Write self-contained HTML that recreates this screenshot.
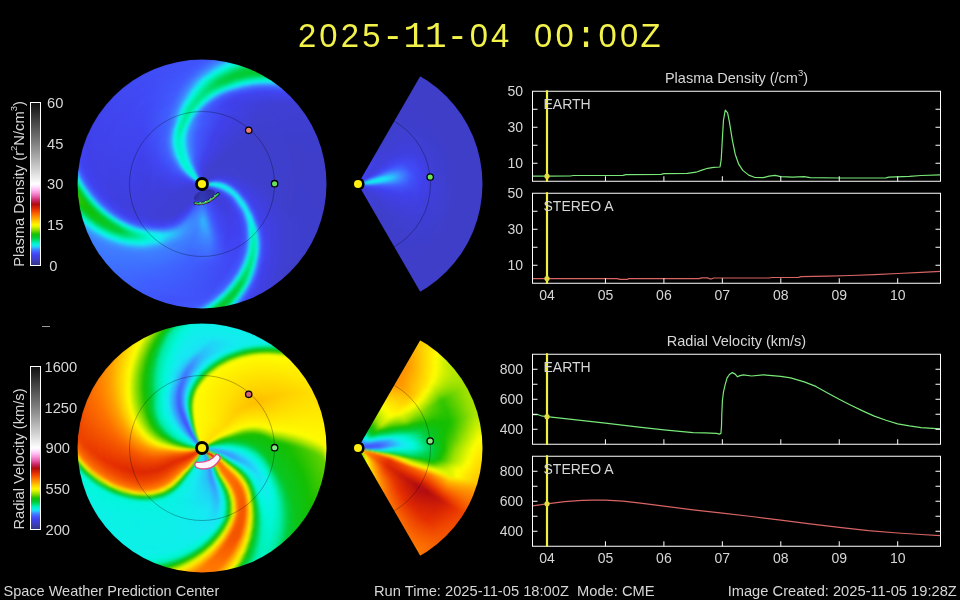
<!DOCTYPE html>
<html><head><meta charset="utf-8"><title>WSA-Enlil</title>
<style>
html,body{margin:0;padding:0;background:#000;}
body{width:960px;height:600px;position:relative;overflow:hidden;font-family:'Liberation Sans', sans-serif;color:#d6d6d6;font-size:14.7px;}
.a{position:absolute;}
.dk i{position:absolute;display:block;border-radius:50%;}
.t{position:absolute;white-space:pre;line-height:16px;}
.r{text-align:right;}
.c{text-align:center;}
sup{font-size:9.5px;line-height:0;position:relative;top:-1px;vertical-align:super;}
</style></head><body>
<div id="w" style="position:absolute;left:0;top:0;width:960px;height:600px;will-change:transform;">

<div class="a" style="left:0;top:14.4px;width:960px;height:44px;line-height:44px;color:#f2f24a;"><span class="a" style="left:287px;width:40px;top:0;text-align:center;font-family:'Liberation Sans', sans-serif;font-size:32.8px;">2</span><span class="a" style="left:308.47px;width:40px;top:0;text-align:center;font-family:'Liberation Sans', sans-serif;font-size:32.8px;">0</span><span class="a" style="left:329.94px;width:40px;top:0;text-align:center;font-family:'Liberation Sans', sans-serif;font-size:32.8px;">2</span><span class="a" style="left:351.41px;width:40px;top:0;text-align:center;font-family:'Liberation Sans', sans-serif;font-size:32.8px;">5</span><span class="a" style="left:372.88px;width:40px;top:0;text-align:center;font-family:'Liberation Mono', monospace;font-size:36px;margin-top:1.8px;">-</span><span class="a" style="left:394.35px;width:40px;top:0;text-align:center;font-family:'Liberation Mono', monospace;font-size:36px;margin-top:1.8px;">1</span><span class="a" style="left:415.82px;width:40px;top:0;text-align:center;font-family:'Liberation Mono', monospace;font-size:36px;margin-top:1.8px;">1</span><span class="a" style="left:437.29px;width:40px;top:0;text-align:center;font-family:'Liberation Mono', monospace;font-size:36px;margin-top:1.8px;">-</span><span class="a" style="left:458.76px;width:40px;top:0;text-align:center;font-family:'Liberation Sans', sans-serif;font-size:32.8px;">0</span><span class="a" style="left:480.23px;width:40px;top:0;text-align:center;font-family:'Liberation Sans', sans-serif;font-size:32.8px;">4</span><span class="a" style="left:523.17px;width:40px;top:0;text-align:center;font-family:'Liberation Sans', sans-serif;font-size:32.8px;">0</span><span class="a" style="left:544.64px;width:40px;top:0;text-align:center;font-family:'Liberation Sans', sans-serif;font-size:32.8px;">0</span><span class="a" style="left:566.11px;width:40px;top:0;text-align:center;font-family:'Liberation Mono', monospace;font-size:36px;margin-top:1.8px;">:</span><span class="a" style="left:587.58px;width:40px;top:0;text-align:center;font-family:'Liberation Sans', sans-serif;font-size:32.8px;">0</span><span class="a" style="left:609.05px;width:40px;top:0;text-align:center;font-family:'Liberation Sans', sans-serif;font-size:32.8px;">0</span><span class="a" style="left:630.52px;width:40px;top:0;text-align:center;font-family:'Liberation Sans', sans-serif;font-size:32.8px;">Z</span></div>
<div class="a" style="left:0;top:0;width:960px;height:600px;clip-path:circle(124.5px at 202px 184px);"><div class="dk a" style="left:0;top:0;width:960px;height:600px;filter:blur(0.9px);">
<i style="left:75.5px;top:57.5px;width:253px;height:253px;background:conic-gradient(from 40.12deg,#3f65ff 0deg,#4043f1 4deg,#3f3fd4 12deg,#3e3ec9 44deg,#3f3fcf 102deg,#4040e7 118deg,#4041f0 120deg,#404df8 122deg,#3f6cff 124deg,#2abffa 126deg,#00f4c8 128deg,#00d65a 130deg,#07c827 132deg,#08c724 134deg,#00d148 136deg,#00edab 138deg,#15eaf1 140deg,#3c93ff 142deg,#3f6bff 144deg,#4058fe 146deg,#4051fa 158deg,#3f64ff 180deg,#3d81ff 206deg,#3b99ff 210deg,#11eded 214deg,#00f2c2 216deg,#00dd71 218deg,#06c92b 220deg,#12c006 222deg,#32c500 224deg,#30c500 226deg,#10c10d 228deg,#00ce3e 230deg,#00eeae 232deg,#18e8f5 234deg,#3d87ff 236deg,#4059fe 238deg,#4042f1 242deg,#4040eb 252deg,#4054fb 320deg,#405bff 324deg,#3e77ff 328deg,#3d8dff 330deg,#16e9f3 334deg,#01f7db 336deg,#00cf43 342deg,#04ca30 344deg,#05c92c 346deg,#03cb34 348deg,#00d556 350deg,#00f7d7 354deg,#1cdef6 356deg,#3c90ff 358deg,#3f65ff 360deg)"></i>
<i style="left:76.5px;top:58.5px;width:251px;height:251px;background:conic-gradient(from 39.38deg,#3f65ff 0deg,#4043f1 4deg,#3f3fd4 12deg,#3e3ec9 44deg,#3f3fcf 102deg,#4040e7 118deg,#4041f0 120deg,#404df8 122deg,#3f6cff 124deg,#2abffa 126deg,#00f4c8 128deg,#00d65a 130deg,#07c827 132deg,#08c724 134deg,#00d148 136deg,#00edab 138deg,#15eaf1 140deg,#3c93ff 142deg,#3f6bff 144deg,#4058fe 146deg,#4051fa 158deg,#3f64ff 180deg,#3d81ff 206deg,#3b99ff 210deg,#11eded 214deg,#00f2c2 216deg,#00dd71 218deg,#06c92b 220deg,#12c006 222deg,#32c500 224deg,#30c500 226deg,#10c10d 228deg,#00ce3e 230deg,#00eeae 232deg,#18e8f5 234deg,#3d87ff 236deg,#4059fe 238deg,#4042f1 242deg,#4040eb 252deg,#4054fb 320deg,#405bff 324deg,#3e77ff 328deg,#3d8dff 330deg,#16e9f3 334deg,#01f7db 336deg,#00cf43 342deg,#04ca30 344deg,#05c92c 346deg,#03cb34 348deg,#00d556 350deg,#00f7d7 354deg,#1cdef6 356deg,#3c90ff 358deg,#3f65ff 360deg)"></i>
<i style="left:77.5px;top:59.5px;width:249px;height:249px;background:conic-gradient(from 38.62deg,#3f65ff 0deg,#4043f2 4deg,#3f3fd4 12deg,#3e3ec9 44deg,#3f3fcf 102deg,#4040e7 118deg,#4040f0 120deg,#404df7 122deg,#3f69ff 124deg,#2cbafb 126deg,#00f5cd 128deg,#00d75f 130deg,#07c828 132deg,#08c725 134deg,#00d14a 136deg,#00edac 138deg,#15eaf2 140deg,#3c92ff 142deg,#3f6bff 144deg,#4058fe 146deg,#4051fa 158deg,#3f66ff 182deg,#3d81ff 206deg,#3b98ff 210deg,#11ecee 214deg,#00f3c4 216deg,#05c92c 220deg,#11c008 222deg,#2dc400 224deg,#2cc400 226deg,#0fc20f 228deg,#00cf41 230deg,#00eeb1 232deg,#19e6f5 234deg,#3d86ff 236deg,#4059fe 238deg,#4042f1 242deg,#4040eb 252deg,#4054fb 320deg,#405aff 324deg,#3e76ff 328deg,#3d8cff 330deg,#2fb3fb 332deg,#17e9f4 334deg,#02f7dc 336deg,#00d045 342deg,#03ca32 344deg,#05c92d 346deg,#02cb35 348deg,#00d556 350deg,#00f7d7 354deg,#1cdef6 356deg,#3c90ff 358deg,#3f65ff 360deg)"></i>
<i style="left:78.5px;top:60.5px;width:247px;height:247px;background:conic-gradient(from 37.88deg,#3f65ff 0deg,#4043f2 4deg,#3f3fd5 12deg,#3e3ec9 40deg,#3f3fcf 102deg,#4040e7 118deg,#4040f0 120deg,#404cf7 122deg,#3f67ff 124deg,#2fb4fb 126deg,#00f6d2 128deg,#00d963 130deg,#06c82a 132deg,#07c826 134deg,#00d24b 136deg,#00edad 138deg,#15eaf2 140deg,#3c91ff 142deg,#3f6aff 144deg,#4057fd 146deg,#4052fa 160deg,#3f66ff 182deg,#3d81ff 206deg,#3b98ff 210deg,#12ecee 214deg,#00f3c5 216deg,#05ca2e 220deg,#11c10a 222deg,#29c300 224deg,#28c300 226deg,#0ec211 228deg,#00d045 230deg,#00efb3 232deg,#1ae4f6 234deg,#3d86ff 236deg,#4058fe 238deg,#4042f1 242deg,#4040ea 252deg,#4054fb 320deg,#405aff 324deg,#3d8aff 330deg,#30b0fc 332deg,#18e8f5 334deg,#03f6de 336deg,#00d148 342deg,#03cb33 344deg,#05c92e 346deg,#02cb35 348deg,#00d557 350deg,#00f7d7 354deg,#1cdef6 356deg,#3c90ff 358deg,#3f65ff 360deg)"></i>
<i style="left:79.5px;top:61.5px;width:245px;height:245px;background:conic-gradient(from 37.12deg,#3f65ff 0deg,#4043f2 4deg,#3f3fd5 12deg,#3e3ec9 40deg,#3f3fcf 102deg,#4040e6 118deg,#4040ef 120deg,#404bf6 122deg,#3f64ff 124deg,#31affc 126deg,#00f7d6 128deg,#00da68 130deg,#05c92c 132deg,#07c827 134deg,#00d24d 136deg,#00eeae 138deg,#16e9f3 140deg,#3c90ff 142deg,#3f69ff 144deg,#4057fd 146deg,#4052fa 160deg,#3f68ff 184deg,#3d81ff 206deg,#3b97ff 210deg,#12ecef 214deg,#00f4c7 216deg,#04ca30 220deg,#10c10c 222deg,#24c200 224deg,#23c200 226deg,#0ec313 228deg,#00d148 230deg,#00efb5 232deg,#1be2f6 234deg,#3d85ff 236deg,#4058fe 238deg,#4042f1 242deg,#4040eb 254deg,#4054fb 320deg,#405aff 324deg,#3e74ff 328deg,#3d89ff 330deg,#32aefc 332deg,#1ae4f5 334deg,#04f5df 336deg,#00d14b 342deg,#03cb34 344deg,#05ca2e 346deg,#02cb36 348deg,#00d558 350deg,#00f7d7 354deg,#1cdef6 356deg,#3c90ff 358deg,#3f65ff 360deg)"></i>
<i style="left:80.5px;top:62.5px;width:243px;height:243px;background:conic-gradient(from 36.38deg,#3f65ff 0deg,#4043f2 4deg,#3f3fd5 12deg,#3e3ec9 42deg,#3f3fcf 102deg,#4040e6 118deg,#404af6 122deg,#3f62ff 124deg,#33a9fd 126deg,#01f8db 128deg,#00dc6d 130deg,#05c92d 132deg,#07c828 134deg,#00d24e 136deg,#00eeb0 138deg,#16e9f3 140deg,#3c8fff 142deg,#3f68ff 144deg,#4057fd 146deg,#4052fa 160deg,#3f68ff 184deg,#3d80ff 206deg,#3c97ff 210deg,#13ecef 214deg,#00f4c9 216deg,#04ca31 220deg,#0fc20e 222deg,#20c100 224deg,#1fc100 226deg,#0dc315 228deg,#00d24b 230deg,#00f0b8 232deg,#1ce0f6 234deg,#3d84ff 236deg,#4058fe 238deg,#4042f1 242deg,#4040eb 254deg,#4054fb 320deg,#3f64ff 326deg,#3d88ff 330deg,#33abfc 332deg,#1be1f6 334deg,#06f4e0 336deg,#00e07d 340deg,#00d24e 342deg,#02cb35 344deg,#04ca2f 346deg,#02cc36 348deg,#00d658 350deg,#00f7d7 354deg,#1cdef6 356deg,#3c90ff 358deg,#3f65ff 360deg)"></i>
<i style="left:81.5px;top:63.5px;width:241px;height:241px;background:conic-gradient(from 35.62deg,#3f65ff 0deg,#4043f2 4deg,#3f3fd6 12deg,#3e3ec9 38deg,#3f3fcf 102deg,#4040e6 118deg,#404af6 122deg,#405fff 124deg,#36a4fd 126deg,#02f6dd 128deg,#00dd72 130deg,#04ca2f 132deg,#06c829 134deg,#00d34f 136deg,#00eeb1 138deg,#17e9f4 140deg,#3d8eff 142deg,#3f67ff 144deg,#4056fd 146deg,#4052fb 162deg,#3f6aff 186deg,#3d80ff 206deg,#3c96ff 210deg,#13ebef 214deg,#00f4ca 216deg,#03cb33 220deg,#0fc210 222deg,#1cc000 224deg,#1ac000 226deg,#0cc417 228deg,#00d34f 230deg,#00f0ba 232deg,#1ddef6 234deg,#3d83ff 236deg,#4058fe 238deg,#4042f1 242deg,#4040e9 250deg,#4053fb 320deg,#4059ff 324deg,#3d87ff 330deg,#34a8fd 332deg,#1cdef6 334deg,#07f4e2 336deg,#00e180 340deg,#00d350 342deg,#02cc36 344deg,#04ca30 346deg,#02cc37 348deg,#00d659 350deg,#00f7d7 354deg,#1cdef6 356deg,#3c90ff 358deg,#3f65ff 360deg)"></i>
<i style="left:82.5px;top:64.5px;width:239px;height:239px;background:conic-gradient(from 34.88deg,#3f65ff 0deg,#4043f2 4deg,#3f3fd6 12deg,#3e3ec9 42deg,#3f3fcf 102deg,#4040e5 118deg,#4049f5 122deg,#405dff 124deg,#389ffe 126deg,#04f5df 128deg,#00df76 130deg,#04ca31 132deg,#06c92a 134deg,#00d351 136deg,#00efb2 138deg,#17e8f4 140deg,#3d8dff 142deg,#3f67ff 144deg,#4056fd 146deg,#4052fb 162deg,#3f6aff 186deg,#3d80ff 206deg,#3c96ff 210deg,#14ebf0 214deg,#00f5cc 216deg,#02cb35 220deg,#0ec312 222deg,#17bf00 224deg,#16be00 226deg,#0cc419 228deg,#00d452 230deg,#00f1bc 232deg,#1ddcf7 234deg,#3d82ff 236deg,#4057fe 238deg,#4041f1 242deg,#4040e9 250deg,#4053fb 320deg,#3f63ff 326deg,#3d86ff 330deg,#35a6fd 332deg,#1edbf7 334deg,#08f3e3 336deg,#00f0b8 338deg,#00d453 342deg,#02cc37 344deg,#04ca31 346deg,#02cc37 348deg,#00d65a 350deg,#00f7d8 354deg,#1cdef6 356deg,#3c90ff 358deg,#3f65ff 360deg)"></i>
<i style="left:83.5px;top:65.5px;width:237px;height:237px;background:conic-gradient(from 34.12deg,#3f66ff 0deg,#4043f2 4deg,#3f3fd6 12deg,#3e3ec9 42deg,#3f3fcf 102deg,#4040e5 118deg,#4048f5 122deg,#405aff 124deg,#3b99ff 126deg,#06f4e1 128deg,#00e07b 130deg,#03cb33 132deg,#06c92b 134deg,#00d452 136deg,#00efb3 138deg,#18e8f5 140deg,#3d8cff 142deg,#3f66ff 144deg,#4056fd 146deg,#4051fa 160deg,#3f67ff 184deg,#3d80ff 206deg,#3c96ff 210deg,#14ebf0 214deg,#00f5cd 216deg,#02cc36 220deg,#0dc314 222deg,#14be01 224deg,#14be01 226deg,#0bc51b 228deg,#00d555 230deg,#00f2bf 232deg,#1edaf7 234deg,#3d82ff 236deg,#4057fd 238deg,#4041f1 242deg,#4040e9 252deg,#404bf6 304deg,#4059fe 324deg,#3e71ff 328deg,#36a3fd 332deg,#1fd8f7 334deg,#09f2e4 336deg,#00f1bb 338deg,#00d556 342deg,#01cc38 344deg,#03cb32 346deg,#01cc38 348deg,#00d65a 350deg,#00f7d8 354deg,#1cdef6 356deg,#3c90ff 358deg,#3f66ff 360deg)"></i>
<i style="left:84.5px;top:66.5px;width:235px;height:235px;background:conic-gradient(from 33.38deg,#3f66ff 0deg,#4044f2 4deg,#3f3fd3 14deg,#3e3ec9 54deg,#3f3fd1 104deg,#4040e5 118deg,#4048f4 122deg,#4059ff 124deg,#3c95ff 126deg,#08f2e3 128deg,#00e180 130deg,#03cb34 132deg,#05c92d 134deg,#00d454 136deg,#00efb4 138deg,#19e7f5 140deg,#3d8cff 142deg,#3f65ff 144deg,#4051fa 148deg,#405bff 176deg,#3d80ff 206deg,#3c95ff 210deg,#14eaf1 214deg,#00f5cf 216deg,#01cc38 220deg,#0dc416 222deg,#13bf03 224deg,#13bf04 226deg,#0ac51d 228deg,#00d659 230deg,#00f2c1 232deg,#1fd8f7 234deg,#3d81ff 236deg,#4057fd 238deg,#4041f1 242deg,#4040e9 252deg,#404af6 304deg,#4059fe 324deg,#3d83ff 330deg,#37a1fe 332deg,#20d5f7 334deg,#0af1e5 336deg,#00f1be 338deg,#00d659 342deg,#01cc3a 344deg,#03cb33 346deg,#01cc39 348deg,#00d65b 350deg,#00f8d8 354deg,#1cdef6 356deg,#3c90ff 358deg,#3f66ff 360deg)"></i>
<i style="left:85.5px;top:67.5px;width:233px;height:233px;background:conic-gradient(from 32.62deg,#3f66ff 0deg,#4044f2 4deg,#3f3fd4 14deg,#3e3ec9 50deg,#3f3fd1 104deg,#4040e5 118deg,#4047f4 122deg,#4058fe 124deg,#3c92ff 126deg,#0af1e6 128deg,#00e385 130deg,#02cc36 132deg,#05c92e 134deg,#00d555 136deg,#00efb5 138deg,#19e5f5 140deg,#3d8bff 142deg,#3f64ff 144deg,#4055fc 146deg,#4052fa 162deg,#3e7bff 204deg,#3d87ff 208deg,#3c95ff 210deg,#2cbafb 212deg,#15eaf1 214deg,#00f6d0 216deg,#01cc3a 220deg,#0cc418 222deg,#12bf05 224deg,#12bf06 226deg,#0ac61f 228deg,#00d75c 230deg,#00f3c3 232deg,#20d6f7 234deg,#3d80ff 236deg,#4057fd 238deg,#4041f1 242deg,#4040e9 252deg,#4053fb 320deg,#4061ff 326deg,#3d82ff 330deg,#389efe 332deg,#22d2f8 334deg,#0bf1e7 336deg,#00f2c1 338deg,#00d65b 342deg,#00cd3b 344deg,#03cb34 346deg,#01cc39 348deg,#00d75c 350deg,#00f8d8 354deg,#1ddef6 356deg,#3c90ff 358deg,#3f66ff 360deg)"></i>
<i style="left:86.5px;top:68.5px;width:231px;height:231px;background:conic-gradient(from 31.88deg,#3f66ff 0deg,#4044f2 4deg,#3f3fd4 14deg,#3e3ec9 50deg,#3f3fd1 104deg,#4040e5 118deg,#4046f4 122deg,#4057fd 124deg,#3c8fff 126deg,#0cf0e8 128deg,#00e48a 130deg,#01cc38 132deg,#04ca2f 134deg,#00d556 136deg,#00f0b6 138deg,#1ae4f6 140deg,#3d8aff 142deg,#3f64ff 144deg,#4055fc 146deg,#4051fa 160deg,#3f66ff 184deg,#3e7fff 206deg,#3c95ff 210deg,#2db9fb 212deg,#15eaf2 214deg,#00f6d2 216deg,#00cd3b 220deg,#0bc51a 222deg,#12c007 224deg,#11c008 226deg,#09c621 228deg,#00d85f 230deg,#00f3c6 232deg,#21d4f7 234deg,#3e7fff 236deg,#4056fd 238deg,#4041f0 242deg,#4040e8 250deg,#4053fb 320deg,#4061ff 326deg,#3d81ff 330deg,#399cfe 332deg,#23cff8 334deg,#0cf0e8 336deg,#00f3c4 338deg,#00d75e 342deg,#00cd3c 344deg,#02cb35 346deg,#01cc3a 348deg,#00d75d 350deg,#00f8d8 354deg,#1ddef6 356deg,#3c90ff 358deg,#3f66ff 360deg)"></i>
<i style="left:87.5px;top:69.5px;width:229px;height:229px;background:conic-gradient(from 31.12deg,#3f66ff 0deg,#4044f2 4deg,#3f3fd4 14deg,#3e3ec9 52deg,#3f3fd1 104deg,#4040eb 120deg,#4056fd 124deg,#3d8cff 126deg,#0eefea 128deg,#00e68f 130deg,#01cc3a 132deg,#04ca30 134deg,#00d558 136deg,#00f0b7 138deg,#1be2f6 140deg,#3d89ff 142deg,#3f63ff 144deg,#4051fa 148deg,#405aff 176deg,#3e7fff 206deg,#3c94ff 210deg,#2db8fb 212deg,#16eaf2 214deg,#00f6d4 216deg,#00ce3e 220deg,#0bc51c 222deg,#11c009 224deg,#11c10a 226deg,#08c723 228deg,#00d963 230deg,#00f4c8 232deg,#22d2f8 234deg,#3e7eff 236deg,#4056fd 238deg,#4041f0 242deg,#4040e8 252deg,#4048f5 296deg,#4058fe 324deg,#3f6eff 328deg,#3a9aff 332deg,#24cdf8 334deg,#0defe9 336deg,#00f3c6 338deg,#00d861 342deg,#00ce3e 344deg,#02cb36 346deg,#01cd3a 348deg,#00d75d 350deg,#00f8d8 354deg,#1ddef6 356deg,#3c90ff 358deg,#3f66ff 360deg)"></i>
<i style="left:88.5px;top:70.5px;width:227px;height:227px;background:conic-gradient(from 30.38deg,#3f66ff 0deg,#4044f2 4deg,#3f3fd5 14deg,#3e3ec9 46deg,#3f3fcf 102deg,#4040e4 118deg,#4045f3 122deg,#4055fc 124deg,#3d89ff 126deg,#10edec 128deg,#00e794 130deg,#00cd3c 132deg,#04ca31 134deg,#00d659 136deg,#00f0b9 138deg,#1be1f6 140deg,#3d88ff 142deg,#3f62ff 144deg,#4050f9 148deg,#4060ff 180deg,#3e7fff 206deg,#3c94ff 210deg,#2db8fb 212deg,#16e9f3 214deg,#00f7d5 216deg,#00cf41 220deg,#0ac61e 222deg,#10c10c 224deg,#10c10c 226deg,#08c725 228deg,#00da66 230deg,#00f4ca 232deg,#23cff8 234deg,#3e7dff 236deg,#4056fd 238deg,#4040f0 242deg,#4040e8 252deg,#4048f5 296deg,#4058fe 324deg,#3e7fff 330deg,#3b97ff 332deg,#25caf9 334deg,#0eeeea 336deg,#00f4c9 338deg,#00d964 342deg,#00ce40 344deg,#02cc37 346deg,#00cd3b 348deg,#00d75e 350deg,#00f8d9 354deg,#1ddef6 356deg,#3c90ff 358deg,#3f66ff 360deg)"></i>
<i style="left:89.5px;top:71.5px;width:225px;height:225px;background:conic-gradient(from 29.62deg,#3f66ff 0deg,#4044f3 4deg,#3f3fd5 14deg,#3e3ec9 46deg,#3f3fcf 102deg,#4040e4 118deg,#4045f3 122deg,#4054fc 124deg,#3d86ff 126deg,#12ecee 128deg,#00e998 130deg,#00ce3f 132deg,#03cb32 134deg,#00d65b 136deg,#00f0ba 138deg,#1cdff6 140deg,#3d87ff 142deg,#4061ff 144deg,#4050f9 148deg,#405fff 180deg,#3e7fff 206deg,#3c94ff 210deg,#2eb7fb 212deg,#16e9f3 214deg,#00f7d7 216deg,#00d044 220deg,#09c620 222deg,#0fc10e 224deg,#0fc20f 226deg,#07c827 228deg,#00db6a 230deg,#00f5cd 232deg,#24cdf8 234deg,#3e7dff 236deg,#4056fd 238deg,#4040f0 242deg,#4040e8 252deg,#4051fa 318deg,#405fff 326deg,#3c95ff 332deg,#27c7f9 334deg,#10eeeb 336deg,#00f5cc 338deg,#00da66 342deg,#00cf43 344deg,#02cc37 346deg,#00cd3c 348deg,#00d75f 350deg,#00f8d9 354deg,#1ddef6 356deg,#3c90ff 358deg,#3f66ff 360deg)"></i>
<i style="left:90.5px;top:72.5px;width:223px;height:223px;background:conic-gradient(from 28.88deg,#3f67ff 0deg,#4050f9 2deg,#4040eb 6deg,#3f3fd3 16deg,#3e3ec9 60deg,#3f3fd1 104deg,#4040ea 120deg,#4044f2 122deg,#4053fb 124deg,#3d83ff 126deg,#14ebf1 128deg,#00ea9d 130deg,#00cf43 132deg,#03cb33 134deg,#00d75c 136deg,#00f1bb 138deg,#1cdef6 140deg,#3d86ff 142deg,#4060ff 144deg,#4050f9 148deg,#405fff 180deg,#3e7fff 206deg,#3c93ff 210deg,#2eb6fb 212deg,#17e9f4 214deg,#00f8d8 216deg,#00d148 220deg,#09c722 222deg,#0fc210 224deg,#0ec211 226deg,#06c829 228deg,#00dc6d 230deg,#00f5cf 232deg,#25cbf8 234deg,#3e7cff 236deg,#4055fc 238deg,#4040f0 242deg,#4040e8 252deg,#4051fa 318deg,#405fff 326deg,#3e7dff 330deg,#3c94ff 332deg,#11eded 336deg,#00f5cf 338deg,#00db69 342deg,#00d045 344deg,#01cc38 346deg,#00cd3d 348deg,#00d860 350deg,#00f8d9 354deg,#1ddef6 356deg,#3c91ff 358deg,#3f67ff 360deg)"></i>
<i style="left:91.5px;top:73.5px;width:221px;height:221px;background:conic-gradient(from 28.12deg,#3f67ff 0deg,#4050f9 2deg,#4040eb 6deg,#3f3fd3 16deg,#3e3ec9 60deg,#3f3fd1 104deg,#4040ea 120deg,#4044f2 122deg,#4053fb 124deg,#3d80ff 126deg,#16e9f3 128deg,#00eba1 130deg,#00d046 132deg,#03cb34 134deg,#00d75e 136deg,#00f1bc 138deg,#1ddcf6 140deg,#3d85ff 142deg,#4060ff 144deg,#4050f9 148deg,#405cff 178deg,#3e7eff 206deg,#3c93ff 210deg,#2eb5fb 212deg,#17e8f4 214deg,#00f8da 216deg,#00d24b 220deg,#08c724 222deg,#0ec312 224deg,#0ec313 226deg,#06c92b 228deg,#00dd70 230deg,#00f6d1 232deg,#25c9f9 234deg,#3e7bff 236deg,#4055fc 238deg,#4040f0 242deg,#4040e7 250deg,#4048f5 300deg,#4058fe 324deg,#3f6bff 328deg,#3c93ff 332deg,#12ecee 336deg,#00f6d2 338deg,#00db6c 342deg,#00d048 344deg,#01cc39 346deg,#00ce3e 348deg,#00d860 350deg,#00f8d9 354deg,#1dddf6 356deg,#3c91ff 358deg,#3f67ff 360deg)"></i>
<i style="left:92.5px;top:74.5px;width:219px;height:219px;background:conic-gradient(from 27.38deg,#3f67ff 0deg,#4045f3 4deg,#3f3fd6 14deg,#3e3ec9 48deg,#3f3fd1 104deg,#4040ea 120deg,#4043f2 122deg,#4052fa 124deg,#3e7dff 126deg,#18e8f5 128deg,#00eca7 130deg,#00d24c 132deg,#02cc37 134deg,#00d861 136deg,#00f1be 138deg,#1edbf7 140deg,#3d85ff 142deg,#405fff 144deg,#4050f9 148deg,#405aff 176deg,#3e7eff 206deg,#3c93ff 210deg,#2fb4fb 212deg,#18e8f5 214deg,#01f8db 216deg,#00d34f 220deg,#07c826 222deg,#0dc315 224deg,#0dc316 226deg,#05c92e 228deg,#00de74 230deg,#00f7d4 232deg,#26c7f9 234deg,#3e7aff 236deg,#4055fc 238deg,#4040f0 242deg,#4040e6 250deg,#4047f4 294deg,#4058fe 324deg,#3f6aff 328deg,#3c91ff 332deg,#13ebef 336deg,#00f7d4 338deg,#00dc6f 342deg,#00d14a 344deg,#01cd3a 346deg,#00ce3f 348deg,#00d861 350deg,#00f8d9 354deg,#1dddf6 356deg,#3c91ff 358deg,#3f67ff 360deg)"></i>
<i style="left:93.5px;top:75.5px;width:217px;height:217px;background:conic-gradient(from 26.62deg,#3f67ff 0deg,#4045f3 4deg,#3f3fd6 14deg,#3e3ec9 48deg,#3f3fd1 104deg,#4040e9 120deg,#4043f2 122deg,#4051fa 124deg,#3e7aff 126deg,#1be1f6 128deg,#00edad 130deg,#00d452 132deg,#01cc39 134deg,#00d964 136deg,#00f2c0 138deg,#1fd9f7 140deg,#3d84ff 142deg,#405eff 144deg,#404ff9 148deg,#405eff 180deg,#3e7eff 206deg,#3c92ff 210deg,#2fb3fb 212deg,#18e7f5 214deg,#01f7dc 216deg,#00d452 220deg,#06c829 222deg,#0cc417 224deg,#0cc418 226deg,#04ca30 228deg,#00df78 230deg,#00f7d7 232deg,#27c5f9 234deg,#3e79ff 236deg,#4055fc 238deg,#4040ef 242deg,#4040e7 252deg,#4047f4 296deg,#4058fe 324deg,#3f6aff 328deg,#3c90ff 332deg,#14ebf0 336deg,#00f7d7 338deg,#00dd72 342deg,#00d24c 344deg,#00cd3b 346deg,#00ce41 348deg,#00d862 350deg,#00f8d9 354deg,#1dddf6 356deg,#3c91ff 358deg,#3f67ff 360deg)"></i>
<i style="left:94.5px;top:76.5px;width:215px;height:215px;background:conic-gradient(from 25.88deg,#3f67ff 0deg,#4045f3 4deg,#3f3fd7 14deg,#3e3ec9 46deg,#3f3fcf 102deg,#4040e9 120deg,#4042f1 122deg,#4050f9 124deg,#3e77ff 126deg,#1edbf7 128deg,#00efb2 130deg,#00d558 132deg,#00cd3b 134deg,#00da67 136deg,#00f2c2 138deg,#1fd7f7 140deg,#3d83ff 142deg,#405eff 144deg,#404ff9 148deg,#4060ff 182deg,#3e7eff 206deg,#3c92ff 210deg,#30b2fc 212deg,#19e6f5 214deg,#02f7dc 216deg,#00d556 220deg,#06c92b 222deg,#0bc41a 224deg,#0bc51b 226deg,#03cb32 228deg,#00e07c 230deg,#00f8d9 232deg,#29c2fa 234deg,#3e78ff 236deg,#4054fc 238deg,#4040ef 242deg,#4040e7 252deg,#4048f5 302deg,#4058fe 324deg,#3f69ff 328deg,#3c8fff 332deg,#15eaf1 336deg,#00f8da 338deg,#00de75 342deg,#00d34f 344deg,#00cd3c 346deg,#00cf42 348deg,#00d963 350deg,#00f8da 354deg,#1dddf6 356deg,#3c91ff 358deg,#3f67ff 360deg)"></i>
<i style="left:95.5px;top:77.5px;width:213px;height:213px;background:conic-gradient(from 25.12deg,#3f67ff 0deg,#4045f3 4deg,#3f3fd7 14deg,#3e3ec9 46deg,#3f3fcf 102deg,#4040e9 120deg,#4042f1 122deg,#404ff9 124deg,#3e75ff 126deg,#20d5f7 128deg,#00f0b8 130deg,#00d75d 132deg,#00ce3f 134deg,#00db6a 136deg,#00f3c4 138deg,#20d6f7 140deg,#3d82ff 142deg,#405dff 144deg,#404ef8 150deg,#4060ff 182deg,#3e7dff 206deg,#3c92ff 210deg,#30b1fc 212deg,#1ae4f5 214deg,#03f6dd 216deg,#00eba1 218deg,#00d65a 220deg,#05c92d 222deg,#0bc51c 224deg,#0ac51d 226deg,#02cb35 228deg,#00e17f 230deg,#01f7db 232deg,#2ac0fa 234deg,#3e77ff 236deg,#4054fc 238deg,#4040ef 242deg,#4040e7 252deg,#4047f4 298deg,#4058fe 324deg,#3f68ff 328deg,#3d8eff 332deg,#2eb6fb 334deg,#16e9f3 336deg,#01f7db 338deg,#00df77 342deg,#00d351 344deg,#00ce3e 346deg,#00cf43 348deg,#00d964 350deg,#00f8da 354deg,#1dddf6 356deg,#3c91ff 358deg,#3f67ff 360deg)"></i>
<i style="left:96.5px;top:78.5px;width:211px;height:211px;background:conic-gradient(from 24.38deg,#3f67ff 0deg,#4051fa 2deg,#4040ec 6deg,#3f3fd3 18deg,#3e3ec9 62deg,#3f3fd2 106deg,#4040e9 120deg,#4042f1 122deg,#404ff8 124deg,#3e72ff 126deg,#23cff8 128deg,#00f1bd 130deg,#00d963 132deg,#00cf43 134deg,#00dc6d 136deg,#00f3c6 138deg,#21d4f7 140deg,#3d82ff 142deg,#405dff 144deg,#404df8 150deg,#4060ff 182deg,#3e7dff 206deg,#3c91ff 210deg,#30b0fc 212deg,#1ae3f6 214deg,#04f6de 216deg,#00d75e 220deg,#04ca2f 222deg,#0ac61f 224deg,#0ac61f 226deg,#02cc37 228deg,#00e283 230deg,#02f7dc 232deg,#2bbefa 234deg,#3e76ff 236deg,#4054fb 238deg,#4040ef 242deg,#4040e6 250deg,#404af6 306deg,#405cff 326deg,#3e77ff 330deg,#3d8dff 332deg,#2fb4fb 334deg,#17e9f4 336deg,#02f6dd 338deg,#00e07a 342deg,#00d454 344deg,#00ce40 346deg,#00d045 348deg,#00d964 350deg,#00f8da 354deg,#1dddf6 356deg,#3c91ff 358deg,#3f67ff 360deg)"></i>
<i style="left:97.5px;top:79.5px;width:209px;height:209px;background:conic-gradient(from 23.62deg,#3f66ff 0deg,#4045f3 4deg,#3f3fd5 16deg,#3e3ec9 54deg,#3f3fd1 104deg,#4040e8 120deg,#4041f1 122deg,#404ef8 124deg,#3f6fff 126deg,#26c9f9 128deg,#00f3c3 130deg,#00da69 132deg,#00d148 134deg,#00dd70 136deg,#00f4c7 138deg,#22d2f8 140deg,#3d81ff 142deg,#405cff 144deg,#404df8 150deg,#3f62ff 184deg,#3e7dff 206deg,#3c91ff 210deg,#31affc 212deg,#1be1f6 214deg,#04f5df 216deg,#00eca6 218deg,#00d861 220deg,#03ca32 222deg,#09c621 224deg,#09c622 226deg,#01cc39 228deg,#03f6dd 232deg,#2cbbfa 234deg,#3e75ff 236deg,#4053fb 238deg,#4040ef 242deg,#4040e5 250deg,#4046f3 292deg,#4057fd 324deg,#3f67ff 328deg,#3d8aff 332deg,#31affc 334deg,#19e5f5 336deg,#04f5df 338deg,#00e180 342deg,#00d659 344deg,#00d045 346deg,#00d149 348deg,#00da68 350deg,#01f7db 354deg,#1edaf7 356deg,#3c8fff 358deg,#3f66ff 360deg)"></i>
<i style="left:98.5px;top:80.5px;width:207px;height:207px;background:conic-gradient(from 22.88deg,#3f64ff 0deg,#4045f3 4deg,#3f3fd8 14deg,#3e3ec9 46deg,#3f3fcf 102deg,#4040e8 120deg,#4041f0 122deg,#404df8 124deg,#3f6dff 126deg,#28c3fa 128deg,#00f4c8 130deg,#00dc6e 132deg,#00d24c 134deg,#00de74 136deg,#00f4c9 138deg,#22d1f8 140deg,#3d80ff 142deg,#405bff 144deg,#404df7 150deg,#3f62ff 184deg,#3e7dff 206deg,#3c91ff 210deg,#31aefc 212deg,#1ce0f6 214deg,#05f5e0 216deg,#00eca8 218deg,#00d965 220deg,#03cb34 222deg,#08c724 224deg,#08c724 226deg,#00cd3b 228deg,#04f5df 232deg,#2db9fb 234deg,#3e74ff 236deg,#4053fb 238deg,#4040ee 242deg,#4040e6 252deg,#4047f4 298deg,#405bff 326deg,#3d88ff 332deg,#33aafd 334deg,#1cdff6 336deg,#07f4e1 338deg,#00e386 342deg,#00d75e 344deg,#00d149 346deg,#00d24d 348deg,#00db6c 350deg,#02f6dd 354deg,#20d6f7 356deg,#3d8dff 358deg,#3f64ff 360deg)"></i>
<i style="left:99.5px;top:81.5px;width:205px;height:205px;background:conic-gradient(from 22.12deg,#3f63ff 0deg,#4045f3 4deg,#3f3fd8 14deg,#3e3ec9 48deg,#3f3fd1 104deg,#4040e8 120deg,#4040f0 122deg,#404df7 124deg,#3f6aff 126deg,#2bbdfa 128deg,#00f5ce 130deg,#00de74 132deg,#00d351 134deg,#00df77 136deg,#00f5cb 138deg,#23cff8 140deg,#3e7fff 142deg,#405bff 144deg,#404df7 150deg,#3f62ff 184deg,#3e7dff 206deg,#3c90ff 210deg,#32aefc 212deg,#1cdef6 214deg,#06f4e1 216deg,#00edab 218deg,#00da69 220deg,#02cc36 222deg,#07c726 224deg,#07c827 226deg,#00ce3f 228deg,#05f5e0 232deg,#2eb7fb 234deg,#3e73ff 236deg,#4053fb 238deg,#4040ee 242deg,#4040e6 252deg,#404ff9 316deg,#405aff 326deg,#3e72ff 330deg,#3d86ff 332deg,#35a5fd 334deg,#1edaf7 336deg,#09f2e4 338deg,#00f1bc 340deg,#00d963 344deg,#00d24e 346deg,#00d351 348deg,#00dc6f 350deg,#04f6de 354deg,#21d3f8 356deg,#3d8bff 358deg,#3f63ff 360deg)"></i>
<i style="left:100.5px;top:82.5px;width:203px;height:203px;background:conic-gradient(from 21.38deg,#4061ff 0deg,#4045f3 4deg,#3f3fd6 16deg,#3e3ec9 52deg,#3f3fd1 104deg,#4040e8 120deg,#4040f0 122deg,#404cf7 124deg,#3f67ff 126deg,#2db7fb 128deg,#00f6d3 130deg,#00e07a 132deg,#00d555 134deg,#00e07a 136deg,#00f5cd 138deg,#24cdf8 140deg,#3e7fff 142deg,#405aff 144deg,#404cf7 152deg,#3f64ff 186deg,#3e7cff 206deg,#3c90ff 210deg,#32adfc 212deg,#1dddf6 214deg,#07f4e1 216deg,#00eeae 218deg,#00dc6c 220deg,#01cc38 222deg,#07c828 224deg,#06c829 226deg,#00cf44 228deg,#00e792 230deg,#06f4e1 232deg,#2fb4fb 234deg,#3e72ff 236deg,#4053fb 238deg,#4040ee 242deg,#4040e5 252deg,#4045f3 294deg,#405aff 326deg,#3d83ff 332deg,#38a0fe 334deg,#21d4f7 336deg,#0bf1e6 338deg,#00f2c1 340deg,#00da68 344deg,#00d453 346deg,#00d455 348deg,#00dd73 350deg,#05f5e0 354deg,#23cff8 356deg,#3d8aff 358deg,#4061ff 360deg)"></i>
<i style="left:101.5px;top:83.5px;width:201px;height:201px;background:conic-gradient(from 20.62deg,#4060ff 0deg,#4044f3 4deg,#3f3fd7 16deg,#3e3ec9 48deg,#3f3fd1 104deg,#4040e7 120deg,#4040f0 122deg,#404bf6 124deg,#3f65ff 126deg,#30b1fc 128deg,#00f8d9 130deg,#00e180 132deg,#00d65a 134deg,#00e17d 136deg,#00f6cf 138deg,#25cbf8 140deg,#3e7eff 142deg,#405aff 144deg,#404cf7 150deg,#3f64ff 186deg,#3e7cff 206deg,#3c8fff 210deg,#33acfc 212deg,#1edbf7 214deg,#07f3e2 216deg,#00eeb0 218deg,#00dd70 220deg,#00cd3b 222deg,#06c92b 224deg,#05c92c 226deg,#00d148 228deg,#00e896 230deg,#07f3e2 232deg,#30b2fc 234deg,#3e71ff 236deg,#4052fb 238deg,#4040ee 242deg,#4040e5 250deg,#404ef8 314deg,#405aff 326deg,#3d81ff 332deg,#3a9bfe 334deg,#23cef8 336deg,#0defe9 338deg,#00f3c7 340deg,#00dc6e 344deg,#00d557 346deg,#00d659 348deg,#00df77 350deg,#06f4e1 354deg,#24ccf8 356deg,#3d88ff 358deg,#4060ff 360deg)"></i>
<i style="left:102.5px;top:84.5px;width:199px;height:199px;background:conic-gradient(from 19.88deg,#405fff 0deg,#4044f2 4deg,#3f3fd7 16deg,#3e3ec9 52deg,#3f3fd1 104deg,#4040e7 120deg,#4040ef 122deg,#404bf6 124deg,#3f62ff 126deg,#33abfc 128deg,#02f7dc 130deg,#00e386 132deg,#00d85f 134deg,#00e281 136deg,#00f6d2 138deg,#26c9f9 140deg,#3e7dff 142deg,#4059ff 144deg,#404cf7 150deg,#4061ff 184deg,#3e7cff 206deg,#3c8fff 210deg,#33abfc 212deg,#1edaf7 214deg,#08f3e3 216deg,#00efb3 218deg,#00ce3e 222deg,#05c92d 224deg,#05ca2e 226deg,#00d24d 228deg,#00e99a 230deg,#08f2e3 232deg,#31affc 234deg,#3f70ff 236deg,#4052fa 238deg,#4040ed 242deg,#4040e5 252deg,#4048f5 304deg,#4059ff 326deg,#3e7fff 332deg,#3c97ff 334deg,#26c9f9 336deg,#0feeeb 338deg,#00f5cc 340deg,#00dd73 344deg,#00d75c 346deg,#00d75d 348deg,#00e07a 350deg,#07f3e2 354deg,#26c8f9 356deg,#3d86ff 358deg,#405fff 360deg)"></i>
<i style="left:103.5px;top:85.5px;width:197px;height:197px;background:conic-gradient(from 19.12deg,#405dff 0deg,#4044f2 4deg,#3f3fd7 16deg,#3e3ec9 52deg,#3f3fd1 104deg,#4040e7 120deg,#404af6 124deg,#4060ff 126deg,#35a5fd 128deg,#04f5df 130deg,#00e58c 132deg,#00d964 134deg,#00e385 136deg,#00f7d4 138deg,#27c7f9 140deg,#3e7cff 142deg,#4059fe 144deg,#404bf7 152deg,#3f63ff 186deg,#3e7cff 206deg,#3c8fff 210deg,#33aafd 212deg,#1fd8f7 214deg,#09f2e4 216deg,#00efb5 218deg,#00cf42 222deg,#04ca30 224deg,#04ca31 226deg,#00d352 228deg,#00ea9d 230deg,#0af2e5 232deg,#32adfc 234deg,#3f6fff 236deg,#4052fa 238deg,#4040ed 242deg,#4040e4 252deg,#4047f4 302deg,#4059fe 326deg,#3e7dff 332deg,#3c94ff 334deg,#11eded 338deg,#00f6d1 340deg,#00df78 344deg,#00d861 346deg,#00d861 348deg,#00e17e 350deg,#09f2e4 354deg,#28c5f9 356deg,#3d84ff 358deg,#405dff 360deg)"></i>
<i style="left:104.5px;top:86.5px;width:195px;height:195px;background:conic-gradient(from 18.38deg,#405cff 0deg,#4044f2 4deg,#3f3fd6 18deg,#3e3ec9 54deg,#3f3fd1 104deg,#4040e7 120deg,#4049f5 124deg,#405dff 126deg,#389ffe 128deg,#07f4e1 130deg,#00e792 132deg,#00db69 134deg,#00e489 136deg,#00f7d7 138deg,#28c4f9 140deg,#3e7aff 142deg,#4059fe 144deg,#404bf7 150deg,#3f63ff 186deg,#3e7cff 206deg,#3d8eff 210deg,#34a9fd 212deg,#1fd7f7 214deg,#0af2e5 216deg,#00f0b8 218deg,#00d047 222deg,#03cb33 224deg,#03cb34 226deg,#00d556 228deg,#00eba1 230deg,#0bf1e6 232deg,#33aafd 234deg,#3f6eff 236deg,#4051fa 238deg,#4040ed 242deg,#3f3fe3 250deg,#4047f4 302deg,#4059fe 326deg,#3f6bff 330deg,#3c91ff 334deg,#13ebf0 338deg,#00f7d7 340deg,#00e17e 344deg,#00d965 346deg,#00d965 348deg,#00e282 350deg,#00efb4 352deg,#0af1e5 354deg,#29c1fa 356deg,#3d82ff 358deg,#405cff 360deg)"></i>
<i style="left:105.5px;top:87.5px;width:193px;height:193px;background:conic-gradient(from 17.62deg,#405aff 0deg,#4040ec 6deg,#3f3fd1 24deg,#3e3ec9 82deg,#3f3fd9 112deg,#4040ee 122deg,#405bff 126deg,#3a99ff 128deg,#09f2e4 130deg,#00e898 132deg,#00dc6e 134deg,#00e58c 136deg,#00f8d9 138deg,#29c2fa 140deg,#3e79ff 142deg,#4058fe 144deg,#404bf6 150deg,#3f63ff 186deg,#3e7cff 206deg,#3d8eff 210deg,#34a8fd 212deg,#20d6f7 214deg,#0af1e6 216deg,#00f1bb 218deg,#00d24b 222deg,#02cb35 224deg,#02cc36 226deg,#00d65b 228deg,#00eba5 230deg,#0cf0e7 232deg,#34a8fd 234deg,#3f6dff 236deg,#4051fa 238deg,#4040ec 242deg,#4040e4 252deg,#404af6 310deg,#405fff 328deg,#3e79ff 332deg,#3d8eff 334deg,#15eaf2 338deg,#01f7db 340deg,#00e283 344deg,#00db6a 346deg,#00db69 348deg,#00e385 350deg,#00f0b7 352deg,#0bf1e7 354deg,#2bbefa 356deg,#3d81ff 358deg,#405aff 360deg)"></i>
<i style="left:106.5px;top:88.5px;width:191px;height:191px;background:conic-gradient(from 16.88deg,#405aff 0deg,#4043f2 4deg,#3f3fd6 18deg,#3e3ec9 56deg,#3f3fd1 104deg,#4040ed 122deg,#4059ff 126deg,#3c95ff 128deg,#0bf1e6 130deg,#00ea9d 132deg,#00de73 134deg,#00e690 136deg,#01f7db 138deg,#2ac0fa 140deg,#3e78ff 142deg,#4058fe 144deg,#404af6 152deg,#3f65ff 188deg,#3e7cff 206deg,#3d8eff 210deg,#34a7fd 212deg,#21d4f7 214deg,#0bf1e6 216deg,#00f1bd 218deg,#00d350 222deg,#01cc38 224deg,#01cc39 226deg,#00d860 228deg,#00eca8 230deg,#0defe9 232deg,#35a5fd 234deg,#3f6cff 236deg,#4050f9 238deg,#4040ec 242deg,#3f3fe3 252deg,#404bf7 312deg,#405eff 328deg,#3e77ff 332deg,#3d8cff 334deg,#2fb3fc 336deg,#17e8f4 338deg,#03f6dd 340deg,#00e488 344deg,#00dc6f 346deg,#00dc6d 348deg,#00e489 350deg,#00f1ba 352deg,#0cf0e8 354deg,#2cbafb 356deg,#3e7fff 358deg,#405aff 360deg)"></i>
<i style="left:107.5px;top:89.5px;width:189px;height:189px;background:conic-gradient(from 16.12deg,#4059fe 0deg,#4043f2 4deg,#3f3fd7 18deg,#3e3ec9 54deg,#3f3fd1 104deg,#4040e6 120deg,#4047f4 124deg,#4058fe 126deg,#3c92ff 128deg,#0defe8 130deg,#00eba1 132deg,#00df76 134deg,#00e792 136deg,#01f7db 138deg,#2abefa 140deg,#3e77ff 142deg,#4057fd 144deg,#404af6 152deg,#3f65ff 188deg,#3e7bff 206deg,#3d8dff 210deg,#35a6fd 212deg,#22d2f8 214deg,#0cf0e8 216deg,#00f2c1 218deg,#00d557 222deg,#00cd3c 224deg,#00cd3e 226deg,#00da67 228deg,#00eeae 230deg,#0feeeb 232deg,#37a1fe 234deg,#3f6aff 236deg,#4050f9 238deg,#4040ec 242deg,#3f3fe2 250deg,#404af6 310deg,#405dff 328deg,#3d8aff 334deg,#32adfc 336deg,#1ae4f6 338deg,#05f4e0 340deg,#00e68e 344deg,#00de74 346deg,#00dd71 348deg,#00e58d 350deg,#00f1bd 352deg,#0eefe9 354deg,#2eb7fb 356deg,#3e7dff 358deg,#4059fe 360deg)"></i>
<i style="left:108.5px;top:90.5px;width:187px;height:187px;background:conic-gradient(from 15.38deg,#4058fe 0deg,#4040ec 6deg,#3f3fd0 26deg,#3e3eca 90deg,#3f3fde 116deg,#4047f4 124deg,#4058fe 126deg,#3c8fff 128deg,#0feeea 130deg,#00eca5 132deg,#00df7a 134deg,#00e794 136deg,#02f7dc 138deg,#2bbdfa 140deg,#3e77ff 142deg,#4057fd 144deg,#4049f5 152deg,#3f65ff 188deg,#3e7bff 206deg,#3d8dff 210deg,#36a4fd 212deg,#23cff8 214deg,#0eefe9 216deg,#00f3c6 218deg,#00d75f 222deg,#00cf43 224deg,#00d046 226deg,#00dc6f 228deg,#00efb4 230deg,#11eded 232deg,#399dfe 234deg,#3f68ff 236deg,#404ff9 238deg,#4040eb 242deg,#3f3fe2 252deg,#4048f5 308deg,#405cff 328deg,#3d87ff 334deg,#34a8fd 336deg,#1cdef6 338deg,#07f3e2 340deg,#00e793 344deg,#00df78 346deg,#00de76 348deg,#00e690 350deg,#00f2c1 352deg,#0feeeb 354deg,#2fb3fb 356deg,#3e7bff 358deg,#4058fe 360deg)"></i>
<i style="left:109.5px;top:91.5px;width:185px;height:185px;background:conic-gradient(from 14.62deg,#4058fe 0deg,#4040ec 6deg,#3f3fd2 24deg,#3e3ec9 78deg,#3f3fd6 110deg,#4040ec 122deg,#4046f4 124deg,#4057fd 126deg,#3d8cff 128deg,#10edec 130deg,#00eca9 132deg,#00e07d 134deg,#00e896 136deg,#02f6dd 138deg,#2bbcfa 140deg,#3e76ff 142deg,#4057fd 144deg,#4049f5 152deg,#3f65ff 188deg,#3d81ff 208deg,#3d8cff 210deg,#36a3fd 212deg,#0feeeb 216deg,#00f4ca 218deg,#00da66 222deg,#00d24c 224deg,#00d24e 226deg,#00de76 228deg,#00f0ba 230deg,#13ecef 232deg,#3b99ff 234deg,#3f67ff 236deg,#404ff9 238deg,#4040eb 242deg,#3f3fe2 252deg,#4048f5 308deg,#405cff 328deg,#3e72ff 332deg,#3d85ff 334deg,#36a3fd 336deg,#1fd8f7 338deg,#0af2e5 340deg,#00e998 344deg,#00e17d 346deg,#00e07a 348deg,#00e794 350deg,#00f3c4 352deg,#10edec 354deg,#31b0fc 356deg,#3e7aff 358deg,#4058fe 360deg)"></i>
<i style="left:110.5px;top:92.5px;width:183px;height:183px;background:conic-gradient(from 13.88deg,#4057fe 0deg,#4040ec 6deg,#3f3fcf 28deg,#3f3fcc 96deg,#4040e5 120deg,#4046f3 124deg,#4056fd 126deg,#3d8aff 128deg,#12ecee 130deg,#00edad 132deg,#00e180 134deg,#00e898 136deg,#03f6dd 138deg,#2cbafb 140deg,#3e75ff 142deg,#4056fd 144deg,#4049f5 152deg,#3f64ff 188deg,#3d81ff 208deg,#37a1fe 212deg,#10edec 216deg,#00f5ce 218deg,#00dc6e 222deg,#00d454 224deg,#00d556 226deg,#00e17e 228deg,#00f2bf 230deg,#14eaf1 232deg,#3c95ff 234deg,#3f65ff 236deg,#404ef8 238deg,#4040ea 242deg,#3f3fe2 252deg,#4048f5 308deg,#405bff 328deg,#3d83ff 334deg,#389efe 336deg,#22d2f8 338deg,#0cf0e7 340deg,#00f3c6 342deg,#00ea9d 344deg,#00e282 346deg,#00e17e 348deg,#00e898 350deg,#00f4c7 352deg,#11eced 354deg,#32acfc 356deg,#3e78ff 358deg,#4057fe 360deg)"></i>
<i style="left:111.5px;top:93.5px;width:181px;height:181px;background:conic-gradient(from 13.12deg,#4057fd 0deg,#4040ec 6deg,#3f3fd0 28deg,#3e3eca 90deg,#3f3fde 116deg,#4045f3 124deg,#4055fc 126deg,#3d87ff 128deg,#14ebf0 130deg,#00eeb1 132deg,#00e283 134deg,#00e99a 136deg,#03f6de 138deg,#2db9fb 140deg,#3e74ff 142deg,#4056fd 144deg,#4048f5 152deg,#3f64ff 188deg,#3d81ff 208deg,#3d8bff 210deg,#38a0fe 212deg,#11eced 216deg,#00f6d3 218deg,#00de75 222deg,#00d75c 224deg,#00d75e 226deg,#00e385 228deg,#00f3c5 230deg,#16e9f3 232deg,#3c93ff 234deg,#3f63ff 236deg,#4042f1 240deg,#3f3fe1 248deg,#4047f4 306deg,#405bff 328deg,#3d81ff 334deg,#3a9aff 336deg,#24ccf8 338deg,#0eefea 340deg,#00f5cc 342deg,#00eba2 344deg,#00e387 346deg,#00e282 348deg,#00e99b 350deg,#00f4ca 352deg,#13ecef 354deg,#34a9fd 356deg,#3e76ff 358deg,#4057fd 360deg)"></i>
<i style="left:112.5px;top:94.5px;width:179px;height:179px;background:conic-gradient(from 12.38deg,#4057fd 0deg,#4040ed 6deg,#3f3fcf 30deg,#3f3fcc 96deg,#4040e5 120deg,#4045f3 124deg,#4054fc 126deg,#3d84ff 128deg,#16eaf2 130deg,#00efb5 132deg,#00e386 134deg,#00e99c 136deg,#04f5de 138deg,#2db8fb 140deg,#3e73ff 142deg,#4056fc 144deg,#4048f5 150deg,#4061ff 186deg,#3d81ff 208deg,#389efe 212deg,#13ecef 216deg,#00f7d7 218deg,#00e07c 222deg,#00d964 224deg,#00da66 226deg,#00e58d 228deg,#00f4cb 230deg,#18e8f5 232deg,#3c90ff 234deg,#4061ff 236deg,#4042f1 240deg,#3f3fe1 248deg,#4046f4 306deg,#405aff 328deg,#3e7fff 334deg,#3c96ff 336deg,#26c8f9 338deg,#0feeeb 340deg,#00f5cf 342deg,#00eba4 344deg,#00e488 346deg,#00e283 348deg,#00e99b 350deg,#00f4ca 352deg,#13ecef 354deg,#34a9fd 356deg,#3e76ff 358deg,#4057fd 360deg)"></i>
<i style="left:113.5px;top:95.5px;width:177px;height:177px;background:conic-gradient(from 11.62deg,#4057fe 0deg,#4040ee 6deg,#3f3fcf 30deg,#3f3fcc 96deg,#4040e5 120deg,#4044f2 124deg,#4053fb 126deg,#3d82ff 128deg,#17e8f4 130deg,#00f0b9 132deg,#00e489 134deg,#00ea9d 136deg,#04f5df 138deg,#2eb7fb 140deg,#3e73ff 142deg,#4055fc 144deg,#4048f4 152deg,#3f64ff 188deg,#3d80ff 208deg,#399dfe 212deg,#14ebf0 216deg,#01f8db 218deg,#00e384 222deg,#00db6c 224deg,#00dc6e 226deg,#00e895 228deg,#00f6d1 230deg,#1be2f6 232deg,#3d8eff 234deg,#4060ff 236deg,#4042f1 240deg,#3f3fe0 248deg,#4047f4 308deg,#405aff 328deg,#3e7dff 334deg,#3c94ff 336deg,#11eded 340deg,#00f6d2 342deg,#00eca7 344deg,#00e48a 346deg,#00e384 348deg,#00e99c 350deg,#00f4cb 352deg,#13ecef 354deg,#34a9fd 356deg,#3e77ff 358deg,#4057fe 360deg)"></i>
<i style="left:114.5px;top:96.5px;width:175px;height:175px;background:conic-gradient(from 10.88deg,#4058fe 0deg,#4040ef 6deg,#3f3fd1 28deg,#3e3eca 88deg,#3f3fde 116deg,#4044f2 124deg,#4053fb 126deg,#3e7fff 128deg,#19e5f5 130deg,#00f1bd 132deg,#00e58c 134deg,#00ea9f 136deg,#05f5df 138deg,#2eb5fb 140deg,#3e72ff 142deg,#4055fc 144deg,#4047f4 152deg,#3f63ff 188deg,#3d80ff 208deg,#3a9bfe 212deg,#15eaf2 216deg,#02f6dd 218deg,#00e58b 222deg,#00de74 224deg,#00df77 226deg,#00e99c 228deg,#00f7d7 230deg,#1ddcf6 232deg,#3d8bff 234deg,#405eff 236deg,#4041f1 240deg,#3f3fe0 248deg,#4046f3 306deg,#405aff 328deg,#3e7cff 334deg,#3c92ff 336deg,#12ecee 340deg,#00f7d5 342deg,#00eca9 344deg,#00e58c 346deg,#00e385 348deg,#00e99c 350deg,#00f4cb 352deg,#13ebef 354deg,#34a9fd 356deg,#3e77ff 358deg,#4058fe 360deg)"></i>
<i style="left:115.5px;top:97.5px;width:173px;height:173px;background:conic-gradient(from 10.12deg,#4058fe 0deg,#4040f0 6deg,#3f3fd0 30deg,#3e3eca 90deg,#3f3fde 116deg,#4043f2 124deg,#4052fa 126deg,#3e7cff 128deg,#1ce0f6 130deg,#00f2c0 132deg,#00e690 134deg,#00eba1 136deg,#05f5e0 138deg,#2fb4fb 140deg,#3e71ff 142deg,#4055fc 144deg,#4047f4 150deg,#3f63ff 188deg,#3d80ff 208deg,#3a9aff 212deg,#16e9f3 216deg,#04f5df 218deg,#00e793 222deg,#00e07c 224deg,#00e17f 226deg,#00eba2 228deg,#01f7db 230deg,#20d7f7 232deg,#3d89ff 234deg,#405cff 236deg,#4041f1 240deg,#3f3fdf 248deg,#4046f3 306deg,#405aff 328deg,#3e7aff 334deg,#3c90ff 336deg,#14ebf0 340deg,#00f8d8 342deg,#00edab 344deg,#00e58d 346deg,#00e386 348deg,#00ea9c 350deg,#00f4cb 352deg,#13ebef 354deg,#34a9fd 356deg,#3e77ff 358deg,#4058fe 360deg)"></i>
<i style="left:116.5px;top:98.5px;width:171px;height:171px;background:conic-gradient(from 9.38deg,#4058fe 0deg,#4041f1 6deg,#3f3fcf 32deg,#3f3fcc 96deg,#4040e5 120deg,#4043f2 124deg,#4051fa 126deg,#3e7aff 128deg,#1edbf7 130deg,#00f3c4 132deg,#00e793 134deg,#00eba3 136deg,#06f4e0 138deg,#2fb3fb 140deg,#3f70ff 142deg,#4054fc 144deg,#4047f4 152deg,#3f63ff 188deg,#3e7fff 208deg,#3b98ff 212deg,#18e8f4 216deg,#06f4e1 218deg,#00e99a 222deg,#00e384 224deg,#00e387 226deg,#00eca9 228deg,#03f6de 230deg,#22d1f8 232deg,#3d86ff 234deg,#405aff 236deg,#4041f0 240deg,#3f3fdf 248deg,#4045f3 306deg,#4060ff 330deg,#3e79ff 334deg,#3d8eff 336deg,#15eaf2 340deg,#00f8db 342deg,#00eeae 344deg,#00e68f 346deg,#00e386 348deg,#00ea9d 350deg,#00f5cb 352deg,#13ebef 354deg,#34a9fd 356deg,#3e78ff 358deg,#4058fe 360deg)"></i>
<i style="left:117.5px;top:99.5px;width:169px;height:169px;background:conic-gradient(from 8.62deg,#4059fe 0deg,#4042f1 6deg,#3f3fd0 32deg,#3f3fcb 92deg,#3f3fe1 118deg,#4043f1 124deg,#4050f9 126deg,#3e77ff 128deg,#20d6f7 130deg,#00f4c8 132deg,#00e896 134deg,#00eba5 136deg,#06f4e1 138deg,#30b2fc 140deg,#3f70ff 142deg,#4054fc 144deg,#4046f4 152deg,#3f63ff 188deg,#3e7fff 208deg,#3c96ff 212deg,#19e6f5 216deg,#08f3e3 218deg,#00eaa0 222deg,#00e58c 224deg,#00e68f 226deg,#00eeb0 228deg,#06f4e0 230deg,#24ccf8 232deg,#3d84ff 234deg,#4059ff 236deg,#4040f0 240deg,#3f3fe0 246deg,#4046f4 308deg,#4060ff 330deg,#3e77ff 334deg,#3d8cff 336deg,#2fb3fb 338deg,#16e9f3 340deg,#02f7dc 342deg,#00eeb0 344deg,#00e691 346deg,#00e487 348deg,#00ea9d 350deg,#00f5cb 352deg,#13ebef 354deg,#34a9fd 356deg,#3e78ff 358deg,#4059fe 360deg)"></i>
<i style="left:118.5px;top:100.5px;width:167px;height:167px;background:conic-gradient(from 7.88deg,#4059fe 0deg,#4040ef 8deg,#3f3fcf 34deg,#3f3fcc 96deg,#4040e4 120deg,#4042f1 124deg,#4050f9 126deg,#3e75ff 128deg,#22d1f8 130deg,#00f5cc 132deg,#00e999 134deg,#00eca6 136deg,#07f4e1 138deg,#30b1fc 140deg,#3f6fff 142deg,#4054fb 144deg,#4046f4 150deg,#3f62ff 188deg,#3e7fff 208deg,#3c95ff 212deg,#2eb6fb 214deg,#1be2f6 216deg,#09f2e5 218deg,#00eca7 222deg,#00e894 224deg,#00e897 226deg,#00f0b7 228deg,#08f3e3 230deg,#27c6f9 232deg,#3d82ff 234deg,#4059fe 236deg,#4040f0 240deg,#3f3fde 248deg,#4046f4 308deg,#405fff 330deg,#3e76ff 334deg,#3d8aff 336deg,#31affc 338deg,#18e8f5 340deg,#03f6de 342deg,#00e792 346deg,#00e488 348deg,#00ea9e 350deg,#00f5cc 352deg,#13ebef 354deg,#34a9fd 356deg,#3e78ff 358deg,#4059fe 360deg)"></i>
<i style="left:119.5px;top:101.5px;width:165px;height:165px;background:conic-gradient(from 7.12deg,#405aff 0deg,#4040f0 8deg,#3f3fce 36deg,#3f3fce 100deg,#4040e9 122deg,#404ef8 126deg,#3e71ff 128deg,#26c9f9 130deg,#00f6d2 132deg,#00e99c 134deg,#00eca7 136deg,#06f4e1 138deg,#30b2fc 140deg,#3f6fff 142deg,#4054fb 144deg,#4046f4 150deg,#4053fb 166deg,#3f65ff 190deg,#3e7fff 208deg,#3c94ff 212deg,#1cdef6 216deg,#0bf1e6 218deg,#00f5ce 220deg,#00eeae 222deg,#00e99c 224deg,#00ea9e 226deg,#0af1e6 230deg,#29c0fa 232deg,#3e7fff 234deg,#4058fe 236deg,#4040ef 240deg,#3f3fde 248deg,#4046f3 308deg,#405fff 330deg,#3e75ff 334deg,#3d88ff 336deg,#33abfc 338deg,#1ae4f6 340deg,#05f5df 342deg,#00e794 346deg,#00e489 348deg,#00ea9e 350deg,#00f5cc 352deg,#13ebf0 354deg,#34a9fd 356deg,#3e79ff 358deg,#405aff 360deg)"></i>
<i style="left:120.5px;top:102.5px;width:163px;height:163px;background:conic-gradient(from 6.38deg,#405aff 0deg,#4041f1 8deg,#3f3fce 36deg,#3f3fce 100deg,#4040e9 122deg,#4041f1 124deg,#404df8 126deg,#3f6dff 128deg,#29c1fa 130deg,#00f7d8 132deg,#00eaa0 134deg,#00eca8 136deg,#06f4e1 138deg,#2fb3fb 140deg,#3f70ff 142deg,#4054fb 144deg,#4046f3 150deg,#4053fb 166deg,#3f65ff 190deg,#3e7eff 208deg,#3c94ff 212deg,#30b1fc 214deg,#1edaf7 216deg,#0defe8 218deg,#00f6d3 220deg,#00efb4 222deg,#00eba3 224deg,#00eca6 226deg,#00f3c4 228deg,#0df0e8 230deg,#2cbbfb 232deg,#3e7dff 234deg,#4057fd 236deg,#4040ef 240deg,#3f3fdf 246deg,#4046f3 308deg,#405eff 330deg,#3d86ff 336deg,#35a7fd 338deg,#1cdff6 340deg,#06f4e1 342deg,#00e896 346deg,#00e48a 348deg,#00ea9e 350deg,#00f5cc 352deg,#13ebf0 354deg,#34a9fd 356deg,#3e79ff 358deg,#405aff 360deg)"></i>
<i style="left:121.5px;top:103.5px;width:161px;height:161px;background:conic-gradient(from 5.62deg,#405bff 0deg,#4042f1 8deg,#3f3fcf 36deg,#3f3fcc 96deg,#4040e4 120deg,#4040f0 124deg,#404cf7 126deg,#3f6aff 128deg,#2cbafb 130deg,#01f7dc 132deg,#00eba3 134deg,#00eca9 136deg,#06f4e0 138deg,#2eb5fb 140deg,#3f70ff 142deg,#4054fb 144deg,#4046f3 150deg,#4050f9 164deg,#405aff 180deg,#3e7eff 208deg,#3c93ff 212deg,#31affc 214deg,#20d7f7 216deg,#0feeea 218deg,#00f8d9 220deg,#00f1bb 222deg,#00edaa 224deg,#00edad 226deg,#00f4cb 228deg,#0feeeb 230deg,#2eb5fb 232deg,#3e7aff 234deg,#4056fd 236deg,#4040ee 240deg,#3f3fdd 248deg,#4046f3 308deg,#405eff 330deg,#3e72ff 334deg,#3d84ff 336deg,#36a3fd 338deg,#1edbf7 340deg,#07f3e2 342deg,#00e898 346deg,#00e58b 348deg,#00ea9f 350deg,#00f5cc 352deg,#13ebf0 354deg,#34a9fd 356deg,#3e7aff 358deg,#405bff 360deg)"></i>
<i style="left:122.5px;top:104.5px;width:159px;height:159px;background:conic-gradient(from 4.88deg,#405cff 0deg,#4043f2 8deg,#3f3fce 38deg,#3f3fce 100deg,#4040e8 122deg,#4040f0 124deg,#404bf7 126deg,#3f66ff 128deg,#30b2fc 130deg,#04f6de 132deg,#00eca7 134deg,#00edaa 136deg,#05f5e0 138deg,#2eb6fb 140deg,#3e71ff 142deg,#4054fb 144deg,#4045f3 150deg,#4050f9 164deg,#405aff 178deg,#3e79ff 206deg,#3c92ff 212deg,#32adfc 214deg,#21d4f7 216deg,#10edec 218deg,#02f7dc 220deg,#00f2c1 222deg,#00eeb2 224deg,#00efb4 226deg,#00f6d2 228deg,#11eced 230deg,#30b0fc 232deg,#3e78ff 234deg,#4056fd 236deg,#4040ee 240deg,#3f3fdd 248deg,#4045f3 308deg,#405eff 330deg,#3d82ff 336deg,#389ffe 338deg,#20d6f7 340deg,#09f2e4 342deg,#00e999 346deg,#00e58c 348deg,#00ea9f 350deg,#00f5cd 352deg,#13ebf0 354deg,#33a9fd 356deg,#3e7aff 358deg,#405cff 360deg)"></i>
<i style="left:123.5px;top:105.5px;width:157px;height:157px;background:conic-gradient(from 4.12deg,#405dff 0deg,#4044f2 8deg,#3f3fcd 40deg,#3f3fce 100deg,#4040e8 122deg,#404af6 126deg,#3f63ff 128deg,#33abfc 130deg,#06f4e1 132deg,#00edab 134deg,#00edab 136deg,#05f5df 138deg,#2db8fb 140deg,#3e72ff 142deg,#4054fb 144deg,#4044f3 152deg,#405bff 176deg,#3f62ff 188deg,#3e7eff 208deg,#3c92ff 212deg,#33abfc 214deg,#12ecee 218deg,#00f4c8 222deg,#00f0b9 224deg,#00f1bc 226deg,#00f8d8 228deg,#13ebf0 230deg,#33abfc 232deg,#3e76ff 234deg,#4055fc 236deg,#4040ed 240deg,#3f3fdd 248deg,#4045f3 308deg,#405dff 330deg,#3d81ff 336deg,#3a9bfe 338deg,#22d2f8 340deg,#0af1e5 342deg,#00e99b 346deg,#00e58d 348deg,#00ea9f 350deg,#00f5cd 352deg,#13ebf0 354deg,#33aafd 356deg,#3e7bff 358deg,#405dff 360deg)"></i>
<i style="left:124.5px;top:106.5px;width:155px;height:155px;background:conic-gradient(from 3.38deg,#405fff 0deg,#4049f5 6deg,#3f3fe2 20deg,#3f3fcc 46deg,#3f3fcf 102deg,#4040e7 122deg,#404af5 126deg,#405fff 128deg,#36a3fd 130deg,#09f2e4 132deg,#00eeae 134deg,#00edac 136deg,#05f5df 138deg,#2cbafb 140deg,#3e72ff 142deg,#4054fb 144deg,#4044f2 152deg,#405cff 176deg,#3f62ff 188deg,#3e7eff 208deg,#3c91ff 212deg,#33a9fd 214deg,#13ebf0 218deg,#00f5ce 222deg,#00f2c0 224deg,#00f3c3 226deg,#02f7dc 228deg,#16eaf2 230deg,#35a6fd 232deg,#3e74ff 234deg,#4055fc 236deg,#4040ed 240deg,#3f3fdc 248deg,#4046f4 310deg,#405dff 330deg,#3e7fff 336deg,#3b97ff 338deg,#24cdf8 340deg,#0cf0e7 342deg,#00f3c3 344deg,#00ea9d 346deg,#00e68e 348deg,#00eaa0 350deg,#00f5cd 352deg,#13ebf0 354deg,#33aafd 356deg,#3e7cff 358deg,#405fff 360deg)"></i>
<i style="left:125.5px;top:107.5px;width:153px;height:153px;background:conic-gradient(from 2.62deg,#4060ff 0deg,#404af6 6deg,#3f3fe0 22deg,#3f3fcb 50deg,#3f3fd0 104deg,#4040ee 124deg,#405cff 128deg,#3a9cfe 130deg,#0bf1e6 132deg,#00efb2 134deg,#00edad 136deg,#04f5df 138deg,#2cbbfa 140deg,#3e73ff 142deg,#4054fb 144deg,#4045f3 150deg,#404cf7 162deg,#405dff 176deg,#3f62ff 188deg,#3e7eff 208deg,#3c90ff 212deg,#25caf9 216deg,#15eaf2 218deg,#00f7d5 222deg,#00f4c7 224deg,#00f4ca 226deg,#05f5df 228deg,#18e8f5 230deg,#37a1fe 232deg,#3e72ff 234deg,#4054fc 236deg,#4040ed 240deg,#3f3fdc 248deg,#4045f3 308deg,#405dff 330deg,#3e7eff 336deg,#3c95ff 338deg,#26c9f9 340deg,#0defe9 342deg,#00f3c6 344deg,#00ea9f 346deg,#00e68f 348deg,#00eaa0 350deg,#00f5cd 352deg,#13ebf0 354deg,#33abfc 356deg,#3e7cff 358deg,#4060ff 360deg)"></i>
<i style="left:126.5px;top:108.5px;width:151px;height:151px;background:conic-gradient(from 1.88deg,#4061ff 0deg,#404bf6 6deg,#3f3fe1 22deg,#3f3fcb 48deg,#3f3fcf 102deg,#4040e7 122deg,#4048f4 126deg,#4059ff 128deg,#3c95ff 130deg,#0defe9 132deg,#00f0b6 134deg,#00eeae 136deg,#04f5de 138deg,#2bbdfa 140deg,#3e73ff 142deg,#4054fb 144deg,#4044f3 150deg,#404cf7 162deg,#405fff 174deg,#405fff 186deg,#3e7eff 208deg,#3c90ff 212deg,#35a6fd 214deg,#17e9f3 218deg,#00f8db 222deg,#00f5ce 224deg,#00f6d1 226deg,#07f3e2 228deg,#1be2f6 230deg,#399cfe 232deg,#3f70ff 234deg,#4053fb 236deg,#4040ec 240deg,#3f3fdc 248deg,#4044f3 308deg,#405dff 330deg,#3e7cff 336deg,#3c92ff 338deg,#0feeea 342deg,#00f4c9 344deg,#00eba1 346deg,#00e690 348deg,#00eaa1 350deg,#00f5cd 352deg,#13ebf0 354deg,#33abfc 356deg,#3e7dff 358deg,#4061ff 360deg)"></i>
<i style="left:127.5px;top:109.5px;width:149px;height:149px;background:conic-gradient(from 1.12deg,#3f63ff 0deg,#4050f9 4deg,#4040e8 18deg,#3f3fcc 46deg,#3f3fcf 102deg,#4040e7 122deg,#4047f4 126deg,#4058fe 128deg,#3c91ff 130deg,#10edec 132deg,#00f1bb 134deg,#00eeb0 136deg,#04f6de 138deg,#2abefa 140deg,#3e74ff 142deg,#4054fb 144deg,#4044f2 150deg,#404bf6 162deg,#3f62ff 174deg,#3f62ff 188deg,#3e7eff 208deg,#3c8fff 212deg,#36a4fd 214deg,#18e7f5 218deg,#00f7d5 224deg,#0af1e5 228deg,#1edbf7 230deg,#3b97ff 232deg,#3f6eff 234deg,#4053fb 236deg,#4040ec 240deg,#3f3fdb 248deg,#4044f2 308deg,#405dff 330deg,#3e7bff 336deg,#3c90ff 338deg,#10edec 342deg,#00f5cc 344deg,#00eba3 346deg,#00e791 348deg,#00eba1 350deg,#00f5cd 352deg,#13ebf0 354deg,#33abfc 356deg,#3e7eff 358deg,#3f63ff 360deg)"></i>
<i style="left:128.5px;top:110.5px;width:147px;height:147px;background:conic-gradient(from 0.38deg,#3f64ff 0deg,#4051fa 4deg,#4040ea 18deg,#3f3fcd 44deg,#3f3fce 100deg,#4040e6 122deg,#4046f3 126deg,#4056fd 128deg,#3d8bff 130deg,#13ebef 132deg,#00f2c0 134deg,#00eeb1 136deg,#03f6dd 138deg,#29c2fa 140deg,#3e76ff 142deg,#4054fc 144deg,#4044f2 150deg,#404af6 162deg,#3f65ff 176deg,#3f62ff 188deg,#3d84ff 210deg,#37a2fe 214deg,#1ae3f6 218deg,#01f7db 224deg,#0df0e8 228deg,#21d4f7 230deg,#3c94ff 232deg,#3f6cff 234deg,#4052fb 236deg,#4040ec 240deg,#3f3fdb 248deg,#4044f2 308deg,#405cff 330deg,#3e79ff 336deg,#3d8eff 338deg,#12ecee 342deg,#00f6cf 344deg,#00eba5 346deg,#00e792 348deg,#00eba1 350deg,#00f5ce 352deg,#13ebf0 354deg,#32acfc 356deg,#3e7fff 358deg,#3f64ff 360deg)"></i>
<i style="left:129.5px;top:111.5px;width:145px;height:145px;background:conic-gradient(from -0.38deg,#3f66ff 0deg,#4052fb 4deg,#4040e7 20deg,#3f3fcc 48deg,#3f3fcf 102deg,#4040ec 124deg,#4045f3 126deg,#4055fc 128deg,#3d86ff 130deg,#16e9f3 132deg,#00f3c5 134deg,#00efb2 136deg,#02f7dc 138deg,#27c6f9 140deg,#3e78ff 142deg,#4055fc 144deg,#4044f2 150deg,#4049f5 162deg,#3f68ff 176deg,#3f63ff 188deg,#3d84ff 210deg,#38a0fe 214deg,#1ddef6 218deg,#08f2e3 222deg,#05f5e0 226deg,#0feeeb 228deg,#24cef8 230deg,#3c91ff 232deg,#3f6aff 234deg,#4052fa 236deg,#4040eb 240deg,#3f3fdb 248deg,#4045f3 310deg,#3f63ff 332deg,#3e78ff 336deg,#3d8cff 338deg,#2eb7fb 340deg,#13ebf0 342deg,#00f6d3 344deg,#00eca7 346deg,#00e794 348deg,#00eba2 350deg,#00f5ce 352deg,#13ebf0 354deg,#32acfc 356deg,#3e7fff 358deg,#3f66ff 360deg)"></i>
<i style="left:130.5px;top:112.5px;width:143px;height:143px;background:conic-gradient(from -1.12deg,#3f67ff 0deg,#4053fb 4deg,#4040e9 20deg,#3f3fce 44deg,#3f3fce 100deg,#4040eb 124deg,#4044f2 126deg,#4053fb 128deg,#3d80ff 130deg,#1ae3f6 132deg,#00f4cb 134deg,#00efb4 136deg,#01f7db 138deg,#25caf9 140deg,#3e79ff 142deg,#4055fc 144deg,#4044f2 150deg,#4048f4 162deg,#3f6bff 176deg,#3f64ff 188deg,#3e7eff 208deg,#3d8dff 212deg,#399dfe 214deg,#1fd9f7 218deg,#13ebef 220deg,#08f3e3 226deg,#12ecee 228deg,#26c7f9 230deg,#3d8eff 232deg,#3f68ff 234deg,#4051fa 236deg,#4040eb 240deg,#3f3fda 248deg,#4045f3 310deg,#3f62ff 332deg,#3e77ff 336deg,#3d8aff 338deg,#2fb2fc 340deg,#15eaf1 342deg,#00f7d6 344deg,#00eca9 346deg,#00e895 348deg,#00eba2 350deg,#00f5ce 352deg,#13ebf0 354deg,#32adfc 356deg,#3d80ff 358deg,#3f67ff 360deg)"></i>
<i style="left:131.5px;top:113.5px;width:141px;height:141px;background:conic-gradient(from -1.88deg,#3f69ff 0deg,#4059ff 2deg,#4040ea 20deg,#3f3fcd 46deg,#3f3fce 100deg,#4040e6 122deg,#4043f2 126deg,#4051fa 128deg,#3e7bff 130deg,#1edaf7 132deg,#00f6d1 134deg,#00efb5 136deg,#00f8db 138deg,#24cef8 140deg,#3e7bff 142deg,#4056fc 144deg,#4043f2 150deg,#404af6 164deg,#3f6eff 176deg,#3f67ff 190deg,#3d84ff 210deg,#3a9bfe 214deg,#15eaf2 220deg,#0bf1e6 226deg,#15eaf1 228deg,#29c0fa 230deg,#3d8bff 232deg,#3f65ff 234deg,#4044f3 238deg,#3f3fdb 246deg,#4042f1 306deg,#3f62ff 332deg,#3e75ff 336deg,#3d88ff 338deg,#31aefc 340deg,#16e9f3 342deg,#00f8d9 344deg,#00edab 346deg,#00e896 348deg,#00eba3 350deg,#00f5ce 352deg,#13ebf0 354deg,#32aefc 356deg,#3d81ff 358deg,#3f69ff 360deg)"></i>
<i style="left:132.5px;top:114.5px;width:139px;height:139px;background:conic-gradient(from -2.62deg,#3f6aff 0deg,#4056fc 4deg,#4040eb 20deg,#3f3fce 46deg,#3f3fcd 100deg,#4040ea 124deg,#4042f1 126deg,#4050f9 128deg,#3e75ff 130deg,#24cef8 132deg,#00f8d9 134deg,#00f0ba 136deg,#01f7db 138deg,#23cff8 140deg,#3e7cff 142deg,#4056fd 144deg,#4043f2 150deg,#4045f3 162deg,#4061ff 172deg,#3f6fff 178deg,#3f67ff 190deg,#3d83ff 210deg,#3b99ff 214deg,#17e8f4 220deg,#0df0e8 224deg,#17e8f4 228deg,#3d88ff 232deg,#3f63ff 234deg,#4044f2 238deg,#3f3fdb 246deg,#4040ee 302deg,#4061ff 332deg,#3e74ff 336deg,#3d86ff 338deg,#34a9fd 340deg,#18e7f5 342deg,#01f7db 344deg,#00edad 346deg,#00e897 348deg,#00eba3 350deg,#00f5ce 352deg,#13ebf0 354deg,#31aefc 356deg,#3d82ff 358deg,#3f6aff 360deg)"></i>
<i style="left:133.5px;top:115.5px;width:137px;height:137px;background:conic-gradient(from -3.38deg,#3f6cff 0deg,#4057fd 4deg,#4040ec 20deg,#3f3fce 46deg,#3f3fcd 100deg,#4040ea 124deg,#404ef8 128deg,#3f6fff 130deg,#29c2fa 132deg,#03f6de 134deg,#00f2bf 136deg,#01f7db 138deg,#22d1f8 140deg,#3e7eff 142deg,#4056fd 144deg,#4043f2 150deg,#4047f4 164deg,#3e71ff 178deg,#3f69ff 192deg,#3d82ff 210deg,#3c96ff 214deg,#1ae3f6 220deg,#11eded 226deg,#1be2f6 228deg,#3d84ff 232deg,#4061ff 234deg,#4043f2 238deg,#3f3fdb 246deg,#4040ec 300deg,#405bff 330deg,#3e72ff 336deg,#3d84ff 338deg,#36a4fd 340deg,#1be2f6 342deg,#03f6dd 344deg,#00eeb0 346deg,#00e898 348deg,#00eba3 350deg,#00f5ce 352deg,#13ebf0 354deg,#31affc 356deg,#3d83ff 358deg,#3f6cff 360deg)"></i>
<i style="left:134.5px;top:116.5px;width:135px;height:135px;background:conic-gradient(from -4.12deg,#3f6eff 0deg,#4058fe 4deg,#4040ea 22deg,#3f3fce 46deg,#3f3fcd 100deg,#4040e9 124deg,#4041f0 126deg,#404df7 128deg,#3f6aff 130deg,#2eb6fb 132deg,#07f3e2 134deg,#00f3c4 136deg,#02f7dc 138deg,#22d2f8 140deg,#3e7fff 142deg,#4056fd 144deg,#4043f2 150deg,#4046f3 164deg,#3f66ff 174deg,#3e72ff 180deg,#3f6aff 192deg,#3d82ff 210deg,#3c94ff 214deg,#1ddcf6 220deg,#16eaf2 222deg,#14ebf0 226deg,#1edaf7 228deg,#3d81ff 232deg,#405fff 234deg,#4043f2 238deg,#3f3fda 246deg,#4040ed 302deg,#4060ff 332deg,#3d81ff 338deg,#389ffe 340deg,#1dddf6 342deg,#04f5df 344deg,#00efb2 346deg,#00e999 348deg,#00eba4 350deg,#00f5ce 352deg,#13ebf0 354deg,#31b0fc 356deg,#3d84ff 358deg,#3f6eff 360deg)"></i>
<i style="left:135.5px;top:117.5px;width:133px;height:133px;background:conic-gradient(from -4.88deg,#3e72ff 0deg,#4059ff 4deg,#4040eb 22deg,#3f3fce 48deg,#3f3fce 102deg,#4040e9 124deg,#4040f0 126deg,#404bf6 128deg,#3f64ff 130deg,#33aafd 132deg,#0bf1e6 134deg,#00f4ca 136deg,#02f6dd 138deg,#21d4f7 140deg,#3d80ff 142deg,#4057fd 144deg,#4045f3 148deg,#4045f3 164deg,#3f64ff 174deg,#3e74ff 180deg,#3f6cff 194deg,#3d81ff 210deg,#3c93ff 214deg,#18e7f5 222deg,#17e9f4 226deg,#22d2f8 228deg,#3e7eff 232deg,#405cff 234deg,#4043f1 238deg,#3f3fda 246deg,#4040eb 300deg,#4053fb 324deg,#3f67ff 334deg,#3d82ff 338deg,#37a1fe 340deg,#1ddef6 342deg,#04f5df 344deg,#00efb3 346deg,#00e99a 348deg,#00eba4 350deg,#00f5cc 352deg,#11ecee 354deg,#2eb7fb 356deg,#3d89ff 358deg,#3e72ff 360deg)"></i>
<i style="left:136.5px;top:118.5px;width:131px;height:131px;background:conic-gradient(from -5.62deg,#3e75ff 0deg,#405bff 4deg,#4040ec 22deg,#3f3fcf 46deg,#3f3fcc 98deg,#4040e8 124deg,#404af6 128deg,#405fff 130deg,#389ffe 132deg,#0eefea 134deg,#00f6d0 136deg,#03f6de 138deg,#20d5f7 140deg,#3d81ff 142deg,#4057fd 144deg,#4045f3 148deg,#4043f2 164deg,#4061ff 174deg,#3e75ff 180deg,#3f6cff 194deg,#3d80ff 210deg,#3c91ff 214deg,#1cdff6 222deg,#18e7f5 224deg,#1ae3f6 226deg,#25caf9 228deg,#389efe 230deg,#405aff 234deg,#4042f1 238deg,#3f3fda 246deg,#4040e9 298deg,#404cf7 318deg,#4060ff 332deg,#3d84ff 338deg,#35a6fd 340deg,#1ae4f6 342deg,#03f6dd 344deg,#00eeb1 346deg,#00e99b 348deg,#00eca5 350deg,#00f5cd 352deg,#11eded 354deg,#3d8bff 358deg,#3e75ff 360deg)"></i>
<i style="left:137.5px;top:119.5px;width:129px;height:129px;background:conic-gradient(from -6.37deg,#3e77ff 0deg,#4058fe 6deg,#4040e9 24deg,#3f3fcd 52deg,#3f3fce 102deg,#4040ee 126deg,#405aff 130deg,#3c95ff 132deg,#12ecee 134deg,#00f7d6 136deg,#04f5de 138deg,#20d6f7 140deg,#3d82ff 142deg,#4057fe 144deg,#4042f1 150deg,#4046f3 166deg,#405eff 174deg,#3e77ff 180deg,#3f6eff 196deg,#3d81ff 210deg,#3c92ff 214deg,#1ddcf6 222deg,#1ae3f6 224deg,#1ddcf6 226deg,#29c1fa 228deg,#3c95ff 230deg,#4058fe 234deg,#4041f0 238deg,#3f3fd9 246deg,#4040ea 300deg,#4053fb 324deg,#4061ff 332deg,#3e74ff 336deg,#3d87ff 338deg,#33abfc 340deg,#18e8f5 342deg,#01f7db 344deg,#00eeaf 346deg,#00e99b 348deg,#00eca7 350deg,#00f5cf 352deg,#11eded 354deg,#3d8dff 358deg,#3e77ff 360deg)"></i>
<i style="left:138.5px;top:120.5px;width:127px;height:127px;background:conic-gradient(from -7.09deg,#3e7aff 0deg,#4059fe 6deg,#4040ea 24deg,#3f3fcf 48deg,#3f3fcd 100deg,#4040e8 124deg,#4048f5 128deg,#405aff 130deg,#3c94ff 132deg,#13ebef 134deg,#00f8da 136deg,#06f4e1 138deg,#23cef8 140deg,#3e7fff 142deg,#4056fd 144deg,#4042f1 150deg,#4044f3 166deg,#405aff 174deg,#3e78ff 180deg,#3f70ff 198deg,#3d81ff 210deg,#3c92ff 214deg,#1fd9f7 222deg,#1cdef6 224deg,#20d6f7 226deg,#2db9fb 228deg,#3c90ff 230deg,#4056fd 234deg,#4040ef 238deg,#3f3fd9 246deg,#4040e8 298deg,#404cf7 318deg,#4061ff 332deg,#3e76ff 336deg,#3d89ff 338deg,#30b1fc 340deg,#16eaf2 342deg,#00f8d9 344deg,#00eeae 346deg,#00e99c 348deg,#00eca9 350deg,#00f6d0 352deg,#11eded 354deg,#3c90ff 358deg,#3e7aff 360deg)"></i>
<i style="left:139.5px;top:121.5px;width:125px;height:125px;background:conic-gradient(from -7.8deg,#3e7dff 0deg,#405aff 6deg,#4040eb 24deg,#3f3fce 50deg,#3f3fcd 100deg,#4040e8 124deg,#4048f5 128deg,#405aff 130deg,#3c93ff 132deg,#14ebf1 134deg,#02f7dc 136deg,#09f2e4 138deg,#27c7f9 140deg,#3e7bff 142deg,#4055fc 144deg,#4042f1 150deg,#4043f2 166deg,#4059fe 174deg,#3e78ff 180deg,#3e75ff 188deg,#3e73ff 200deg,#3d82ff 210deg,#3c92ff 214deg,#20d5f7 222deg,#1fd9f7 224deg,#23cff8 226deg,#3d8bff 230deg,#4054fc 234deg,#4040ee 238deg,#3f3fd8 246deg,#4040ea 300deg,#4053fb 324deg,#3f62ff 332deg,#3e77ff 336deg,#3d8cff 338deg,#2eb6fb 340deg,#14ebf0 342deg,#00f7d6 344deg,#00edad 346deg,#00ea9d 348deg,#00edab 350deg,#00f6d1 352deg,#11eded 354deg,#3c92ff 358deg,#3e7dff 360deg)"></i>
<i style="left:140.5px;top:122.5px;width:123px;height:123px;background:conic-gradient(from -8.5deg,#3e7fff 0deg,#405dff 6deg,#4040ec 24deg,#3f3fce 50deg,#3f3fcd 100deg,#4040e8 124deg,#4049f5 128deg,#405bff 130deg,#3c93ff 132deg,#15eaf2 134deg,#04f5de 136deg,#0bf1e7 138deg,#29c1fa 140deg,#3e79ff 142deg,#4055fc 144deg,#4041f1 150deg,#4042f1 166deg,#4061ff 176deg,#3e7dff 182deg,#3e72ff 198deg,#3d82ff 210deg,#36a3fd 216deg,#22d1f8 222deg,#21d4f7 224deg,#26c8f9 226deg,#3d86ff 230deg,#4052fb 234deg,#4040ed 238deg,#3f3fd7 246deg,#4040e9 300deg,#404ff8 320deg,#3f62ff 332deg,#3e79ff 336deg,#3d8eff 338deg,#13ecef 342deg,#00f7d5 344deg,#00eeae 346deg,#00eaa0 348deg,#00eeae 350deg,#00f6d3 352deg,#11eded 354deg,#3c94ff 358deg,#3e7fff 360deg)"></i>
<i style="left:141.5px;top:123.5px;width:121px;height:121px;background:conic-gradient(from -9.18deg,#3d81ff 0deg,#4059fe 8deg,#4040e9 26deg,#3f3fcd 54deg,#3f3fcf 102deg,#4040e9 124deg,#4049f5 128deg,#405cff 130deg,#3c94ff 132deg,#16eaf2 134deg,#06f4e1 136deg,#0defe9 138deg,#2bbcfa 140deg,#3e77ff 142deg,#4054fc 144deg,#4041f1 150deg,#4041f1 166deg,#405eff 176deg,#3e7dff 182deg,#3e78ff 190deg,#3e75ff 202deg,#3d8aff 212deg,#2fb4fb 218deg,#24cdf8 222deg,#23cef8 224deg,#29c0fa 226deg,#3d81ff 230deg,#3f62ff 232deg,#4045f3 236deg,#3f3fd9 244deg,#3f3fe0 286deg,#4045f3 312deg,#3f63ff 332deg,#3e7bff 336deg,#3c90ff 338deg,#11ecee 342deg,#00f6d3 344deg,#00eeaf 346deg,#00eba3 348deg,#00efb2 350deg,#00f7d6 352deg,#11eced 354deg,#3c96ff 358deg,#3d81ff 360deg)"></i>
<i style="left:142.5px;top:124.5px;width:119px;height:119px;background:conic-gradient(from -9.84deg,#3d82ff 0deg,#4060ff 6deg,#4040ee 24deg,#3f3fd0 48deg,#3f3fcc 96deg,#4040e5 122deg,#4040f0 126deg,#405dff 130deg,#3c94ff 132deg,#17e9f3 134deg,#08f3e3 136deg,#10eeec 138deg,#2eb7fb 140deg,#3e76ff 142deg,#4054fc 144deg,#4041f1 150deg,#4040ee 164deg,#4053fb 174deg,#3e7eff 182deg,#3e7fff 188deg,#3e74ff 200deg,#3d83ff 210deg,#37a2fe 216deg,#26c9f9 222deg,#26c9f9 224deg,#2db9fb 226deg,#3b97ff 228deg,#405eff 232deg,#4044f2 236deg,#3f3fd9 244deg,#3f3fdd 278deg,#4045f3 312deg,#3f63ff 332deg,#3e7cff 336deg,#3c93ff 338deg,#10edec 342deg,#00f6d2 344deg,#00eeb0 346deg,#00eca6 348deg,#00efb6 350deg,#00f8d9 352deg,#12ecee 354deg,#3c96ff 358deg,#3d82ff 360deg)"></i>
<i style="left:143.5px;top:125.5px;width:117px;height:117px;background:conic-gradient(from -10.48deg,#3d82ff 0deg,#4059fe 8deg,#4040ea 26deg,#3f3fce 52deg,#3f3fcf 102deg,#4040e9 124deg,#404af6 128deg,#405eff 130deg,#3c94ff 132deg,#18e8f4 134deg,#0af2e5 136deg,#12ecee 138deg,#30b2fc 140deg,#3e74ff 142deg,#4054fb 144deg,#4041f0 150deg,#4040f0 166deg,#4059fe 176deg,#3e7eff 182deg,#3d82ff 188deg,#3e75ff 200deg,#3d83ff 210deg,#37a1fe 216deg,#27c5f9 222deg,#28c3f9 224deg,#30b2fc 226deg,#3e77ff 230deg,#405aff 232deg,#4043f2 236deg,#3f3fd8 244deg,#3f3fe0 286deg,#4045f3 312deg,#405dff 330deg,#3e7eff 336deg,#3c95ff 338deg,#26c7f9 340deg,#0feeeb 342deg,#00f6d2 344deg,#00eeb2 346deg,#00eda9 348deg,#00f0ba 350deg,#01f7db 352deg,#13ebef 354deg,#3c96ff 358deg,#3d82ff 360deg)"></i>
<i style="left:144.5px;top:126.5px;width:115px;height:115px;background:conic-gradient(from -11.11deg,#3d82ff 0deg,#4059ff 8deg,#4040eb 26deg,#3f3fce 52deg,#3f3fcf 102deg,#4040e9 124deg,#4040f0 126deg,#405fff 130deg,#3c94ff 132deg,#19e7f5 134deg,#0cf0e7 136deg,#14ebf0 138deg,#32adfc 140deg,#3e72ff 142deg,#4054fb 144deg,#4041f0 150deg,#4040ef 166deg,#4057fd 176deg,#3d84ff 184deg,#3e7eff 192deg,#3e78ff 204deg,#3c92ff 214deg,#2cbbfb 220deg,#2bbefa 224deg,#3d8dff 228deg,#4058fe 232deg,#4041f1 236deg,#3f3fd8 244deg,#3f3fe0 286deg,#4046f3 312deg,#405dff 330deg,#3d80ff 336deg,#3b98ff 338deg,#25cbf9 340deg,#0eeeea 342deg,#00f6d1 344deg,#00efb3 346deg,#00edac 348deg,#00f1bd 350deg,#02f6dd 352deg,#14ebf0 354deg,#3c96ff 358deg,#3d82ff 360deg)"></i>
<i style="left:145.5px;top:127.5px;width:113px;height:113px;background:conic-gradient(from -11.73deg,#3d82ff 0deg,#4059ff 8deg,#4040eb 26deg,#3f3fce 52deg,#3f3fcf 102deg,#4040ea 124deg,#404bf7 128deg,#4060ff 130deg,#3c94ff 132deg,#1ae4f6 134deg,#0defe9 136deg,#16e9f3 138deg,#34a8fd 140deg,#3e71ff 142deg,#4053fb 144deg,#4040f0 150deg,#4040ee 166deg,#4056fc 176deg,#3d85ff 184deg,#3d86ff 190deg,#3e76ff 200deg,#3d83ff 210deg,#389ffe 216deg,#2bbcfa 222deg,#2db8fb 224deg,#3f6eff 230deg,#4056fd 232deg,#4040f0 236deg,#3f3fd7 244deg,#3f3fe3 292deg,#4048f4 314deg,#405eff 330deg,#3d82ff 336deg,#3a9cfe 338deg,#23cff8 340deg,#0eefe9 342deg,#00f6d1 344deg,#00efb5 346deg,#00eeb0 348deg,#00f2c1 350deg,#04f6de 352deg,#15eaf1 354deg,#3c96ff 358deg,#3d82ff 360deg)"></i>
<i style="left:146.5px;top:128.5px;width:111px;height:111px;background:conic-gradient(from -12.32deg,#3d83ff 0deg,#405aff 8deg,#4040eb 26deg,#3f3fcf 52deg,#3f3fcf 102deg,#4040ea 124deg,#404cf7 128deg,#4061ff 130deg,#3c94ff 132deg,#1be0f6 134deg,#0feeeb 136deg,#18e8f5 138deg,#36a3fd 140deg,#3f6fff 142deg,#4053fb 144deg,#4040f0 150deg,#4040ee 166deg,#4054fc 176deg,#3d84ff 184deg,#3d89ff 190deg,#3e77ff 202deg,#3d8aff 212deg,#2fb4fb 220deg,#30b2fc 224deg,#3f69ff 230deg,#4049f5 234deg,#4040e5 238deg,#3f3fd5 248deg,#4040e7 298deg,#404af6 316deg,#405eff 330deg,#3d84ff 336deg,#389ffe 338deg,#22d2f8 340deg,#0defe8 342deg,#00f6d1 344deg,#00f0b7 346deg,#00efb3 348deg,#05f5e0 352deg,#15eaf2 354deg,#3c96ff 358deg,#3d83ff 360deg)"></i>
<i style="left:147.5px;top:129.5px;width:109px;height:109px;background:conic-gradient(from -12.91deg,#3d83ff 0deg,#405aff 8deg,#4040ec 26deg,#3f3fcf 52deg,#3f3fcf 102deg,#4040ea 124deg,#404df7 128deg,#3f64ff 130deg,#3c96ff 132deg,#1be2f6 134deg,#0feeeb 136deg,#19e7f5 138deg,#37a2fe 140deg,#3f6fff 142deg,#4053fb 144deg,#4040f0 150deg,#4040ed 166deg,#4053fb 176deg,#3f69ff 180deg,#3d8bff 186deg,#3d83ff 194deg,#3e79ff 204deg,#3c91ff 214deg,#31b0fc 220deg,#33abfc 224deg,#3f64ff 230deg,#4040ee 236deg,#3f3fd7 244deg,#3f3fe2 292deg,#4048f5 314deg,#405fff 330deg,#3d86ff 336deg,#36a3fd 338deg,#20d5f7 340deg,#0cf0e8 342deg,#00f6d1 344deg,#00f0b9 346deg,#00f0b6 348deg,#06f4e1 352deg,#16e9f3 354deg,#3c95ff 358deg,#3d83ff 360deg)"></i>
<i style="left:148.5px;top:130.5px;width:107px;height:107px;background:conic-gradient(from -13.47deg,#3d83ff 0deg,#405aff 8deg,#4040ec 26deg,#3f3fcf 52deg,#3f3fcf 102deg,#4040eb 124deg,#404ff9 128deg,#3f6bff 130deg,#37a2fe 132deg,#18e8f5 134deg,#10eeec 136deg,#1ce0f6 138deg,#3b99ff 140deg,#3f6aff 142deg,#4052fa 144deg,#4040f0 150deg,#4040eb 164deg,#404bf6 174deg,#3f65ff 180deg,#3d8bff 186deg,#3d8cff 192deg,#3e79ff 202deg,#3d8aff 212deg,#32acfc 220deg,#35a5fd 224deg,#4060ff 230deg,#4040ec 236deg,#3f3fd6 244deg,#3f3fe2 292deg,#4048f5 314deg,#405fff 330deg,#3d87ff 336deg,#35a6fd 338deg,#1fd8f7 340deg,#0cf0e7 342deg,#00f6d1 344deg,#00f1bb 346deg,#00f0ba 348deg,#07f3e2 352deg,#17e9f4 354deg,#3c95ff 358deg,#3d83ff 360deg)"></i>
<i style="left:149.5px;top:131.5px;width:105px;height:105px;background:conic-gradient(from -14.02deg,#3d83ff 0deg,#405aff 8deg,#4040ed 26deg,#3f3fcf 52deg,#3f3fce 100deg,#4040ec 124deg,#4051fa 128deg,#3e72ff 130deg,#32adfc 132deg,#16eaf2 134deg,#10edec 136deg,#1fd9f7 138deg,#3c92ff 140deg,#3f66ff 142deg,#4050f9 144deg,#4040ef 150deg,#4040ec 166deg,#4050f9 176deg,#3f62ff 180deg,#3d8bff 186deg,#3c8fff 192deg,#3e7aff 204deg,#3c90ff 214deg,#34a8fd 220deg,#389efe 224deg,#405cff 230deg,#4040eb 236deg,#3f3fd6 244deg,#3f3fe2 292deg,#4048f5 314deg,#4060ff 330deg,#3d89ff 336deg,#33aafd 338deg,#1edbf7 340deg,#0bf1e7 342deg,#00f6d2 344deg,#00f1bd 346deg,#00f1bd 348deg,#09f2e4 352deg,#18e8f5 354deg,#3c95ff 358deg,#3d83ff 360deg)"></i>
<i style="left:150.5px;top:132.5px;width:103px;height:103px;background:conic-gradient(from -14.56deg,#3d84ff 0deg,#405bff 8deg,#4040e9 28deg,#3f3fcd 56deg,#3f3fce 100deg,#4040ed 124deg,#4054fb 128deg,#3e79ff 130deg,#2db8fb 132deg,#14ebf0 134deg,#11eded 136deg,#22d1f8 138deg,#3d8dff 140deg,#4061ff 142deg,#4046f4 146deg,#4040e9 162deg,#4049f5 174deg,#405eff 180deg,#3d8aff 186deg,#3c94ff 190deg,#3e7bff 204deg,#3c90ff 214deg,#36a4fd 220deg,#3b98ff 224deg,#4059fe 230deg,#4043f2 234deg,#3f3fd8 242deg,#3f3fd8 270deg,#4046f3 312deg,#4061ff 330deg,#3d8bff 336deg,#32adfc 338deg,#1cdef6 340deg,#0bf1e6 342deg,#00f6d3 344deg,#00f2c0 346deg,#00f2c1 348deg,#0af2e5 352deg,#19e6f5 354deg,#3c95ff 358deg,#3d84ff 360deg)"></i>
<i style="left:151.5px;top:133.5px;width:101px;height:101px;background:conic-gradient(from -15.07deg,#3d84ff 0deg,#405bff 8deg,#4040ea 28deg,#3f3fce 56deg,#3f3fcf 100deg,#4040e8 122deg,#4048f4 126deg,#4056fd 128deg,#3d80ff 130deg,#29c2fa 132deg,#12ecef 134deg,#12ecee 136deg,#26c9f9 138deg,#3d88ff 140deg,#405dff 142deg,#4046f3 146deg,#4040e8 162deg,#4048f5 174deg,#405aff 180deg,#3c92ff 188deg,#3c91ff 194deg,#3e7cff 204deg,#3c8fff 214deg,#38a0fe 220deg,#3c93ff 224deg,#4057fd 230deg,#4042f1 234deg,#3f3fd7 242deg,#3f3fda 276deg,#4046f3 312deg,#4061ff 330deg,#3d8dff 336deg,#31b0fc 338deg,#1be0f6 340deg,#0af1e6 342deg,#00f2c2 346deg,#00f3c4 348deg,#00f7d7 350deg,#1ae4f6 354deg,#3c95ff 358deg,#3d84ff 360deg)"></i>
<i style="left:152.5px;top:134.5px;width:99px;height:99px;background:conic-gradient(from -15.58deg,#3d84ff 0deg,#4057fe 10deg,#4040ea 28deg,#3f3fce 56deg,#3f3fcf 100deg,#4040e9 122deg,#404af6 126deg,#405aff 128deg,#3d88ff 130deg,#24cdf8 132deg,#11ecee 134deg,#13ebf0 136deg,#28c3fa 138deg,#3d84ff 140deg,#405bff 142deg,#4045f3 146deg,#4040e7 162deg,#4047f4 174deg,#4059fe 180deg,#3c91ff 188deg,#3a99ff 192deg,#3e7dff 204deg,#3c94ff 216deg,#3a9afe 222deg,#3e7fff 226deg,#4055fc 230deg,#4041f1 234deg,#3f3fd7 242deg,#3f3fda 276deg,#4046f3 312deg,#3f62ff 330deg,#3c8fff 336deg,#19e5f5 340deg,#00f6d2 344deg,#00f2c2 346deg,#00f3c5 348deg,#00f7d8 350deg,#1ae3f6 354deg,#3c95ff 358deg,#3d84ff 360deg)"></i>
<i style="left:153.5px;top:135.5px;width:97px;height:97px;background:conic-gradient(from -16.06deg,#3d85ff 0deg,#405cff 8deg,#4040eb 28deg,#3f3fcd 58deg,#3f3fd0 102deg,#4040eb 122deg,#404df8 126deg,#3f62ff 128deg,#3c91ff 130deg,#20d7f7 132deg,#11eded 134deg,#14eaf1 136deg,#2bbcfa 138deg,#3d81ff 140deg,#4059ff 142deg,#4040f0 148deg,#4040e8 164deg,#4047f4 174deg,#4057fd 180deg,#3c90ff 188deg,#399dfe 192deg,#3e7fff 204deg,#3d8eff 214deg,#3a9aff 220deg,#3d8dff 224deg,#4054fc 230deg,#4040f0 234deg,#3f3fd6 242deg,#3f3fdd 284deg,#4046f3 312deg,#405bff 328deg,#3e7dff 334deg,#3c91ff 336deg,#18e8f5 340deg,#00f6d1 344deg,#00f2c2 346deg,#00f3c6 348deg,#00f8d9 350deg,#1ae3f6 354deg,#3c96ff 358deg,#3d85ff 360deg)"></i>
<i style="left:154.5px;top:136.5px;width:95px;height:95px;background:conic-gradient(from -16.53deg,#3d85ff 0deg,#405dff 8deg,#4040eb 28deg,#3f3fcd 58deg,#3f3fcf 100deg,#4040ec 122deg,#4050f9 126deg,#3f6aff 128deg,#3a9bfe 130deg,#1cdff6 132deg,#10edec 134deg,#16e9f3 136deg,#3e7eff 140deg,#4059fe 142deg,#4040f0 148deg,#4040e6 162deg,#4046f4 174deg,#4060ff 182deg,#3b99ff 190deg,#389ffe 194deg,#3d81ff 204deg,#3d89ff 212deg,#3c97ff 220deg,#3d8aff 224deg,#4053fb 230deg,#4040ef 234deg,#3f3fd6 242deg,#3f3fdd 284deg,#4046f3 312deg,#405bff 328deg,#3e7fff 334deg,#3c94ff 336deg,#16e9f3 340deg,#00f6d0 344deg,#00f2c2 346deg,#00f3c7 348deg,#00f8da 350deg,#1ae2f6 354deg,#3c96ff 358deg,#3d85ff 360deg)"></i>
<i style="left:155.5px;top:137.5px;width:93px;height:93px;background:conic-gradient(from -16.99deg,#3d86ff 0deg,#405dff 8deg,#4040eb 28deg,#3f3fce 56deg,#3f3fcf 100deg,#4040ee 122deg,#4053fb 126deg,#3e73ff 128deg,#34a7fd 130deg,#19e7f5 132deg,#10edec 134deg,#17e8f4 136deg,#31b0fc 138deg,#3e7bff 140deg,#4058fe 142deg,#4040ef 148deg,#4040e7 164deg,#404af6 176deg,#405dff 182deg,#3b98ff 190deg,#36a3fd 194deg,#3d83ff 204deg,#3d8dff 214deg,#3c92ff 222deg,#3e75ff 226deg,#4051fa 230deg,#4040ed 234deg,#3f3fd6 242deg,#3f3fda 278deg,#4046f4 312deg,#405cff 328deg,#3d81ff 334deg,#3c97ff 336deg,#15eaf2 340deg,#00f5ce 344deg,#00f2c3 346deg,#00f4c8 348deg,#01f8db 350deg,#1be2f6 354deg,#3c96ff 358deg,#3d86ff 360deg)"></i>
<i style="left:156.5px;top:138.5px;width:91px;height:91px;background:conic-gradient(from -17.42deg,#3d86ff 0deg,#405dff 8deg,#4040ec 28deg,#3f3fcf 54deg,#3f3fce 98deg,#4040e9 120deg,#4049f5 124deg,#4056fd 126deg,#3e7bff 128deg,#16e9f3 132deg,#10edec 134deg,#19e5f5 136deg,#33aafd 138deg,#3e78ff 140deg,#4057fd 142deg,#4040ef 148deg,#4040e5 162deg,#4045f3 174deg,#405aff 182deg,#37a2fd 192deg,#36a3fd 196deg,#3d85ff 204deg,#3d89ff 212deg,#3c93ff 220deg,#3d84ff 224deg,#405aff 228deg,#4040ec 234deg,#3f3fd3 244deg,#3f3fe3 294deg,#4049f5 314deg,#405dff 328deg,#3d84ff 334deg,#3a9bfe 336deg,#14ebf0 340deg,#00f5cd 344deg,#00f3c3 346deg,#00f4c9 348deg,#01f7db 350deg,#1be1f6 354deg,#3c97ff 358deg,#3d86ff 360deg)"></i>
<i style="left:157.5px;top:139.5px;width:89px;height:89px;background:conic-gradient(from -17.85deg,#3d86ff 0deg,#4058fe 10deg,#4040ec 28deg,#3f3fce 58deg,#3f3fcf 98deg,#4040ea 120deg,#404bf6 124deg,#4059ff 126deg,#3d83ff 128deg,#2abefa 130deg,#15eaf1 132deg,#11eded 134deg,#1ce0f6 136deg,#36a4fd 138deg,#3e75ff 140deg,#4056fd 142deg,#4040ee 148deg,#4040e6 164deg,#4049f5 176deg,#4058fe 182deg,#37a1fe 192deg,#35a7fd 196deg,#3d84ff 206deg,#3c91ff 220deg,#3d81ff 224deg,#4059ff 228deg,#4040ec 234deg,#3f3fd5 242deg,#3f3fdd 286deg,#4046f4 312deg,#405eff 328deg,#3d86ff 334deg,#38a0fe 336deg,#12ecef 340deg,#00f5cc 344deg,#00f3c3 346deg,#00f4ca 348deg,#02f7dc 350deg,#1be0f6 354deg,#3c97ff 358deg,#3d86ff 360deg)"></i>
<i style="left:158.5px;top:140.5px;width:87px;height:87px;background:conic-gradient(from -18.25deg,#3d86ff 0deg,#4059fe 10deg,#4040e9 30deg,#3f3fce 58deg,#3f3fcf 98deg,#4040eb 120deg,#404ef8 124deg,#4060ff 126deg,#3d8bff 128deg,#26c8f9 130deg,#13ebf0 132deg,#11eded 134deg,#1edbf7 136deg,#399efe 138deg,#3e73ff 140deg,#4055fc 142deg,#4040ee 148deg,#4040e4 162deg,#4048f5 176deg,#3f62ff 184deg,#33a9fd 194deg,#36a4fd 198deg,#3d86ff 206deg,#3c8fff 220deg,#3e7fff 224deg,#4058fe 228deg,#4040eb 234deg,#3f3fd5 242deg,#3f3fdc 284deg,#4046f4 312deg,#405fff 328deg,#3d88ff 334deg,#36a4fd 336deg,#23d0f8 338deg,#11eded 340deg,#03f6de 342deg,#00f3c4 346deg,#02f7dc 350deg,#1cdff6 354deg,#3b97ff 358deg,#3d86ff 360deg)"></i>
<i style="left:159.5px;top:141.5px;width:85px;height:85px;background:conic-gradient(from -18.64deg,#3d87ff 0deg,#405fff 8deg,#4040ed 28deg,#3f3fd0 54deg,#3f3fcd 94deg,#4040e7 118deg,#4045f3 122deg,#4050f9 124deg,#3f68ff 126deg,#3c92ff 128deg,#22d1f8 130deg,#12ecef 132deg,#12ecee 134deg,#20d5f7 136deg,#3b98ff 138deg,#3f70ff 140deg,#4055fc 142deg,#4040ed 148deg,#4040e4 162deg,#4047f4 176deg,#405eff 184deg,#34a9fd 194deg,#34a9fd 198deg,#3d88ff 206deg,#3d8dff 220deg,#3e7dff 224deg,#404df8 230deg,#3f3fe2 236deg,#3f3fd2 246deg,#4040e4 296deg,#4049f5 314deg,#405fff 328deg,#3d8aff 334deg,#34a8fd 336deg,#21d4f7 338deg,#10eeec 340deg,#00f4cb 344deg,#00f3c4 346deg,#03f6dd 350deg,#1cdff6 354deg,#3b98ff 358deg,#3d87ff 360deg)"></i>
<i style="left:160.5px;top:142.5px;width:83px;height:83px;background:conic-gradient(from -19.02deg,#3d87ff 0deg,#4059fe 10deg,#4040ea 30deg,#3f3fce 58deg,#3f3fcf 98deg,#4040e9 118deg,#4049f5 122deg,#4055fc 124deg,#3e76ff 126deg,#35a5fd 128deg,#1be0f6 130deg,#11eded 132deg,#14ebf1 134deg,#26c8f9 136deg,#3d8eff 138deg,#3f68ff 140deg,#4052fa 142deg,#4040ec 148deg,#3f3fe2 160deg,#4047f4 176deg,#405bff 184deg,#34a8fd 194deg,#32adfc 198deg,#3d8aff 206deg,#3d86ff 222deg,#404df7 230deg,#4040ea 234deg,#3f3fd4 242deg,#3f3fdd 286deg,#4046f4 312deg,#4060ff 328deg,#3d8dff 334deg,#32adfc 336deg,#1fd9f7 338deg,#0eeeea 340deg,#02f7dc 342deg,#00f4ca 344deg,#00f3c5 346deg,#03f6de 350deg,#1cdef6 354deg,#3b98ff 358deg,#3d87ff 360deg)"></i>
<i style="left:161.5px;top:143.5px;width:81px;height:81px;background:conic-gradient(from -19.37deg,#3d87ff 0deg,#4059fe 10deg,#4040ea 30deg,#3f3fce 58deg,#3f3fcf 96deg,#4040e5 116deg,#4043f2 120deg,#405cff 124deg,#3d83ff 126deg,#17e9f3 130deg,#11eded 132deg,#17e9f4 134deg,#3d85ff 138deg,#4060ff 140deg,#4046f3 144deg,#3f3fe1 158deg,#4046f4 176deg,#4059fe 184deg,#35a6fd 194deg,#30b1fc 198deg,#3d8dff 206deg,#3d8aff 216deg,#3d84ff 222deg,#404cf7 230deg,#3f3fe1 236deg,#3f3fd1 248deg,#4040e6 298deg,#404bf7 316deg,#4061ff 328deg,#3c8fff 334deg,#1dddf6 338deg,#01f7db 342deg,#00f4ca 344deg,#00f3c5 346deg,#04f6de 350deg,#1dddf6 354deg,#3b98ff 358deg,#3d87ff 360deg)"></i>
<i style="left:162.5px;top:144.5px;width:79px;height:79px;background:conic-gradient(from -19.72deg,#3d87ff 0deg,#4059fe 10deg,#4040ea 30deg,#3f3fce 58deg,#3f3fd0 98deg,#4040e7 116deg,#4046f3 120deg,#4051fa 122deg,#3f68ff 124deg,#3c90ff 126deg,#25cbf9 128deg,#14ebf0 130deg,#11eded 132deg,#1be1f6 134deg,#33abfc 136deg,#3e7dff 138deg,#405aff 140deg,#4040ee 146deg,#3f3fe0 158deg,#4046f3 176deg,#3f62ff 186deg,#37a1fe 194deg,#30b2fc 198deg,#3d8aff 208deg,#3d82ff 222deg,#404bf6 230deg,#3f3fe1 236deg,#3f3fd1 248deg,#4040e4 296deg,#4049f5 314deg,#405aff 326deg,#3e7eff 332deg,#3c91ff 334deg,#1be1f6 338deg,#01f8db 342deg,#00f4c9 344deg,#00f3c6 346deg,#04f5df 350deg,#0feeeb 352deg,#1ddcf6 354deg,#3b98ff 358deg,#3d87ff 360deg)"></i>
<i style="left:163.5px;top:145.5px;width:77px;height:77px;background:conic-gradient(from -20.07deg,#3d87ff 0deg,#4059fe 10deg,#4040ea 30deg,#3f3fce 58deg,#3f3fd0 96deg,#4040e9 116deg,#4049f5 120deg,#4056fd 122deg,#3e75ff 124deg,#37a1fe 126deg,#1edaf7 128deg,#12ecee 130deg,#13ecef 132deg,#20d5f7 134deg,#399cfe 136deg,#3e74ff 138deg,#4057fd 140deg,#4040ed 146deg,#3f3fe0 158deg,#4045f3 176deg,#405eff 186deg,#33abfc 196deg,#30b0fc 200deg,#3d8cff 208deg,#3e7fff 222deg,#404af6 230deg,#4040e8 234deg,#3f3fd4 242deg,#3f3fdb 284deg,#4044f3 310deg,#405aff 326deg,#3d80ff 332deg,#3c94ff 334deg,#19e5f5 338deg,#00f8da 342deg,#00f4c9 344deg,#00f3c6 346deg,#05f5df 350deg,#1edbf7 354deg,#3b98ff 358deg,#3d87ff 360deg)"></i>
<i style="left:164.5px;top:146.5px;width:75px;height:75px;background:conic-gradient(from -20.42deg,#3d87ff 0deg,#4059fe 10deg,#4040ea 30deg,#3f3fce 58deg,#3f3fd0 96deg,#4040eb 116deg,#404df8 120deg,#405cff 122deg,#3d82ff 124deg,#18e7f5 128deg,#11eded 130deg,#15eaf1 132deg,#26c8f9 134deg,#3c91ff 136deg,#3f6cff 138deg,#4054fc 140deg,#4040eb 146deg,#3f3fe0 160deg,#4048f5 178deg,#405bff 186deg,#3c96ff 194deg,#30b1fc 198deg,#32acfc 202deg,#3d8eff 208deg,#3e7dff 222deg,#404af6 230deg,#4040e7 234deg,#3f3fd2 244deg,#3f3fdf 290deg,#4047f4 312deg,#405bff 326deg,#3d82ff 332deg,#3c96ff 334deg,#18e8f5 338deg,#00f8d8 342deg,#00f4c9 344deg,#00f4c7 346deg,#05f5e0 350deg,#1edbf7 354deg,#3b98ff 358deg,#3d87ff 360deg)"></i>
<i style="left:165.5px;top:147.5px;width:73px;height:73px;background:conic-gradient(from -20.77deg,#3d87ff 0deg,#4059fe 10deg,#4040e9 30deg,#3f3fce 60deg,#3f3fd1 96deg,#4040e7 114deg,#4046f4 118deg,#3f68ff 122deg,#3d8eff 124deg,#27c6f9 126deg,#15eaf2 128deg,#11eded 130deg,#18e8f4 132deg,#3d89ff 136deg,#3f65ff 138deg,#4047f4 142deg,#3f3fe3 150deg,#3f3fe2 164deg,#4048f4 178deg,#4059ff 186deg,#36a4fd 196deg,#30b2fc 200deg,#3d89ff 210deg,#3e7aff 222deg,#4049f5 230deg,#4040e7 234deg,#3f3fd2 244deg,#3f3fdf 290deg,#4047f4 312deg,#405cff 326deg,#3d84ff 332deg,#3a9afe 334deg,#16e9f3 338deg,#00f7d7 342deg,#00f4c9 344deg,#00f4c8 346deg,#06f4e0 350deg,#11eded 352deg,#1edaf7 354deg,#3b98ff 358deg,#3d87ff 360deg)"></i>
<i style="left:166.5px;top:148.5px;width:71px;height:71px;background:conic-gradient(from -21.12deg,#3d87ff 0deg,#4059fe 10deg,#4040e9 30deg,#3f3fce 58deg,#3f3fd1 96deg,#4040ea 114deg,#404af6 118deg,#4056fd 120deg,#3e74ff 122deg,#399dfe 124deg,#20d5f7 126deg,#13ebef 128deg,#12ecee 130deg,#1ce0f6 132deg,#32aefc 134deg,#3d80ff 136deg,#405eff 138deg,#4040ef 144deg,#3f3fde 156deg,#4047f4 178deg,#4058fe 186deg,#37a1fe 196deg,#30b2fc 200deg,#3d89ff 210deg,#3e78ff 222deg,#4051fa 228deg,#4040f0 232deg,#3f3fd5 240deg,#3f3fd5 272deg,#4045f3 310deg,#405dff 326deg,#3d86ff 332deg,#389efe 334deg,#15eaf2 338deg,#00f7d6 342deg,#00f4c8 344deg,#00f7d4 348deg,#11eded 352deg,#1fd9f7 354deg,#3b98ff 358deg,#3d87ff 360deg)"></i>
<i style="left:167.5px;top:149.5px;width:69px;height:69px;background:conic-gradient(from -21.48deg,#3d88ff 0deg,#405fff 8deg,#4040ec 28deg,#3f3fce 58deg,#3f3fd0 94deg,#4040ec 114deg,#404ef8 118deg,#405dff 120deg,#3d81ff 122deg,#1be2f6 126deg,#11ecee 128deg,#13ebf0 130deg,#20d5f7 132deg,#38a0fe 134deg,#4059fe 138deg,#4040ed 144deg,#3f3fdd 156deg,#4043f2 176deg,#4060ff 188deg,#35a7fd 198deg,#33abfc 202deg,#3d89ff 210deg,#3e76ff 222deg,#4050f9 228deg,#4040ef 232deg,#3f3fd5 240deg,#3f3fd5 272deg,#4045f3 310deg,#405eff 326deg,#3d88ff 332deg,#37a2fd 334deg,#14ebf1 338deg,#00f7d5 342deg,#00f4c9 344deg,#00f4c9 346deg,#07f4e2 350deg,#12ecee 352deg,#1fd8f7 354deg,#3b97ff 358deg,#3d88ff 360deg)"></i>
<i style="left:168.5px;top:150.5px;width:67px;height:67px;background:conic-gradient(from -21.83deg,#3d88ff 0deg,#405eff 8deg,#4040ec 28deg,#3f3fce 58deg,#3f3fd1 94deg,#4040e8 112deg,#4047f4 116deg,#4052fa 118deg,#3f68ff 120deg,#3d8cff 122deg,#29c1fa 124deg,#17e9f3 126deg,#11eded 128deg,#15eaf2 130deg,#26c9f9 132deg,#3c94ff 134deg,#4056fd 138deg,#4040ec 144deg,#3f3fdd 156deg,#4040ec 172deg,#4056fd 186deg,#3c92ff 196deg,#35a7fd 200deg,#3c95ff 206deg,#3e73ff 222deg,#4047f4 230deg,#3f3fd9 238deg,#3f3fd0 254deg,#4040e6 298deg,#404af6 314deg,#405fff 326deg,#3d8aff 332deg,#35a6fd 334deg,#23cef8 336deg,#13ebef 338deg,#00f7d4 342deg,#00f4c9 344deg,#00f4ca 346deg,#07f3e2 350deg,#12ecee 352deg,#1fd7f7 354deg,#3b97ff 358deg,#3d88ff 360deg)"></i>
<i style="left:169.5px;top:151.5px;width:65px;height:65px;background:conic-gradient(from -22.18deg,#3d88ff 0deg,#4058fe 10deg,#4040e9 30deg,#3f3fce 58deg,#3f3fd1 94deg,#4040ea 112deg,#404bf6 116deg,#4057fd 118deg,#3b99ff 122deg,#23d0f8 124deg,#14ebf0 126deg,#11eded 128deg,#18e8f5 130deg,#3d8cff 134deg,#3f69ff 136deg,#4053fb 138deg,#4041f1 142deg,#3f3fdd 154deg,#4040e8 170deg,#4051fa 184deg,#3f66ff 190deg,#3b98ff 198deg,#37a2fe 202deg,#3e7fff 214deg,#3e71ff 222deg,#4046f3 230deg,#3f3fd5 240deg,#3f3fd5 272deg,#4040f0 306deg,#4060ff 326deg,#3d8dff 332deg,#33aafd 334deg,#22d2f8 336deg,#12ecee 338deg,#00f6d3 342deg,#00f4c9 344deg,#00f4cb 346deg,#08f3e3 350deg,#12ecef 352deg,#20d7f7 354deg,#3b97ff 358deg,#3d88ff 360deg)"></i>
<i style="left:170.5px;top:152.5px;width:63px;height:63px;background:conic-gradient(from -22.53deg,#3d89ff 0deg,#4058fe 10deg,#4040ec 28deg,#3f3fce 58deg,#3f3fd1 92deg,#4040e7 110deg,#4046f3 114deg,#4060ff 118deg,#3d82ff 120deg,#1cdef6 124deg,#12ecee 126deg,#12ecee 128deg,#1be0f6 130deg,#3d86ff 134deg,#3f65ff 136deg,#4048f5 140deg,#3f3fe2 148deg,#3f3fdf 164deg,#4045f3 178deg,#3f63ff 190deg,#3a9aff 200deg,#3b99ff 204deg,#3e78ff 218deg,#3f62ff 224deg,#4040ed 232deg,#3f3fd4 240deg,#3f3fd6 276deg,#4045f3 310deg,#4059ff 324deg,#3e7eff 330deg,#3c91ff 332deg,#1fd9f7 336deg,#10edec 338deg,#00f6d2 342deg,#00f4c9 344deg,#00f8d8 348deg,#12ecee 352deg,#1fd8f7 354deg,#3a99ff 358deg,#3d89ff 360deg)"></i>
<i style="left:171.5px;top:153.5px;width:61px;height:61px;background:conic-gradient(from -22.88deg,#3d8aff 0deg,#4058fe 10deg,#4040ec 28deg,#3f3fce 58deg,#3f3fd1 92deg,#4040ea 110deg,#404af6 114deg,#4055fc 116deg,#3c8fff 120deg,#18e8f5 124deg,#11eced 126deg,#13ebf0 128deg,#1fd9f7 130deg,#3d82ff 134deg,#3f62ff 136deg,#4048f4 140deg,#4040e9 144deg,#3f3fdb 158deg,#4045f3 178deg,#405fff 190deg,#3d8eff 198deg,#3c95ff 204deg,#3f6cff 222deg,#4044f3 230deg,#3f3fd4 240deg,#3f3fd4 270deg,#4040ee 304deg,#405aff 324deg,#3d82ff 330deg,#3c95ff 332deg,#1cdff6 336deg,#04f5de 340deg,#00f4c9 344deg,#00f8d9 348deg,#12ecee 352deg,#1edaf7 354deg,#3a9cfe 358deg,#3d8aff 360deg)"></i>
<i style="left:172.5px;top:154.5px;width:59px;height:59px;background:conic-gradient(from -23.23deg,#3d89ff 0deg,#405cff 8deg,#4040eb 28deg,#3f3fcf 56deg,#3f3fd0 90deg,#4040e7 108deg,#404ff8 114deg,#405bff 116deg,#38a0fe 120deg,#22d1f8 122deg,#14eaf1 124deg,#14ebf0 128deg,#21d3f8 130deg,#36a4fd 132deg,#4060ff 136deg,#4040f0 142deg,#3f3fdc 152deg,#3f3fe3 168deg,#404bf6 182deg,#405cff 190deg,#3c8fff 200deg,#3d8eff 206deg,#3f6aff 222deg,#4044f2 230deg,#3f3fd4 240deg,#3f3fd4 272deg,#4045f3 310deg,#405aff 324deg,#3d84ff 330deg,#3b98ff 332deg,#1ae4f6 336deg,#03f6dd 340deg,#00f4c9 344deg,#00f8da 348deg,#12ecee 352deg,#1fd9f7 354deg,#3a9aff 358deg,#3d89ff 360deg)"></i>
<i style="left:173.5px;top:155.5px;width:57px;height:57px;background:conic-gradient(from -23.58deg,#3d87ff 0deg,#405aff 8deg,#4040ea 28deg,#3f3fcf 56deg,#3f3fd0 88deg,#4040e4 106deg,#4049f5 112deg,#3f68ff 116deg,#3d88ff 118deg,#1ce0f6 122deg,#10eeeb 126deg,#15eaf2 128deg,#23cef8 130deg,#389efe 132deg,#405dff 136deg,#4040ef 142deg,#3f3fdc 152deg,#3f3fe3 168deg,#404df8 184deg,#3f63ff 192deg,#3d8aff 200deg,#3d8cff 206deg,#3f68ff 222deg,#4040ea 232deg,#3f3fd1 242deg,#3f3fdc 288deg,#4047f4 312deg,#405aff 324deg,#3d86ff 330deg,#399dfe 332deg,#18e8f5 336deg,#02f7dc 340deg,#00f4c9 344deg,#00f8da 348deg,#12ecef 352deg,#1fd8f7 354deg,#3b98ff 358deg,#3d87ff 360deg)"></i>
<i style="left:174.5px;top:156.5px;width:55px;height:55px;background:conic-gradient(from -23.93deg,#3d86ff 0deg,#4059fe 8deg,#4040e9 28deg,#3f3fce 58deg,#3f3fd1 90deg,#4040e6 106deg,#4044f3 110deg,#4059fe 114deg,#3c95ff 118deg,#27c6f9 120deg,#17e9f3 122deg,#0feeeb 126deg,#16e9f3 128deg,#26c8f9 130deg,#3b98ff 132deg,#405bff 136deg,#4040ef 142deg,#3f3fdb 152deg,#4040e5 170deg,#4049f5 182deg,#405fff 192deg,#3d85ff 200deg,#3d89ff 206deg,#3f66ff 222deg,#4040ea 232deg,#3f3fd1 242deg,#3f3fd9 284deg,#4046f4 312deg,#405bff 324deg,#3d89ff 330deg,#37a2fe 332deg,#16e9f3 336deg,#01f7dc 340deg,#00f4c9 344deg,#01f8db 348deg,#13ebef 352deg,#20d7f7 354deg,#3c97ff 358deg,#3d86ff 360deg)"></i>
<i style="left:175.5px;top:157.5px;width:53px;height:53px;background:conic-gradient(from -24.28deg,#3d86ff 0deg,#4058fe 8deg,#4040ec 26deg,#3f3fce 56deg,#3f3fd2 90deg,#4040e9 106deg,#4052fb 112deg,#3f64ff 114deg,#34a8fd 118deg,#20d6f7 120deg,#13ebef 122deg,#0feeeb 126deg,#17e8f4 128deg,#3c94ff 132deg,#405aff 136deg,#4040ee 142deg,#3f3fda 154deg,#4040e5 170deg,#4049f5 182deg,#405bff 192deg,#3d85ff 202deg,#3e7eff 210deg,#3f64ff 222deg,#4042f1 230deg,#3f3fd3 240deg,#3f3fd5 276deg,#4046f3 312deg,#405bff 324deg,#3d8aff 330deg,#36a4fd 332deg,#16eaf2 336deg,#01f7db 340deg,#00f4c9 344deg,#00f8db 348deg,#12ecef 352deg,#1fd8f7 354deg,#3c97ff 358deg,#3d86ff 360deg)"></i>
<i style="left:176.5px;top:158.5px;width:51px;height:51px;background:conic-gradient(from -24.63deg,#3d86ff 0deg,#405eff 6deg,#4040eb 26deg,#3f3fce 56deg,#3f3fd2 90deg,#4040e6 104deg,#404df7 110deg,#4057fd 112deg,#3d8eff 116deg,#1ae4f6 120deg,#0defe8 124deg,#19e5f5 128deg,#3c91ff 132deg,#4059fe 136deg,#4040ee 142deg,#3f3fda 152deg,#4040e4 170deg,#404bf6 184deg,#4061ff 194deg,#3d80ff 202deg,#3e7cff 210deg,#4061ff 222deg,#4041f1 230deg,#3f3fd3 240deg,#3f3fd5 276deg,#4045f3 312deg,#405bff 324deg,#3d8bff 330deg,#24ccf8 334deg,#15eaf2 336deg,#01f7db 340deg,#00f4c9 344deg,#00f8da 348deg,#12ecee 352deg,#1fd9f7 354deg,#3b97ff 358deg,#3d86ff 360deg)"></i>
<i style="left:177.5px;top:159.5px;width:49px;height:49px;background:conic-gradient(from -24.98deg,#3d86ff 0deg,#405dff 6deg,#4040ed 24deg,#3f3fce 56deg,#3f3fd3 90deg,#4040e9 104deg,#4048f4 108deg,#4060ff 112deg,#399dfe 116deg,#25cbf9 118deg,#15eaf2 120deg,#0cf0e8 124deg,#1be1f6 128deg,#3d8eff 132deg,#4058fe 136deg,#4040ed 142deg,#3f3fd9 154deg,#4040e4 170deg,#404af6 184deg,#3f66ff 196deg,#3e7eff 204deg,#3f67ff 220deg,#4041f0 230deg,#3f3fd3 240deg,#3f3fd3 272deg,#4040ed 306deg,#405bff 324deg,#3d8cff 330deg,#14eaf1 336deg,#01f7db 340deg,#00f4ca 344deg,#00f8da 348deg,#12ecee 352deg,#1edaf7 354deg,#3b98ff 358deg,#3d86ff 360deg)"></i>
<i style="left:178.5px;top:160.5px;width:47px;height:47px;background:conic-gradient(from -25.33deg,#3d86ff 0deg,#405cff 6deg,#4040ed 24deg,#3f3fcf 54deg,#3f3fd2 88deg,#4040e5 102deg,#404cf7 108deg,#4056fd 110deg,#3d88ff 114deg,#1edbf7 118deg,#12ecee 120deg,#0cf0e7 124deg,#11ecee 126deg,#1ddcf6 128deg,#3d8aff 132deg,#4057fd 136deg,#4040ed 142deg,#3f3fd8 154deg,#4040e6 172deg,#4050f9 188deg,#3f62ff 196deg,#3e7aff 204deg,#3f6aff 218deg,#4048f4 228deg,#3f3fe0 234deg,#3f3fce 246deg,#3f3fdf 294deg,#4047f4 314deg,#405bff 324deg,#3d8eff 330deg,#14ebf0 336deg,#01f8db 340deg,#00f4ca 344deg,#00f8da 348deg,#11ecee 352deg,#1edbf7 354deg,#3b99ff 358deg,#3d86ff 360deg)"></i>
<i style="left:179.5px;top:161.5px;width:45px;height:45px;background:conic-gradient(from -25.68deg,#3d86ff 0deg,#405bff 6deg,#4040ec 24deg,#3f3fcf 54deg,#3f3fd2 88deg,#4040e8 102deg,#4047f4 106deg,#405cff 110deg,#3c94ff 114deg,#18e8f5 118deg,#0af1e6 122deg,#12ecef 126deg,#1fd7f7 128deg,#3d88ff 132deg,#4056fd 136deg,#4040ed 142deg,#3f3fd9 152deg,#3f3fe0 168deg,#4046f4 182deg,#405eff 196deg,#3e77ff 206deg,#3f63ff 220deg,#4040ef 230deg,#3f3fd2 240deg,#3f3fd4 276deg,#4046f4 314deg,#405bff 324deg,#3c8fff 330deg,#21d3f8 334deg,#13ebf0 336deg,#00f8db 340deg,#00f4ca 344deg,#00f8da 348deg,#11eded 352deg,#1ddcf6 354deg,#3a9aff 358deg,#3d86ff 360deg)"></i>
<i style="left:180.5px;top:162.5px;width:43px;height:43px;background:conic-gradient(from -26.03deg,#3d86ff 0deg,#405aff 6deg,#4040eb 24deg,#3f3fcf 54deg,#3f3fd2 86deg,#4040e5 100deg,#404bf6 106deg,#3f67ff 110deg,#35a5fd 114deg,#22d1f8 116deg,#14ebf0 118deg,#09f2e5 122deg,#14ebf0 126deg,#21d3f8 128deg,#3d85ff 132deg,#4056fc 136deg,#4040ec 142deg,#3f3fd8 154deg,#4040e5 172deg,#404bf6 186deg,#3f67ff 200deg,#3e73ff 208deg,#405aff 222deg,#4040ee 230deg,#3f3fd2 240deg,#3f3fd4 278deg,#4046f3 314deg,#405cff 324deg,#3c90ff 330deg,#20d5f7 334deg,#13ebef 336deg,#00f8da 340deg,#00f4ca 344deg,#07f3e2 350deg,#1dddf6 354deg,#3a9bfe 358deg,#3d86ff 360deg)"></i>
<i style="left:181.5px;top:163.5px;width:41px;height:41px;background:conic-gradient(from -26.38deg,#3d87ff 0deg,#405aff 6deg,#4040ed 22deg,#3f3fcf 52deg,#3f3fd2 86deg,#4040e8 100deg,#404ff9 106deg,#4059ff 108deg,#3d8eff 112deg,#1cdff6 116deg,#0af1e5 120deg,#0cf0e8 124deg,#15eaf1 126deg,#24cef8 128deg,#37a2fd 130deg,#3f67ff 134deg,#404bf6 138deg,#3f3fe0 146deg,#3f3fd8 160deg,#4045f3 182deg,#3f63ff 200deg,#3f6eff 210deg,#4059fe 222deg,#4040e5 232deg,#3f3fd0 242deg,#3f3fd8 286deg,#4045f3 314deg,#405cff 324deg,#3c92ff 330deg,#20d7f7 334deg,#12ecef 336deg,#00f8da 340deg,#00f4ca 344deg,#07f3e2 350deg,#1cdff6 354deg,#399cfe 358deg,#3d87ff 360deg)"></i>
<i style="left:182.5px;top:164.5px;width:39px;height:39px;background:conic-gradient(from -26.73deg,#3d87ff 0deg,#405aff 6deg,#4040ed 22deg,#3f3fcf 52deg,#3f3fd1 84deg,#4040e4 98deg,#404af6 104deg,#3f62ff 108deg,#3b98ff 112deg,#17e9f4 116deg,#08f2e4 120deg,#0df0e8 124deg,#15eaf2 126deg,#24ccf8 128deg,#37a1fe 130deg,#3f67ff 134deg,#404bf7 138deg,#3f3fe0 146deg,#3f3fd8 162deg,#4046f4 184deg,#3f6bff 208deg,#4058fe 222deg,#4040e5 232deg,#3f3fcf 242deg,#3f3fd9 288deg,#4045f3 314deg,#405dff 324deg,#3c93ff 330deg,#1fd9f7 334deg,#12ecee 336deg,#00f8da 340deg,#00f4ca 344deg,#07f3e2 350deg,#1ce0f6 354deg,#399dfe 358deg,#3d87ff 360deg)"></i>
<i style="left:183.5px;top:165.5px;width:37px;height:37px;background:conic-gradient(from -27.08deg,#3d88ff 0deg,#4059ff 6deg,#4040ec 22deg,#3f3fce 54deg,#3f3fd3 86deg,#4040e7 98deg,#404df7 104deg,#3f6bff 108deg,#35a7fd 112deg,#22d1f8 114deg,#14ebf0 116deg,#07f3e2 120deg,#0df0e8 124deg,#16e9f3 126deg,#25caf9 128deg,#389ffe 130deg,#3f66ff 134deg,#404bf7 138deg,#3f3fe0 146deg,#3f3fd8 162deg,#4045f3 184deg,#3f68ff 208deg,#4057fd 222deg,#4040ec 230deg,#3f3fd1 240deg,#3f3fd3 278deg,#4045f3 314deg,#405eff 324deg,#3c94ff 330deg,#1edbf7 334deg,#08f3e2 338deg,#00f5ce 342deg,#00f5ce 346deg,#07f3e2 350deg,#1be1f6 354deg,#389efe 358deg,#3d88ff 360deg)"></i>
<i style="left:184.5px;top:166.5px;width:35px;height:35px;background:conic-gradient(from -27.43deg,#3d88ff 0deg,#4059ff 6deg,#4040ee 20deg,#3f3fcf 52deg,#3f3fd2 84deg,#4040e9 98deg,#4050f9 104deg,#405bff 106deg,#3d8eff 110deg,#1dddf6 114deg,#11eded 116deg,#06f4e1 120deg,#16e9f3 126deg,#399dfe 130deg,#3f66ff 134deg,#404bf7 138deg,#3f3fe0 146deg,#3f3fd6 160deg,#4044f2 184deg,#3f64ff 210deg,#4050f9 224deg,#3f3fe3 232deg,#3f3fcf 242deg,#3f3fd8 288deg,#4044f2 314deg,#405eff 324deg,#3c96ff 330deg,#1ddcf6 334deg,#11eded 336deg,#00f8da 340deg,#00f4ca 344deg,#07f4e1 350deg,#1be2f6 354deg,#389ffe 358deg,#3d88ff 360deg)"></i>
<i style="left:185.5px;top:167.5px;width:33px;height:33px;background:conic-gradient(from -27.78deg,#3d89ff 0deg,#4059ff 6deg,#4040ed 20deg,#3f3fcf 52deg,#3f3fd3 84deg,#4040e6 96deg,#404bf6 102deg,#3f63ff 106deg,#3b97ff 110deg,#18e8f5 114deg,#05f5e0 120deg,#17e9f4 126deg,#3a9cfe 130deg,#3f66ff 134deg,#404cf7 138deg,#4040e6 144deg,#3f3fd5 156deg,#4040ed 180deg,#4061ff 210deg,#404ff9 224deg,#3f3fe3 232deg,#3f3fcf 242deg,#3f3fd6 286deg,#4044f2 314deg,#405fff 324deg,#3b98ff 330deg,#1cdef6 334deg,#07f3e2 338deg,#00f4ca 344deg,#06f4e1 350deg,#1ae3f6 354deg,#37a1fe 358deg,#3d89ff 360deg)"></i>
<i style="left:186.5px;top:168.5px;width:31px;height:31px;background:conic-gradient(from -28.13deg,#3d8aff 0deg,#4059fe 6deg,#4040ed 20deg,#3f3fd0 50deg,#3f3fd2 82deg,#4040e8 96deg,#404ef8 102deg,#3f6cff 106deg,#35a5fd 110deg,#23cff8 112deg,#15eaf1 114deg,#04f5df 120deg,#18e8f4 126deg,#3a9afe 130deg,#3f66ff 134deg,#404cf7 138deg,#4040e6 144deg,#3f3fd5 156deg,#4040e6 176deg,#404ef8 194deg,#405dff 212deg,#404ef8 224deg,#4040e9 230deg,#3f3fce 242deg,#3f3fd8 290deg,#4044f2 314deg,#4060ff 324deg,#3a9afe 330deg,#1be0f6 334deg,#00f8d9 340deg,#00f4ca 344deg,#06f4e1 350deg,#1ae5f5 354deg,#37a2fe 358deg,#3d8aff 360deg)"></i>
<i style="left:187.5px;top:169.5px;width:29px;height:29px;background:conic-gradient(from -28.48deg,#3d8bff 0deg,#4059ff 6deg,#4040ec 20deg,#3f3fcf 50deg,#3f3fd2 82deg,#4040eb 96deg,#4052fa 102deg,#405eff 104deg,#3c8fff 108deg,#1edbf7 112deg,#11eded 114deg,#04f6de 120deg,#18e8f5 126deg,#3a9aff 130deg,#3f66ff 134deg,#404cf7 138deg,#4040e6 144deg,#3f3fd5 156deg,#4040e8 178deg,#405aff 210deg,#4052fa 222deg,#4040e9 230deg,#3f3fd0 240deg,#3f3fd3 280deg,#4040ed 310deg,#4057fd 322deg,#3d86ff 328deg,#399dfe 330deg,#1be2f6 334deg,#00f8d9 340deg,#00f4ca 344deg,#06f4e1 350deg,#19e6f5 354deg,#36a4fd 358deg,#3d8bff 360deg)"></i>
<i style="left:188.5px;top:170.5px;width:27px;height:27px;background:conic-gradient(from -28.83deg,#3d8cff 0deg,#4059ff 6deg,#4040ef 18deg,#3f3fcf 50deg,#3f3fd3 82deg,#4040e8 94deg,#404df8 100deg,#3f67ff 104deg,#3b99ff 108deg,#18e7f5 112deg,#03f6dd 118deg,#0eefea 124deg,#18e7f5 126deg,#3a9aff 130deg,#3f67ff 134deg,#404df7 138deg,#4040e7 144deg,#3f3fd5 156deg,#4040e4 176deg,#404bf7 194deg,#4058fe 214deg,#404cf7 224deg,#4040e8 230deg,#3f3fce 242deg,#3f3fd6 288deg,#4043f2 314deg,#4057fd 322deg,#3d88ff 328deg,#38a0fe 330deg,#1ae4f5 334deg,#00f8d8 340deg,#00f4cb 344deg,#06f4e1 350deg,#18e8f5 354deg,#3d8cff 360deg)"></i>
<i style="left:189.5px;top:171.5px;width:25px;height:25px;background:conic-gradient(from -29.18deg,#3d8dff 0deg,#405aff 6deg,#4040ee 18deg,#3f3fd0 48deg,#3f3fd3 82deg,#4040f0 96deg,#4058fe 102deg,#37a1fe 108deg,#17e9f3 112deg,#02f7dc 118deg,#0df0e8 124deg,#17e9f3 126deg,#37a1fe 130deg,#4058fe 136deg,#4040f0 142deg,#3f3fd8 152deg,#3f3fdb 170deg,#4048f4 192deg,#4057fd 214deg,#4045f3 226deg,#3f3fcf 240deg,#3f3fd4 284deg,#4043f2 314deg,#4057fe 322deg,#3d89ff 328deg,#27c5f9 332deg,#19e6f5 334deg,#00f8d8 340deg,#00f4cb 344deg,#06f4e0 350deg,#18e8f5 354deg,#3d8dff 360deg)"></i>
<i style="left:190.5px;top:172.5px;width:23px;height:23px;background:conic-gradient(from -29.53deg,#3d8eff 0deg,#405aff 6deg,#4040ee 18deg,#3f3fd0 48deg,#3f3fd2 80deg,#4040eb 94deg,#405aff 102deg,#34a8fd 108deg,#23cff8 110deg,#15eaf2 112deg,#01f7db 118deg,#0bf0e7 124deg,#15eaf2 126deg,#23cff8 128deg,#3d88ff 132deg,#405aff 136deg,#4041f1 142deg,#3f3fd6 154deg,#3f3fdf 174deg,#4048f5 194deg,#4055fc 214deg,#404af6 224deg,#3f3fdf 232deg,#3f3fcd 244deg,#3f3fd8 292deg,#4043f2 314deg,#4058fe 322deg,#3d8bff 328deg,#18e8f5 334deg,#00f8d8 340deg,#00f4cb 344deg,#05f4e0 350deg,#17e9f4 354deg,#3d8eff 360deg)"></i>
<i style="left:191.5px;top:173.5px;width:21px;height:21px;background:conic-gradient(from -29.88deg,#3c8fff 0deg,#405aff 6deg,#4040ed 18deg,#3f3fd1 46deg,#3f3fd2 80deg,#4044f2 96deg,#405fff 102deg,#3d8dff 106deg,#20d5f7 110deg,#13ebf0 112deg,#00f8da 118deg,#0af1e5 124deg,#13ebf0 126deg,#21d4f7 128deg,#3d8dff 132deg,#405eff 136deg,#4040ec 144deg,#3f3fd5 156deg,#3f3fe1 176deg,#404bf7 198deg,#4053fb 218deg,#4040ed 228deg,#3f3fcf 240deg,#3f3fd3 284deg,#4040ec 310deg,#4052fa 320deg,#3f67ff 324deg,#3d8cff 328deg,#17e8f4 334deg,#00f7d8 340deg,#00f4cb 344deg,#05f5e0 350deg,#17e9f4 354deg,#3c8fff 360deg)"></i>
<i style="left:192.5px;top:174.5px;width:19px;height:19px;background:conic-gradient(from -30.23deg,#3c90ff 0deg,#405bff 6deg,#4040ed 18deg,#3f3fcf 48deg,#3f3fd3 80deg,#4040ef 94deg,#4055fc 100deg,#3c91ff 106deg,#1fd8f7 110deg,#12ecef 112deg,#00f8da 118deg,#0af2e5 124deg,#13ecef 126deg,#1fd8f7 128deg,#3c90ff 132deg,#3f62ff 136deg,#4045f3 142deg,#3f3fd7 154deg,#3f3fdb 172deg,#4048f4 196deg,#4052fa 218deg,#4040ec 228deg,#3f3fcf 240deg,#3f3fd2 284deg,#4040ef 312deg,#4059fe 322deg,#3d8eff 328deg,#17e9f4 334deg,#00f7d8 340deg,#00f4cb 344deg,#05f5e0 350deg,#16e9f3 354deg,#3c90ff 360deg)"></i>
<i style="left:193.5px;top:175.5px;width:17px;height:17px;background:conic-gradient(from -30.58deg,#3c92ff 0deg,#405cff 6deg,#4040ec 18deg,#3f3fd0 46deg,#3f3fd3 80deg,#4047f4 96deg,#4057fd 100deg,#3c94ff 106deg,#1ddcf6 110deg,#09f2e4 114deg,#00f8da 120deg,#12ecee 126deg,#1edbf7 128deg,#3c93ff 132deg,#4056fd 138deg,#4040ef 144deg,#3f3fd6 156deg,#3f3fe1 178deg,#404af6 200deg,#404ff9 220deg,#4040e4 230deg,#3f3fcd 242deg,#3f3fd5 290deg,#4043f2 314deg,#405aff 322deg,#3c90ff 328deg,#16e9f3 334deg,#00f7d7 340deg,#00f4cb 344deg,#05f5df 350deg,#16e9f2 354deg,#3c92ff 360deg)"></i>
<i style="left:194.5px;top:176.5px;width:15px;height:15px;background:conic-gradient(from -30.93deg,#3c93ff 0deg,#405dff 6deg,#4040f0 16deg,#3f3fd3 40deg,#3f3fd0 76deg,#4040e5 90deg,#4049f5 96deg,#4059fe 100deg,#3b98ff 106deg,#1cdff6 110deg,#09f2e4 114deg,#00f8da 120deg,#11eded 126deg,#1cdef6 128deg,#3c97ff 132deg,#4058fe 138deg,#4040ea 146deg,#3f3fd5 158deg,#3f3fe2 180deg,#404ef8 206deg,#404bf6 222deg,#3f3fe3 230deg,#3f3fcd 242deg,#3f3fd5 290deg,#4044f2 314deg,#405bff 322deg,#3c91ff 328deg,#16eaf2 334deg,#00f7d7 340deg,#00f5cb 344deg,#05f5df 350deg,#15eaf2 354deg,#3c93ff 360deg)"></i>
<i style="left:195.5px;top:177.5px;width:13px;height:13px;background:conic-gradient(from -31.28deg,#3c94ff 0deg,#405eff 6deg,#4040f0 16deg,#3f3fd4 38deg,#3f3fcf 72deg,#3f3fe2 88deg,#404af6 96deg,#405bff 100deg,#399efe 106deg,#1ae2f6 110deg,#03f6de 116deg,#03f6de 122deg,#1be1f6 128deg,#3a9cfe 132deg,#4059ff 138deg,#4040ec 146deg,#3f3fd5 158deg,#3f3fe3 182deg,#404ef8 210deg,#404af6 222deg,#3f3fe2 230deg,#3f3fcc 242deg,#3f3fd6 292deg,#4044f2 314deg,#405cff 322deg,#3c93ff 328deg,#15eaf2 334deg,#00f7d7 340deg,#00f5cb 344deg,#04f5df 350deg,#15eaf1 354deg,#2fb3fb 358deg,#3c94ff 360deg)"></i>
<i style="left:196.5px;top:178.5px;width:11px;height:11px;background:conic-gradient(from -31.63deg,#3c95ff 0deg,#405fff 6deg,#4040f0 16deg,#3f3fd3 38deg,#3f3fd0 74deg,#3f3fe3 88deg,#4045f3 94deg,#405fff 100deg,#36a3fd 106deg,#19e5f5 110deg,#00f8da 118deg,#08f2e3 124deg,#1ae4f5 128deg,#37a0fe 132deg,#405cff 138deg,#4040ed 146deg,#3f3fd5 158deg,#3f3fe0 180deg,#404af6 206deg,#4049f5 222deg,#3f3fdc 232deg,#3f3fcb 246deg,#3f3fd8 296deg,#4044f2 314deg,#405dff 322deg,#3c94ff 328deg,#21d4f7 332deg,#15eaf1 334deg,#00f7d7 340deg,#00f5cb 344deg,#04f5df 350deg,#14eaf1 354deg,#20d5f7 356deg,#3c95ff 360deg)"></i>
<i style="left:197.5px;top:179.5px;width:9px;height:9px;background:conic-gradient(from -31.98deg,#3c97ff 0deg,#4060ff 6deg,#4040f0 16deg,#3f3fd4 36deg,#3f3fcf 72deg,#4040e4 88deg,#4047f4 94deg,#3f63ff 100deg,#3d8cff 104deg,#18e8f5 110deg,#00f8da 118deg,#08f3e3 124deg,#18e7f5 128deg,#3d8aff 134deg,#4060ff 138deg,#4040ef 146deg,#3f3fd6 158deg,#3f3fdd 178deg,#4047f4 204deg,#4048f4 222deg,#3f3fd6 234deg,#3e3eca 252deg,#3f3fd9 298deg,#4044f2 314deg,#405fff 322deg,#3c96ff 328deg,#20d6f7 332deg,#14ebf1 334deg,#00f7d7 340deg,#00f5cb 344deg,#04f5df 350deg,#14ebf1 354deg,#20d7f7 356deg,#3c97ff 360deg)"></i>
<i style="left:198.5px;top:180.5px;width:7px;height:7px;background:conic-gradient(from -32.33deg,#3b99ff 0deg,#4061ff 6deg,#4040f0 16deg,#3f3fd4 36deg,#3f3fcf 72deg,#4040e6 88deg,#4048f5 94deg,#3f66ff 100deg,#3c8fff 104deg,#17e9f4 110deg,#00f8da 118deg,#08f3e3 124deg,#18e8f4 128deg,#3d8dff 134deg,#3f63ff 138deg,#4041f0 146deg,#3f3fd6 158deg,#3f3fdb 178deg,#4048f5 208deg,#4047f4 222deg,#3f3fcf 238deg,#3f3fcf 282deg,#4040e7 308deg,#404af5 316deg,#4060ff 322deg,#3b98ff 328deg,#1fd8f7 332deg,#14ebf0 334deg,#00f7d7 340deg,#00f5cc 344deg,#04f5de 350deg,#14ebf0 354deg,#1fd8f7 356deg,#3b99ff 360deg)"></i>
</div></div>
<div class="a" style="left:0;top:0;width:960px;height:600px;clip-path:circle(124.5px at 202px 448px);"><div class="dk a" style="left:0;top:0;width:960px;height:600px;filter:blur(0.9px);">
<i style="left:75.5px;top:321.5px;width:253px;height:253px;background:conic-gradient(from 40.12deg,#1ec100 0deg,#9ce100 2deg,#fffc00 4deg,#ffdd00 26deg,#fffc00 52deg,#a0e200 56deg,#66d300 58deg,#14be00 80deg,#0ac51d 94deg,#00ce3f 100deg,#00ea9d 106deg,#00f2c2 112deg,#00efb6 116deg,#00e99b 118deg,#02cc36 122deg,#0bc51b 124deg,#80d900 126deg,#fffc00 128deg,#ff7600 136deg,#ff7900 144deg,#ff8b00 146deg,#ffed00 152deg,#d9f300 154deg,#80d900 156deg,#14be00 158deg,#03cb33 160deg,#00e487 162deg,#00f1bd 164deg,#04f5df 168deg,#0cf0e8 172deg,#0bf1e6 202deg,#00f8da 220deg,#00d75e 222deg,#1ec100 224deg,#fffc00 226deg,#ffa800 228deg,#fe6f00 230deg,#ee4300 236deg,#ee4300 240deg,#ff8000 266deg,#ff9e00 274deg,#fff700 290deg,#f3fb00 292deg,#89db00 298deg,#27c300 302deg,#0fc20f 304deg,#04ca31 306deg,#00e07b 308deg,#00edac 310deg,#04f6de 316deg,#0feeeb 322deg,#0feeeb 350deg,#0cf0e8 354deg,#00e99a 356deg,#02cc36 358deg,#1ec100 360deg)"></i>
<i style="left:76.5px;top:322.5px;width:251px;height:251px;background:conic-gradient(from 39.38deg,#1ec100 0deg,#9ce100 2deg,#fffc00 4deg,#ffdd00 26deg,#fffc00 52deg,#a0e200 56deg,#66d300 58deg,#14be00 80deg,#0ac51d 94deg,#00ce3f 100deg,#00ea9d 106deg,#00f2c2 112deg,#00efb6 116deg,#00e99b 118deg,#02cc36 122deg,#0bc51b 124deg,#80d900 126deg,#fffc00 128deg,#ff7600 136deg,#ff7900 144deg,#ff8b00 146deg,#ffed00 152deg,#d9f300 154deg,#80d900 156deg,#14be00 158deg,#03cb33 160deg,#00e487 162deg,#00f1bd 164deg,#04f5df 168deg,#0cf0e8 172deg,#0bf1e6 202deg,#00f8da 220deg,#00d75e 222deg,#1ec100 224deg,#fffc00 226deg,#ffa800 228deg,#fe6f00 230deg,#ee4300 236deg,#ee4300 240deg,#ff8000 266deg,#ff9e00 274deg,#fff700 290deg,#f3fb00 292deg,#89db00 298deg,#27c300 302deg,#0fc20f 304deg,#04ca31 306deg,#00e07b 308deg,#00edac 310deg,#04f6de 316deg,#0feeeb 322deg,#0feeeb 350deg,#0cf0e8 354deg,#00e99a 356deg,#02cc36 358deg,#1ec100 360deg)"></i>
<i style="left:77.5px;top:323.5px;width:249px;height:249px;background:conic-gradient(from 38.62deg,#1ec100 0deg,#9ce100 2deg,#fffc00 4deg,#ffdd00 26deg,#fffc00 52deg,#a0e200 56deg,#66d300 58deg,#14be00 80deg,#0ac51d 94deg,#00ce3f 100deg,#00ea9d 106deg,#00f2c2 112deg,#00efb6 116deg,#00e99b 118deg,#02cc36 122deg,#0bc51b 124deg,#80d900 126deg,#fffc00 128deg,#ff7600 136deg,#ff7900 144deg,#ff8b00 146deg,#ffed00 152deg,#d9f300 154deg,#80d900 156deg,#14be00 158deg,#03cb33 160deg,#00e487 162deg,#00f1bd 164deg,#04f5df 168deg,#0cf0e8 172deg,#0bf1e6 202deg,#00f8da 220deg,#00d75e 222deg,#1ec100 224deg,#fffc00 226deg,#ffa800 228deg,#fe6f00 230deg,#ee4300 236deg,#ee4300 240deg,#ff8000 266deg,#ff9e00 274deg,#fff700 290deg,#f3fb00 292deg,#89db00 298deg,#27c300 302deg,#0fc20f 304deg,#04ca31 306deg,#00e07b 308deg,#00edac 310deg,#04f6de 316deg,#0feeeb 322deg,#0feeeb 350deg,#0cf0e8 354deg,#00e99a 356deg,#02cc36 358deg,#1ec100 360deg)"></i>
<i style="left:78.5px;top:324.5px;width:247px;height:247px;background:conic-gradient(from 37.88deg,#1ec100 0deg,#9ce100 2deg,#fffc00 4deg,#ffdd00 26deg,#fffc00 52deg,#a0e200 56deg,#66d300 58deg,#14be00 80deg,#0ac51d 94deg,#00ce3f 100deg,#00ea9d 106deg,#00f2c2 112deg,#00efb6 116deg,#00e99b 118deg,#02cc36 122deg,#0bc51b 124deg,#80d900 126deg,#fffc00 128deg,#ff7600 136deg,#ff7900 144deg,#ff8b00 146deg,#ffed00 152deg,#d9f300 154deg,#80d900 156deg,#14be00 158deg,#03cb33 160deg,#00e487 162deg,#00f1bd 164deg,#04f5df 168deg,#0cf0e8 172deg,#0bf1e6 202deg,#00f8da 220deg,#00d75e 222deg,#1ec100 224deg,#fffc00 226deg,#ffa800 228deg,#fe6f00 230deg,#ee4300 236deg,#ee4300 240deg,#ff8000 266deg,#ff9e00 274deg,#fff700 290deg,#f3fb00 292deg,#89db00 298deg,#27c300 302deg,#0fc20f 304deg,#04ca31 306deg,#00e07b 308deg,#00edac 310deg,#04f6de 316deg,#0feeeb 322deg,#0feeeb 350deg,#0cf0e8 354deg,#00e99a 356deg,#02cc36 358deg,#1ec100 360deg)"></i>
<i style="left:79.5px;top:325.5px;width:245px;height:245px;background:conic-gradient(from 37.12deg,#1ec100 0deg,#9ce100 2deg,#fffc00 4deg,#ffdd00 26deg,#fffc00 52deg,#a0e200 56deg,#66d300 58deg,#14be00 80deg,#0ac51d 94deg,#00ce3f 100deg,#00ea9d 106deg,#00f2c2 112deg,#00efb6 116deg,#00e99b 118deg,#02cc36 122deg,#0bc51b 124deg,#80d900 126deg,#fffc00 128deg,#ff7600 136deg,#ff7900 144deg,#ff8b00 146deg,#ffed00 152deg,#d9f300 154deg,#80d900 156deg,#14be00 158deg,#03cb33 160deg,#00e487 162deg,#00f1bd 164deg,#04f5df 168deg,#0cf0e8 172deg,#0bf1e6 202deg,#00f8da 220deg,#00d75e 222deg,#1ec100 224deg,#fffc00 226deg,#ffa800 228deg,#fe6f00 230deg,#ee4300 236deg,#ee4300 240deg,#ff8000 266deg,#ff9e00 274deg,#fff700 290deg,#f3fb00 292deg,#89db00 298deg,#27c300 302deg,#0fc20f 304deg,#04ca31 306deg,#00e07b 308deg,#00edac 310deg,#04f6de 316deg,#0feeeb 322deg,#0feeeb 350deg,#0cf0e8 354deg,#00e99a 356deg,#02cc36 358deg,#1ec100 360deg)"></i>
<i style="left:80.5px;top:326.5px;width:243px;height:243px;background:conic-gradient(from 36.38deg,#1ec100 0deg,#9ce100 2deg,#fffc00 4deg,#ffdd00 26deg,#fffc00 52deg,#a0e200 56deg,#66d300 58deg,#14be00 80deg,#0ac51d 94deg,#00ce3f 100deg,#00ea9d 106deg,#00f2c2 112deg,#00efb6 116deg,#00e99b 118deg,#02cc36 122deg,#0bc51b 124deg,#80d900 126deg,#fffc00 128deg,#ff7600 136deg,#ff7900 144deg,#ff8b00 146deg,#ffed00 152deg,#d9f300 154deg,#80d900 156deg,#14be00 158deg,#03cb33 160deg,#00e487 162deg,#00f1bd 164deg,#04f5df 168deg,#0cf0e8 172deg,#0bf1e6 202deg,#00f8da 220deg,#00d75e 222deg,#1ec100 224deg,#fffc00 226deg,#ffa800 228deg,#fe6f00 230deg,#ee4300 236deg,#ee4300 240deg,#ff8000 266deg,#ff9e00 274deg,#fff700 290deg,#f3fb00 292deg,#89db00 298deg,#27c300 302deg,#0fc20f 304deg,#04ca31 306deg,#00e07b 308deg,#00edac 310deg,#04f6de 316deg,#0feeeb 322deg,#0feeeb 350deg,#0cf0e8 354deg,#00e99a 356deg,#02cc36 358deg,#1ec100 360deg)"></i>
<i style="left:81.5px;top:327.5px;width:241px;height:241px;background:conic-gradient(from 35.62deg,#1ec100 0deg,#9ce100 2deg,#fffc00 4deg,#ffdd00 26deg,#fffc00 52deg,#a0e200 56deg,#66d300 58deg,#14be00 80deg,#0ac51d 94deg,#00ce3f 100deg,#00ea9d 106deg,#00f2c2 112deg,#00efb6 116deg,#00e99b 118deg,#02cc36 122deg,#0bc51b 124deg,#80d900 126deg,#fffc00 128deg,#ff7600 136deg,#ff7900 144deg,#ff8b00 146deg,#ffed00 152deg,#d9f300 154deg,#80d900 156deg,#14be00 158deg,#03cb33 160deg,#00e487 162deg,#00f1bd 164deg,#04f5df 168deg,#0cf0e8 172deg,#0bf1e6 202deg,#00f8da 220deg,#00d75e 222deg,#1ec100 224deg,#fffc00 226deg,#ffa800 228deg,#fe6f00 230deg,#ee4300 236deg,#ee4300 240deg,#ff8000 266deg,#ff9e00 274deg,#fff700 290deg,#f3fb00 292deg,#89db00 298deg,#27c300 302deg,#0fc20f 304deg,#04ca31 306deg,#00e07b 308deg,#00edac 310deg,#04f6de 316deg,#0feeeb 322deg,#0feeeb 350deg,#0cf0e8 354deg,#00e99a 356deg,#02cc36 358deg,#1ec100 360deg)"></i>
<i style="left:82.5px;top:328.5px;width:239px;height:239px;background:conic-gradient(from 34.88deg,#1dc000 0deg,#9be100 2deg,#fffd00 4deg,#ffdb00 26deg,#fffc00 52deg,#dff500 54deg,#76d600 58deg,#5fd100 60deg,#13bf03 82deg,#0bc51c 94deg,#00ce3f 100deg,#00e99c 106deg,#00f2c2 112deg,#00f0b7 116deg,#00eba2 118deg,#01cc3a 122deg,#0ac61f 124deg,#6dd400 126deg,#f5fc00 128deg,#ffc000 132deg,#ff7800 136deg,#ff7700 144deg,#ff8800 146deg,#ffec00 152deg,#dbf400 154deg,#81d900 156deg,#14be00 158deg,#03cb33 160deg,#00e488 162deg,#00f1bd 164deg,#04f5df 168deg,#0cf0e8 172deg,#0af2e5 204deg,#00f8da 220deg,#00d964 222deg,#14be01 224deg,#fafd00 226deg,#ffad00 228deg,#fe7000 230deg,#ee4400 236deg,#ed4200 240deg,#ff7f00 266deg,#ff9d00 274deg,#fff700 290deg,#f3fb00 292deg,#8adb00 298deg,#2ac300 302deg,#10c10d 304deg,#05c92d 306deg,#00edaa 310deg,#03f6dd 316deg,#0feeeb 322deg,#11eded 348deg,#0cf0e8 354deg,#00e99b 356deg,#02cc37 358deg,#1dc000 360deg)"></i>
<i style="left:83.5px;top:329.5px;width:237px;height:237px;background:conic-gradient(from 34.12deg,#1cc000 0deg,#9ae000 2deg,#fffd00 4deg,#ffdc00 28deg,#fffb00 52deg,#ebf900 54deg,#86da00 58deg,#5fd100 60deg,#13bf03 82deg,#0bc51c 94deg,#00ce3e 100deg,#00e99b 106deg,#00f2c2 112deg,#00f0b9 116deg,#00eda9 118deg,#00ce3f 122deg,#09c622 124deg,#5ad000 126deg,#e6f700 128deg,#ffe300 130deg,#ff7900 136deg,#ff7600 144deg,#ff8500 146deg,#ffeb00 152deg,#dcf400 154deg,#82da00 156deg,#14be00 158deg,#03cb33 160deg,#00e488 162deg,#00f2be 164deg,#05f5df 168deg,#0cf0e8 172deg,#0af2e5 204deg,#00f8da 220deg,#00db69 222deg,#12c007 224deg,#effa00 226deg,#ffb300 228deg,#ff7200 230deg,#ef4500 236deg,#eb3c00 238deg,#ff7900 264deg,#ff9c00 274deg,#fff700 290deg,#f4fc00 292deg,#8bdc00 298deg,#2cc400 302deg,#10c10c 304deg,#06c829 306deg,#00eca7 310deg,#02f7dc 316deg,#10eeec 322deg,#12ecee 348deg,#0cf0e8 354deg,#00e99c 356deg,#02cc37 358deg,#1cc000 360deg)"></i>
<i style="left:84.5px;top:330.5px;width:235px;height:235px;background:conic-gradient(from 33.38deg,#1ac000 0deg,#99e000 2deg,#fffe00 4deg,#ffdb00 28deg,#fffa00 52deg,#f7fd00 54deg,#5fd100 60deg,#13bf03 82deg,#0bc51b 94deg,#00cd3e 100deg,#00e99a 106deg,#00f2c2 112deg,#00eeb1 118deg,#00d046 122deg,#08c725 124deg,#47cb00 126deg,#d7f300 128deg,#ffe700 130deg,#ff7b00 136deg,#ff7300 140deg,#ff7400 144deg,#ff8100 146deg,#ffea00 152deg,#def500 154deg,#84da00 156deg,#15be00 158deg,#03cb33 160deg,#00e488 162deg,#00f2bf 164deg,#05f5df 168deg,#0df0e8 172deg,#0bf1e6 202deg,#00f8da 220deg,#00dc6e 222deg,#0fc10e 224deg,#e4f700 226deg,#ffb800 228deg,#ff7300 230deg,#eb3b00 238deg,#ff7800 264deg,#ff9c00 274deg,#fff600 290deg,#f4fc00 292deg,#8cdc00 298deg,#2fc500 302deg,#11c00a 304deg,#08c725 306deg,#00d75e 308deg,#00eca5 310deg,#01f8db 316deg,#10eeec 322deg,#12ecee 348deg,#0cf0e8 354deg,#00ea9d 356deg,#01cc38 358deg,#1ac000 360deg)"></i>
<i style="left:85.5px;top:331.5px;width:233px;height:233px;background:conic-gradient(from 32.62deg,#19bf00 0deg,#98e000 2deg,#fffe00 4deg,#ffda00 28deg,#fffd00 54deg,#9fe200 58deg,#66d300 60deg,#50cd00 64deg,#13bf03 82deg,#0cc419 94deg,#00cd3d 100deg,#00e999 106deg,#00f2c2 112deg,#00f0b7 118deg,#00d24d 122deg,#06c829 124deg,#35c600 126deg,#c8ee00 128deg,#ffea00 130deg,#ff7c00 136deg,#fe7000 138deg,#ff7200 144deg,#ff7e00 146deg,#ffe900 152deg,#dff500 154deg,#85da00 156deg,#15be00 158deg,#03cb33 160deg,#00e489 162deg,#00f2c0 164deg,#05f5e0 168deg,#0df0e8 172deg,#0bf1e6 202deg,#01f8db 220deg,#00de74 222deg,#0dc314 224deg,#d9f400 226deg,#ffbd00 228deg,#ff7400 230deg,#eb3c00 238deg,#ff7700 264deg,#ff9b00 274deg,#fff600 290deg,#f5fc00 292deg,#8ddc00 298deg,#32c500 302deg,#11c008 304deg,#09c622 306deg,#00d455 308deg,#00eaa0 310deg,#00f8d9 316deg,#10eeec 322deg,#14ebf0 346deg,#0df0e8 354deg,#00ea9e 356deg,#01cc38 358deg,#19bf00 360deg)"></i>
<i style="left:86.5px;top:332.5px;width:231px;height:231px;background:conic-gradient(from 31.88deg,#17bf00 0deg,#97df00 2deg,#ffff00 4deg,#ffd800 28deg,#fffc00 54deg,#ddf500 56deg,#76d600 60deg,#57cf00 62deg,#13bf03 82deg,#0cc419 94deg,#00cd3c 100deg,#00e897 106deg,#00f0b7 110deg,#00f3c5 114deg,#00f0b8 118deg,#00e58d 120deg,#00d455 122deg,#05c92c 124deg,#22c100 126deg,#b9ea00 128deg,#ffee00 130deg,#ff7e00 136deg,#fe6f00 138deg,#fe7100 144deg,#ff7a00 146deg,#ffe800 152deg,#e1f600 154deg,#86da00 156deg,#15be00 158deg,#03cb33 160deg,#00e489 162deg,#00f2c1 164deg,#05f5e0 168deg,#0defe8 172deg,#0bf1e7 202deg,#01f8db 220deg,#00df79 222deg,#0bc41a 224deg,#cff000 226deg,#ffc200 228deg,#ff7600 230deg,#f04900 236deg,#ec3d00 238deg,#fe7000 262deg,#ff9a00 274deg,#fff600 290deg,#f5fc00 292deg,#8edd00 298deg,#34c600 302deg,#12c007 304deg,#0ac61e 306deg,#00d24c 308deg,#00e897 310deg,#00f3c4 314deg,#06f4e1 318deg,#11eded 326deg,#15eaf1 346deg,#0df0e8 354deg,#00ea9f 356deg,#01cc39 358deg,#17bf00 360deg)"></i>
<i style="left:87.5px;top:333.5px;width:229px;height:229px;background:conic-gradient(from 31.12deg,#16bf00 0deg,#96df00 2deg,#feff00 4deg,#ffda00 30deg,#fffb00 54deg,#e9f800 56deg,#57cf00 62deg,#13bf03 82deg,#0cc419 94deg,#00cd3b 100deg,#00e896 106deg,#00f0b7 110deg,#00f3c6 114deg,#00f1ba 118deg,#00e895 120deg,#00d75c 122deg,#04ca30 124deg,#13bf03 126deg,#aae500 128deg,#fff100 130deg,#ff8000 136deg,#fd6d00 138deg,#ff7700 146deg,#ffe700 152deg,#e3f600 154deg,#87db00 156deg,#16be00 158deg,#03cb33 160deg,#00e489 162deg,#00f2c2 164deg,#05f4e0 168deg,#0defe9 172deg,#0af1e5 204deg,#01f7db 220deg,#00e17e 222deg,#0ac51e 224deg,#c4ed00 226deg,#ffc700 228deg,#ff7700 230deg,#f04a00 236deg,#eb3c00 240deg,#ff7600 264deg,#ff9900 274deg,#fff600 290deg,#f6fc00 292deg,#8fdd00 298deg,#12bf05 304deg,#0bc51b 306deg,#00d044 308deg,#00e58d 310deg,#00eeb0 312deg,#05f5df 318deg,#10eded 324deg,#15eaf2 346deg,#0df0e8 354deg,#00eaa0 356deg,#01cc3a 358deg,#16bf00 360deg)"></i>
<i style="left:88.5px;top:334.5px;width:227px;height:227px;background:conic-gradient(from 30.38deg,#15be00 0deg,#95df00 2deg,#fdfe00 4deg,#ffd900 30deg,#fffa00 54deg,#f5fc00 56deg,#93de00 60deg,#57cf00 62deg,#13bf03 82deg,#09c722 96deg,#00cd3b 100deg,#00e895 106deg,#00edac 108deg,#00f4c8 114deg,#00f1bc 118deg,#00ea9d 120deg,#03cb33 124deg,#10c10c 126deg,#9be100 128deg,#fff500 130deg,#ff8200 136deg,#fc6c00 138deg,#ff7300 146deg,#ffe600 152deg,#e4f700 154deg,#88db00 156deg,#16bf00 158deg,#03cb33 160deg,#00e48a 162deg,#00f3c3 164deg,#06f4e0 168deg,#0defe9 172deg,#0af1e6 204deg,#01f7db 220deg,#09c621 224deg,#baea00 226deg,#ffcb00 228deg,#ff7800 230deg,#f14b00 236deg,#eb3a00 240deg,#ff7b00 266deg,#ff9800 274deg,#fff600 290deg,#f6fc00 292deg,#90dd00 298deg,#13bf03 304deg,#0cc419 306deg,#00cd3d 308deg,#00e384 310deg,#00edad 312deg,#04f5de 318deg,#11eded 324deg,#16e9f3 346deg,#0defe8 354deg,#00eba1 356deg,#01cd3a 358deg,#15be00 360deg)"></i>
<i style="left:89.5px;top:335.5px;width:225px;height:225px;background:conic-gradient(from 29.62deg,#14be00 0deg,#94de00 2deg,#fcfe00 4deg,#ffd700 30deg,#fffe00 56deg,#9fe200 60deg,#66d200 62deg,#50cd00 64deg,#13bf03 82deg,#09c621 96deg,#01cd3a 100deg,#00edac 108deg,#00f4ca 114deg,#00f1be 118deg,#00eca5 120deg,#02cc37 124deg,#0dc315 126deg,#8cdc00 128deg,#fff900 130deg,#ff8500 136deg,#fc6a00 138deg,#fe7000 146deg,#ffe400 152deg,#e6f700 154deg,#8adb00 156deg,#17bf00 158deg,#03cb33 160deg,#00e48a 162deg,#00f3c4 164deg,#06f4e0 168deg,#0defe9 172deg,#0af1e6 204deg,#01f7db 220deg,#00e488 222deg,#08c724 224deg,#b0e700 226deg,#ffd000 228deg,#ff7a00 230deg,#f14b00 236deg,#ea3900 240deg,#ff7b00 266deg,#ffa400 276deg,#fff600 290deg,#f6fc00 292deg,#91de00 298deg,#13be02 304deg,#0cc418 306deg,#01cc39 308deg,#00e07b 310deg,#00edab 312deg,#03f6dd 318deg,#11eded 324deg,#18e8f4 344deg,#0defe8 354deg,#00eba2 356deg,#00cd3b 358deg,#14be00 360deg)"></i>
<i style="left:90.5px;top:336.5px;width:223px;height:223px;background:conic-gradient(from 28.88deg,#14be01 0deg,#93de00 2deg,#fbfe00 4deg,#ffd600 30deg,#fffc00 56deg,#dcf400 58deg,#75d600 62deg,#50cd00 64deg,#13bf03 82deg,#09c620 96deg,#01cc3a 100deg,#00dd72 104deg,#00edad 108deg,#00f5cc 114deg,#00f2c0 118deg,#00edad 120deg,#00cd3b 124deg,#0ac51d 126deg,#79d700 128deg,#ffff00 130deg,#ff8700 136deg,#fb6900 138deg,#fd6d00 146deg,#ffe300 152deg,#e8f800 154deg,#8bdc00 156deg,#17bf00 158deg,#03cb33 160deg,#00e48a 162deg,#00f3c5 164deg,#06f4e1 168deg,#0defe9 172deg,#09f2e5 206deg,#01f7db 220deg,#00e58c 222deg,#07c826 224deg,#a6e400 226deg,#ffd400 228deg,#ff7f00 230deg,#f55700 234deg,#ea3800 240deg,#ff7a00 266deg,#ffa300 276deg,#fff600 290deg,#f7fd00 292deg,#92de00 298deg,#14be00 304deg,#02cb35 308deg,#00eca8 312deg,#02f7dc 318deg,#11eded 324deg,#1ae4f5 342deg,#0defe9 354deg,#00eba3 356deg,#00cd3b 358deg,#14be01 360deg)"></i>
<i style="left:91.5px;top:337.5px;width:221px;height:221px;background:conic-gradient(from 28.12deg,#13be02 0deg,#91de00 2deg,#fafd00 4deg,#ffd700 32deg,#fffb00 56deg,#e8f800 58deg,#4fcd00 64deg,#13bf03 82deg,#0ac61f 96deg,#01cc39 100deg,#00dd70 104deg,#00edad 108deg,#00f5ce 114deg,#00efb5 120deg,#00ce41 124deg,#09c620 126deg,#66d300 128deg,#f0fa00 130deg,#ffdc00 132deg,#fb6700 138deg,#fc6a00 146deg,#ffe200 152deg,#e9f800 154deg,#8cdc00 156deg,#18bf00 158deg,#03cb34 160deg,#00e58a 162deg,#00f3c6 164deg,#06f4e1 168deg,#0defe9 172deg,#09f2e5 206deg,#01f7dc 220deg,#00e791 222deg,#06c829 224deg,#9be100 226deg,#ffd800 228deg,#ff8500 230deg,#fc6900 232deg,#ea3800 240deg,#ff7900 266deg,#ffa300 276deg,#fff500 290deg,#f7fd00 292deg,#93de00 298deg,#16be00 304deg,#03ca32 308deg,#00eca6 312deg,#01f7db 318deg,#11eded 324deg,#1be2f6 338deg,#10edec 352deg,#0defe9 354deg,#00eba4 356deg,#00cd3c 358deg,#13be02 360deg)"></i>
<i style="left:92.5px;top:338.5px;width:219px;height:219px;background:conic-gradient(from 27.38deg,#13bf02 0deg,#90dd00 2deg,#f8fd00 4deg,#fff400 10deg,#ffd600 32deg,#fffa00 56deg,#f4fc00 58deg,#92de00 62deg,#56cf00 64deg,#3ac700 70deg,#13bf03 82deg,#0ac51e 96deg,#01cc38 100deg,#00dc6e 104deg,#00edad 108deg,#00f5cf 114deg,#00f1bd 120deg,#00d149 124deg,#08c724 126deg,#53ce00 128deg,#e1f600 130deg,#ffe000 132deg,#fa6600 138deg,#fb6900 146deg,#ffe100 152deg,#ebf900 154deg,#8ddc00 156deg,#18bf00 158deg,#03cb34 160deg,#00e58b 162deg,#00f4c7 164deg,#06f4e1 168deg,#0defe9 172deg,#0af2e5 206deg,#02f7dc 220deg,#00e896 222deg,#05c92c 224deg,#91de00 226deg,#ffdd00 228deg,#ff8a00 230deg,#fc6b00 232deg,#ee4300 238deg,#ea3900 240deg,#fe7100 264deg,#ffa200 276deg,#fff500 290deg,#f8fd00 292deg,#6cd400 300deg,#19bf00 304deg,#05ca2e 308deg,#00d963 310deg,#00eba3 312deg,#00f8da 318deg,#11eded 324deg,#1be1f6 338deg,#1cdff6 342deg,#0defe9 354deg,#00eca6 356deg,#00cd3d 358deg,#13bf02 360deg)"></i>
<i style="left:93.5px;top:339.5px;width:217px;height:217px;background:conic-gradient(from 26.62deg,#13bf03 0deg,#8fdd00 2deg,#f7fd00 4deg,#fff700 8deg,#ffd400 32deg,#ffff00 58deg,#9ee200 62deg,#65d200 64deg,#48cb00 66deg,#13bf02 82deg,#0ac51d 96deg,#01cc38 100deg,#00dc6d 104deg,#00edac 108deg,#00f5cf 114deg,#00f2bf 120deg,#00e68e 122deg,#00d351 124deg,#07c828 126deg,#41c900 128deg,#d2f100 130deg,#ffe400 132deg,#fa6400 138deg,#fb6700 146deg,#ffdf00 152deg,#edfa00 154deg,#8edd00 156deg,#18bf00 158deg,#03cb34 160deg,#00e58b 162deg,#00f4c8 164deg,#07f4e1 168deg,#0eefe9 172deg,#0af2e5 206deg,#02f7dc 220deg,#00e99a 222deg,#04ca2f 224deg,#86db00 226deg,#ffe100 228deg,#ff9000 230deg,#fc6c00 232deg,#ee4400 238deg,#ea3800 242deg,#ff7700 266deg,#ffa100 276deg,#fff500 290deg,#f8fd00 292deg,#6dd400 300deg,#1bc000 304deg,#06c92b 308deg,#00d65b 310deg,#00e99b 312deg,#00f7d7 318deg,#11eded 324deg,#19e6f5 336deg,#1ed9f7 340deg,#11eded 352deg,#0defe9 354deg,#00eca7 356deg,#00ce3e 358deg,#13bf03 360deg)"></i>
<i style="left:94.5px;top:340.5px;width:215px;height:215px;background:conic-gradient(from 25.88deg,#13bf04 0deg,#8edd00 2deg,#f6fc00 4deg,#fff700 8deg,#ffd300 32deg,#fffc00 58deg,#dbf400 60deg,#48cb00 66deg,#13bf02 82deg,#0bc51b 96deg,#02cc37 100deg,#00db6b 104deg,#00edaa 108deg,#00f5cf 114deg,#00f2c1 120deg,#00e897 122deg,#00d659 124deg,#06c92b 126deg,#2ec400 128deg,#c3ed00 130deg,#ffe800 132deg,#fa6600 138deg,#fa6600 146deg,#ffde00 152deg,#effa00 154deg,#8fdd00 156deg,#19bf00 158deg,#03cb34 160deg,#00e58b 162deg,#00f4c9 164deg,#07f3e2 168deg,#0eefea 174deg,#09f2e4 208deg,#02f7dc 220deg,#00ea9e 222deg,#03ca32 224deg,#7ad700 226deg,#ffe500 228deg,#ff9500 230deg,#fd6d00 232deg,#ef4500 238deg,#ea3700 242deg,#ff7700 266deg,#ffa000 276deg,#fff500 290deg,#f8fd00 292deg,#6fd500 300deg,#1ec000 304deg,#07c828 308deg,#00d454 310deg,#00e793 312deg,#00eeb0 314deg,#05f5e0 320deg,#12ecee 326deg,#19e6f5 336deg,#20d7f7 340deg,#11eded 352deg,#0defe9 354deg,#00eca8 356deg,#00ce3f 358deg,#13bf04 360deg)"></i>
<i style="left:95.5px;top:341.5px;width:213px;height:213px;background:conic-gradient(from 25.12deg,#13bf04 0deg,#8ddc00 2deg,#f5fc00 4deg,#fff700 8deg,#ffd500 34deg,#fffb00 58deg,#e7f800 60deg,#84da00 64deg,#48cb00 66deg,#13bf02 82deg,#0bc51b 96deg,#00d24b 102deg,#00eda9 108deg,#00f5cf 114deg,#00f2c2 120deg,#00ea9f 122deg,#00d861 124deg,#04ca2f 126deg,#1bc000 128deg,#b4e800 130deg,#ffed00 132deg,#fb6800 138deg,#f96400 144deg,#fa6500 146deg,#ff8500 148deg,#ffdd00 152deg,#f1fb00 154deg,#91dd00 156deg,#19bf00 158deg,#03cb34 160deg,#00e58c 162deg,#00f4ca 164deg,#07f3e2 168deg,#0eefea 174deg,#09f2e4 208deg,#02f7dc 220deg,#00eba2 222deg,#03cb34 224deg,#6ed400 226deg,#ffe900 228deg,#ff9a00 230deg,#fd6e00 232deg,#eb3c00 240deg,#eb3a00 244deg,#ff7600 266deg,#ff9f00 276deg,#fff500 290deg,#f9fd00 292deg,#70d500 300deg,#20c100 304deg,#08c725 308deg,#00d24d 310deg,#00e58b 312deg,#00eeae 314deg,#04f5df 320deg,#12ecee 326deg,#19e5f5 336deg,#21d5f7 340deg,#11eced 352deg,#0eefe9 354deg,#00eca9 356deg,#00ce41 358deg,#13bf04 360deg)"></i>
<i style="left:96.5px;top:342.5px;width:211px;height:211px;background:conic-gradient(from 24.38deg,#12bf05 0deg,#8cdc00 2deg,#f4fc00 4deg,#fffa00 6deg,#ffd300 34deg,#fffa00 58deg,#f3fb00 60deg,#91de00 64deg,#56ce00 66deg,#41c900 68deg,#13bf02 82deg,#0bc51b 96deg,#02cb35 100deg,#00da68 104deg,#00eca8 108deg,#00f6cf 114deg,#00f3c4 120deg,#00eca7 122deg,#03cb33 126deg,#12bf06 128deg,#a5e400 130deg,#fff100 132deg,#fc6b00 138deg,#f86000 140deg,#f96300 146deg,#ff8200 148deg,#ffdb00 152deg,#f3fb00 154deg,#92de00 156deg,#1abf00 158deg,#03cb34 160deg,#00e58c 162deg,#00f5cb 164deg,#07f3e2 168deg,#0eefea 174deg,#09f2e4 208deg,#02f7dc 220deg,#00eca6 222deg,#02cc37 224deg,#61d100 226deg,#ffed00 228deg,#ff9f00 230deg,#fe6f00 232deg,#ec3d00 240deg,#e93400 242deg,#ff7500 266deg,#ff9e00 276deg,#fff400 290deg,#f9fd00 292deg,#71d500 300deg,#23c200 304deg,#10c10c 306deg,#08c723 308deg,#00d047 310deg,#00e283 312deg,#00edab 314deg,#03f6dd 320deg,#12ecee 326deg,#1ae4f5 336deg,#21d3f8 340deg,#12ecee 352deg,#0eefe9 354deg,#00edaa 356deg,#00cf42 358deg,#12bf05 360deg)"></i>
<i style="left:97.5px;top:343.5px;width:209px;height:209px;background:conic-gradient(from 23.62deg,#12bf06 0deg,#8bdc00 2deg,#f3fb00 4deg,#fffa00 6deg,#ffd200 34deg,#feff00 60deg,#65d200 66deg,#40c900 68deg,#13bf02 82deg,#0bc51b 96deg,#00d148 102deg,#00eca7 108deg,#00f3c5 112deg,#00f6d2 116deg,#00f3c6 120deg,#00eeb0 122deg,#02cc37 126deg,#0fc20f 128deg,#96df00 130deg,#fff600 132deg,#fd6d00 138deg,#f85f00 140deg,#f96200 146deg,#ff7e00 148deg,#ffda00 152deg,#f5fc00 154deg,#93de00 156deg,#1ac000 158deg,#03cb34 160deg,#00e58c 162deg,#00f5cc 164deg,#0eefea 170deg,#0af1e5 206deg,#02f7dd 220deg,#00edaa 222deg,#01cc3a 224deg,#55ce00 226deg,#fff100 228deg,#ffa400 230deg,#fe7000 232deg,#ec3d00 240deg,#e83300 242deg,#ff7400 266deg,#ff9e00 276deg,#fafd00 292deg,#73d600 300deg,#25c200 304deg,#10c10b 306deg,#09c620 308deg,#00ce40 310deg,#00e07c 312deg,#00eca9 314deg,#02f7dc 320deg,#12ecee 326deg,#1ae4f6 336deg,#22d1f8 340deg,#12ecee 352deg,#0eefe9 354deg,#00edab 356deg,#00cf43 358deg,#12bf06 360deg)"></i>
<i style="left:98.5px;top:344.5px;width:207px;height:207px;background:conic-gradient(from 22.88deg,#12c007 0deg,#89db00 2deg,#f2fb00 4deg,#fffa00 6deg,#ffd000 34deg,#fffc00 60deg,#daf400 62deg,#40c900 68deg,#13bf02 82deg,#08c724 98deg,#00d047 102deg,#00eca5 108deg,#00f1bb 110deg,#00f7d4 116deg,#00f4c8 120deg,#00f0b9 122deg,#00cd3b 126deg,#0cc419 128deg,#85da00 130deg,#fffb00 132deg,#fe6f00 138deg,#f75d00 140deg,#f86000 146deg,#ff7b00 148deg,#ffd800 152deg,#f6fc00 154deg,#94de00 156deg,#1bc000 158deg,#03cb34 160deg,#00e58c 162deg,#00f5cd 164deg,#0eefea 170deg,#0af1e6 206deg,#02f6dd 220deg,#00eeae 222deg,#00cd3c 224deg,#49cb00 226deg,#fff500 228deg,#ffa900 230deg,#fe7100 232deg,#f04800 238deg,#e93400 242deg,#ff7300 266deg,#ff9d00 276deg,#fafd00 292deg,#74d600 300deg,#27c300 304deg,#11c00a 306deg,#0ac51d 308deg,#00cd3b 310deg,#00eca6 314deg,#01f7db 320deg,#12ecee 326deg,#1ae3f6 336deg,#23d0f8 340deg,#12ecef 352deg,#0eefea 354deg,#00edac 356deg,#00cf44 358deg,#12c007 360deg)"></i>
<i style="left:99.5px;top:345.5px;width:205px;height:205px;background:conic-gradient(from 22.12deg,#12c007 0deg,#88db00 2deg,#f1fb00 4deg,#fffa00 6deg,#ffd200 36deg,#fffb00 60deg,#e5f700 62deg,#83da00 66deg,#46cb00 68deg,#16bf00 80deg,#08c723 98deg,#00d045 102deg,#00eba4 108deg,#00f1bc 110deg,#00f7d6 116deg,#00f2c2 122deg,#00cf43 126deg,#0ac61e 128deg,#72d600 130deg,#fafd00 132deg,#ffa400 136deg,#ff7200 138deg,#f75c00 140deg,#f85f00 146deg,#ff7700 148deg,#ffd600 152deg,#f8fd00 154deg,#95df00 156deg,#1bc000 158deg,#03cb34 160deg,#00e58d 162deg,#00f5ce 164deg,#0eefea 170deg,#0af1e6 206deg,#03f6dd 220deg,#00efb2 222deg,#00cf41 224deg,#3dc800 226deg,#fff800 228deg,#ffae00 230deg,#ff7300 232deg,#f04900 238deg,#e93500 242deg,#fc6b00 264deg,#ff9c00 276deg,#fafe00 292deg,#75d600 300deg,#29c300 304deg,#11c008 306deg,#01cc38 310deg,#00eba4 314deg,#00f8da 320deg,#12ecee 326deg,#1ae3f6 336deg,#23cef8 340deg,#1dddf6 348deg,#13ecef 352deg,#0eefea 354deg,#00edad 356deg,#00d045 358deg,#12c007 360deg)"></i>
<i style="left:100.5px;top:346.5px;width:203px;height:203px;background:conic-gradient(from 21.38deg,#11c008 0deg,#87db00 2deg,#f0fa00 4deg,#fffa00 6deg,#ffd000 36deg,#fffa00 60deg,#f1fb00 62deg,#91dd00 66deg,#55ce00 68deg,#39c700 70deg,#13bf02 82deg,#09c621 98deg,#00cf43 102deg,#00f1bc 110deg,#00f7d8 116deg,#00f3c5 122deg,#00e68e 124deg,#00d24c 126deg,#09c722 128deg,#5fd100 130deg,#eaf900 132deg,#ffd800 134deg,#ff7500 138deg,#f65a00 140deg,#f75d00 146deg,#ff7300 148deg,#ffd500 152deg,#fafe00 154deg,#96df00 156deg,#1cc000 158deg,#03cb34 160deg,#00e58d 162deg,#00f6cf 164deg,#0eefea 170deg,#0bf1e6 206deg,#03f6dd 220deg,#00efb6 222deg,#00d046 224deg,#32c500 226deg,#fffc00 228deg,#ff7400 232deg,#f04a00 238deg,#e93600 242deg,#ec3e00 248deg,#fe7100 266deg,#ffa800 278deg,#fbfe00 292deg,#51cd00 302deg,#2cc400 304deg,#12c007 306deg,#02cb35 310deg,#00ea9e 314deg,#00f7d8 320deg,#12ecee 326deg,#1ae3f6 336deg,#24cdf8 340deg,#1edbf7 348deg,#13ebef 352deg,#0eefea 354deg,#00eeae 356deg,#00d046 358deg,#11c008 360deg)"></i>
<i style="left:101.5px;top:347.5px;width:201px;height:201px;background:conic-gradient(from 20.62deg,#11c009 0deg,#effa00 4deg,#fffa00 6deg,#ffcf00 36deg,#fdfe00 62deg,#64d200 68deg,#39c700 70deg,#13bf02 82deg,#09c620 98deg,#00cf41 102deg,#00f1bd 110deg,#00f8d9 116deg,#00f4c7 122deg,#00e898 124deg,#00d454 126deg,#07c826 128deg,#4dcc00 130deg,#dbf400 132deg,#ffdd00 134deg,#ff7800 138deg,#f65800 140deg,#f75c00 146deg,#fe7000 148deg,#fdfe00 154deg,#98e000 156deg,#1cc000 158deg,#03cb34 160deg,#00e58d 162deg,#00f6d0 164deg,#0eefea 170deg,#0bf1e6 206deg,#03f6dd 220deg,#00f0b9 222deg,#00d24b 224deg,#26c200 226deg,#fafe00 228deg,#ff7500 232deg,#f04a00 238deg,#e83200 244deg,#fe7000 266deg,#ff9a00 276deg,#fbfe00 292deg,#77d700 300deg,#2ec400 304deg,#12bf06 306deg,#03cb32 310deg,#00e898 314deg,#00f7d5 320deg,#12ecee 326deg,#1ae3f6 336deg,#24ccf8 340deg,#23cef8 344deg,#1fd9f7 348deg,#13ebf0 352deg,#0eeeea 354deg,#00eeaf 356deg,#00d048 358deg,#11c009 360deg)"></i>
<i style="left:102.5px;top:348.5px;width:199px;height:199px;background:conic-gradient(from 19.88deg,#11c009 0deg,#edfa00 4deg,#fffa00 6deg,#ffcd00 36deg,#fffc00 62deg,#a8e500 66deg,#39c700 70deg,#13bf02 82deg,#0ac61e 98deg,#00ce3f 102deg,#00f1be 110deg,#00f8db 116deg,#00f4c9 122deg,#00eaa0 124deg,#00d75d 126deg,#06c92a 128deg,#3ac700 130deg,#ccf000 132deg,#ffe200 134deg,#ff7c00 138deg,#f55700 140deg,#f65a00 146deg,#fd6d00 148deg,#ffff00 154deg,#99e000 156deg,#1dc000 158deg,#03cb34 160deg,#00e58e 162deg,#00f6d1 164deg,#0eeeea 170deg,#0bf1e6 206deg,#03f6dd 220deg,#00f1bd 222deg,#00d350 224deg,#1ac000 226deg,#f0fb00 228deg,#ffbc00 230deg,#ff7600 232deg,#f45400 236deg,#e73100 244deg,#fe6f00 266deg,#ff9900 276deg,#fcfe00 292deg,#54ce00 302deg,#13bf04 306deg,#04ca30 310deg,#00d65a 312deg,#00e691 314deg,#00eeaf 316deg,#04f5df 322deg,#13ebef 328deg,#1ae3f6 336deg,#27c6f9 342deg,#1fd7f7 348deg,#14ebf0 352deg,#0eeeea 354deg,#00eeb0 356deg,#00d149 358deg,#11c009 360deg)"></i>
<i style="left:103.5px;top:349.5px;width:197px;height:197px;background:conic-gradient(from 19.12deg,#11c00a 0deg,#ecf900 4deg,#fffa00 6deg,#ffcf00 38deg,#fffb00 62deg,#e4f700 64deg,#82da00 68deg,#46ca00 70deg,#32c500 72deg,#13bf02 82deg,#0ac51d 98deg,#00cd3d 102deg,#00f1bc 110deg,#01f8db 116deg,#00f4cb 122deg,#00eda9 124deg,#04ca2f 128deg,#27c300 130deg,#bdeb00 132deg,#ffe700 134deg,#ff7f00 138deg,#f45500 140deg,#f65900 146deg,#fb6900 148deg,#fffe00 154deg,#9ae000 156deg,#1dc000 158deg,#03cb34 160deg,#00e68e 162deg,#00f6d3 164deg,#0feeeb 172deg,#0af1e5 208deg,#03f6dd 220deg,#00f2c1 222deg,#00d455 224deg,#13bf03 226deg,#e6f800 228deg,#ffc100 230deg,#ff7700 232deg,#f14c00 238deg,#e73000 244deg,#fd6e00 266deg,#ffa600 278deg,#fcfe00 292deg,#79d700 300deg,#13bf03 306deg,#05c92d 310deg,#00d454 312deg,#00e48a 314deg,#00edac 316deg,#03f6de 322deg,#13ebef 328deg,#1ae3f6 336deg,#28c4f9 342deg,#20d5f7 348deg,#14ebf0 352deg,#0feeea 354deg,#00eeb2 356deg,#00d14a 358deg,#11c00a 360deg)"></i>
<i style="left:104.5px;top:350.5px;width:195px;height:195px;background:conic-gradient(from 18.38deg,#10c10b 0deg,#81d900 2deg,#ebf900 4deg,#fffa00 6deg,#ffce00 38deg,#fffa00 62deg,#f0fa00 64deg,#90dd00 68deg,#55ce00 70deg,#31c500 72deg,#13bf02 82deg,#0ac51d 98deg,#00cd3b 102deg,#00f1bb 110deg,#01f7db 116deg,#00f5cd 122deg,#00efb2 124deg,#03cb33 128deg,#14be00 130deg,#aee600 132deg,#ffec00 134deg,#ff8300 138deg,#f45400 140deg,#f55700 146deg,#fa6500 148deg,#fffd00 154deg,#9be100 156deg,#1ec000 158deg,#03cb34 160deg,#00e68e 162deg,#00f6d4 164deg,#0feeeb 172deg,#0af1e5 208deg,#03f6de 220deg,#00f3c4 222deg,#00d65a 224deg,#11c008 226deg,#ddf500 228deg,#ffc500 230deg,#ff7900 232deg,#f14c00 238deg,#e73000 244deg,#fd6d00 266deg,#ffa500 278deg,#fcfe00 292deg,#57cf00 302deg,#13bf02 306deg,#06c92a 310deg,#00d24e 312deg,#00e283 314deg,#00edaa 316deg,#02f7dd 322deg,#13ebef 328deg,#1ae4f6 336deg,#29c1fa 342deg,#21d3f8 348deg,#14eaf1 352deg,#0feeeb 354deg,#00efb3 356deg,#00d24b 358deg,#10c10b 360deg)"></i>
<i style="left:105.5px;top:351.5px;width:193px;height:193px;background:conic-gradient(from 17.62deg,#10c10b 0deg,#80d900 2deg,#eaf900 4deg,#fffa00 6deg,#ffcc00 38deg,#fbfe00 64deg,#9ce100 68deg,#31c500 72deg,#13bf02 82deg,#0ac51d 98deg,#01cd3a 102deg,#00f0ba 110deg,#01f7db 116deg,#00f5ce 122deg,#00f1bc 124deg,#02cc37 128deg,#11c009 130deg,#9fe200 132deg,#fff100 134deg,#ff8700 138deg,#f45300 140deg,#f45600 146deg,#f96200 148deg,#fffc00 154deg,#9de100 156deg,#1ec100 158deg,#03cb34 160deg,#00e68e 162deg,#00f7d5 164deg,#0feeeb 172deg,#0bf1e7 206deg,#03f6de 220deg,#00f4c8 222deg,#00d75e 224deg,#0fc20e 226deg,#d3f200 228deg,#ffc900 230deg,#ff7b00 232deg,#f14d00 238deg,#e73100 244deg,#fd6c00 266deg,#ffa400 278deg,#fdfe00 292deg,#14be01 306deg,#07c828 310deg,#00d148 312deg,#00eca7 316deg,#01f7db 322deg,#13ebef 328deg,#1ae4f5 336deg,#2abefa 342deg,#22d1f8 348deg,#15eaf1 352deg,#0feeeb 354deg,#00efb4 356deg,#00d24c 358deg,#10c10b 360deg)"></i>
<i style="left:106.5px;top:352.5px;width:191px;height:191px;background:conic-gradient(from 16.88deg,#10c10c 0deg,#7ed900 2deg,#e9f800 4deg,#fffa00 6deg,#ffcb00 38deg,#fffc00 64deg,#a7e400 68deg,#36c700 72deg,#13bf02 82deg,#0ac51d 98deg,#01cc39 102deg,#00f0b8 110deg,#00f6d3 114deg,#01f7db 118deg,#00f3c5 124deg,#00cd3c 128deg,#0ec313 130deg,#90dd00 132deg,#fff700 134deg,#ff8b00 138deg,#f55600 140deg,#f45400 146deg,#f85e00 148deg,#fffb00 154deg,#9ee200 156deg,#1fc100 158deg,#03cb34 160deg,#00e68f 162deg,#00f7d6 164deg,#0feeeb 170deg,#0bf0e7 206deg,#03f6de 220deg,#00f5cc 222deg,#00d963 224deg,#0dc314 226deg,#c9ef00 228deg,#ffcd00 230deg,#ff8000 232deg,#f24d00 238deg,#e83200 244deg,#ef4600 254deg,#ff7b00 270deg,#ffa300 278deg,#fdfe00 292deg,#37c700 304deg,#14be00 306deg,#07c726 310deg,#00cf43 312deg,#00eba5 316deg,#00f8da 322deg,#13ecef 328deg,#19e5f5 336deg,#2bbcfa 342deg,#23cff8 348deg,#15eaf2 352deg,#0feeeb 354deg,#00efb5 356deg,#00d24d 358deg,#10c10c 360deg)"></i>
<i style="left:107.5px;top:353.5px;width:189px;height:189px;background:conic-gradient(from 16.12deg,#10c10d 0deg,#7dd800 2deg,#e8f800 4deg,#fffa00 6deg,#ffcd00 40deg,#fffb00 64deg,#e3f600 66deg,#81d900 70deg,#45ca00 72deg,#2ac300 74deg,#13bf02 82deg,#0ac51d 98deg,#01cc38 102deg,#00f0b7 110deg,#00f7d4 114deg,#02f7dc 118deg,#00f5cc 124deg,#00d045 128deg,#0bc51c 130deg,#7ed900 132deg,#fffd00 134deg,#ff9100 138deg,#f65b00 140deg,#f45300 144deg,#f75c00 148deg,#ffc800 152deg,#fffa00 154deg,#9fe200 156deg,#20c100 158deg,#03cb34 160deg,#00e68f 162deg,#00f7d7 164deg,#0feeeb 172deg,#0af1e6 208deg,#04f6de 220deg,#00f5cf 222deg,#00da68 224deg,#0cc419 226deg,#bfec00 228deg,#ffd100 230deg,#ff8500 232deg,#f65a00 236deg,#e72f00 246deg,#ff7200 268deg,#ffa200 278deg,#fdff00 292deg,#39c700 304deg,#17bf00 306deg,#08c723 310deg,#00cd3e 312deg,#00eba1 316deg,#00f8d8 322deg,#14eaf1 330deg,#1ae4f6 336deg,#2eb6fb 342deg,#24cdf8 348deg,#15eaf2 352deg,#0feeeb 354deg,#00f0b6 356deg,#00d34f 358deg,#10c10d 360deg)"></i>
<i style="left:108.5px;top:354.5px;width:187px;height:187px;background:conic-gradient(from 15.38deg,#10c10d 0deg,#7cd800 2deg,#e7f800 4deg,#fffb00 6deg,#ffcb00 40deg,#fffa00 64deg,#eefa00 66deg,#8fdd00 70deg,#54ce00 72deg,#2ac300 74deg,#13bf02 82deg,#08c725 100deg,#02cc36 102deg,#00efb6 110deg,#00f4cb 112deg,#03f6dd 118deg,#00f5ce 124deg,#00e897 126deg,#00d24e 128deg,#09c620 130deg,#6bd400 132deg,#f4fc00 134deg,#ffcf00 136deg,#f85f00 140deg,#f35200 142deg,#f65900 148deg,#ffc700 152deg,#fff900 154deg,#a1e200 156deg,#20c100 158deg,#03cb34 160deg,#00e68f 162deg,#00f8d8 164deg,#10edec 172deg,#0af1e6 208deg,#04f6de 220deg,#00f6d2 222deg,#00db6c 224deg,#0ac51d 226deg,#b6e900 228deg,#ffd500 230deg,#ff8900 232deg,#fc6c00 234deg,#ef4500 240deg,#e62e00 246deg,#fb6900 266deg,#ffa100 278deg,#feff00 292deg,#19bf00 306deg,#09c621 310deg,#01cd3a 312deg,#00e99b 316deg,#00f7d6 322deg,#14eaf1 330deg,#1be2f6 336deg,#31b0fc 342deg,#25cbf9 348deg,#16e9f3 352deg,#0feeeb 354deg,#00f0b7 356deg,#00d350 358deg,#10c10d 360deg)"></i>
<i style="left:109.5px;top:355.5px;width:185px;height:185px;background:conic-gradient(from 14.62deg,#0fc20e 0deg,#7ad800 2deg,#e6f700 4deg,#fffb00 6deg,#ffc900 40deg,#fafd00 66deg,#9be000 70deg,#29c300 74deg,#13bf02 82deg,#08c724 100deg,#02cb35 102deg,#00efb4 110deg,#00f5cc 112deg,#04f5df 118deg,#00f6d0 124deg,#00eba1 126deg,#00d558 128deg,#08c725 130deg,#59cf00 132deg,#e5f700 134deg,#ffd500 136deg,#fa6400 140deg,#f35200 142deg,#f55700 148deg,#ffc500 152deg,#fff800 154deg,#a2e300 156deg,#21c100 158deg,#03cb34 160deg,#00e68f 162deg,#00f8d9 164deg,#10edec 172deg,#09f2e5 210deg,#04f5de 220deg,#00f7d6 222deg,#00dd71 224deg,#09c620 226deg,#ace600 228deg,#ffd900 230deg,#ff8e00 232deg,#fd6d00 234deg,#ef4600 240deg,#e52d00 246deg,#fb6800 266deg,#ffa000 278deg,#feff00 292deg,#1bc000 306deg,#0ac61f 310deg,#01cc38 312deg,#00e895 316deg,#00f2c1 320deg,#04f5df 324deg,#15eaf1 330deg,#1ce0f6 336deg,#33abfc 342deg,#26c8f9 348deg,#16e9f3 352deg,#10eeec 354deg,#00f0b8 356deg,#00d351 358deg,#0fc20e 360deg)"></i>
<i style="left:110.5px;top:356.5px;width:183px;height:183px;background:conic-gradient(from 13.88deg,#0fc20f 0deg,#79d700 2deg,#e5f700 4deg,#fffb00 6deg,#ffc900 40deg,#fffc00 66deg,#a6e400 70deg,#36c600 74deg,#23c200 76deg,#12bf06 84deg,#09c622 100deg,#00d24e 104deg,#00efb3 110deg,#00f5cc 112deg,#05f5e0 118deg,#00f6d2 124deg,#00edab 126deg,#00d862 128deg,#06c829 130deg,#46ca00 132deg,#d6f300 134deg,#ffdb00 136deg,#fb6900 140deg,#f35200 142deg,#f55600 148deg,#ffc400 152deg,#fff700 154deg,#a4e300 156deg,#21c100 158deg,#03cb34 160deg,#00e690 162deg,#00f8da 164deg,#11eded 172deg,#08f2e4 212deg,#00f8d9 222deg,#00de75 224deg,#09c722 226deg,#a3e300 228deg,#ffdc00 230deg,#ff9300 232deg,#fd6e00 234deg,#ef4700 240deg,#e52c00 246deg,#fb6700 266deg,#ff9f00 278deg,#feff00 292deg,#1dc000 306deg,#0ac51d 310deg,#02cb35 312deg,#00e68e 316deg,#00edad 318deg,#03f6de 324deg,#17e9f4 332deg,#1cdef6 336deg,#34a7fd 342deg,#27c6f9 348deg,#17e9f3 352deg,#10edec 354deg,#00f0b9 356deg,#00d452 358deg,#0fc20f 360deg)"></i>
<i style="left:111.5px;top:357.5px;width:181px;height:181px;background:conic-gradient(from 13.12deg,#0fc20f 0deg,#77d700 2deg,#e4f700 4deg,#fffb00 6deg,#ffca00 42deg,#fffb00 66deg,#e1f600 68deg,#80d900 72deg,#45ca00 74deg,#22c200 76deg,#12bf06 84deg,#09c620 100deg,#00d24c 104deg,#00eeb1 110deg,#00f5cd 112deg,#06f4e1 118deg,#00f7d4 124deg,#00efb4 126deg,#05c92e 130deg,#33c600 132deg,#c7ee00 134deg,#ffe000 136deg,#fd6d00 140deg,#f35200 142deg,#f55600 148deg,#ffc200 152deg,#fff500 154deg,#a5e400 156deg,#22c100 158deg,#03cb34 160deg,#00e690 162deg,#01f8db 164deg,#11ecee 170deg,#09f2e4 212deg,#01f7db 222deg,#00df79 224deg,#08c725 226deg,#9ae000 228deg,#ffe000 230deg,#ff9800 232deg,#fe6f00 234deg,#ef4700 240deg,#e62d00 246deg,#fa6600 266deg,#ff9e00 278deg,#ffff00 292deg,#1fc100 306deg,#0bc51b 310deg,#03cb33 312deg,#00e488 316deg,#00edaa 318deg,#02f6dd 324deg,#17e9f4 332deg,#24cef8 338deg,#36a3fd 342deg,#28c4f9 348deg,#17e9f4 352deg,#10edec 354deg,#00f1ba 356deg,#00d453 358deg,#0fc20f 360deg)"></i>
<i style="left:112.5px;top:358.5px;width:179px;height:179px;background:conic-gradient(from 12.38deg,#0fc210 0deg,#76d700 2deg,#e3f600 4deg,#fffb00 6deg,#ffd400 34deg,#ffc800 42deg,#fffa00 66deg,#edfa00 68deg,#8edd00 72deg,#22c100 76deg,#12bf06 84deg,#09c620 100deg,#00d149 104deg,#00f5ce 112deg,#07f3e2 118deg,#00f7d6 124deg,#00f2be 126deg,#03cb32 130deg,#20c100 132deg,#b8e900 134deg,#ffe600 136deg,#ff7200 140deg,#f35200 142deg,#f55600 148deg,#ff8500 150deg,#fff400 154deg,#a7e400 156deg,#23c200 158deg,#02cb35 160deg,#00e690 162deg,#01f7db 164deg,#12ecee 172deg,#08f3e3 214deg,#02f6dd 222deg,#07c827 226deg,#90dd00 228deg,#ffe400 230deg,#ff9c00 232deg,#fe7000 234deg,#f35000 238deg,#e62e00 246deg,#f45500 262deg,#ff9200 276deg,#ffff00 292deg,#21c100 306deg,#0bc41a 310deg,#04ca30 312deg,#00eca8 318deg,#01f7dc 324deg,#17e9f4 332deg,#24cdf8 338deg,#38a0fe 342deg,#30b2fc 346deg,#17e8f4 352deg,#10edec 354deg,#00f1bb 356deg,#00d454 358deg,#0fc210 360deg)"></i>
<i style="left:113.5px;top:359.5px;width:177px;height:177px;background:conic-gradient(from 11.62deg,#0ec211 0deg,#75d600 2deg,#e1f600 4deg,#fffb00 6deg,#ffd400 34deg,#ffc600 42deg,#fff900 66deg,#f9fd00 68deg,#9ae000 72deg,#27c300 76deg,#15be00 80deg,#0ac61f 100deg,#00d046 104deg,#00f5cd 112deg,#08f2e3 118deg,#00f8d8 124deg,#00f4c9 126deg,#02cc37 130deg,#13bf03 132deg,#a9e500 134deg,#ffec00 136deg,#ff7800 140deg,#f35200 142deg,#f55600 148deg,#ff8300 150deg,#fff300 154deg,#a8e500 156deg,#23c200 158deg,#02cb35 160deg,#00e690 162deg,#02f7dc 164deg,#13ecef 170deg,#08f3e3 214deg,#03f6de 222deg,#06c82a 226deg,#86da00 228deg,#ffe700 230deg,#ffa100 232deg,#fe7100 234deg,#f04800 240deg,#e52c00 248deg,#fc6b00 268deg,#ffab00 280deg,#ffff00 292deg,#22c200 306deg,#11c009 308deg,#05ca2e 312deg,#00d34f 314deg,#00eca6 318deg,#00f8da 324deg,#17e9f4 332deg,#24ccf8 338deg,#399cfe 342deg,#389efe 344deg,#18e8f5 352deg,#10edec 354deg,#00f1bd 356deg,#00d556 358deg,#0ec211 360deg)"></i>
<i style="left:114.5px;top:360.5px;width:175px;height:175px;background:conic-gradient(from 10.88deg,#0ec211 0deg,#73d600 2deg,#e0f600 4deg,#fffb00 6deg,#ffd100 36deg,#ffc900 44deg,#fffc00 68deg,#a5e400 72deg,#35c600 76deg,#1bc000 78deg,#0ac61f 100deg,#00cf44 104deg,#00f5cc 112deg,#04f5df 116deg,#07f4e1 120deg,#00f6d2 126deg,#00cd3c 130deg,#10c10d 132deg,#9ae000 134deg,#fff200 136deg,#ff7e00 140deg,#f35300 142deg,#f55600 148deg,#ff8000 150deg,#fff200 154deg,#aae500 156deg,#24c200 158deg,#02cb35 160deg,#00e691 162deg,#02f7dc 164deg,#13ecef 172deg,#08f3e3 214deg,#03f6de 222deg,#05c92c 226deg,#7ad800 228deg,#ffeb00 230deg,#ffa500 232deg,#ff7200 234deg,#f04900 240deg,#e42c01 248deg,#fc6a00 268deg,#ffaa00 280deg,#ffff00 292deg,#24c200 306deg,#11c008 308deg,#05c92c 312deg,#00d14a 314deg,#00eba3 318deg,#00f8d9 324deg,#17e9f4 332deg,#24ccf8 338deg,#3b99ff 342deg,#3b98ff 344deg,#18e7f5 352deg,#11eded 354deg,#00f1be 356deg,#00d557 358deg,#0ec211 360deg)"></i>
<i style="left:115.5px;top:361.5px;width:173px;height:173px;background:conic-gradient(from 10.12deg,#0ec312 0deg,#72d500 2deg,#dff500 4deg,#fffb00 6deg,#ffd800 32deg,#ffc700 44deg,#fffb00 68deg,#e0f600 70deg,#7fd900 74deg,#44ca00 76deg,#1bc000 78deg,#0fc210 90deg,#0ac61f 100deg,#00ce41 104deg,#00f4cb 112deg,#05f5df 116deg,#04f5df 122deg,#00f7d4 126deg,#00e896 128deg,#00d047 130deg,#0dc416 132deg,#8adc00 134deg,#fff900 136deg,#ff8400 140deg,#f35300 142deg,#f55600 148deg,#ff7e00 150deg,#fff100 154deg,#abe500 156deg,#24c200 158deg,#02cb35 160deg,#00e691 162deg,#02f6dd 164deg,#14ebf0 170deg,#09f2e4 212deg,#04f6de 222deg,#04ca2f 226deg,#6fd500 228deg,#ffee00 230deg,#ffaa00 232deg,#ff7300 234deg,#f04900 240deg,#e22b01 248deg,#fb6900 268deg,#ffa900 280deg,#fffe00 292deg,#26c200 306deg,#12c006 308deg,#06c82a 312deg,#00d045 314deg,#00ea9d 318deg,#00f7d6 324deg,#17e9f4 332deg,#24ccf8 338deg,#3c96ff 342deg,#3c94ff 344deg,#19e6f5 352deg,#11eded 354deg,#00f2bf 356deg,#00d558 358deg,#0ec312 360deg)"></i>
<i style="left:116.5px;top:362.5px;width:171px;height:171px;background:conic-gradient(from 9.38deg,#0ec313 0deg,#71d500 2deg,#def500 4deg,#fffb00 6deg,#ffd500 34deg,#ffc500 44deg,#fffa00 68deg,#ecf900 70deg,#8ddc00 74deg,#1ac000 78deg,#0ac61f 100deg,#06c829 102deg,#00cd3e 104deg,#00edaa 110deg,#00f4c9 112deg,#00f8da 114deg,#09f2e4 120deg,#00f7d7 126deg,#00eaa1 128deg,#00d351 130deg,#0ac51e 132deg,#77d700 134deg,#feff00 136deg,#ff8a00 140deg,#f35300 142deg,#f55600 148deg,#ff7b00 150deg,#ffef00 154deg,#ade600 156deg,#25c200 158deg,#02cb35 160deg,#00e791 162deg,#03f6dd 164deg,#14ebf1 170deg,#08f3e3 214deg,#04f6de 222deg,#00e68e 224deg,#04ca31 226deg,#64d200 228deg,#fff200 230deg,#ff7400 234deg,#f04a00 240deg,#e12a01 248deg,#fb6800 268deg,#ff9900 278deg,#fffe00 292deg,#28c300 306deg,#12bf05 308deg,#00ce40 314deg,#00e898 318deg,#00f7d4 324deg,#17e9f4 332deg,#25cbf8 338deg,#3c95ff 342deg,#3c90ff 344deg,#19e5f5 352deg,#11eded 354deg,#00f2c0 356deg,#00d659 358deg,#0ec313 360deg)"></i>
<i style="left:117.5px;top:363.5px;width:169px;height:169px;background:conic-gradient(from 8.62deg,#0dc314 0deg,#6fd500 2deg,#ddf500 4deg,#fffb00 6deg,#ffd500 34deg,#ffc400 44deg,#fff900 68deg,#f7fd00 70deg,#99e000 74deg,#26c200 78deg,#14be00 80deg,#0ac61f 100deg,#00cd3b 104deg,#00eca8 110deg,#00f4c8 112deg,#01f8db 114deg,#0af1e5 120deg,#00f8d9 126deg,#00edab 128deg,#00d65b 130deg,#09c722 132deg,#65d200 134deg,#effa00 136deg,#ffce00 138deg,#ff9000 140deg,#f45500 142deg,#f55700 148deg,#ff7900 150deg,#ffee00 154deg,#aee600 156deg,#26c200 158deg,#02cb35 160deg,#00e791 162deg,#03f6de 164deg,#15eaf1 170deg,#08f3e3 214deg,#04f5de 222deg,#00e793 224deg,#03cb33 226deg,#58cf00 228deg,#fff500 230deg,#ff7500 234deg,#f04a00 240deg,#e22a01 248deg,#fb6700 268deg,#ffa700 280deg,#fffe00 292deg,#29c300 306deg,#13bf04 308deg,#00cd3c 314deg,#00e792 318deg,#00eeae 320deg,#04f6de 326deg,#1be1f6 334deg,#25caf9 338deg,#3c93ff 342deg,#3d8cff 344deg,#25caf9 350deg,#1ae3f6 352deg,#11eced 354deg,#00f2c1 356deg,#00d65a 358deg,#0dc314 360deg)"></i>
<i style="left:118.5px;top:364.5px;width:167px;height:167px;background:conic-gradient(from 7.88deg,#0dc314 0deg,#6ed400 2deg,#dcf400 4deg,#fffb00 6deg,#ffd900 32deg,#ffc600 46deg,#fffd00 70deg,#70d500 76deg,#35c600 78deg,#14be00 80deg,#07c726 102deg,#01cc39 104deg,#00eca6 110deg,#00f3c6 112deg,#01f7db 114deg,#0bf1e7 120deg,#00f8da 126deg,#00efb6 128deg,#00da66 130deg,#07c827 132deg,#52cd00 134deg,#e0f500 136deg,#ffd400 138deg,#f65a00 142deg,#f55700 148deg,#ff7600 150deg,#ffed00 154deg,#b0e700 156deg,#26c300 158deg,#02cb35 160deg,#00e792 162deg,#04f5de 164deg,#15eaf2 170deg,#06f4e1 218deg,#04f5de 222deg,#00e897 224deg,#02cb36 226deg,#4dcc00 228deg,#fff900 230deg,#ff7700 234deg,#f14b00 240deg,#e32b01 248deg,#f24e00 262deg,#ff9700 278deg,#fffe00 292deg,#2bc400 306deg,#13bf03 308deg,#01cc39 314deg,#00e58d 318deg,#00edab 320deg,#03f6dd 326deg,#1be1f6 334deg,#26c9f9 338deg,#3c92ff 342deg,#3d88ff 344deg,#31affc 348deg,#1be2f6 352deg,#11ecee 354deg,#00f2c2 356deg,#00d65b 358deg,#0dc314 360deg)"></i>
<i style="left:119.5px;top:365.5px;width:165px;height:165px;background:conic-gradient(from 7.12deg,#0dc315 0deg,#6cd400 2deg,#dbf400 4deg,#fffb00 6deg,#ffd900 32deg,#ffc400 46deg,#fffb00 70deg,#dff500 72deg,#7ed800 76deg,#43ca00 78deg,#14be01 80deg,#08c724 102deg,#01cc38 104deg,#00f3c5 112deg,#01f7db 114deg,#0cf0e8 120deg,#01f7dc 126deg,#00f2c0 128deg,#05c92c 132deg,#3fc900 134deg,#d0f100 136deg,#ffda00 138deg,#f85f00 142deg,#f45400 144deg,#f55700 148deg,#ff7300 150deg,#ffec00 154deg,#b2e700 156deg,#27c300 158deg,#02cb35 160deg,#00e792 162deg,#04f5df 164deg,#16e9f2 170deg,#06f4e1 218deg,#04f5df 222deg,#00e99a 224deg,#01cc38 226deg,#42ca00 228deg,#fffc00 230deg,#ff7800 234deg,#f14b00 240deg,#e32b01 248deg,#ed4100 258deg,#fd6d00 270deg,#ffa500 280deg,#fffe00 292deg,#13bf03 308deg,#02cc37 314deg,#00eca9 320deg,#02f7dc 326deg,#1be2f6 334deg,#26c8f9 338deg,#3c91ff 342deg,#3d84ff 344deg,#32acfc 348deg,#1be1f6 352deg,#12ecee 354deg,#00f3c3 356deg,#00d75d 358deg,#0dc315 360deg)"></i>
<i style="left:120.5px;top:366.5px;width:163px;height:163px;background:conic-gradient(from 6.38deg,#0dc316 0deg,#6bd400 2deg,#daf400 4deg,#fffb00 6deg,#ffda00 32deg,#ffc300 46deg,#fffa00 70deg,#eaf900 72deg,#8cdc00 76deg,#17bf00 80deg,#09c622 102deg,#02cb36 104deg,#00f3c3 112deg,#01f7db 114deg,#0defe9 120deg,#02f6dd 126deg,#00f5cb 128deg,#03ca32 132deg,#2cc400 134deg,#c1ec00 136deg,#ffe000 138deg,#fa6400 142deg,#f45400 144deg,#f55700 148deg,#fe7100 150deg,#ffea00 154deg,#b3e800 156deg,#28c300 158deg,#02cb35 160deg,#00e792 162deg,#05f5df 164deg,#16e9f3 170deg,#04f5df 222deg,#00ea9e 224deg,#01cd3a 226deg,#37c700 228deg,#fbfe00 230deg,#ff7900 234deg,#ee4300 242deg,#e12a01 250deg,#f96300 268deg,#ffa400 280deg,#fffe00 292deg,#13be02 308deg,#02cb35 314deg,#00eca6 320deg,#01f8db 326deg,#1ae2f6 334deg,#27c7f9 338deg,#3c90ff 342deg,#3d80ff 344deg,#34a9fd 348deg,#1cdff6 352deg,#12ecee 354deg,#00f3c4 356deg,#00d75e 358deg,#0dc316 360deg)"></i>
<i style="left:121.5px;top:367.5px;width:161px;height:161px;background:conic-gradient(from 5.62deg,#0dc416 0deg,#6ad300 2deg,#d9f300 4deg,#fffb00 6deg,#ffda00 32deg,#ffc100 46deg,#fff900 70deg,#f6fc00 72deg,#98e000 76deg,#25c200 80deg,#13bf04 82deg,#09c622 102deg,#03cb34 104deg,#00f2c1 112deg,#01f7db 114deg,#0feeeb 120deg,#00f7d7 128deg,#02cc37 132deg,#19bf00 134deg,#b2e800 136deg,#ffe700 138deg,#fb6900 142deg,#f45400 144deg,#f55700 148deg,#fd6e00 150deg,#ffe900 154deg,#b5e900 156deg,#29c300 158deg,#02cb35 160deg,#00e792 162deg,#05f5e0 164deg,#17e9f4 170deg,#04f5df 222deg,#00eba1 224deg,#00cd3d 226deg,#2cc400 228deg,#f2fb00 230deg,#ffc400 232deg,#ff7b00 234deg,#f14c00 240deg,#df2902 250deg,#f96100 268deg,#ffa300 280deg,#fffd00 292deg,#14be01 308deg,#03cb33 314deg,#00eba4 320deg,#00f8d9 326deg,#1ae3f6 334deg,#27c6f9 338deg,#3c8fff 342deg,#3e7cff 344deg,#35a5fd 348deg,#1ddef6 352deg,#12ecee 354deg,#00f3c5 356deg,#00d85f 358deg,#0dc416 360deg)"></i>
<i style="left:122.5px;top:368.5px;width:159px;height:159px;background:conic-gradient(from 4.88deg,#0cc417 0deg,#68d300 2deg,#d8f300 4deg,#fffb00 6deg,#ffda00 32deg,#ffc100 46deg,#fffe00 72deg,#6ed500 78deg,#34c600 80deg,#13bf04 82deg,#09c622 102deg,#03cb32 104deg,#00f2c0 112deg,#01f7dc 114deg,#10edec 120deg,#00f8da 128deg,#00e794 130deg,#00cd3d 132deg,#12c007 134deg,#a3e300 136deg,#ffed00 138deg,#fd6e00 142deg,#f45400 144deg,#f55700 148deg,#fc6c00 150deg,#ffe700 154deg,#b7e900 156deg,#29c300 158deg,#02cb35 160deg,#00e793 162deg,#06f4e0 164deg,#17e8f4 170deg,#05f5df 222deg,#00eba5 224deg,#00cf42 226deg,#22c100 228deg,#e8f800 230deg,#ffc700 232deg,#ff8000 234deg,#f14c00 240deg,#de2802 250deg,#f86000 268deg,#ffa200 280deg,#fffd00 292deg,#14be00 308deg,#04ca31 314deg,#00d34f 316deg,#00ea9f 320deg,#00f7d7 326deg,#1ae4f5 334deg,#30b0fc 340deg,#3e78ff 344deg,#37a1fe 348deg,#1ddcf6 352deg,#12ecef 354deg,#00f3c7 356deg,#00d860 358deg,#0cc417 360deg)"></i>
<i style="left:123.5px;top:369.5px;width:157px;height:157px;background:conic-gradient(from 4.12deg,#0cc418 0deg,#67d300 2deg,#d6f300 4deg,#fffb00 6deg,#ffdb00 32deg,#ffc100 48deg,#fffb00 72deg,#def500 74deg,#7dd800 78deg,#42ca00 80deg,#12bf05 82deg,#09c622 102deg,#04ca30 104deg,#00d34f 106deg,#00f1be 112deg,#02f7dc 114deg,#11eded 120deg,#01f7db 128deg,#00ea9f 130deg,#00d148 132deg,#0fc210 134deg,#94de00 136deg,#fff400 138deg,#ff7400 142deg,#f45500 144deg,#f55700 148deg,#fb6900 150deg,#ffe600 154deg,#b9ea00 156deg,#2ac400 158deg,#02cb35 160deg,#00e793 162deg,#06f4e1 164deg,#18e8f5 170deg,#05f5df 222deg,#00eca8 224deg,#00d046 226deg,#17bf00 228deg,#dff500 230deg,#ffcb00 232deg,#ff8400 234deg,#f75c00 238deg,#ec3d00 244deg,#de2802 250deg,#f85e00 268deg,#ffa100 280deg,#fffd00 292deg,#8ddc00 300deg,#32c500 306deg,#16bf00 308deg,#04ca2f 314deg,#00d14b 316deg,#00e99a 320deg,#00f7d4 326deg,#19e6f5 334deg,#30b2fc 340deg,#3d8eff 342deg,#3e77ff 344deg,#399dfe 348deg,#1edbf7 352deg,#13ecef 354deg,#00f4c8 356deg,#00d861 358deg,#0cc418 360deg)"></i>
<i style="left:124.5px;top:370.5px;width:155px;height:155px;background:conic-gradient(from 3.38deg,#0cc418 0deg,#66d200 2deg,#d5f200 4deg,#fffb00 6deg,#ffdf00 30deg,#ffbf00 48deg,#fffa00 72deg,#e9f800 74deg,#8bdc00 78deg,#16bf00 82deg,#09c621 102deg,#05ca2e 104deg,#00d24b 106deg,#00f1bd 112deg,#01f7db 114deg,#12ecee 120deg,#02f6dd 128deg,#00edaa 130deg,#00d453 132deg,#0bc41a 134deg,#83da00 136deg,#fffb00 138deg,#ff7a00 142deg,#f45500 144deg,#f55700 148deg,#fa6600 150deg,#ffe500 154deg,#bbea00 156deg,#2bc400 158deg,#02cb35 160deg,#00e793 162deg,#07f4e1 164deg,#19e7f5 170deg,#05f5df 222deg,#00edac 224deg,#00d14a 226deg,#13bf04 228deg,#d6f300 230deg,#ffce00 232deg,#ff8900 234deg,#fd6d00 236deg,#ef4500 242deg,#df2802 250deg,#f45400 266deg,#ff9200 278deg,#fffd00 292deg,#18bf00 308deg,#05c92d 314deg,#00d046 316deg,#00e896 320deg,#00f6d2 326deg,#18e7f5 334deg,#2fb4fb 340deg,#3d8eff 342deg,#3e75ff 344deg,#3b99ff 348deg,#1fd9f7 352deg,#13ebef 354deg,#00f4c9 356deg,#00d963 358deg,#0cc418 360deg)"></i>
<i style="left:125.5px;top:371.5px;width:153px;height:153px;background:conic-gradient(from 2.62deg,#0cc419 0deg,#64d200 2deg,#d4f200 4deg,#fffb00 6deg,#ffdf00 30deg,#ffbe00 48deg,#fff900 72deg,#f4fc00 74deg,#97df00 78deg,#25c200 82deg,#11c008 84deg,#09c621 102deg,#05c92c 104deg,#00d047 106deg,#00e99b 110deg,#01f8db 114deg,#12ecee 120deg,#03f6de 128deg,#00efb6 130deg,#00d75f 132deg,#09c620 134deg,#71d500 136deg,#f8fd00 138deg,#ffc500 140deg,#ff8100 142deg,#f45500 144deg,#f55700 148deg,#f96300 150deg,#ffe300 154deg,#bdeb00 156deg,#2cc400 158deg,#02cb35 160deg,#00e793 162deg,#07f3e2 164deg,#19e5f5 170deg,#05f5e0 222deg,#00eeaf 224deg,#00d34f 226deg,#11c009 228deg,#cdf000 230deg,#ffd200 232deg,#ff8d00 234deg,#fd6e00 236deg,#ef4600 242deg,#df2902 250deg,#ed3f00 260deg,#fe6f00 272deg,#ffb000 282deg,#fffd00 292deg,#8edd00 300deg,#50cd00 304deg,#19bf00 308deg,#06c92b 314deg,#00cf42 316deg,#00e690 320deg,#00f1be 324deg,#0af1e5 330deg,#18e8f5 334deg,#2fb4fb 340deg,#3c8fff 342deg,#3e74ff 344deg,#3e7fff 346deg,#3c96ff 348deg,#1fd8f7 352deg,#13ebf0 354deg,#00f4ca 356deg,#00d964 358deg,#0cc419 360deg)"></i>
<i style="left:126.5px;top:372.5px;width:151px;height:151px;background:conic-gradient(from 1.88deg,#0bc41a 0deg,#63d200 2deg,#d3f200 4deg,#fffb00 6deg,#ffdc00 32deg,#ffbe00 48deg,#ffff00 74deg,#6dd400 80deg,#33c600 82deg,#11c008 84deg,#09c621 102deg,#06c82a 104deg,#00cf44 106deg,#00e999 110deg,#00f8da 114deg,#12ecef 120deg,#04f5df 128deg,#00f2c2 130deg,#00db6b 132deg,#08c725 134deg,#5ed000 136deg,#e9f800 138deg,#ffcc00 140deg,#ff8700 142deg,#f45500 144deg,#f86100 150deg,#ffe200 154deg,#beeb00 156deg,#2cc400 158deg,#02cb35 160deg,#00e793 162deg,#07f3e2 164deg,#1ae3f6 170deg,#12ecee 194deg,#05f5e0 222deg,#00efb2 224deg,#00d453 226deg,#0fc20e 228deg,#c4ed00 230deg,#ffd500 232deg,#ff9200 234deg,#fd6f00 236deg,#ef4600 242deg,#e02902 250deg,#ea3800 258deg,#fa6400 270deg,#ff9d00 280deg,#fffd00 292deg,#8fdd00 300deg,#51cd00 304deg,#1bc000 308deg,#06c829 314deg,#00ce3e 316deg,#00e58b 320deg,#00eda9 322deg,#02f7dc 328deg,#17e9f4 334deg,#2fb3fb 340deg,#3c8fff 342deg,#3e73ff 344deg,#3e7bff 346deg,#3c93ff 348deg,#20d6f7 352deg,#14ebf0 354deg,#00f4cb 356deg,#00d965 358deg,#0bc41a 360deg)"></i>
<i style="left:127.5px;top:373.5px;width:149px;height:149px;background:conic-gradient(from 1.12deg,#0bc51a 0deg,#61d100 2deg,#d2f100 4deg,#fffb00 6deg,#ffd900 34deg,#ffbe00 50deg,#fffb00 74deg,#dcf400 76deg,#7cd800 80deg,#41c900 82deg,#12c007 84deg,#07c828 104deg,#00ce40 106deg,#00e897 110deg,#00f8d8 114deg,#13ecef 120deg,#05f5e0 128deg,#00f5ce 130deg,#00df77 132deg,#06c92b 134deg,#4bcc00 136deg,#daf400 138deg,#ffd300 140deg,#ff8e00 142deg,#f45500 144deg,#f75e00 150deg,#ffe000 154deg,#c0ec00 156deg,#2dc400 158deg,#02cb35 160deg,#00e794 162deg,#08f3e3 164deg,#1be2f6 170deg,#12ecee 190deg,#05f5e0 222deg,#00efb6 224deg,#00d557 226deg,#0dc314 228deg,#bbea00 230deg,#ffd900 232deg,#ff9600 234deg,#fe7000 236deg,#ef4600 242deg,#dc2703 252deg,#f96200 270deg,#ff9c00 280deg,#fffc00 292deg,#8fdd00 300deg,#52cd00 304deg,#1cc000 308deg,#07c828 314deg,#00cd3b 316deg,#00eca7 322deg,#01f7db 328deg,#16e9f3 334deg,#2fb3fb 340deg,#3c90ff 342deg,#3e73ff 344deg,#3e77ff 346deg,#3c90ff 348deg,#21d4f7 352deg,#14ebf0 354deg,#00f5cc 356deg,#00da66 358deg,#0bc51a 360deg)"></i>
<i style="left:128.5px;top:374.5px;width:147px;height:147px;background:conic-gradient(from 0.38deg,#0bc51b 0deg,#60d100 2deg,#d1f100 4deg,#fffb00 6deg,#ffdd00 32deg,#ffbc00 50deg,#fffa00 74deg,#e8f800 76deg,#8adc00 80deg,#15be00 84deg,#0fc20e 88deg,#08c725 104deg,#00cd3c 106deg,#00e895 110deg,#00f7d7 114deg,#13ebef 120deg,#06f4e1 128deg,#00f8da 130deg,#04ca31 134deg,#38c700 136deg,#cbef00 138deg,#ffd900 140deg,#ff9500 142deg,#f45500 144deg,#f65b00 150deg,#ffde00 154deg,#c2ed00 156deg,#2ec500 158deg,#02cb35 160deg,#00e794 162deg,#08f2e3 164deg,#1ce0f6 170deg,#13ebf0 180deg,#05f4e0 222deg,#00f0b9 224deg,#00d65b 226deg,#0cc419 228deg,#b2e800 230deg,#ffdc00 232deg,#ff9a00 234deg,#fe7100 236deg,#ef4700 242deg,#db2603 252deg,#f55600 268deg,#ff9b00 280deg,#fffc00 292deg,#90dd00 300deg,#53ce00 304deg,#1ec000 308deg,#0dc315 312deg,#01cc39 316deg,#00eba5 322deg,#00f8da 328deg,#15eaf2 334deg,#2fb3fb 340deg,#3c91ff 342deg,#3e72ff 344deg,#3e73ff 346deg,#3d8dff 348deg,#21d3f8 352deg,#14ebf1 354deg,#00f5cd 356deg,#00da67 358deg,#0bc51b 360deg)"></i>
<i style="left:129.5px;top:375.5px;width:145px;height:145px;background:conic-gradient(from -0.38deg,#0bc51c 0deg,#5ed000 2deg,#cff000 4deg,#fffb00 6deg,#ffdd00 32deg,#ffbc00 50deg,#fff900 74deg,#effa00 76deg,#92de00 80deg,#1fc100 84deg,#10c10b 86deg,#08c725 104deg,#00cd3c 106deg,#00e895 110deg,#00f7d6 114deg,#13ebf0 120deg,#03f6dd 130deg,#02cb35 134deg,#28c300 136deg,#beeb00 138deg,#ffe000 140deg,#f65900 144deg,#f65a00 150deg,#ffd900 154deg,#cef000 156deg,#3cc800 158deg,#04ca31 160deg,#00e58b 162deg,#05f4e0 164deg,#1ce0f6 170deg,#13ebf0 184deg,#06f4e0 222deg,#00f1be 224deg,#00d861 226deg,#0ac51d 228deg,#a5e400 230deg,#ffe100 232deg,#ffa100 234deg,#ff7200 236deg,#ed4000 244deg,#db2603 252deg,#f45400 268deg,#ff8d00 278deg,#fffc00 292deg,#90dd00 300deg,#53ce00 304deg,#1ec100 308deg,#0dc315 312deg,#01cc39 316deg,#00eba4 322deg,#00f8d9 328deg,#15eaf2 334deg,#2fb2fc 340deg,#3c91ff 342deg,#3e72ff 344deg,#3f6fff 346deg,#31affc 350deg,#15eaf1 354deg,#00f6cf 356deg,#00db6a 358deg,#0bc51c 360deg)"></i>
<i style="left:130.5px;top:376.5px;width:143px;height:143px;background:conic-gradient(from -1.12deg,#0ac51d 0deg,#5acf00 2deg,#cbef00 4deg,#fffb00 6deg,#ffdb00 34deg,#ffbd00 50deg,#fff900 74deg,#f3fb00 76deg,#96df00 80deg,#24c200 84deg,#11c10a 86deg,#07c826 104deg,#00ce3e 106deg,#00e896 110deg,#00f7d6 114deg,#14ebf0 120deg,#0cf0e8 126deg,#03f6de 130deg,#00e895 132deg,#01cc39 134deg,#1cc000 136deg,#b3e800 138deg,#ffe600 140deg,#f96100 144deg,#f55700 146deg,#f65a00 150deg,#ff8c00 152deg,#ffcf00 154deg,#e4f700 156deg,#57cf00 158deg,#07c828 160deg,#00f8d8 164deg,#14ebf0 168deg,#1ce0f6 172deg,#14ebf0 182deg,#07f3e2 220deg,#06f4e0 222deg,#00f3c4 224deg,#00da69 226deg,#09c621 228deg,#95df00 230deg,#ffe800 232deg,#ff7500 236deg,#ed4100 244deg,#dc2703 252deg,#ed4000 262deg,#fb6800 272deg,#ffa900 282deg,#fffc00 292deg,#90dd00 300deg,#52ce00 304deg,#1dc000 308deg,#07c827 314deg,#01cd3a 316deg,#00eca6 322deg,#00f8da 328deg,#15eaf2 334deg,#30b2fc 340deg,#3e73ff 344deg,#3f6dff 346deg,#32acfc 350deg,#15eaf2 354deg,#00f6d3 356deg,#00dc6d 358deg,#0ac51d 360deg)"></i>
<i style="left:131.5px;top:377.5px;width:141px;height:141px;background:conic-gradient(from -1.88deg,#0ac61f 0deg,#56cf00 2deg,#c8ee00 4deg,#fffb00 6deg,#ffdf00 32deg,#ffc000 52deg,#fff900 74deg,#f7fd00 76deg,#9ae000 80deg,#29c300 84deg,#11c009 86deg,#07c828 104deg,#00ce40 106deg,#00e898 110deg,#00f7d6 114deg,#0eeeea 118deg,#17e9f4 122deg,#04f5de 130deg,#00e99b 132deg,#00cd3c 134deg,#13be02 136deg,#a8e400 138deg,#ffec00 140deg,#fb6800 144deg,#f55800 146deg,#f65a00 150deg,#ff8200 152deg,#ffc600 154deg,#f9fd00 156deg,#72d500 158deg,#09c620 160deg,#00db6a 162deg,#00f4c9 164deg,#0defe9 166deg,#1dddf6 172deg,#15eaf1 180deg,#06f4e1 222deg,#00f4cb 224deg,#00dd70 226deg,#08c725 228deg,#83da00 230deg,#ffee00 232deg,#ff7700 236deg,#f14a00 242deg,#de2802 252deg,#ea3800 260deg,#f75c00 270deg,#ff9700 280deg,#fffb00 292deg,#aee600 298deg,#52ce00 304deg,#1cc000 308deg,#07c828 314deg,#00cd3c 316deg,#00eca7 322deg,#00f8da 328deg,#15eaf2 334deg,#30b1fc 340deg,#3e74ff 344deg,#3f6aff 346deg,#34a9fd 350deg,#16eaf2 354deg,#00f7d6 356deg,#00dd70 358deg,#0ac61f 360deg)"></i>
<i style="left:132.5px;top:378.5px;width:139px;height:139px;background:conic-gradient(from -2.62deg,#09c620 0deg,#53ce00 2deg,#c5ed00 4deg,#fffb00 6deg,#ffe000 32deg,#ffbf00 52deg,#fbfe00 76deg,#68d300 82deg,#2ec500 84deg,#11c008 86deg,#09c621 102deg,#06c82a 104deg,#00cf43 106deg,#00e999 110deg,#00f7d7 114deg,#14ebf1 120deg,#13ebef 124deg,#05f5df 130deg,#00eba2 132deg,#00cf43 134deg,#11c008 136deg,#9de100 138deg,#fff200 140deg,#fe7000 144deg,#f55800 146deg,#f65b00 150deg,#ff7800 152deg,#fff800 156deg,#8cdc00 158deg,#0dc315 160deg,#00d659 162deg,#00f0ba 164deg,#0cf0e8 166deg,#1ed9f7 172deg,#15eaf2 180deg,#06f4e1 222deg,#00f6d1 224deg,#06c829 228deg,#70d500 230deg,#fff500 232deg,#ff7900 236deg,#f14c00 242deg,#df2802 252deg,#ea3700 260deg,#f65b00 270deg,#ffa600 282deg,#fffb00 292deg,#aee600 298deg,#36c700 306deg,#1bc000 308deg,#06c82a 314deg,#00ce3f 316deg,#00e58b 320deg,#00eca9 322deg,#01f7db 328deg,#15eaf2 334deg,#30b1fc 340deg,#3e75ff 344deg,#3f68ff 346deg,#35a6fd 350deg,#16e9f3 354deg,#00f8d9 356deg,#00dd73 358deg,#09c620 360deg)"></i>
<i style="left:133.5px;top:379.5px;width:137px;height:137px;background:conic-gradient(from -3.38deg,#09c621 0deg,#4fcd00 2deg,#c1ec00 4deg,#fffc00 6deg,#ffe100 32deg,#ffbf00 52deg,#feff00 76deg,#6dd400 82deg,#33c600 84deg,#12c007 86deg,#09c621 102deg,#06c92b 104deg,#00d046 106deg,#00e99b 110deg,#00f7d7 114deg,#0feeeb 118deg,#19e5f5 122deg,#05f4e0 130deg,#00eca8 132deg,#00d14a 134deg,#10c10d 136deg,#92de00 138deg,#fff800 140deg,#ff7800 144deg,#f65900 146deg,#f75b00 150deg,#fd6f00 152deg,#ffee00 156deg,#a2e300 158deg,#11c008 160deg,#00d148 162deg,#00edab 164deg,#0bf0e7 166deg,#19e6f5 170deg,#20d6f7 172deg,#16eaf2 180deg,#07f3e2 220deg,#00f7d7 224deg,#05c92d 228deg,#5dd000 230deg,#fffb00 232deg,#ff8200 236deg,#f24f00 242deg,#e02902 252deg,#e22a01 256deg,#f65900 270deg,#ffa400 282deg,#fffa00 292deg,#ccef00 296deg,#36c600 306deg,#1abf00 308deg,#06c92b 314deg,#00cf42 316deg,#00e68f 320deg,#00f1bb 324deg,#01f7db 328deg,#16eaf2 334deg,#30b0fc 340deg,#3e75ff 344deg,#3f65ff 346deg,#37a2fd 350deg,#17e9f4 354deg,#01f7db 356deg,#00de76 358deg,#09c621 360deg)"></i>
<i style="left:134.5px;top:380.5px;width:135px;height:135px;background:conic-gradient(from -4.12deg,#08c723 0deg,#4ccc00 2deg,#beeb00 4deg,#fffc00 6deg,#ffdb00 36deg,#ffbf00 52deg,#fffd00 76deg,#72d600 82deg,#38c700 84deg,#12c006 86deg,#09c621 102deg,#05c92d 104deg,#00d148 106deg,#00e99c 110deg,#00f7d8 114deg,#15eaf1 120deg,#1be2f6 122deg,#06f4e1 130deg,#00eeaf 132deg,#00d351 134deg,#0ec313 136deg,#87db00 138deg,#fffd00 140deg,#ff8000 144deg,#f65900 146deg,#f75c00 150deg,#fa6600 152deg,#ffe500 156deg,#b7e900 158deg,#1fc100 160deg,#01cc3a 162deg,#00e99c 164deg,#0af1e6 166deg,#18e8f5 170deg,#21d3f8 172deg,#16e9f3 180deg,#06f4e1 222deg,#02f7dc 224deg,#04ca31 228deg,#4acc00 230deg,#f7fd00 232deg,#ff8b00 236deg,#fd6e00 238deg,#ef4700 244deg,#db2603 254deg,#f55800 270deg,#ffa300 282deg,#fffa00 292deg,#ccf000 296deg,#35c600 306deg,#19bf00 308deg,#05c92d 314deg,#00d045 316deg,#00e792 320deg,#00f1bd 324deg,#02f7dc 328deg,#16eaf2 334deg,#31b0fc 340deg,#3e76ff 344deg,#3f63ff 346deg,#389efe 350deg,#17e8f4 354deg,#02f6dd 356deg,#00df79 358deg,#08c723 360deg)"></i>
<i style="left:135.5px;top:381.5px;width:133px;height:133px;background:conic-gradient(from -4.88deg,#08c724 0deg,#48cb00 2deg,#bbea00 4deg,#fffc00 6deg,#ffdf00 34deg,#ffc100 52deg,#fffc00 76deg,#aae500 80deg,#3dc800 84deg,#12bf05 86deg,#09c621 102deg,#05ca2e 104deg,#00d14a 106deg,#00ea9d 110deg,#00f8d8 114deg,#10eeec 118deg,#1be1f6 122deg,#07f4e2 130deg,#00efb6 132deg,#00d659 134deg,#0cc418 136deg,#7bd800 138deg,#f7fd00 140deg,#ffc900 142deg,#ff8800 144deg,#f65900 146deg,#f75e00 152deg,#ffdb00 156deg,#cdf000 158deg,#3ac800 160deg,#04ca31 162deg,#00e58b 164deg,#05f5e0 166deg,#17e8f4 170deg,#20d5f7 172deg,#16e9f3 182deg,#07f4e1 222deg,#04f5df 224deg,#00e68e 226deg,#02cb35 228deg,#39c700 230deg,#e7f800 232deg,#ffd000 234deg,#ff9400 236deg,#fe7000 238deg,#ed4000 246deg,#dc2603 254deg,#f55600 270deg,#ffa100 282deg,#fffa00 292deg,#cdf000 296deg,#17bf00 308deg,#05ca2e 314deg,#00d148 316deg,#00e896 320deg,#00f5ce 326deg,#16e9f3 334deg,#31affc 340deg,#3e77ff 344deg,#4060ff 346deg,#3a9afe 350deg,#18e8f5 354deg,#04f5de 356deg,#00e07c 358deg,#08c724 360deg)"></i>
<i style="left:136.5px;top:382.5px;width:131px;height:131px;background:conic-gradient(from -5.62deg,#08c725 0deg,#45ca00 2deg,#b8e900 4deg,#fffc00 6deg,#ffdd00 36deg,#ffc300 54deg,#fffc00 76deg,#dcf400 78deg,#7cd800 82deg,#42ca00 84deg,#13bf04 86deg,#09c621 102deg,#04ca2f 104deg,#00d24d 106deg,#00ea9f 110deg,#00f8d9 114deg,#15eaf2 120deg,#1be0f6 122deg,#07f3e2 130deg,#00f1bc 132deg,#00d860 134deg,#0ac51d 136deg,#6ed500 138deg,#ecf900 140deg,#ffcf00 142deg,#f65a00 146deg,#f85e00 152deg,#ffd200 156deg,#e2f600 158deg,#55ce00 160deg,#06c829 162deg,#00f7d7 166deg,#10eeec 168deg,#17e9f4 170deg,#20d7f7 172deg,#22d2f8 174deg,#17e9f4 182deg,#06f4e0 224deg,#00e895 226deg,#01cc39 228deg,#27c300 230deg,#d7f300 232deg,#ffd600 234deg,#ff9c00 236deg,#ff7200 238deg,#ed4200 246deg,#dd2702 254deg,#ed4000 264deg,#fc6b00 274deg,#ff9f00 282deg,#fff900 292deg,#cdf000 296deg,#16bf00 308deg,#04ca30 314deg,#00d24b 316deg,#00e999 320deg,#02f6dd 328deg,#16e9f3 334deg,#31affc 340deg,#3e77ff 344deg,#405dff 346deg,#3c96ff 350deg,#19e6f5 354deg,#05f5e0 356deg,#00e180 358deg,#08c725 360deg)"></i>
<i style="left:137.5px;top:383.5px;width:129px;height:129px;background:conic-gradient(from -6.37deg,#07c827 0deg,#41c900 2deg,#b4e800 4deg,#fffc00 6deg,#ffe100 34deg,#ffc300 54deg,#fffb00 76deg,#e0f500 78deg,#81d900 82deg,#13bf03 86deg,#09c621 102deg,#04ca31 104deg,#00d34f 106deg,#00eaa0 110deg,#00f8d9 114deg,#10eded 118deg,#1cdff6 122deg,#08f3e3 130deg,#00f3c3 132deg,#00da67 134deg,#09c620 136deg,#62d200 138deg,#e1f600 140deg,#ffd500 142deg,#f65a00 146deg,#f85f00 152deg,#ff8900 154deg,#ffc900 156deg,#f7fd00 158deg,#70d500 160deg,#09c621 162deg,#00db6a 164deg,#00f4c8 166deg,#0feeea 168deg,#16e9f3 170deg,#23cef8 174deg,#17e8f4 182deg,#06f4e0 224deg,#00e99c 226deg,#00ce3e 228deg,#17bf00 230deg,#c7ee00 232deg,#ffdc00 234deg,#ff7500 238deg,#ee4300 246deg,#de2802 254deg,#ea3800 262deg,#f85e00 272deg,#ff9d00 282deg,#fff900 292deg,#ecf900 294deg,#15be00 308deg,#04ca31 314deg,#00d34e 316deg,#00e99c 320deg,#03f6dd 328deg,#16e9f3 334deg,#3c95ff 342deg,#405bff 346deg,#3c94ff 350deg,#1ae4f5 354deg,#07f4e1 356deg,#00e283 358deg,#07c827 360deg)"></i>
<i style="left:138.5px;top:384.5px;width:127px;height:127px;background:conic-gradient(from -7.09deg,#07c828 0deg,#3ec800 2deg,#b1e700 4deg,#fffc00 6deg,#ffde00 36deg,#ffc300 54deg,#fffb00 76deg,#e3f700 78deg,#86da00 82deg,#14be01 86deg,#09c621 102deg,#03cb32 104deg,#00e07a 108deg,#00eba2 110deg,#00f8da 114deg,#16e9f3 120deg,#1cdff6 122deg,#09f2e4 130deg,#00f4ca 132deg,#00dc6e 134deg,#08c724 136deg,#57cf00 138deg,#d6f300 140deg,#ffdb00 142deg,#f96200 146deg,#f85f00 152deg,#ff8000 154deg,#fff900 158deg,#8bdc00 160deg,#0dc416 162deg,#00d659 164deg,#00f0b9 166deg,#0eefe9 168deg,#1edbf7 172deg,#25cbf9 174deg,#18e8f5 182deg,#06f4e1 224deg,#00eba2 226deg,#00d045 228deg,#12c007 230deg,#b8e900 232deg,#ffe200 234deg,#ff7700 238deg,#ee4400 246deg,#dd2703 256deg,#f75d00 272deg,#ff9b00 282deg,#fff800 292deg,#edf900 294deg,#14be00 308deg,#03cb33 314deg,#00df79 318deg,#00eaa0 320deg,#03f6dd 328deg,#16e9f3 334deg,#3c95ff 342deg,#405cff 346deg,#3c91ff 350deg,#1be2f6 354deg,#08f3e3 356deg,#00e386 358deg,#07c828 360deg)"></i>
<i style="left:139.5px;top:385.5px;width:125px;height:125px;background:conic-gradient(from -7.8deg,#06c82a 0deg,#3bc800 2deg,#aee600 4deg,#fffc00 6deg,#ffe200 34deg,#ffc300 54deg,#fffa00 76deg,#e7f800 78deg,#8bdc00 82deg,#17bf00 86deg,#09c621 102deg,#03cb34 104deg,#00eba3 110deg,#00f8da 114deg,#16e9f3 120deg,#1cdef6 122deg,#0af2e5 130deg,#00f6d1 132deg,#00de75 134deg,#07c827 136deg,#4bcc00 138deg,#ccef00 140deg,#ffe000 142deg,#fb6900 146deg,#f75d00 148deg,#f86000 152deg,#ff7700 154deg,#ffef00 158deg,#a0e200 160deg,#11c009 162deg,#00d149 164deg,#00edaa 166deg,#0df0e8 168deg,#1dddf6 172deg,#26c7f9 174deg,#19e7f5 182deg,#06f4e1 224deg,#00eca9 226deg,#00d24d 228deg,#0fc20f 230deg,#a9e500 232deg,#ffe800 234deg,#ff7900 238deg,#ef4600 246deg,#dc2603 256deg,#f75b00 272deg,#ff9900 282deg,#fff800 292deg,#edfa00 294deg,#14be01 308deg,#03cb34 314deg,#00eba3 320deg,#03f6de 328deg,#17e9f3 334deg,#3c95ff 342deg,#405cff 346deg,#3c8fff 350deg,#1ce0f6 354deg,#09f2e5 356deg,#00e48a 358deg,#06c82a 360deg)"></i>
<i style="left:140.5px;top:386.5px;width:123px;height:123px;background:conic-gradient(from -8.5deg,#06c92b 0deg,#37c700 2deg,#abe500 4deg,#fffc00 6deg,#ffe000 36deg,#ffc700 56deg,#fffa00 76deg,#ebf900 78deg,#8fdd00 82deg,#1cc000 86deg,#10c10d 92deg,#09c621 102deg,#02cb35 104deg,#00eba5 110deg,#01f8db 114deg,#17e9f4 120deg,#1edbf7 124deg,#10edec 128deg,#00f7d8 132deg,#06c92b 136deg,#40c900 138deg,#c2ec00 140deg,#ffe600 142deg,#fe6f00 146deg,#f75d00 148deg,#f86000 152deg,#fd6e00 154deg,#ffe600 158deg,#b6e900 160deg,#1dc000 162deg,#01cd3a 164deg,#00e99b 166deg,#0bf1e6 168deg,#1cdff6 172deg,#26c8f9 174deg,#19e7f5 184deg,#06f4e1 224deg,#00eeaf 226deg,#00d454 228deg,#0cc417 230deg,#9be100 232deg,#ffee00 234deg,#ff8100 238deg,#f35100 244deg,#db2603 256deg,#f65a00 272deg,#ff9700 282deg,#fff700 292deg,#eefa00 294deg,#13be02 308deg,#02cc36 314deg,#00eba5 320deg,#04f6de 328deg,#17e9f4 334deg,#3c95ff 342deg,#405dff 346deg,#3d8dff 350deg,#1ddef6 354deg,#0bf1e6 356deg,#00e58d 358deg,#06c92b 360deg)"></i>
<i style="left:141.5px;top:387.5px;width:121px;height:121px;background:conic-gradient(from -9.18deg,#05c92d 0deg,#34c600 2deg,#a8e500 4deg,#fffc00 6deg,#ffe100 36deg,#ffc700 56deg,#fff900 76deg,#effa00 78deg,#93de00 82deg,#21c100 86deg,#13bf03 88deg,#09c722 102deg,#02cc36 104deg,#00eca6 110deg,#01f7db 114deg,#17e9f4 120deg,#1fd8f7 124deg,#17e8f4 126deg,#02f7dc 132deg,#04ca2f 136deg,#35c600 138deg,#b8e900 140deg,#ffeb00 142deg,#ff7700 146deg,#f75e00 148deg,#fb6700 154deg,#ffde00 158deg,#cbef00 160deg,#38c700 162deg,#03ca32 164deg,#00e58b 166deg,#05f5df 168deg,#1be2f6 172deg,#25caf9 174deg,#23d0f8 178deg,#19e5f5 184deg,#06f4e1 224deg,#00efb5 226deg,#00d65c 228deg,#0ac51d 230deg,#8ddc00 232deg,#fff300 234deg,#ff8900 238deg,#fd6f00 240deg,#ed4100 248deg,#dc2703 256deg,#f04800 268deg,#ff7b00 278deg,#ff9500 282deg,#fff700 292deg,#eefa00 294deg,#13bf02 308deg,#01cc38 314deg,#00eca6 320deg,#04f5de 328deg,#17e9f4 334deg,#3c96ff 342deg,#405eff 346deg,#3f6dff 348deg,#3d8aff 350deg,#1edbf7 354deg,#0cf0e8 356deg,#00e691 358deg,#05c92d 360deg)"></i>
<i style="left:142.5px;top:388.5px;width:119px;height:119px;background:conic-gradient(from -9.84deg,#05ca2e 0deg,#31c500 2deg,#a5e400 4deg,#fffc00 6deg,#ffe200 36deg,#ffc600 56deg,#fff900 76deg,#f3fb00 78deg,#97df00 82deg,#26c300 86deg,#13bf03 88deg,#08c724 102deg,#02cc37 104deg,#00eca7 110deg,#01f7db 114deg,#17e8f4 120deg,#21d4f7 124deg,#19e6f5 126deg,#05f5df 132deg,#03cb32 136deg,#2ac400 138deg,#aee600 140deg,#fff000 142deg,#ff7e00 146deg,#f85e00 148deg,#f96200 154deg,#ffd500 158deg,#e1f600 160deg,#53ce00 162deg,#06c829 164deg,#00f7d7 168deg,#11ecee 170deg,#1ae4f5 172deg,#24cdf8 174deg,#28c4f9 176deg,#1ae3f6 184deg,#07f4e1 224deg,#00f1bb 226deg,#00d963 228deg,#09c621 230deg,#7cd800 232deg,#fff900 234deg,#ff9000 238deg,#fe7100 240deg,#ee4200 248deg,#de2802 256deg,#ea3900 264deg,#f96200 274deg,#ff9400 282deg,#fff600 292deg,#effa00 294deg,#2dc400 306deg,#13bf03 308deg,#01cc39 314deg,#00eca7 320deg,#04f5df 328deg,#17e9f4 334deg,#3c96ff 342deg,#405eff 346deg,#3f6bff 348deg,#32adfc 352deg,#1fd9f7 354deg,#0eefe9 356deg,#00e794 358deg,#05ca2e 360deg)"></i>
<i style="left:143.5px;top:389.5px;width:117px;height:117px;background:conic-gradient(from -10.48deg,#04ca30 0deg,#2dc400 2deg,#a2e300 4deg,#fffd00 6deg,#ffe000 38deg,#ffc600 56deg,#fff900 76deg,#f6fc00 78deg,#9be000 82deg,#2bc400 86deg,#13be02 88deg,#08c725 102deg,#01cc39 104deg,#00eca9 110deg,#01f7dc 114deg,#18e8f5 120deg,#23d0f8 124deg,#1ae3f6 126deg,#07f3e2 132deg,#00e793 134deg,#02cb36 136deg,#1fc100 138deg,#a4e300 140deg,#fff500 142deg,#ff8500 146deg,#f85f00 148deg,#f96300 154deg,#ff9100 156deg,#ffcd00 158deg,#f6fc00 160deg,#6ed400 162deg,#09c621 164deg,#00db6a 166deg,#00f4c8 168deg,#10edec 170deg,#18e7f5 172deg,#2ac0fa 176deg,#1be2f6 184deg,#07f3e2 224deg,#00f2c2 226deg,#00db6a 228deg,#08c725 230deg,#6cd400 232deg,#ffff00 234deg,#ff9800 238deg,#ff7300 240deg,#ee4400 248deg,#df2902 256deg,#ea3800 264deg,#f86100 274deg,#ff9200 282deg,#fff600 292deg,#effa00 294deg,#2cc400 306deg,#13bf04 308deg,#00cd3b 314deg,#00e58b 318deg,#00eca9 320deg,#05f5df 328deg,#17e9f4 334deg,#3c96ff 342deg,#405fff 346deg,#3f68ff 348deg,#33aafd 352deg,#20d7f7 354deg,#0feeeb 356deg,#00e897 358deg,#04ca30 360deg)"></i>
<i style="left:144.5px;top:390.5px;width:115px;height:115px;background:conic-gradient(from -11.11deg,#04ca31 0deg,#2ac400 2deg,#9fe200 4deg,#ffff00 6deg,#ffdb00 42deg,#ffc700 56deg,#fafe00 78deg,#6ad300 84deg,#30c500 86deg,#14be01 88deg,#07c826 102deg,#01cd3a 104deg,#00edaa 110deg,#02f7dc 114deg,#18e7f5 120deg,#24ccf8 124deg,#14eaf1 128deg,#08f3e2 132deg,#00e99a 134deg,#01cc39 136deg,#15be00 138deg,#9be100 140deg,#fffa00 142deg,#ff8c00 146deg,#f85f00 148deg,#f96300 154deg,#ff8800 156deg,#fff900 160deg,#89db00 162deg,#0cc417 164deg,#00d65a 166deg,#00f0b9 168deg,#0feeeb 170deg,#17e8f4 172deg,#2bbcfa 176deg,#1ce0f6 184deg,#07f3e2 224deg,#00f4c8 226deg,#00dd71 228deg,#07c828 230deg,#5cd000 232deg,#f1fb00 234deg,#ffd300 236deg,#ff7500 240deg,#ef4500 248deg,#dd2703 258deg,#f45400 272deg,#ff9100 282deg,#fff500 292deg,#f0fa00 294deg,#2bc400 306deg,#12bf05 308deg,#00cd3d 314deg,#00e68f 318deg,#00edaa 320deg,#05f5e0 328deg,#17e8f4 334deg,#3c96ff 342deg,#4060ff 346deg,#3f66ff 348deg,#35a6fd 352deg,#21d4f7 354deg,#0feeeb 356deg,#00e99b 358deg,#04ca31 360deg)"></i>
<i style="left:145.5px;top:391.5px;width:113px;height:113px;background:conic-gradient(from -11.73deg,#03cb33 0deg,#27c300 2deg,#9ce100 4deg,#fdfe00 6deg,#ffe100 38deg,#ffca00 58deg,#feff00 78deg,#6ed500 84deg,#35c600 86deg,#15be00 88deg,#0ac51d 100deg,#00cd3b 104deg,#00edac 110deg,#02f7dc 114deg,#19e6f5 120deg,#25caf9 124deg,#16eaf2 128deg,#08f2e3 132deg,#00eba1 134deg,#00ce3e 136deg,#12bf05 138deg,#92de00 140deg,#ffff00 142deg,#f86000 148deg,#fa6400 154deg,#ff7f00 156deg,#fff100 160deg,#9fe200 162deg,#11c00a 164deg,#00d149 166deg,#00edaa 168deg,#0eefea 170deg,#16e9f3 172deg,#2cbbfa 176deg,#1be0f6 186deg,#07f3e2 224deg,#00f5ce 226deg,#05c92c 230deg,#4ccc00 232deg,#e2f600 234deg,#ffd900 236deg,#ff7700 240deg,#ef4600 248deg,#dc2603 258deg,#f35200 272deg,#ff8f00 282deg,#fff500 292deg,#f1fb00 294deg,#2ac300 306deg,#12bf06 308deg,#00ce40 314deg,#00e792 318deg,#00edac 320deg,#05f5e0 328deg,#18e8f5 334deg,#3c95ff 342deg,#4060ff 346deg,#3f63ff 348deg,#36a3fd 352deg,#22d1f8 354deg,#10edec 356deg,#00ea9e 358deg,#03cb33 360deg)"></i>
<i style="left:146.5px;top:392.5px;width:111px;height:111px;background:conic-gradient(from -12.32deg,#03cb34 0deg,#24c200 2deg,#99e000 4deg,#f9fd00 6deg,#fff500 18deg,#ffd700 46deg,#ffca00 58deg,#fffe00 78deg,#73d600 84deg,#3ac800 86deg,#17bf00 88deg,#0ac51e 100deg,#00cd3d 104deg,#00edad 110deg,#02f6dd 114deg,#19e5f5 120deg,#26c9f9 124deg,#17e9f3 128deg,#09f2e4 132deg,#00eca8 134deg,#00d045 136deg,#11c00a 138deg,#f5fc00 142deg,#ffd100 144deg,#f96300 148deg,#fa6400 154deg,#ff7600 156deg,#ffe800 160deg,#b4e800 162deg,#1bc000 164deg,#01cd3a 166deg,#00e99b 168deg,#0af1e6 170deg,#15eaf2 172deg,#2abefa 176deg,#2bbdfa 178deg,#1cdef6 186deg,#09f2e4 222deg,#07f3e2 224deg,#00f7d4 226deg,#04ca30 230deg,#3cc800 232deg,#d4f200 234deg,#ffde00 236deg,#ff7900 240deg,#ef4800 248deg,#dc2703 258deg,#f35100 272deg,#ff8e00 282deg,#fff400 292deg,#f1fb00 294deg,#28c300 306deg,#12c006 308deg,#00cf44 314deg,#00e896 318deg,#00f1bc 322deg,#05f4e0 328deg,#18e8f5 334deg,#3c95ff 342deg,#4061ff 346deg,#4061ff 348deg,#389ffe 352deg,#23cff8 354deg,#11eded 356deg,#00eba1 358deg,#03cb34 360deg)"></i>
<i style="left:147.5px;top:393.5px;width:109px;height:109px;background:conic-gradient(from -12.91deg,#02cb36 0deg,#21c100 2deg,#96df00 4deg,#f6fc00 6deg,#fffa00 10deg,#ffe300 38deg,#ffca00 58deg,#fffc00 78deg,#aae500 82deg,#3fc900 86deg,#19bf00 88deg,#0ac51e 100deg,#00ce3f 104deg,#00eeaf 110deg,#03f6dd 114deg,#1ae4f6 120deg,#26c8f9 124deg,#18e8f5 128deg,#0af1e5 132deg,#00eeaf 134deg,#00d24d 136deg,#0fc20e 138deg,#7dd800 140deg,#ebf900 142deg,#ffd700 144deg,#fc6a00 148deg,#f96300 152deg,#fd6f00 156deg,#ffe000 160deg,#caef00 162deg,#36c700 164deg,#03cb32 166deg,#04f5df 170deg,#14ebf1 172deg,#29c0fa 176deg,#2db9fb 178deg,#1dddf6 186deg,#08f3e3 224deg,#00f8da 226deg,#03cb34 230deg,#2dc400 232deg,#c7ee00 234deg,#ffe300 236deg,#ff7f00 240deg,#f04900 248deg,#dd2702 258deg,#f04800 270deg,#ff8c00 282deg,#fff300 292deg,#f2fb00 294deg,#27c300 306deg,#12c007 308deg,#05c92c 312deg,#00d047 314deg,#00e99a 318deg,#00f8da 326deg,#18e8f5 334deg,#3c95ff 342deg,#4061ff 346deg,#405eff 348deg,#3a9bfe 352deg,#24ccf8 354deg,#11eded 356deg,#00eba4 358deg,#02cb36 360deg)"></i>
<i style="left:148.5px;top:394.5px;width:107px;height:107px;background:conic-gradient(from -13.47deg,#02cc37 0deg,#1ec000 2deg,#93de00 4deg,#f3fb00 6deg,#fffb00 8deg,#ffe400 38deg,#ffc900 58deg,#fffc00 78deg,#dcf400 80deg,#7dd800 84deg,#44ca00 86deg,#1bc000 88deg,#0cc418 98deg,#05c92c 102deg,#00cf42 104deg,#00eeb0 110deg,#03f6dd 114deg,#1ae3f6 120deg,#27c7f9 124deg,#22d0f8 126deg,#19e5f5 128deg,#0bf1e6 132deg,#00efb6 134deg,#00d454 136deg,#0ec313 138deg,#72d500 140deg,#e1f600 142deg,#ffdc00 144deg,#fe7000 148deg,#f96200 150deg,#fb6700 156deg,#ffd800 160deg,#dff500 162deg,#51cd00 164deg,#06c82a 166deg,#00f7d6 170deg,#13ebef 172deg,#1dddf6 174deg,#28c3f9 176deg,#2eb5fb 178deg,#1edbf7 186deg,#0eefe9 216deg,#03f6dd 226deg,#02cc37 230deg,#1fc100 232deg,#b9ea00 234deg,#ffe800 236deg,#ff8700 240deg,#fe6f00 242deg,#ee4300 250deg,#de2802 258deg,#eb3a00 266deg,#f65900 274deg,#ff9c00 284deg,#fff300 292deg,#f3fb00 294deg,#26c200 306deg,#11c008 308deg,#05ca2e 312deg,#00d14a 314deg,#00ea9d 318deg,#00f8da 326deg,#18e8f5 334deg,#3c94ff 342deg,#3f62ff 346deg,#405bff 348deg,#3c97ff 352deg,#26c9f9 354deg,#12ecee 356deg,#00eca8 358deg,#02cc37 360deg)"></i>
<i style="left:149.5px;top:395.5px;width:105px;height:105px;background:conic-gradient(from -14.02deg,#01cc39 0deg,#1bc000 2deg,#90dd00 4deg,#effa00 6deg,#fffb00 8deg,#ffe400 38deg,#ffca00 58deg,#fffb00 78deg,#dff500 80deg,#82da00 84deg,#49cb00 86deg,#1dc000 88deg,#10c10d 94deg,#0ac61e 100deg,#00cf44 104deg,#00eeb1 110deg,#03f6de 114deg,#1be1f6 120deg,#27c6f9 124deg,#24ccf8 126deg,#1be2f6 128deg,#0cf0e7 132deg,#00f1bc 134deg,#00d65c 136deg,#0cc418 138deg,#67d300 140deg,#d7f300 142deg,#ffe100 144deg,#ff7600 148deg,#f96300 150deg,#fb6700 156deg,#ffd000 160deg,#f4fc00 162deg,#6cd400 164deg,#09c622 166deg,#00db6a 168deg,#00f4c7 170deg,#12ecee 172deg,#1be0f6 174deg,#30b1fc 178deg,#1ed9f7 186deg,#0feeeb 214deg,#05f5e0 226deg,#00e895 228deg,#00cd3b 230deg,#13be02 232deg,#ace600 234deg,#ffed00 236deg,#ff8e00 240deg,#fe7100 242deg,#ee4400 250deg,#e02902 258deg,#ea3900 266deg,#f55800 274deg,#ff9a00 284deg,#fff200 292deg,#f3fb00 294deg,#24c200 306deg,#11c009 308deg,#04ca30 312deg,#00d24e 314deg,#00eba1 318deg,#01f8db 326deg,#18e7f5 334deg,#3c94ff 342deg,#3f63ff 346deg,#4059ff 348deg,#3c94ff 352deg,#27c6f9 354deg,#12ecef 356deg,#00edab 358deg,#01cc39 360deg)"></i>
<i style="left:150.5px;top:396.5px;width:103px;height:103px;background:conic-gradient(from -14.56deg,#01cd3a 0deg,#18bf00 2deg,#8edc00 4deg,#ecf900 6deg,#fffb00 8deg,#ffe500 38deg,#ffcb00 58deg,#fffb00 78deg,#e3f700 80deg,#87db00 84deg,#1fc100 88deg,#12c006 92deg,#0ac61e 100deg,#00d046 104deg,#00efb3 110deg,#04f5de 114deg,#1be0f6 120deg,#27c5f9 124deg,#26c8f9 126deg,#14ebf0 130deg,#0cf0e8 132deg,#00f3c3 134deg,#00d963 136deg,#0bc51c 138deg,#5dd000 140deg,#cef000 142deg,#ffe500 144deg,#ff7d00 148deg,#f96300 150deg,#fb6700 156deg,#ff8f00 158deg,#fffa00 162deg,#87db00 164deg,#0cc418 166deg,#00d65a 168deg,#00f0b9 170deg,#11eded 172deg,#1ae4f6 174deg,#31aefc 178deg,#1fd7f7 186deg,#12ecef 210deg,#07f3e2 226deg,#00e99b 228deg,#00cf41 230deg,#11c009 232deg,#a0e200 234deg,#fff200 236deg,#ff9400 240deg,#ff7300 242deg,#ef4500 250deg,#dd2703 260deg,#f55600 274deg,#ff9700 284deg,#fff100 292deg,#f4fc00 294deg,#23c200 306deg,#11c10a 308deg,#04ca31 312deg,#00d351 314deg,#00eba4 318deg,#01f7db 326deg,#19e7f5 334deg,#3c94ff 342deg,#3f63ff 346deg,#4058fe 348deg,#3c92ff 352deg,#13ebf0 356deg,#00eeae 358deg,#01cd3a 360deg)"></i>
<i style="left:151.5px;top:397.5px;width:101px;height:101px;background:conic-gradient(from -15.07deg,#00cd3c 0deg,#15be00 2deg,#8adc00 4deg,#e9f800 6deg,#fffb00 8deg,#ffe600 38deg,#ffcd00 60deg,#fffa00 78deg,#e7f800 80deg,#8cdc00 84deg,#22c100 88deg,#12bf06 92deg,#0ac61f 100deg,#00d148 104deg,#00efb4 110deg,#04f5df 114deg,#1cdff6 120deg,#28c4f9 124deg,#28c4f9 126deg,#15eaf2 130deg,#0defe9 132deg,#00f4ca 134deg,#00db6b 136deg,#09c620 138deg,#53ce00 140deg,#c5ed00 142deg,#ffea00 144deg,#ff8400 148deg,#fa6400 150deg,#fb6800 156deg,#ff8700 158deg,#fff200 162deg,#9de100 164deg,#10c10b 166deg,#00d14a 168deg,#00edaa 170deg,#0feeeb 172deg,#18e7f5 174deg,#30b1fc 178deg,#2abefa 182deg,#1fd8f7 188deg,#11ecee 212deg,#07f3e2 226deg,#00eba1 228deg,#00d149 230deg,#0fc210 232deg,#93de00 234deg,#fff700 236deg,#ff9b00 240deg,#ff7500 242deg,#ef4700 250deg,#dc2603 260deg,#f45500 274deg,#ff9500 284deg,#fff100 292deg,#f5fc00 294deg,#21c100 306deg,#10c10b 308deg,#03cb33 312deg,#00eca5 318deg,#01f7db 326deg,#19e6f5 334deg,#3c93ff 342deg,#3f63ff 346deg,#4057fd 348deg,#3c8fff 352deg,#14ebf0 356deg,#00efb2 358deg,#00cd3c 360deg)"></i>
<i style="left:152.5px;top:398.5px;width:99px;height:99px;background:conic-gradient(from -15.58deg,#00ce3f 0deg,#14be01 2deg,#87db00 4deg,#e6f700 6deg,#fffb00 8deg,#ffe400 40deg,#ffcd00 60deg,#fffa00 78deg,#ebf900 80deg,#90dd00 84deg,#24c200 88deg,#12bf05 92deg,#0ac61f 100deg,#00d14b 104deg,#00efb6 110deg,#05f5df 114deg,#17e9f4 118deg,#28c3fa 124deg,#2ac0fa 126deg,#16e9f3 130deg,#0eeeea 132deg,#00f6d2 134deg,#00dd72 136deg,#08c724 138deg,#48cb00 140deg,#bceb00 142deg,#ffef00 144deg,#ff8b00 148deg,#fa6400 150deg,#fb6800 156deg,#ff7f00 158deg,#ffea00 162deg,#b3e800 164deg,#19bf00 166deg,#00cd3b 168deg,#00e99b 170deg,#0af1e5 172deg,#17e9f4 174deg,#2fb4fb 178deg,#31affc 180deg,#20d6f7 188deg,#13ebf0 210deg,#07f3e2 226deg,#00eca7 228deg,#00d350 230deg,#0dc416 232deg,#86db00 234deg,#fffc00 236deg,#ff7700 242deg,#ed4000 252deg,#dd2703 260deg,#f04a00 272deg,#ff9300 284deg,#fff000 292deg,#f5fc00 294deg,#20c100 306deg,#0ac61f 310deg,#02cb35 312deg,#00eca6 318deg,#02f7dc 326deg,#19e6f5 334deg,#3c93ff 342deg,#3f64ff 346deg,#4056fd 348deg,#3d8dff 352deg,#15eaf1 356deg,#00efb5 358deg,#00ce3f 360deg)"></i>
<i style="left:153.5px;top:399.5px;width:97px;height:97px;background:conic-gradient(from -16.06deg,#00cf42 0deg,#13bf03 2deg,#83da00 4deg,#e2f600 6deg,#fffc00 8deg,#ffe500 40deg,#ffcd00 60deg,#fffa00 78deg,#effa00 80deg,#94de00 84deg,#26c300 88deg,#13bf04 92deg,#0ac61f 100deg,#00d24d 104deg,#00f0b7 110deg,#05f5df 114deg,#18e8f4 118deg,#2cbcfa 126deg,#17e9f4 130deg,#00f8d9 134deg,#00e07a 136deg,#07c827 138deg,#3fc900 140deg,#b3e800 142deg,#fff300 144deg,#fa6500 150deg,#fb6900 156deg,#ff7700 158deg,#ffe200 162deg,#c8ee00 164deg,#34c600 166deg,#03cb33 168deg,#04f5df 172deg,#16e9f3 174deg,#2db7fb 178deg,#33abfc 180deg,#21d4f7 188deg,#12ecee 212deg,#07f3e2 226deg,#00eeae 228deg,#00d557 230deg,#0bc51c 232deg,#77d700 234deg,#f9fd00 236deg,#ff7900 242deg,#ed4200 252deg,#de2802 260deg,#eb3b00 268deg,#fc6900 278deg,#ff9100 284deg,#ffef00 292deg,#f6fc00 294deg,#1ec100 306deg,#02cc36 312deg,#00eca8 318deg,#02f7dc 326deg,#19e5f5 334deg,#3c93ff 342deg,#3f64ff 346deg,#4055fc 348deg,#3d8aff 352deg,#15eaf2 356deg,#00f0b9 358deg,#00cf42 360deg)"></i>
<i style="left:154.5px;top:400.5px;width:95px;height:95px;background:conic-gradient(from -16.53deg,#00d046 0deg,#13bf04 2deg,#80d900 4deg,#dff500 6deg,#fffc00 8deg,#ffe600 40deg,#ffcd00 60deg,#fff900 78deg,#f2fb00 80deg,#97df00 84deg,#29c300 88deg,#13bf04 92deg,#09c621 100deg,#00d34f 104deg,#00f0b9 110deg,#05f4e0 114deg,#18e8f5 118deg,#2db7fb 126deg,#18e7f5 130deg,#02f6dd 134deg,#06c92b 138deg,#35c600 140deg,#aae500 142deg,#fff800 144deg,#fa6500 150deg,#fe6f00 158deg,#ffda00 162deg,#ddf500 164deg,#4fcd00 166deg,#06c92a 168deg,#00f7d6 172deg,#15eaf1 174deg,#35a6fd 180deg,#21d3f8 188deg,#11eded 214deg,#08f3e3 226deg,#00efb4 228deg,#00d75e 230deg,#09c620 232deg,#69d300 234deg,#ecf900 236deg,#ffdb00 238deg,#ff7e00 242deg,#f14a00 250deg,#df2902 260deg,#eb3a00 268deg,#f75c00 276deg,#ff8f00 284deg,#ffef00 292deg,#f7fc00 294deg,#1dc000 306deg,#01cc38 312deg,#00e58b 316deg,#00eca9 318deg,#02f7dc 326deg,#19e5f5 334deg,#3c92ff 342deg,#4054fb 348deg,#3d88ff 352deg,#2fb4fb 354deg,#16e9f3 356deg,#00f1bc 358deg,#00d046 360deg)"></i>
<i style="left:155.5px;top:401.5px;width:93px;height:93px;background:conic-gradient(from -16.99deg,#00d149 0deg,#12bf06 2deg,#7dd800 4deg,#dcf400 6deg,#fffc00 8deg,#ffe400 42deg,#ffd100 62deg,#fff900 78deg,#f6fc00 80deg,#66d300 86deg,#2ec400 88deg,#13bf03 92deg,#09c722 100deg,#03cb34 102deg,#00f0ba 110deg,#06f4e0 114deg,#18e7f5 118deg,#2fb3fc 126deg,#1ae4f6 130deg,#05f4e0 134deg,#04ca2f 138deg,#2bc400 140deg,#a2e300 142deg,#fffc00 144deg,#fc6b00 150deg,#fc6b00 158deg,#ffd300 162deg,#f3fb00 164deg,#6ad300 166deg,#09c722 168deg,#00db6b 170deg,#00f3c7 172deg,#13ebf0 174deg,#1edaf7 176deg,#37a2fe 180deg,#22d1f8 188deg,#11eded 214deg,#08f3e3 226deg,#00f0ba 228deg,#00d965 230deg,#08c724 232deg,#5bd000 234deg,#dff500 236deg,#ffdf00 238deg,#ff8500 242deg,#f96300 246deg,#e93600 256deg,#de2802 262deg,#f65a00 276deg,#ff8e00 284deg,#ffee00 292deg,#f7fd00 294deg,#1bc000 306deg,#01cc3a 312deg,#00e68f 316deg,#00edaa 318deg,#02f6dd 326deg,#1ae4f5 334deg,#3c92ff 342deg,#4054fc 348deg,#3f67ff 350deg,#3d85ff 352deg,#30b1fc 354deg,#17e9f4 356deg,#00f2c0 358deg,#00d149 360deg)"></i>
<i style="left:156.5px;top:402.5px;width:91px;height:91px;background:conic-gradient(from -17.42deg,#00d24c 0deg,#12c007 2deg,#d9f300 6deg,#fffc00 8deg,#ffe500 42deg,#ffd100 62deg,#fafd00 80deg,#6bd400 86deg,#32c600 88deg,#13bf02 92deg,#08c723 100deg,#00d453 104deg,#00f1bb 110deg,#06f4e1 114deg,#19e7f5 118deg,#30b1fc 126deg,#1be0f6 130deg,#08f3e3 134deg,#00e691 136deg,#03cb33 138deg,#22c100 140deg,#9ae000 142deg,#fcfe00 144deg,#fe7100 150deg,#fb6900 154deg,#fc6c00 158deg,#ff9600 160deg,#fffb00 164deg,#85da00 166deg,#0cc419 168deg,#00d65a 170deg,#00f0b8 172deg,#12ecee 174deg,#1ddef6 176deg,#36a4fd 180deg,#29c1fa 186deg,#22d2f8 190deg,#12ecee 214deg,#08f3e3 226deg,#00f2c0 228deg,#00db6c 230deg,#07c827 232deg,#4dcc00 234deg,#d3f100 236deg,#ffe400 238deg,#ff8b00 242deg,#fe7100 244deg,#ef4600 252deg,#dd2702 262deg,#f14d00 274deg,#ff8c00 284deg,#ffed00 292deg,#f8fd00 294deg,#40c900 304deg,#19bf00 306deg,#00cd3b 312deg,#00e793 316deg,#00f0b9 320deg,#08f3e3 328deg,#1ae4f6 334deg,#3c92ff 342deg,#4054fc 348deg,#3f64ff 350deg,#3d83ff 352deg,#32adfc 354deg,#18e8f5 356deg,#00f3c3 358deg,#00d24c 360deg)"></i>
<i style="left:157.5px;top:403.5px;width:89px;height:89px;background:conic-gradient(from -17.85deg,#00d350 0deg,#11c009 2deg,#d6f300 6deg,#fffc00 8deg,#ffe800 40deg,#ffd000 62deg,#feff00 80deg,#70d500 86deg,#37c700 88deg,#13be02 92deg,#08c725 100deg,#02cc37 102deg,#00f1bd 110deg,#06f4e1 114deg,#19e6f5 118deg,#30b0fc 126deg,#13ebf0 132deg,#0bf1e6 134deg,#00e998 136deg,#02cc36 138deg,#19bf00 140deg,#91de00 142deg,#f3fb00 144deg,#ffd800 146deg,#ff7700 150deg,#fb6800 152deg,#fc6c00 158deg,#ff8e00 160deg,#fff300 164deg,#9ce100 166deg,#10c10c 168deg,#00d14a 170deg,#00edaa 172deg,#10eeec 174deg,#1be1f6 176deg,#34a8fd 180deg,#36a5fd 182deg,#23d0f8 190deg,#13ebf0 212deg,#08f3e3 226deg,#00f3c6 228deg,#00dd73 230deg,#06c92b 232deg,#3fc900 234deg,#c6ee00 236deg,#ffe900 238deg,#ff9200 242deg,#ff7300 244deg,#ef4700 252deg,#dc2703 262deg,#f14b00 274deg,#ff8a00 284deg,#ffec00 292deg,#f9fd00 294deg,#65d200 302deg,#17bf00 306deg,#00ce3e 312deg,#00e897 316deg,#00f4c7 322deg,#0eefe9 330deg,#1ae3f6 334deg,#3c91ff 342deg,#4054fc 348deg,#3f62ff 350deg,#34a8fd 354deg,#19e5f5 356deg,#00f4c7 358deg,#00d350 360deg)"></i>
<i style="left:158.5px;top:404.5px;width:87px;height:87px;background:conic-gradient(from -18.25deg,#00d453 0deg,#11c00a 2deg,#d3f200 6deg,#fffc00 8deg,#ffe400 44deg,#ffd000 62deg,#fffe00 80deg,#75d600 86deg,#3cc800 88deg,#14be01 92deg,#07c726 100deg,#01cc38 102deg,#00f1be 110deg,#07f3e2 114deg,#19e5f5 118deg,#31affc 126deg,#14eaf1 132deg,#0cf0e7 134deg,#00ea9f 136deg,#01cd3a 138deg,#13bf02 140deg,#89db00 142deg,#eaf900 144deg,#ffdd00 146deg,#ff7e00 150deg,#fb6900 152deg,#fd6c00 158deg,#ff8600 160deg,#ffeb00 164deg,#b1e700 166deg,#18bf00 168deg,#00cd3b 170deg,#00e99b 172deg,#0af1e5 174deg,#19e5f5 176deg,#33abfc 180deg,#38a0fe 182deg,#23cef8 190deg,#12ecee 214deg,#08f2e3 226deg,#00f5cb 228deg,#04ca2f 232deg,#32c500 234deg,#bbea00 236deg,#ffed00 238deg,#ff7500 244deg,#ed4100 254deg,#dd2802 262deg,#f04a00 274deg,#ff8900 284deg,#ffeb00 292deg,#f9fd00 294deg,#65d200 302deg,#15be00 306deg,#00cf42 312deg,#00e99a 316deg,#00f4c8 322deg,#0eefea 330deg,#1ae3f6 334deg,#3c91ff 342deg,#4055fc 348deg,#405fff 350deg,#36a4fd 354deg,#1be2f6 356deg,#00f4cb 358deg,#00d453 360deg)"></i>
<i style="left:159.5px;top:405.5px;width:85px;height:85px;background:conic-gradient(from -18.64deg,#00d556 0deg,#10c10b 2deg,#6fd500 4deg,#d0f100 6deg,#fffc00 8deg,#ffe700 42deg,#ffd100 62deg,#fffc00 80deg,#abe500 84deg,#41c900 88deg,#25c200 90deg,#14be00 92deg,#07c827 100deg,#01cc39 102deg,#00f2c0 110deg,#07f3e2 114deg,#19e5f5 118deg,#31aefc 126deg,#2cbafb 128deg,#15eaf2 132deg,#0df0e8 134deg,#00eca6 136deg,#00ce40 138deg,#12c007 140deg,#7fd900 142deg,#e1f600 144deg,#ffe100 146deg,#ff8400 150deg,#fb6900 152deg,#fd6d00 158deg,#ff7f00 160deg,#ffe400 164deg,#c7ee00 166deg,#32c600 168deg,#03cb33 170deg,#04f5de 174deg,#17e8f4 176deg,#31aefc 180deg,#3a9cfe 182deg,#24ccf8 190deg,#13ecef 214deg,#09f2e4 226deg,#00f6d1 228deg,#03cb32 232deg,#25c200 234deg,#afe700 236deg,#fff100 238deg,#ff7700 244deg,#ee4200 254deg,#df2802 262deg,#eb3b00 270deg,#f86000 278deg,#ff8700 284deg,#fafe00 294deg,#3cc800 304deg,#14be00 306deg,#00d046 312deg,#00ea9e 316deg,#04f6de 326deg,#1be2f6 334deg,#3c91ff 342deg,#4055fc 348deg,#405dff 350deg,#38a0fe 354deg,#1cdff6 356deg,#00f5ce 358deg,#00d556 360deg)"></i>
<i style="left:160.5px;top:406.5px;width:83px;height:83px;background:conic-gradient(from -19.02deg,#00d65a 0deg,#10c10d 2deg,#6cd400 4deg,#cdf000 6deg,#fffc00 8deg,#ffe800 42deg,#ffd400 64deg,#fffc00 80deg,#dcf400 82deg,#7fd900 86deg,#46cb00 88deg,#27c300 90deg,#15be00 92deg,#07c828 100deg,#01cd3a 102deg,#00f2c1 110deg,#08f3e3 114deg,#1ae4f6 118deg,#32adfc 126deg,#2eb6fb 128deg,#17e9f3 132deg,#0eefe9 134deg,#00eeae 136deg,#00d048 138deg,#10c10b 140deg,#75d600 142deg,#d8f300 144deg,#ffe600 146deg,#ff8a00 150deg,#fc6900 152deg,#fd6d00 158deg,#ff7700 160deg,#ffdd00 164deg,#dcf400 166deg,#4dcc00 168deg,#06c92b 170deg,#00f7d5 174deg,#16e9f3 176deg,#3c97ff 182deg,#25caf9 190deg,#15eaf1 212deg,#09f2e4 226deg,#00f7d7 228deg,#02cb36 232deg,#18bf00 234deg,#a4e300 236deg,#fff600 238deg,#ff7900 244deg,#ee4400 254deg,#e02902 262deg,#eb3a00 270deg,#f85f00 278deg,#ff8600 284deg,#fbfe00 294deg,#63d200 302deg,#14be01 306deg,#00d149 312deg,#00eba2 316deg,#04f5de 326deg,#1be2f6 334deg,#3c91ff 342deg,#4055fc 348deg,#405aff 350deg,#3a9bfe 354deg,#1ddcf6 356deg,#00f6d2 358deg,#00d65a 360deg)"></i>
<i style="left:161.5px;top:407.5px;width:81px;height:81px;background:conic-gradient(from -19.37deg,#00d75d 0deg,#0fc20e 2deg,#69d300 4deg,#caef00 6deg,#fffc00 8deg,#ffea00 40deg,#ffd400 64deg,#fffb00 80deg,#dff500 82deg,#84da00 86deg,#4bcc00 88deg,#29c300 90deg,#17bf00 92deg,#0bc51a 98deg,#00cd3b 102deg,#00f2c3 110deg,#00f8d8 112deg,#1ae3f6 118deg,#32acfc 126deg,#30b1fc 128deg,#18e8f5 132deg,#0feeea 134deg,#00efb5 136deg,#00d34f 138deg,#0fc20f 140deg,#6bd400 142deg,#d0f100 144deg,#ffea00 146deg,#fc6a00 152deg,#fe7000 160deg,#ffd500 164deg,#f1fb00 166deg,#68d300 168deg,#08c723 170deg,#00db6b 172deg,#00f3c6 174deg,#15eaf1 176deg,#2eb6fb 180deg,#3b97ff 182deg,#27c7f9 190deg,#13ebf0 214deg,#09f2e4 226deg,#01f7db 228deg,#01cc39 232deg,#13bf04 234deg,#98e000 236deg,#fffa00 238deg,#ff7d00 244deg,#ef4500 254deg,#de2802 264deg,#f35100 276deg,#ff9700 286deg,#fcfe00 294deg,#62d200 302deg,#13bf02 306deg,#05c92e 310deg,#00d24d 312deg,#00eba4 316deg,#04f5df 326deg,#1be1f6 334deg,#3c90ff 342deg,#4055fc 348deg,#4059fe 350deg,#3c96ff 354deg,#1fd9f7 356deg,#00f7d6 358deg,#00d75d 360deg)"></i>
<i style="left:162.5px;top:408.5px;width:79px;height:79px;background:conic-gradient(from -19.72deg,#00d861 0deg,#0fc210 2deg,#66d200 4deg,#c7ee00 6deg,#fffc00 8deg,#ffe700 44deg,#ffd400 64deg,#fffb00 80deg,#e3f700 82deg,#88db00 86deg,#50cd00 88deg,#2bc400 90deg,#18bf00 92deg,#0bc51b 98deg,#00cd3d 102deg,#00f3c4 110deg,#00f8da 112deg,#1ae2f6 118deg,#33abfc 126deg,#32adfc 128deg,#19e5f5 132deg,#10eeeb 134deg,#00f1bc 136deg,#00d557 138deg,#0dc314 140deg,#62d100 142deg,#c8ee00 144deg,#ffee00 146deg,#fc6a00 152deg,#fe7000 160deg,#fffb00 166deg,#83da00 168deg,#0bc41a 170deg,#00d65b 172deg,#00f0b8 174deg,#13ebf0 176deg,#1fd8f7 178deg,#3a9bfe 182deg,#3a9bfe 184deg,#28c3fa 190deg,#14ebf0 214deg,#04f6de 228deg,#00e895 230deg,#00ce3e 232deg,#11c10a 234deg,#ffff00 238deg,#ff8400 244deg,#fa6400 248deg,#ec3f00 256deg,#dd2702 264deg,#f24f00 276deg,#ff8300 284deg,#ff9400 286deg,#fdfe00 294deg,#61d100 302deg,#13bf03 306deg,#04ca2f 310deg,#00d351 312deg,#00eca5 316deg,#04f5df 326deg,#1be1f6 334deg,#3c90ff 342deg,#4055fc 348deg,#4058fe 350deg,#3c93ff 354deg,#20d5f7 356deg,#00f8da 358deg,#00d861 360deg)"></i>
<i style="left:163.5px;top:409.5px;width:77px;height:77px;background:conic-gradient(from -20.07deg,#00d965 0deg,#0ec211 2deg,#62d200 4deg,#c4ed00 6deg,#fffc00 8deg,#ffe800 44deg,#ffd400 64deg,#fffa00 80deg,#e7f800 82deg,#8ddc00 86deg,#55ce00 88deg,#2ec400 90deg,#19bf00 92deg,#0bc51b 98deg,#00ce3f 102deg,#00f3c5 110deg,#00f8da 112deg,#1be1f6 118deg,#2eb6fb 124deg,#34a8fd 128deg,#1be1f6 132deg,#11eded 134deg,#00f3c3 136deg,#00d75f 138deg,#0cc418 140deg,#58cf00 142deg,#bfec00 144deg,#fff200 146deg,#fd6d00 152deg,#fe7000 160deg,#ff9500 162deg,#fff400 166deg,#9ae000 168deg,#10c10d 170deg,#00d14b 172deg,#00eda9 174deg,#0feeeb 176deg,#1ddcf6 178deg,#389efe 182deg,#3c96ff 184deg,#26c7f9 192deg,#14ebf0 214deg,#06f4e1 228deg,#00e99b 230deg,#00d045 232deg,#0fc210 234deg,#80d900 236deg,#f3fb00 238deg,#ffdc00 240deg,#ff8a00 244deg,#fe7200 246deg,#ed4000 256deg,#dd2702 264deg,#f24e00 276deg,#ff8100 284deg,#ff9200 286deg,#fdff00 294deg,#61d100 302deg,#12bf05 306deg,#04ca31 310deg,#00d454 312deg,#00eca6 316deg,#00f8d9 324deg,#14ebf0 332deg,#25cbf9 336deg,#3c90ff 342deg,#4056fc 348deg,#4056fd 350deg,#3c90ff 354deg,#22d2f8 356deg,#01f7dc 358deg,#00d965 360deg)"></i>
<i style="left:164.5px;top:410.5px;width:75px;height:75px;background:conic-gradient(from -20.42deg,#00da68 0deg,#0ec312 2deg,#5fd100 4deg,#c1ec00 6deg,#fffc00 8deg,#ffea00 42deg,#ffd400 64deg,#fffa00 80deg,#ebf900 82deg,#91dd00 86deg,#5acf00 88deg,#30c500 90deg,#1bc000 92deg,#0bc51c 98deg,#00cf41 102deg,#00f4c7 110deg,#09f2e5 114deg,#1be1f6 118deg,#29c1fa 122deg,#36a3fd 128deg,#1ddef6 132deg,#12ecee 134deg,#00f4ca 136deg,#00da66 138deg,#0bc51c 140deg,#4fcd00 142deg,#b7e900 144deg,#fff600 146deg,#ff7300 152deg,#fe6f00 158deg,#fe7100 160deg,#ff8e00 162deg,#ffed00 166deg,#b0e700 168deg,#16be00 170deg,#00cd3b 172deg,#00e99b 174deg,#0af2e5 176deg,#1be1f6 178deg,#37a2fe 182deg,#3c93ff 184deg,#27c5f9 192deg,#14eaf1 214deg,#08f3e3 228deg,#00eba1 230deg,#00d24c 232deg,#0dc416 234deg,#73d600 236deg,#e8f800 238deg,#ffe000 240deg,#ff8f00 244deg,#ff7300 246deg,#ed4100 256deg,#de2802 264deg,#f14c00 276deg,#ff8f00 286deg,#feff00 294deg,#60d100 302deg,#12bf06 306deg,#03cb33 310deg,#00eca8 316deg,#00f8da 324deg,#14ebf0 332deg,#1ce0f6 334deg,#3c8fff 342deg,#4056fd 348deg,#4055fc 350deg,#3d8dff 354deg,#23cef8 356deg,#03f6dd 358deg,#00da68 360deg)"></i>
<i style="left:165.5px;top:411.5px;width:73px;height:73px;background:conic-gradient(from -20.77deg,#00db6c 0deg,#0dc314 2deg,#5cd000 4deg,#beeb00 6deg,#fffc00 8deg,#ffe900 44deg,#ffd800 66deg,#fffa00 80deg,#eefa00 82deg,#95df00 86deg,#33c600 90deg,#1dc000 92deg,#0ac51d 98deg,#00cf44 102deg,#00f4c8 110deg,#01f7dc 112deg,#1ce0f6 118deg,#2abffa 122deg,#389efe 128deg,#1edaf7 132deg,#13ecef 134deg,#00f6d2 136deg,#00dc6e 138deg,#09c620 140deg,#46cb00 142deg,#afe700 144deg,#fffa00 146deg,#ff7900 152deg,#fd6d00 154deg,#fe7100 160deg,#ff8700 162deg,#ffe600 166deg,#c5ed00 168deg,#30c500 170deg,#03cb33 172deg,#04f6de 176deg,#19e5f5 178deg,#35a6fd 182deg,#3c90ff 184deg,#28c3f9 192deg,#15eaf1 214deg,#08f3e3 228deg,#00eca7 230deg,#00d452 232deg,#0bc51c 234deg,#66d300 236deg,#dcf400 238deg,#ffe500 240deg,#ff9500 244deg,#ff7500 246deg,#eb3b00 258deg,#e02902 266deg,#f14a00 276deg,#ff8c00 286deg,#ffff00 294deg,#5fd100 302deg,#32c600 304deg,#12c007 306deg,#02cb35 310deg,#00e58b 314deg,#00eca9 316deg,#05f5e0 326deg,#14ebf1 332deg,#25caf9 336deg,#3c8fff 342deg,#4056fd 348deg,#4054fc 350deg,#3d8bff 354deg,#25caf9 356deg,#05f5df 358deg,#00db6c 360deg)"></i>
<i style="left:166.5px;top:412.5px;width:71px;height:71px;background:conic-gradient(from -21.12deg,#00dd70 0deg,#0dc315 2deg,#59cf00 4deg,#bceb00 6deg,#fffc00 8deg,#ffe800 46deg,#ffd700 66deg,#fff900 80deg,#f2fb00 82deg,#35c600 90deg,#1ec100 92deg,#0ec212 96deg,#04ca2f 100deg,#00d046 102deg,#00f4ca 110deg,#0af1e6 114deg,#1cdff6 118deg,#2bbefa 122deg,#3a9afe 128deg,#20d6f7 132deg,#14ebf0 134deg,#00f8d9 136deg,#00de76 138deg,#08c723 140deg,#3ec800 142deg,#a8e400 144deg,#fffe00 146deg,#ff7f00 152deg,#fd6e00 154deg,#fe7200 160deg,#ff8000 162deg,#ffdf00 166deg,#daf400 168deg,#4bcc00 170deg,#06c92b 172deg,#00f7d5 176deg,#17e8f4 178deg,#3c8fff 184deg,#30b2fc 190deg,#29c1fa 192deg,#15eaf2 214deg,#08f2e3 228deg,#00edac 230deg,#00d659 232deg,#0ac61f 234deg,#5acf00 236deg,#d1f100 238deg,#ffe900 240deg,#ff7700 246deg,#ee4400 256deg,#e12a01 264deg,#e83300 270deg,#f45500 278deg,#ff8b00 286deg,#ffff00 294deg,#5ed000 302deg,#31c500 304deg,#11c008 306deg,#02cc37 310deg,#00e68f 314deg,#00edaa 316deg,#00f8da 324deg,#14ebf1 332deg,#25c9f9 336deg,#3c8fff 342deg,#4056fd 348deg,#4053fb 350deg,#3d88ff 354deg,#27c6f9 356deg,#06f4e1 358deg,#00dd70 360deg)"></i>
<i style="left:167.5px;top:413.5px;width:69px;height:69px;background:conic-gradient(from -21.48deg,#00de73 0deg,#0dc416 2deg,#56ce00 4deg,#b9ea00 6deg,#fffc00 8deg,#ffea00 44deg,#ffd700 66deg,#fff900 80deg,#f6fc00 82deg,#38c700 90deg,#12c006 94deg,#04ca31 100deg,#00d148 102deg,#00f5cb 110deg,#0bf1e6 114deg,#1cdef6 118deg,#2bbcfa 122deg,#3b99ff 128deg,#15eaf2 134deg,#03f6dd 136deg,#07c827 140deg,#35c600 142deg,#a0e200 144deg,#f9fd00 146deg,#ffb100 150deg,#ff8400 152deg,#fd6e00 154deg,#ff7900 162deg,#ffd800 166deg,#f0fa00 168deg,#66d300 170deg,#08c723 172deg,#00db6b 174deg,#00f3c6 176deg,#16e9f3 178deg,#3c91ff 184deg,#389ffe 188deg,#2bbdfa 192deg,#15eaf2 214deg,#09f2e4 228deg,#00efb2 230deg,#00d860 232deg,#08c723 234deg,#4dcc00 236deg,#c6ee00 238deg,#ffed00 240deg,#ff7900 246deg,#ef4500 256deg,#de2802 266deg,#ef4800 276deg,#ff8900 286deg,#fffe00 294deg,#8bdc00 300deg,#2fc500 304deg,#11c00a 306deg,#01cc38 310deg,#00e793 314deg,#00edab 316deg,#01f8db 324deg,#14eaf1 332deg,#26c9f9 336deg,#3d8eff 342deg,#4056fd 348deg,#4052fa 350deg,#3f66ff 352deg,#3d86ff 354deg,#29c2fa 356deg,#08f3e3 358deg,#00de73 360deg)"></i>
<i style="left:168.5px;top:414.5px;width:67px;height:67px;background:conic-gradient(from -21.83deg,#00df77 0deg,#0cc418 2deg,#53ce00 4deg,#b6e900 6deg,#fffc00 8deg,#ffe900 46deg,#ffd700 66deg,#fff900 80deg,#f9fd00 82deg,#6dd400 88deg,#3bc800 90deg,#21c100 92deg,#12bf06 94deg,#03ca32 100deg,#00db6c 104deg,#00f5cd 110deg,#13ebf0 116deg,#2cbbfa 122deg,#3b98ff 128deg,#16e9f3 134deg,#06f4e0 136deg,#00e386 138deg,#06c92b 140deg,#2cc400 142deg,#98e000 144deg,#f1fb00 146deg,#ffde00 148deg,#ff8a00 152deg,#fd6f00 154deg,#ff7400 162deg,#fffc00 168deg,#81d900 170deg,#0bc51b 172deg,#00d65b 174deg,#00f0b8 176deg,#14eaf1 178deg,#30b2fc 182deg,#3c93ff 184deg,#3c90ff 186deg,#29c1fa 194deg,#14ebf1 216deg,#09f2e4 228deg,#00f0b8 230deg,#00da67 232deg,#07c826 234deg,#41c900 236deg,#bbea00 238deg,#fff100 240deg,#ff7d00 246deg,#ef4700 256deg,#dd2702 266deg,#f35200 278deg,#ff8700 286deg,#fffe00 294deg,#8adc00 300deg,#2dc400 304deg,#10c10b 306deg,#01cd3a 310deg,#00e897 314deg,#00f0b8 318deg,#06f4e1 326deg,#14eaf1 332deg,#26c8f9 336deg,#3d8eff 342deg,#4056fd 348deg,#4051fa 350deg,#3f64ff 352deg,#3d83ff 354deg,#2bbdfa 356deg,#0af2e5 358deg,#00df77 360deg)"></i>
<i style="left:169.5px;top:415.5px;width:65px;height:65px;background:conic-gradient(from -22.18deg,#00e07b 0deg,#0cc419 2deg,#50cd00 4deg,#b3e800 6deg,#fffc00 8deg,#ffec00 44deg,#ffd700 66deg,#fdfe00 82deg,#72d600 88deg,#3ec800 90deg,#12bf06 94deg,#03cb33 100deg,#00dc6e 104deg,#00f5ce 110deg,#14ebf0 116deg,#2cb9fb 122deg,#3c97ff 128deg,#34a9fd 130deg,#17e8f4 134deg,#09f2e4 136deg,#00e68e 138deg,#04ca2f 140deg,#24c200 142deg,#91dd00 144deg,#e9f800 146deg,#ffe200 148deg,#ff9000 152deg,#fe6f00 154deg,#ff7400 162deg,#fff500 168deg,#99e000 170deg,#0fc10e 172deg,#00d24b 174deg,#00eda9 176deg,#0feeeb 178deg,#2eb6fb 182deg,#3c96ff 184deg,#3d8dff 186deg,#2abffa 194deg,#16e9f3 214deg,#09f2e4 228deg,#00f1be 230deg,#00dc6d 232deg,#06c82a 234deg,#35c600 236deg,#b1e700 238deg,#fff500 240deg,#ff8200 246deg,#f65a00 252deg,#de2802 266deg,#ef4500 276deg,#ff8600 286deg,#fffd00 294deg,#8adb00 300deg,#2bc400 304deg,#10c10c 306deg,#00cd3d 310deg,#00e99b 314deg,#00f6d1 322deg,#15eaf1 332deg,#26c8f9 336deg,#3d8eff 342deg,#4057fd 348deg,#404ff9 350deg,#4061ff 352deg,#3d81ff 354deg,#2db8fb 356deg,#0bf0e7 358deg,#00e07b 360deg)"></i>
<i style="left:170.5px;top:416.5px;width:63px;height:63px;background:conic-gradient(from -22.53deg,#00e17f 0deg,#0bc51a 2deg,#4dcc00 4deg,#b1e700 6deg,#fffc00 8deg,#ffeb00 46deg,#ffdb00 68deg,#fffe00 82deg,#77d700 88deg,#41c900 90deg,#12bf06 94deg,#03cb34 100deg,#00dd70 104deg,#00f6cf 110deg,#14ebf1 116deg,#28c3f9 120deg,#3c96ff 128deg,#36a4fd 130deg,#19e6f5 134deg,#0cf0e7 136deg,#00e896 138deg,#03cb33 140deg,#1cc000 142deg,#89db00 144deg,#e1f600 146deg,#ffe600 148deg,#fe7000 154deg,#ff7500 162deg,#ff9500 164deg,#ffee00 168deg,#aee600 170deg,#14be00 172deg,#00cd3c 174deg,#00e99b 176deg,#09f2e4 178deg,#1ddcf6 180deg,#3a9aff 184deg,#3d8aff 186deg,#2bbdfa 194deg,#15eaf1 216deg,#09f2e4 228deg,#00f3c4 230deg,#05c92d 234deg,#2ac300 236deg,#a7e400 238deg,#fff800 240deg,#ff8800 246deg,#ff7200 248deg,#ed4200 258deg,#df2802 266deg,#ee4400 276deg,#ff8400 286deg,#fffd00 294deg,#89db00 300deg,#29c300 304deg,#0fc10e 306deg,#00ce40 310deg,#00ea9f 314deg,#02f7dc 324deg,#15eaf1 332deg,#26c7f9 336deg,#3d8dff 342deg,#3d81ff 344deg,#4057fd 348deg,#404ef8 350deg,#405eff 352deg,#3e7eff 354deg,#2fb4fb 356deg,#0defe9 358deg,#00e17f 360deg)"></i>
<i style="left:171.5px;top:417.5px;width:61px;height:61px;background:conic-gradient(from -22.88deg,#00e283 0deg,#0bc51b 2deg,#4acb00 4deg,#aee600 6deg,#fffc00 8deg,#ffeb00 46deg,#ffdb00 68deg,#fffc00 82deg,#7cd800 88deg,#44ca00 90deg,#12bf05 94deg,#02cb35 100deg,#00f6d1 110deg,#15eaf1 116deg,#29c2fa 120deg,#3c95ff 128deg,#389ffe 130deg,#1ae2f6 134deg,#0feeeb 136deg,#00ea9d 138deg,#02cc37 140deg,#14be00 142deg,#80d900 144deg,#d9f300 146deg,#ffea00 148deg,#fe7000 154deg,#ff7600 162deg,#ff8e00 164deg,#ffe700 168deg,#c3ed00 170deg,#2fc500 172deg,#03cb34 174deg,#03f6de 178deg,#1be1f6 180deg,#399efe 184deg,#3d87ff 186deg,#33abfc 192deg,#2cbbfb 194deg,#15eaf2 216deg,#0af2e5 228deg,#00f4c9 230deg,#04ca31 234deg,#1ec100 236deg,#9ce100 238deg,#fffc00 240deg,#ff8d00 246deg,#ff7300 248deg,#eb3c00 260deg,#e02902 268deg,#f14d00 278deg,#ff8300 286deg,#ff9b00 288deg,#fffc00 294deg,#89db00 300deg,#27c300 304deg,#0fc20f 306deg,#00cf44 310deg,#00eba3 314deg,#02f7dc 324deg,#15eaf1 332deg,#30b1fc 338deg,#3d81ff 344deg,#4057fd 348deg,#404df8 350deg,#405cff 352deg,#3e7bff 354deg,#31aefc 356deg,#0feeeb 358deg,#00e283 360deg)"></i>
<i style="left:172.5px;top:418.5px;width:59px;height:59px;background:conic-gradient(from -23.23deg,#00e283 0deg,#0bc51b 2deg,#4acb00 4deg,#aee600 6deg,#fffc00 8deg,#ffeb00 46deg,#ffdb00 68deg,#fffc00 82deg,#7cd800 88deg,#44ca00 90deg,#12bf05 94deg,#02cb35 100deg,#00f6d1 110deg,#15eaf1 116deg,#29c2fa 120deg,#3c95ff 128deg,#389ffe 130deg,#1ae2f6 134deg,#0feeeb 136deg,#00ea9d 138deg,#02cc37 140deg,#14be00 142deg,#80d900 144deg,#d9f300 146deg,#ffea00 148deg,#fe7000 154deg,#ff7600 162deg,#ff8e00 164deg,#ffe700 168deg,#c3ed00 170deg,#2fc500 172deg,#03cb34 174deg,#03f6de 178deg,#1be1f6 180deg,#399efe 184deg,#3d87ff 186deg,#33abfc 192deg,#2cbbfb 194deg,#15eaf2 216deg,#0af2e5 228deg,#00f4c9 230deg,#04ca31 234deg,#1ec100 236deg,#9ce100 238deg,#fffc00 240deg,#ff8d00 246deg,#ff7300 248deg,#eb3c00 260deg,#e02902 268deg,#f14d00 278deg,#ff8300 286deg,#ff9b00 288deg,#fffc00 294deg,#89db00 300deg,#27c300 304deg,#0fc20f 306deg,#00cf44 310deg,#00eba3 314deg,#02f7dc 324deg,#15eaf1 332deg,#30b1fc 338deg,#3d81ff 344deg,#4057fd 348deg,#404df8 350deg,#405cff 352deg,#3e7bff 354deg,#31aefc 356deg,#0feeeb 358deg,#00e283 360deg)"></i>
<i style="left:173.5px;top:419.5px;width:57px;height:57px;background:conic-gradient(from -23.58deg,#00e283 0deg,#0bc51b 2deg,#4acb00 4deg,#aee600 6deg,#fffc00 8deg,#ffeb00 46deg,#ffdb00 68deg,#fffc00 82deg,#7cd800 88deg,#44ca00 90deg,#12bf05 94deg,#02cb35 100deg,#00f6d1 110deg,#15eaf1 116deg,#29c2fa 120deg,#3c95ff 128deg,#389ffe 130deg,#1ae2f6 134deg,#0feeeb 136deg,#00ea9d 138deg,#02cc37 140deg,#14be00 142deg,#80d900 144deg,#d9f300 146deg,#ffea00 148deg,#fe7000 154deg,#ff7600 162deg,#ff8e00 164deg,#ffe700 168deg,#c3ed00 170deg,#2fc500 172deg,#03cb34 174deg,#03f6de 178deg,#1be1f6 180deg,#399efe 184deg,#3d87ff 186deg,#33abfc 192deg,#2cbbfb 194deg,#15eaf2 216deg,#0af2e5 228deg,#00f4c9 230deg,#04ca31 234deg,#1ec100 236deg,#9ce100 238deg,#fffc00 240deg,#ff8d00 246deg,#ff7300 248deg,#eb3c00 260deg,#e02902 268deg,#f14d00 278deg,#ff8300 286deg,#ff9b00 288deg,#fffc00 294deg,#89db00 300deg,#27c300 304deg,#0fc20f 306deg,#00cf44 310deg,#00eba3 314deg,#02f7dc 324deg,#15eaf1 332deg,#30b1fc 338deg,#3d81ff 344deg,#4057fd 348deg,#404df8 350deg,#405cff 352deg,#3e7bff 354deg,#31aefc 356deg,#0feeeb 358deg,#00e283 360deg)"></i>
<i style="left:174.5px;top:420.5px;width:55px;height:55px;background:conic-gradient(from -23.93deg,#00e283 0deg,#0bc51b 2deg,#4acb00 4deg,#aee600 6deg,#fffc00 8deg,#ffeb00 46deg,#ffdb00 68deg,#fffc00 82deg,#7cd800 88deg,#44ca00 90deg,#12bf05 94deg,#02cb35 100deg,#00f6d1 110deg,#15eaf1 116deg,#29c2fa 120deg,#3c95ff 128deg,#389ffe 130deg,#1ae2f6 134deg,#0feeeb 136deg,#00ea9d 138deg,#02cc37 140deg,#14be00 142deg,#80d900 144deg,#d9f300 146deg,#ffea00 148deg,#fe7000 154deg,#ff7600 162deg,#ff8e00 164deg,#ffe700 168deg,#c3ed00 170deg,#2fc500 172deg,#03cb34 174deg,#03f6de 178deg,#1be1f6 180deg,#399efe 184deg,#3d87ff 186deg,#33abfc 192deg,#2cbbfb 194deg,#15eaf2 216deg,#0af2e5 228deg,#00f4c9 230deg,#04ca31 234deg,#1ec100 236deg,#9ce100 238deg,#fffc00 240deg,#ff8d00 246deg,#ff7300 248deg,#eb3c00 260deg,#e02902 268deg,#f14d00 278deg,#ff8300 286deg,#ff9b00 288deg,#fffc00 294deg,#89db00 300deg,#27c300 304deg,#0fc20f 306deg,#00cf44 310deg,#00eba3 314deg,#02f7dc 324deg,#15eaf1 332deg,#30b1fc 338deg,#3d81ff 344deg,#4057fd 348deg,#404df8 350deg,#405cff 352deg,#3e7bff 354deg,#31aefc 356deg,#0feeeb 358deg,#00e283 360deg)"></i>
<i style="left:175.5px;top:421.5px;width:53px;height:53px;background:conic-gradient(from -24.28deg,#00e283 0deg,#0bc51b 2deg,#4acb00 4deg,#aee600 6deg,#fffc00 8deg,#ffeb00 46deg,#ffdb00 68deg,#fffc00 82deg,#7cd800 88deg,#44ca00 90deg,#12bf05 94deg,#02cb35 100deg,#00f6d1 110deg,#15eaf1 116deg,#29c2fa 120deg,#3c95ff 128deg,#389ffe 130deg,#1ae2f6 134deg,#0feeeb 136deg,#00ea9d 138deg,#02cc37 140deg,#14be00 142deg,#80d900 144deg,#d9f300 146deg,#ffea00 148deg,#fe7000 154deg,#ff7600 162deg,#ff8e00 164deg,#ffe700 168deg,#c3ed00 170deg,#2fc500 172deg,#03cb34 174deg,#03f6de 178deg,#1be1f6 180deg,#399efe 184deg,#3d87ff 186deg,#33abfc 192deg,#2cbbfb 194deg,#15eaf2 216deg,#0af2e5 228deg,#00f4c9 230deg,#04ca31 234deg,#1ec100 236deg,#9ce100 238deg,#fffc00 240deg,#ff8d00 246deg,#ff7300 248deg,#eb3c00 260deg,#e02902 268deg,#f14d00 278deg,#ff8300 286deg,#ff9b00 288deg,#fffc00 294deg,#89db00 300deg,#27c300 304deg,#0fc20f 306deg,#00cf44 310deg,#00eba3 314deg,#02f7dc 324deg,#15eaf1 332deg,#30b1fc 338deg,#3d81ff 344deg,#4057fd 348deg,#404df8 350deg,#405cff 352deg,#3e7bff 354deg,#31aefc 356deg,#0feeeb 358deg,#00e283 360deg)"></i>
<i style="left:176.5px;top:422.5px;width:51px;height:51px;background:conic-gradient(from -24.63deg,#00e283 0deg,#0bc51b 2deg,#4acb00 4deg,#aee600 6deg,#fffc00 8deg,#ffeb00 46deg,#ffdb00 68deg,#fffc00 82deg,#7cd800 88deg,#44ca00 90deg,#12bf05 94deg,#02cb35 100deg,#00f6d1 110deg,#15eaf1 116deg,#29c2fa 120deg,#3c95ff 128deg,#389ffe 130deg,#1ae2f6 134deg,#0feeeb 136deg,#00ea9d 138deg,#02cc37 140deg,#14be00 142deg,#80d900 144deg,#d9f300 146deg,#ffea00 148deg,#fe7000 154deg,#ff7600 162deg,#ff8e00 164deg,#ffe700 168deg,#c3ed00 170deg,#2fc500 172deg,#03cb34 174deg,#03f6de 178deg,#1be1f6 180deg,#399efe 184deg,#3d87ff 186deg,#33abfc 192deg,#2cbbfb 194deg,#15eaf2 216deg,#0af2e5 228deg,#00f4c9 230deg,#04ca31 234deg,#1ec100 236deg,#9ce100 238deg,#fffc00 240deg,#ff8d00 246deg,#ff7300 248deg,#eb3c00 260deg,#e02902 268deg,#f14d00 278deg,#ff8300 286deg,#ff9b00 288deg,#fffc00 294deg,#89db00 300deg,#27c300 304deg,#0fc20f 306deg,#00cf44 310deg,#00eba3 314deg,#02f7dc 324deg,#15eaf1 332deg,#30b1fc 338deg,#3d81ff 344deg,#4057fd 348deg,#404df8 350deg,#405cff 352deg,#3e7bff 354deg,#31aefc 356deg,#0feeeb 358deg,#00e283 360deg)"></i>
<i style="left:177.5px;top:423.5px;width:49px;height:49px;background:conic-gradient(from -24.98deg,#00e283 0deg,#0bc51b 2deg,#4acb00 4deg,#aee600 6deg,#fffc00 8deg,#ffeb00 46deg,#ffdb00 68deg,#fffc00 82deg,#7cd800 88deg,#44ca00 90deg,#12bf05 94deg,#02cb35 100deg,#00f6d1 110deg,#15eaf1 116deg,#29c2fa 120deg,#3c95ff 128deg,#389ffe 130deg,#1ae2f6 134deg,#0feeeb 136deg,#00ea9d 138deg,#02cc37 140deg,#14be00 142deg,#80d900 144deg,#d9f300 146deg,#ffea00 148deg,#fe7000 154deg,#ff7600 162deg,#ff8e00 164deg,#ffe700 168deg,#c3ed00 170deg,#2fc500 172deg,#03cb34 174deg,#03f6de 178deg,#1be1f6 180deg,#399efe 184deg,#3d87ff 186deg,#33abfc 192deg,#2cbbfb 194deg,#15eaf2 216deg,#0af2e5 228deg,#00f4c9 230deg,#04ca31 234deg,#1ec100 236deg,#9ce100 238deg,#fffc00 240deg,#ff8d00 246deg,#ff7300 248deg,#eb3c00 260deg,#e02902 268deg,#f14d00 278deg,#ff8300 286deg,#ff9b00 288deg,#fffc00 294deg,#89db00 300deg,#27c300 304deg,#0fc20f 306deg,#00cf44 310deg,#00eba3 314deg,#02f7dc 324deg,#15eaf1 332deg,#30b1fc 338deg,#3d81ff 344deg,#4057fd 348deg,#404df8 350deg,#405cff 352deg,#3e7bff 354deg,#31aefc 356deg,#0feeeb 358deg,#00e283 360deg)"></i>
<i style="left:178.5px;top:424.5px;width:47px;height:47px;background:conic-gradient(from -25.33deg,#00e283 0deg,#0bc51b 2deg,#4acb00 4deg,#aee600 6deg,#fffc00 8deg,#ffeb00 46deg,#ffdb00 68deg,#fffc00 82deg,#7cd800 88deg,#44ca00 90deg,#12bf05 94deg,#02cb35 100deg,#00f6d1 110deg,#15eaf1 116deg,#29c2fa 120deg,#3c95ff 128deg,#389ffe 130deg,#1ae2f6 134deg,#0feeeb 136deg,#00ea9d 138deg,#02cc37 140deg,#14be00 142deg,#80d900 144deg,#d9f300 146deg,#ffea00 148deg,#fe7000 154deg,#ff7600 162deg,#ff8e00 164deg,#ffe700 168deg,#c3ed00 170deg,#2fc500 172deg,#03cb34 174deg,#03f6de 178deg,#1be1f6 180deg,#399efe 184deg,#3d87ff 186deg,#33abfc 192deg,#2cbbfb 194deg,#15eaf2 216deg,#0af2e5 228deg,#00f4c9 230deg,#04ca31 234deg,#1ec100 236deg,#9ce100 238deg,#fffc00 240deg,#ff8d00 246deg,#ff7300 248deg,#eb3c00 260deg,#e02902 268deg,#f14d00 278deg,#ff8300 286deg,#ff9b00 288deg,#fffc00 294deg,#89db00 300deg,#27c300 304deg,#0fc20f 306deg,#00cf44 310deg,#00eba3 314deg,#02f7dc 324deg,#15eaf1 332deg,#30b1fc 338deg,#3d81ff 344deg,#4057fd 348deg,#404df8 350deg,#405cff 352deg,#3e7bff 354deg,#31aefc 356deg,#0feeeb 358deg,#00e283 360deg)"></i>
<i style="left:179.5px;top:425.5px;width:45px;height:45px;background:conic-gradient(from -25.68deg,#00e283 0deg,#0bc51b 2deg,#4acb00 4deg,#aee600 6deg,#fffc00 8deg,#ffeb00 46deg,#ffdb00 68deg,#fffc00 82deg,#7cd800 88deg,#44ca00 90deg,#12bf05 94deg,#02cb35 100deg,#00f6d1 110deg,#15eaf1 116deg,#29c2fa 120deg,#3c95ff 128deg,#389ffe 130deg,#1ae2f6 134deg,#0feeeb 136deg,#00ea9d 138deg,#02cc37 140deg,#14be00 142deg,#80d900 144deg,#d9f300 146deg,#ffea00 148deg,#fe7000 154deg,#ff7600 162deg,#ff8e00 164deg,#ffe700 168deg,#c3ed00 170deg,#2fc500 172deg,#03cb34 174deg,#03f6de 178deg,#1be1f6 180deg,#399efe 184deg,#3d87ff 186deg,#33abfc 192deg,#2cbbfb 194deg,#15eaf2 216deg,#0af2e5 228deg,#00f4c9 230deg,#04ca31 234deg,#1ec100 236deg,#9ce100 238deg,#fffc00 240deg,#ff8d00 246deg,#ff7300 248deg,#eb3c00 260deg,#e02902 268deg,#f14d00 278deg,#ff8300 286deg,#ff9b00 288deg,#fffc00 294deg,#89db00 300deg,#27c300 304deg,#0fc20f 306deg,#00cf44 310deg,#00eba3 314deg,#02f7dc 324deg,#15eaf1 332deg,#30b1fc 338deg,#3d81ff 344deg,#4057fd 348deg,#404df8 350deg,#405cff 352deg,#3e7bff 354deg,#31aefc 356deg,#0feeeb 358deg,#00e283 360deg)"></i>
<i style="left:180.5px;top:426.5px;width:43px;height:43px;background:conic-gradient(from -26.03deg,#00e283 0deg,#0bc51b 2deg,#4acb00 4deg,#aee600 6deg,#fffc00 8deg,#ffeb00 46deg,#ffdb00 68deg,#fffc00 82deg,#7cd800 88deg,#44ca00 90deg,#12bf05 94deg,#02cb35 100deg,#00f6d1 110deg,#15eaf1 116deg,#29c2fa 120deg,#3c95ff 128deg,#389ffe 130deg,#1ae2f6 134deg,#0feeeb 136deg,#00ea9d 138deg,#02cc37 140deg,#14be00 142deg,#80d900 144deg,#d9f300 146deg,#ffea00 148deg,#fe7000 154deg,#ff7600 162deg,#ff8e00 164deg,#ffe700 168deg,#c3ed00 170deg,#2fc500 172deg,#03cb34 174deg,#03f6de 178deg,#1be1f6 180deg,#399efe 184deg,#3d87ff 186deg,#33abfc 192deg,#2cbbfb 194deg,#15eaf2 216deg,#0af2e5 228deg,#00f4c9 230deg,#04ca31 234deg,#1ec100 236deg,#9ce100 238deg,#fffc00 240deg,#ff8d00 246deg,#ff7300 248deg,#eb3c00 260deg,#e02902 268deg,#f14d00 278deg,#ff8300 286deg,#ff9b00 288deg,#fffc00 294deg,#89db00 300deg,#27c300 304deg,#0fc20f 306deg,#00cf44 310deg,#00eba3 314deg,#02f7dc 324deg,#15eaf1 332deg,#30b1fc 338deg,#3d81ff 344deg,#4057fd 348deg,#404df8 350deg,#405cff 352deg,#3e7bff 354deg,#31aefc 356deg,#0feeeb 358deg,#00e283 360deg)"></i>
<i style="left:181.5px;top:427.5px;width:41px;height:41px;background:conic-gradient(from -26.38deg,#00e283 0deg,#0bc51b 2deg,#4acb00 4deg,#aee600 6deg,#fffc00 8deg,#ffeb00 46deg,#ffdb00 68deg,#fffc00 82deg,#7cd800 88deg,#44ca00 90deg,#12bf05 94deg,#02cb35 100deg,#00f6d1 110deg,#15eaf1 116deg,#29c2fa 120deg,#3c95ff 128deg,#389ffe 130deg,#1ae2f6 134deg,#0feeeb 136deg,#00ea9d 138deg,#02cc37 140deg,#14be00 142deg,#80d900 144deg,#d9f300 146deg,#ffea00 148deg,#fe7000 154deg,#ff7600 162deg,#ff8e00 164deg,#ffe700 168deg,#c3ed00 170deg,#2fc500 172deg,#03cb34 174deg,#03f6de 178deg,#1be1f6 180deg,#399efe 184deg,#3d87ff 186deg,#33abfc 192deg,#2cbbfb 194deg,#15eaf2 216deg,#0af2e5 228deg,#00f4c9 230deg,#04ca31 234deg,#1ec100 236deg,#9ce100 238deg,#fffc00 240deg,#ff8d00 246deg,#ff7300 248deg,#eb3c00 260deg,#e02902 268deg,#f14d00 278deg,#ff8300 286deg,#ff9b00 288deg,#fffc00 294deg,#89db00 300deg,#27c300 304deg,#0fc20f 306deg,#00cf44 310deg,#00eba3 314deg,#02f7dc 324deg,#15eaf1 332deg,#30b1fc 338deg,#3d81ff 344deg,#4057fd 348deg,#404df8 350deg,#405cff 352deg,#3e7bff 354deg,#31aefc 356deg,#0feeeb 358deg,#00e283 360deg)"></i>
<i style="left:182.5px;top:428.5px;width:39px;height:39px;background:conic-gradient(from -26.73deg,#00e283 0deg,#0bc51b 2deg,#4acb00 4deg,#aee600 6deg,#fffc00 8deg,#ffeb00 46deg,#ffdb00 68deg,#fffc00 82deg,#7cd800 88deg,#44ca00 90deg,#12bf05 94deg,#02cb35 100deg,#00f6d1 110deg,#15eaf1 116deg,#29c2fa 120deg,#3c95ff 128deg,#389ffe 130deg,#1ae2f6 134deg,#0feeeb 136deg,#00ea9d 138deg,#02cc37 140deg,#14be00 142deg,#80d900 144deg,#d9f300 146deg,#ffea00 148deg,#fe7000 154deg,#ff7600 162deg,#ff8e00 164deg,#ffe700 168deg,#c3ed00 170deg,#2fc500 172deg,#03cb34 174deg,#03f6de 178deg,#1be1f6 180deg,#399efe 184deg,#3d87ff 186deg,#33abfc 192deg,#2cbbfb 194deg,#15eaf2 216deg,#0af2e5 228deg,#00f4c9 230deg,#04ca31 234deg,#1ec100 236deg,#9ce100 238deg,#fffc00 240deg,#ff8d00 246deg,#ff7300 248deg,#eb3c00 260deg,#e02902 268deg,#f14d00 278deg,#ff8300 286deg,#ff9b00 288deg,#fffc00 294deg,#89db00 300deg,#27c300 304deg,#0fc20f 306deg,#00cf44 310deg,#00eba3 314deg,#02f7dc 324deg,#15eaf1 332deg,#30b1fc 338deg,#3d81ff 344deg,#4057fd 348deg,#404df8 350deg,#405cff 352deg,#3e7bff 354deg,#31aefc 356deg,#0feeeb 358deg,#00e283 360deg)"></i>
<i style="left:183.5px;top:429.5px;width:37px;height:37px;background:conic-gradient(from -27.08deg,#00e283 0deg,#0bc51b 2deg,#4acb00 4deg,#aee600 6deg,#fffc00 8deg,#ffeb00 46deg,#ffdb00 68deg,#fffc00 82deg,#7cd800 88deg,#44ca00 90deg,#12bf05 94deg,#02cb35 100deg,#00f6d1 110deg,#15eaf1 116deg,#29c2fa 120deg,#3c95ff 128deg,#389ffe 130deg,#1ae2f6 134deg,#0feeeb 136deg,#00ea9d 138deg,#02cc37 140deg,#14be00 142deg,#80d900 144deg,#d9f300 146deg,#ffea00 148deg,#fe7000 154deg,#ff7600 162deg,#ff8e00 164deg,#ffe700 168deg,#c3ed00 170deg,#2fc500 172deg,#03cb34 174deg,#03f6de 178deg,#1be1f6 180deg,#399efe 184deg,#3d87ff 186deg,#33abfc 192deg,#2cbbfb 194deg,#15eaf2 216deg,#0af2e5 228deg,#00f4c9 230deg,#04ca31 234deg,#1ec100 236deg,#9ce100 238deg,#fffc00 240deg,#ff8d00 246deg,#ff7300 248deg,#eb3c00 260deg,#e02902 268deg,#f14d00 278deg,#ff8300 286deg,#ff9b00 288deg,#fffc00 294deg,#89db00 300deg,#27c300 304deg,#0fc20f 306deg,#00cf44 310deg,#00eba3 314deg,#02f7dc 324deg,#15eaf1 332deg,#30b1fc 338deg,#3d81ff 344deg,#4057fd 348deg,#404df8 350deg,#405cff 352deg,#3e7bff 354deg,#31aefc 356deg,#0feeeb 358deg,#00e283 360deg)"></i>
<i style="left:184.5px;top:430.5px;width:35px;height:35px;background:conic-gradient(from -27.43deg,#00e283 0deg,#0bc51b 2deg,#4acb00 4deg,#aee600 6deg,#fffc00 8deg,#ffeb00 46deg,#ffdb00 68deg,#fffc00 82deg,#7cd800 88deg,#44ca00 90deg,#12bf05 94deg,#02cb35 100deg,#00f6d1 110deg,#15eaf1 116deg,#29c2fa 120deg,#3c95ff 128deg,#389ffe 130deg,#1ae2f6 134deg,#0feeeb 136deg,#00ea9d 138deg,#02cc37 140deg,#14be00 142deg,#80d900 144deg,#d9f300 146deg,#ffea00 148deg,#fe7000 154deg,#ff7600 162deg,#ff8e00 164deg,#ffe700 168deg,#c3ed00 170deg,#2fc500 172deg,#03cb34 174deg,#03f6de 178deg,#1be1f6 180deg,#399efe 184deg,#3d87ff 186deg,#33abfc 192deg,#2cbbfb 194deg,#15eaf2 216deg,#0af2e5 228deg,#00f4c9 230deg,#04ca31 234deg,#1ec100 236deg,#9ce100 238deg,#fffc00 240deg,#ff8d00 246deg,#ff7300 248deg,#eb3c00 260deg,#e02902 268deg,#f14d00 278deg,#ff8300 286deg,#ff9b00 288deg,#fffc00 294deg,#89db00 300deg,#27c300 304deg,#0fc20f 306deg,#00cf44 310deg,#00eba3 314deg,#02f7dc 324deg,#15eaf1 332deg,#30b1fc 338deg,#3d81ff 344deg,#4057fd 348deg,#404df8 350deg,#405cff 352deg,#3e7bff 354deg,#31aefc 356deg,#0feeeb 358deg,#00e283 360deg)"></i>
<i style="left:185.5px;top:431.5px;width:33px;height:33px;background:conic-gradient(from -27.78deg,#00e283 0deg,#0bc51b 2deg,#4acb00 4deg,#aee600 6deg,#fffc00 8deg,#ffeb00 46deg,#ffdb00 68deg,#fffc00 82deg,#7cd800 88deg,#44ca00 90deg,#12bf05 94deg,#02cb35 100deg,#00f6d1 110deg,#15eaf1 116deg,#29c2fa 120deg,#3c95ff 128deg,#389ffe 130deg,#1ae2f6 134deg,#0feeeb 136deg,#00ea9d 138deg,#02cc37 140deg,#14be00 142deg,#80d900 144deg,#d9f300 146deg,#ffea00 148deg,#fe7000 154deg,#ff7600 162deg,#ff8e00 164deg,#ffe700 168deg,#c3ed00 170deg,#2fc500 172deg,#03cb34 174deg,#03f6de 178deg,#1be1f6 180deg,#399efe 184deg,#3d87ff 186deg,#33abfc 192deg,#2cbbfb 194deg,#15eaf2 216deg,#0af2e5 228deg,#00f4c9 230deg,#04ca31 234deg,#1ec100 236deg,#9ce100 238deg,#fffc00 240deg,#ff8d00 246deg,#ff7300 248deg,#eb3c00 260deg,#e02902 268deg,#f14d00 278deg,#ff8300 286deg,#ff9b00 288deg,#fffc00 294deg,#89db00 300deg,#27c300 304deg,#0fc20f 306deg,#00cf44 310deg,#00eba3 314deg,#02f7dc 324deg,#15eaf1 332deg,#30b1fc 338deg,#3d81ff 344deg,#4057fd 348deg,#404df8 350deg,#405cff 352deg,#3e7bff 354deg,#31aefc 356deg,#0feeeb 358deg,#00e283 360deg)"></i>
<i style="left:186.5px;top:432.5px;width:31px;height:31px;background:conic-gradient(from -28.13deg,#00e283 0deg,#0bc51b 2deg,#4acb00 4deg,#aee600 6deg,#fffc00 8deg,#ffeb00 46deg,#ffdb00 68deg,#fffc00 82deg,#7cd800 88deg,#44ca00 90deg,#12bf05 94deg,#02cb35 100deg,#00f6d1 110deg,#15eaf1 116deg,#29c2fa 120deg,#3c95ff 128deg,#389ffe 130deg,#1ae2f6 134deg,#0feeeb 136deg,#00ea9d 138deg,#02cc37 140deg,#14be00 142deg,#80d900 144deg,#d9f300 146deg,#ffea00 148deg,#fe7000 154deg,#ff7600 162deg,#ff8e00 164deg,#ffe700 168deg,#c3ed00 170deg,#2fc500 172deg,#03cb34 174deg,#03f6de 178deg,#1be1f6 180deg,#399efe 184deg,#3d87ff 186deg,#33abfc 192deg,#2cbbfb 194deg,#15eaf2 216deg,#0af2e5 228deg,#00f4c9 230deg,#04ca31 234deg,#1ec100 236deg,#9ce100 238deg,#fffc00 240deg,#ff8d00 246deg,#ff7300 248deg,#eb3c00 260deg,#e02902 268deg,#f14d00 278deg,#ff8300 286deg,#ff9b00 288deg,#fffc00 294deg,#89db00 300deg,#27c300 304deg,#0fc20f 306deg,#00cf44 310deg,#00eba3 314deg,#02f7dc 324deg,#15eaf1 332deg,#30b1fc 338deg,#3d81ff 344deg,#4057fd 348deg,#404df8 350deg,#405cff 352deg,#3e7bff 354deg,#31aefc 356deg,#0feeeb 358deg,#00e283 360deg)"></i>
<i style="left:187.5px;top:433.5px;width:29px;height:29px;background:conic-gradient(from -28.48deg,#00e283 0deg,#0bc51b 2deg,#4acb00 4deg,#aee600 6deg,#fffc00 8deg,#ffeb00 46deg,#ffdb00 68deg,#fffc00 82deg,#7cd800 88deg,#44ca00 90deg,#12bf05 94deg,#02cb35 100deg,#00f6d1 110deg,#15eaf1 116deg,#29c2fa 120deg,#3c95ff 128deg,#389ffe 130deg,#1ae2f6 134deg,#0feeeb 136deg,#00ea9d 138deg,#02cc37 140deg,#14be00 142deg,#80d900 144deg,#d9f300 146deg,#ffea00 148deg,#fe7000 154deg,#ff7600 162deg,#ff8e00 164deg,#ffe700 168deg,#c3ed00 170deg,#2fc500 172deg,#03cb34 174deg,#03f6de 178deg,#1be1f6 180deg,#399efe 184deg,#3d87ff 186deg,#33abfc 192deg,#2cbbfb 194deg,#15eaf2 216deg,#0af2e5 228deg,#00f4c9 230deg,#04ca31 234deg,#1ec100 236deg,#9ce100 238deg,#fffc00 240deg,#ff8d00 246deg,#ff7300 248deg,#eb3c00 260deg,#e02902 268deg,#f14d00 278deg,#ff8300 286deg,#ff9b00 288deg,#fffc00 294deg,#89db00 300deg,#27c300 304deg,#0fc20f 306deg,#00cf44 310deg,#00eba3 314deg,#02f7dc 324deg,#15eaf1 332deg,#30b1fc 338deg,#3d81ff 344deg,#4057fd 348deg,#404df8 350deg,#405cff 352deg,#3e7bff 354deg,#31aefc 356deg,#0feeeb 358deg,#00e283 360deg)"></i>
<i style="left:188.5px;top:434.5px;width:27px;height:27px;background:conic-gradient(from -28.83deg,#00e283 0deg,#0bc51b 2deg,#4acb00 4deg,#aee600 6deg,#fffc00 8deg,#ffeb00 46deg,#ffdb00 68deg,#fffc00 82deg,#7cd800 88deg,#44ca00 90deg,#12bf05 94deg,#02cb35 100deg,#00f6d1 110deg,#15eaf1 116deg,#29c2fa 120deg,#3c95ff 128deg,#389ffe 130deg,#1ae2f6 134deg,#0feeeb 136deg,#00ea9d 138deg,#02cc37 140deg,#14be00 142deg,#80d900 144deg,#d9f300 146deg,#ffea00 148deg,#fe7000 154deg,#ff7600 162deg,#ff8e00 164deg,#ffe700 168deg,#c3ed00 170deg,#2fc500 172deg,#03cb34 174deg,#03f6de 178deg,#1be1f6 180deg,#399efe 184deg,#3d87ff 186deg,#33abfc 192deg,#2cbbfb 194deg,#15eaf2 216deg,#0af2e5 228deg,#00f4c9 230deg,#04ca31 234deg,#1ec100 236deg,#9ce100 238deg,#fffc00 240deg,#ff8d00 246deg,#ff7300 248deg,#eb3c00 260deg,#e02902 268deg,#f14d00 278deg,#ff8300 286deg,#ff9b00 288deg,#fffc00 294deg,#89db00 300deg,#27c300 304deg,#0fc20f 306deg,#00cf44 310deg,#00eba3 314deg,#02f7dc 324deg,#15eaf1 332deg,#30b1fc 338deg,#3d81ff 344deg,#4057fd 348deg,#404df8 350deg,#405cff 352deg,#3e7bff 354deg,#31aefc 356deg,#0feeeb 358deg,#00e283 360deg)"></i>
<i style="left:189.5px;top:435.5px;width:25px;height:25px;background:conic-gradient(from -29.18deg,#00e283 0deg,#0bc51b 2deg,#4acb00 4deg,#aee600 6deg,#fffc00 8deg,#ffeb00 46deg,#ffdb00 68deg,#fffc00 82deg,#7cd800 88deg,#44ca00 90deg,#12bf05 94deg,#02cb35 100deg,#00f6d1 110deg,#15eaf1 116deg,#29c2fa 120deg,#3c95ff 128deg,#389ffe 130deg,#1ae2f6 134deg,#0feeeb 136deg,#00ea9d 138deg,#02cc37 140deg,#14be00 142deg,#80d900 144deg,#d9f300 146deg,#ffea00 148deg,#fe7000 154deg,#ff7600 162deg,#ff8e00 164deg,#ffe700 168deg,#c3ed00 170deg,#2fc500 172deg,#03cb34 174deg,#03f6de 178deg,#1be1f6 180deg,#399efe 184deg,#3d87ff 186deg,#33abfc 192deg,#2cbbfb 194deg,#15eaf2 216deg,#0af2e5 228deg,#00f4c9 230deg,#04ca31 234deg,#1ec100 236deg,#9ce100 238deg,#fffc00 240deg,#ff8d00 246deg,#ff7300 248deg,#eb3c00 260deg,#e02902 268deg,#f14d00 278deg,#ff8300 286deg,#ff9b00 288deg,#fffc00 294deg,#89db00 300deg,#27c300 304deg,#0fc20f 306deg,#00cf44 310deg,#00eba3 314deg,#02f7dc 324deg,#15eaf1 332deg,#30b1fc 338deg,#3d81ff 344deg,#4057fd 348deg,#404df8 350deg,#405cff 352deg,#3e7bff 354deg,#31aefc 356deg,#0feeeb 358deg,#00e283 360deg)"></i>
<i style="left:190.5px;top:436.5px;width:23px;height:23px;background:conic-gradient(from -29.53deg,#00e283 0deg,#0bc51b 2deg,#4acb00 4deg,#aee600 6deg,#fffc00 8deg,#ffeb00 46deg,#ffdb00 68deg,#fffc00 82deg,#7cd800 88deg,#44ca00 90deg,#12bf05 94deg,#02cb35 100deg,#00f6d1 110deg,#15eaf1 116deg,#29c2fa 120deg,#3c95ff 128deg,#389ffe 130deg,#1ae2f6 134deg,#0feeeb 136deg,#00ea9d 138deg,#02cc37 140deg,#14be00 142deg,#80d900 144deg,#d9f300 146deg,#ffea00 148deg,#fe7000 154deg,#ff7600 162deg,#ff8e00 164deg,#ffe700 168deg,#c3ed00 170deg,#2fc500 172deg,#03cb34 174deg,#03f6de 178deg,#1be1f6 180deg,#399efe 184deg,#3d87ff 186deg,#33abfc 192deg,#2cbbfb 194deg,#15eaf2 216deg,#0af2e5 228deg,#00f4c9 230deg,#04ca31 234deg,#1ec100 236deg,#9ce100 238deg,#fffc00 240deg,#ff8d00 246deg,#ff7300 248deg,#eb3c00 260deg,#e02902 268deg,#f14d00 278deg,#ff8300 286deg,#ff9b00 288deg,#fffc00 294deg,#89db00 300deg,#27c300 304deg,#0fc20f 306deg,#00cf44 310deg,#00eba3 314deg,#02f7dc 324deg,#15eaf1 332deg,#30b1fc 338deg,#3d81ff 344deg,#4057fd 348deg,#404df8 350deg,#405cff 352deg,#3e7bff 354deg,#31aefc 356deg,#0feeeb 358deg,#00e283 360deg)"></i>
<i style="left:191.5px;top:437.5px;width:21px;height:21px;background:conic-gradient(from -29.88deg,#00e283 0deg,#0bc51b 2deg,#4acb00 4deg,#aee600 6deg,#fffc00 8deg,#ffeb00 46deg,#ffdb00 68deg,#fffc00 82deg,#7cd800 88deg,#44ca00 90deg,#12bf05 94deg,#02cb35 100deg,#00f6d1 110deg,#15eaf1 116deg,#29c2fa 120deg,#3c95ff 128deg,#389ffe 130deg,#1ae2f6 134deg,#0feeeb 136deg,#00ea9d 138deg,#02cc37 140deg,#14be00 142deg,#80d900 144deg,#d9f300 146deg,#ffea00 148deg,#fe7000 154deg,#ff7600 162deg,#ff8e00 164deg,#ffe700 168deg,#c3ed00 170deg,#2fc500 172deg,#03cb34 174deg,#03f6de 178deg,#1be1f6 180deg,#399efe 184deg,#3d87ff 186deg,#33abfc 192deg,#2cbbfb 194deg,#15eaf2 216deg,#0af2e5 228deg,#00f4c9 230deg,#04ca31 234deg,#1ec100 236deg,#9ce100 238deg,#fffc00 240deg,#ff8d00 246deg,#ff7300 248deg,#eb3c00 260deg,#e02902 268deg,#f14d00 278deg,#ff8300 286deg,#ff9b00 288deg,#fffc00 294deg,#89db00 300deg,#27c300 304deg,#0fc20f 306deg,#00cf44 310deg,#00eba3 314deg,#02f7dc 324deg,#15eaf1 332deg,#30b1fc 338deg,#3d81ff 344deg,#4057fd 348deg,#404df8 350deg,#405cff 352deg,#3e7bff 354deg,#31aefc 356deg,#0feeeb 358deg,#00e283 360deg)"></i>
<i style="left:192.5px;top:438.5px;width:19px;height:19px;background:conic-gradient(from -30.23deg,#00e283 0deg,#0bc51b 2deg,#4acb00 4deg,#aee600 6deg,#fffc00 8deg,#ffeb00 46deg,#ffdb00 68deg,#fffc00 82deg,#7cd800 88deg,#44ca00 90deg,#12bf05 94deg,#02cb35 100deg,#00f6d1 110deg,#15eaf1 116deg,#29c2fa 120deg,#3c95ff 128deg,#389ffe 130deg,#1ae2f6 134deg,#0feeeb 136deg,#00ea9d 138deg,#02cc37 140deg,#14be00 142deg,#80d900 144deg,#d9f300 146deg,#ffea00 148deg,#fe7000 154deg,#ff7600 162deg,#ff8e00 164deg,#ffe700 168deg,#c3ed00 170deg,#2fc500 172deg,#03cb34 174deg,#03f6de 178deg,#1be1f6 180deg,#399efe 184deg,#3d87ff 186deg,#33abfc 192deg,#2cbbfb 194deg,#15eaf2 216deg,#0af2e5 228deg,#00f4c9 230deg,#04ca31 234deg,#1ec100 236deg,#9ce100 238deg,#fffc00 240deg,#ff8d00 246deg,#ff7300 248deg,#eb3c00 260deg,#e02902 268deg,#f14d00 278deg,#ff8300 286deg,#ff9b00 288deg,#fffc00 294deg,#89db00 300deg,#27c300 304deg,#0fc20f 306deg,#00cf44 310deg,#00eba3 314deg,#02f7dc 324deg,#15eaf1 332deg,#30b1fc 338deg,#3d81ff 344deg,#4057fd 348deg,#404df8 350deg,#405cff 352deg,#3e7bff 354deg,#31aefc 356deg,#0feeeb 358deg,#00e283 360deg)"></i>
<i style="left:193.5px;top:439.5px;width:17px;height:17px;background:conic-gradient(from -30.58deg,#00e283 0deg,#0bc51b 2deg,#4acb00 4deg,#aee600 6deg,#fffc00 8deg,#ffeb00 46deg,#ffdb00 68deg,#fffc00 82deg,#7cd800 88deg,#44ca00 90deg,#12bf05 94deg,#02cb35 100deg,#00f6d1 110deg,#15eaf1 116deg,#29c2fa 120deg,#3c95ff 128deg,#389ffe 130deg,#1ae2f6 134deg,#0feeeb 136deg,#00ea9d 138deg,#02cc37 140deg,#14be00 142deg,#80d900 144deg,#d9f300 146deg,#ffea00 148deg,#fe7000 154deg,#ff7600 162deg,#ff8e00 164deg,#ffe700 168deg,#c3ed00 170deg,#2fc500 172deg,#03cb34 174deg,#03f6de 178deg,#1be1f6 180deg,#399efe 184deg,#3d87ff 186deg,#33abfc 192deg,#2cbbfb 194deg,#15eaf2 216deg,#0af2e5 228deg,#00f4c9 230deg,#04ca31 234deg,#1ec100 236deg,#9ce100 238deg,#fffc00 240deg,#ff8d00 246deg,#ff7300 248deg,#eb3c00 260deg,#e02902 268deg,#f14d00 278deg,#ff8300 286deg,#ff9b00 288deg,#fffc00 294deg,#89db00 300deg,#27c300 304deg,#0fc20f 306deg,#00cf44 310deg,#00eba3 314deg,#02f7dc 324deg,#15eaf1 332deg,#30b1fc 338deg,#3d81ff 344deg,#4057fd 348deg,#404df8 350deg,#405cff 352deg,#3e7bff 354deg,#31aefc 356deg,#0feeeb 358deg,#00e283 360deg)"></i>
<i style="left:194.5px;top:440.5px;width:15px;height:15px;background:conic-gradient(from -30.93deg,#00e283 0deg,#0bc51b 2deg,#4acb00 4deg,#aee600 6deg,#fffc00 8deg,#ffeb00 46deg,#ffdb00 68deg,#fffc00 82deg,#7cd800 88deg,#44ca00 90deg,#12bf05 94deg,#02cb35 100deg,#00f6d1 110deg,#15eaf1 116deg,#29c2fa 120deg,#3c95ff 128deg,#389ffe 130deg,#1ae2f6 134deg,#0feeeb 136deg,#00ea9d 138deg,#02cc37 140deg,#14be00 142deg,#80d900 144deg,#d9f300 146deg,#ffea00 148deg,#fe7000 154deg,#ff7600 162deg,#ff8e00 164deg,#ffe700 168deg,#c3ed00 170deg,#2fc500 172deg,#03cb34 174deg,#03f6de 178deg,#1be1f6 180deg,#399efe 184deg,#3d87ff 186deg,#33abfc 192deg,#2cbbfb 194deg,#15eaf2 216deg,#0af2e5 228deg,#00f4c9 230deg,#04ca31 234deg,#1ec100 236deg,#9ce100 238deg,#fffc00 240deg,#ff8d00 246deg,#ff7300 248deg,#eb3c00 260deg,#e02902 268deg,#f14d00 278deg,#ff8300 286deg,#ff9b00 288deg,#fffc00 294deg,#89db00 300deg,#27c300 304deg,#0fc20f 306deg,#00cf44 310deg,#00eba3 314deg,#02f7dc 324deg,#15eaf1 332deg,#30b1fc 338deg,#3d81ff 344deg,#4057fd 348deg,#404df8 350deg,#405cff 352deg,#3e7bff 354deg,#31aefc 356deg,#0feeeb 358deg,#00e283 360deg)"></i>
<i style="left:195.5px;top:441.5px;width:13px;height:13px;background:conic-gradient(from -31.28deg,#00e283 0deg,#0bc51b 2deg,#4acb00 4deg,#aee600 6deg,#fffc00 8deg,#ffeb00 46deg,#ffdb00 68deg,#fffc00 82deg,#7cd800 88deg,#44ca00 90deg,#12bf05 94deg,#02cb35 100deg,#00f6d1 110deg,#15eaf1 116deg,#29c2fa 120deg,#3c95ff 128deg,#389ffe 130deg,#1ae2f6 134deg,#0feeeb 136deg,#00ea9d 138deg,#02cc37 140deg,#14be00 142deg,#80d900 144deg,#d9f300 146deg,#ffea00 148deg,#fe7000 154deg,#ff7600 162deg,#ff8e00 164deg,#ffe700 168deg,#c3ed00 170deg,#2fc500 172deg,#03cb34 174deg,#03f6de 178deg,#1be1f6 180deg,#399efe 184deg,#3d87ff 186deg,#33abfc 192deg,#2cbbfb 194deg,#15eaf2 216deg,#0af2e5 228deg,#00f4c9 230deg,#04ca31 234deg,#1ec100 236deg,#9ce100 238deg,#fffc00 240deg,#ff8d00 246deg,#ff7300 248deg,#eb3c00 260deg,#e02902 268deg,#f14d00 278deg,#ff8300 286deg,#ff9b00 288deg,#fffc00 294deg,#89db00 300deg,#27c300 304deg,#0fc20f 306deg,#00cf44 310deg,#00eba3 314deg,#02f7dc 324deg,#15eaf1 332deg,#30b1fc 338deg,#3d81ff 344deg,#4057fd 348deg,#404df8 350deg,#405cff 352deg,#3e7bff 354deg,#31aefc 356deg,#0feeeb 358deg,#00e283 360deg)"></i>
<i style="left:196.5px;top:442.5px;width:11px;height:11px;background:conic-gradient(from -31.63deg,#00e283 0deg,#0bc51b 2deg,#4acb00 4deg,#aee600 6deg,#fffc00 8deg,#ffeb00 46deg,#ffdb00 68deg,#fffc00 82deg,#7cd800 88deg,#44ca00 90deg,#12bf05 94deg,#02cb35 100deg,#00f6d1 110deg,#15eaf1 116deg,#29c2fa 120deg,#3c95ff 128deg,#389ffe 130deg,#1ae2f6 134deg,#0feeeb 136deg,#00ea9d 138deg,#02cc37 140deg,#14be00 142deg,#80d900 144deg,#d9f300 146deg,#ffea00 148deg,#fe7000 154deg,#ff7600 162deg,#ff8e00 164deg,#ffe700 168deg,#c3ed00 170deg,#2fc500 172deg,#03cb34 174deg,#03f6de 178deg,#1be1f6 180deg,#399efe 184deg,#3d87ff 186deg,#33abfc 192deg,#2cbbfb 194deg,#15eaf2 216deg,#0af2e5 228deg,#00f4c9 230deg,#04ca31 234deg,#1ec100 236deg,#9ce100 238deg,#fffc00 240deg,#ff8d00 246deg,#ff7300 248deg,#eb3c00 260deg,#e02902 268deg,#f14d00 278deg,#ff8300 286deg,#ff9b00 288deg,#fffc00 294deg,#89db00 300deg,#27c300 304deg,#0fc20f 306deg,#00cf44 310deg,#00eba3 314deg,#02f7dc 324deg,#15eaf1 332deg,#30b1fc 338deg,#3d81ff 344deg,#4057fd 348deg,#404df8 350deg,#405cff 352deg,#3e7bff 354deg,#31aefc 356deg,#0feeeb 358deg,#00e283 360deg)"></i>
<i style="left:197.5px;top:443.5px;width:9px;height:9px;background:conic-gradient(from -31.98deg,#00e283 0deg,#0bc51b 2deg,#4acb00 4deg,#aee600 6deg,#fffc00 8deg,#ffeb00 46deg,#ffdb00 68deg,#fffc00 82deg,#7cd800 88deg,#44ca00 90deg,#12bf05 94deg,#02cb35 100deg,#00f6d1 110deg,#15eaf1 116deg,#29c2fa 120deg,#3c95ff 128deg,#389ffe 130deg,#1ae2f6 134deg,#0feeeb 136deg,#00ea9d 138deg,#02cc37 140deg,#14be00 142deg,#80d900 144deg,#d9f300 146deg,#ffea00 148deg,#fe7000 154deg,#ff7600 162deg,#ff8e00 164deg,#ffe700 168deg,#c3ed00 170deg,#2fc500 172deg,#03cb34 174deg,#03f6de 178deg,#1be1f6 180deg,#399efe 184deg,#3d87ff 186deg,#33abfc 192deg,#2cbbfb 194deg,#15eaf2 216deg,#0af2e5 228deg,#00f4c9 230deg,#04ca31 234deg,#1ec100 236deg,#9ce100 238deg,#fffc00 240deg,#ff8d00 246deg,#ff7300 248deg,#eb3c00 260deg,#e02902 268deg,#f14d00 278deg,#ff8300 286deg,#ff9b00 288deg,#fffc00 294deg,#89db00 300deg,#27c300 304deg,#0fc20f 306deg,#00cf44 310deg,#00eba3 314deg,#02f7dc 324deg,#15eaf1 332deg,#30b1fc 338deg,#3d81ff 344deg,#4057fd 348deg,#404df8 350deg,#405cff 352deg,#3e7bff 354deg,#31aefc 356deg,#0feeeb 358deg,#00e283 360deg)"></i>
<i style="left:198.5px;top:444.5px;width:7px;height:7px;background:conic-gradient(from -32.33deg,#00e283 0deg,#0bc51b 2deg,#4acb00 4deg,#aee600 6deg,#fffc00 8deg,#ffeb00 46deg,#ffdb00 68deg,#fffc00 82deg,#7cd800 88deg,#44ca00 90deg,#12bf05 94deg,#02cb35 100deg,#00f6d1 110deg,#15eaf1 116deg,#29c2fa 120deg,#3c95ff 128deg,#389ffe 130deg,#1ae2f6 134deg,#0feeeb 136deg,#00ea9d 138deg,#02cc37 140deg,#14be00 142deg,#80d900 144deg,#d9f300 146deg,#ffea00 148deg,#fe7000 154deg,#ff7600 162deg,#ff8e00 164deg,#ffe700 168deg,#c3ed00 170deg,#2fc500 172deg,#03cb34 174deg,#03f6de 178deg,#1be1f6 180deg,#399efe 184deg,#3d87ff 186deg,#33abfc 192deg,#2cbbfb 194deg,#15eaf2 216deg,#0af2e5 228deg,#00f4c9 230deg,#04ca31 234deg,#1ec100 236deg,#9ce100 238deg,#fffc00 240deg,#ff8d00 246deg,#ff7300 248deg,#eb3c00 260deg,#e02902 268deg,#f14d00 278deg,#ff8300 286deg,#ff9b00 288deg,#fffc00 294deg,#89db00 300deg,#27c300 304deg,#0fc20f 306deg,#00cf44 310deg,#00eba3 314deg,#02f7dc 324deg,#15eaf1 332deg,#30b1fc 338deg,#3d81ff 344deg,#4057fd 348deg,#404df8 350deg,#405cff 352deg,#3e7bff 354deg,#31aefc 356deg,#0feeeb 358deg,#00e283 360deg)"></i>
</div></div>
<div class="a" style="left:0;top:0;width:960px;height:600px;clip-path:polygon(358px 184px,488.5px -42.0326px,488.5px 410.033px);"><div class="a" style="left:0;top:0;width:960px;height:600px;clip-path:circle(124.5px at 358px 184px);"><div class="dk a" style="left:0;top:0;width:960px;height:600px;filter:blur(0.9px);">
<i style="left:231.5px;top:57.5px;width:253px;height:253px;background:conic-gradient(#3e3ec9 28deg,#3e3ec9 152deg)"></i>
<i style="left:232.5px;top:58.5px;width:251px;height:251px;background:conic-gradient(#3e3ec9 28deg,#3e3ec9 152deg)"></i>
<i style="left:233.5px;top:59.5px;width:249px;height:249px;background:conic-gradient(#3e3ec9 28deg,#3e3ec9 152deg)"></i>
<i style="left:234.5px;top:60.5px;width:247px;height:247px;background:conic-gradient(#3e3ec9 28deg,#3e3ec9 152deg)"></i>
<i style="left:235.5px;top:61.5px;width:245px;height:245px;background:conic-gradient(#3e3ec9 28deg,#3e3ec9 152deg)"></i>
<i style="left:236.5px;top:62.5px;width:243px;height:243px;background:conic-gradient(#3e3ec9 28deg,#3e3ec9 152deg)"></i>
<i style="left:237.5px;top:63.5px;width:241px;height:241px;background:conic-gradient(#3e3ec9 28deg,#3e3ec9 152deg)"></i>
<i style="left:238.5px;top:64.5px;width:239px;height:239px;background:conic-gradient(#3e3ec9 28deg,#3e3ec9 152deg)"></i>
<i style="left:239.5px;top:65.5px;width:237px;height:237px;background:conic-gradient(#3e3ec9 28deg,#3e3ec9 152deg)"></i>
<i style="left:240.5px;top:66.5px;width:235px;height:235px;background:conic-gradient(#3e3ec9 28deg,#3e3ec9 152deg)"></i>
<i style="left:241.5px;top:67.5px;width:233px;height:233px;background:conic-gradient(#3e3ec9 28deg,#3e3ec9 152deg)"></i>
<i style="left:242.5px;top:68.5px;width:231px;height:231px;background:conic-gradient(#3e3ec9 28deg,#3e3ec9 152deg)"></i>
<i style="left:243.5px;top:69.5px;width:229px;height:229px;background:conic-gradient(#3e3ec9 28deg,#3e3ec9 152deg)"></i>
<i style="left:244.5px;top:70.5px;width:227px;height:227px;background:conic-gradient(#3e3ec9 28deg,#3e3ec9 152deg)"></i>
<i style="left:245.5px;top:71.5px;width:225px;height:225px;background:conic-gradient(#3e3ec9 28deg,#3e3ec9 152deg)"></i>
<i style="left:246.5px;top:72.5px;width:223px;height:223px;background:conic-gradient(#3e3ec9 28deg,#3e3ec9 152deg)"></i>
<i style="left:247.5px;top:73.5px;width:221px;height:221px;background:conic-gradient(#3e3ec9 28deg,#3e3ec9 152deg)"></i>
<i style="left:248.5px;top:74.5px;width:219px;height:219px;background:conic-gradient(#3e3ec9 28deg,#3e3ec9 152deg)"></i>
<i style="left:249.5px;top:75.5px;width:217px;height:217px;background:conic-gradient(#3e3ec9 28deg,#3e3ec9 152deg)"></i>
<i style="left:250.5px;top:76.5px;width:215px;height:215px;background:conic-gradient(#3e3ec9 28deg,#3e3ec9 152deg)"></i>
<i style="left:251.5px;top:77.5px;width:213px;height:213px;background:conic-gradient(#3e3ec9 28deg,#3e3ec9 152deg)"></i>
<i style="left:252.5px;top:78.5px;width:211px;height:211px;background:conic-gradient(#3e3ec9 28deg,#3e3ec9 152deg)"></i>
<i style="left:253.5px;top:79.5px;width:209px;height:209px;background:conic-gradient(#3e3ec9 28deg,#3e3ec9 152deg)"></i>
<i style="left:254.5px;top:80.5px;width:207px;height:207px;background:conic-gradient(#3e3ec9 28deg,#3e3ec9 152deg)"></i>
<i style="left:255.5px;top:81.5px;width:205px;height:205px;background:conic-gradient(#3e3ec9 28deg,#3e3ec9 152deg)"></i>
<i style="left:256.5px;top:82.5px;width:203px;height:203px;background:conic-gradient(#3e3ec9 28deg,#3e3ec9 152deg)"></i>
<i style="left:257.5px;top:83.5px;width:201px;height:201px;background:conic-gradient(#3e3ec9 28deg,#3e3ec9 152deg)"></i>
<i style="left:258.5px;top:84.5px;width:199px;height:199px;background:conic-gradient(#3e3ec9 28deg,#3e3ec9 152deg)"></i>
<i style="left:259.5px;top:85.5px;width:197px;height:197px;background:conic-gradient(#3e3ec9 28deg,#3e3ec9 152deg)"></i>
<i style="left:260.5px;top:86.5px;width:195px;height:195px;background:conic-gradient(#3e3ec9 28deg,#3e3ec9 152deg)"></i>
<i style="left:261.5px;top:87.5px;width:193px;height:193px;background:conic-gradient(#3e3eca 28deg,#3e3ec9 152deg)"></i>
<i style="left:262.5px;top:88.5px;width:191px;height:191px;background:conic-gradient(#3e3eca 28deg,#3e3eca 138deg,#3e3ec9 152deg)"></i>
<i style="left:263.5px;top:89.5px;width:189px;height:189px;background:conic-gradient(#3e3eca 28deg,#3e3eca 140deg,#3e3ec9 152deg)"></i>
<i style="left:264.5px;top:90.5px;width:187px;height:187px;background:conic-gradient(#3e3eca 28deg,#3f3fcc 118deg,#3e3ec9 152deg)"></i>
<i style="left:265.5px;top:91.5px;width:185px;height:185px;background:conic-gradient(#3e3eca 28deg,#3f3fcc 118deg,#3e3ec9 152deg)"></i>
<i style="left:266.5px;top:92.5px;width:183px;height:183px;background:conic-gradient(#3e3eca 28deg,#3f3fce 108deg,#3e3ec9 152deg)"></i>
<i style="left:267.5px;top:93.5px;width:181px;height:181px;background:conic-gradient(#3e3eca 28deg,#3f3fce 110deg,#3e3ec9 152deg)"></i>
<i style="left:268.5px;top:94.5px;width:179px;height:179px;background:conic-gradient(#3e3eca 28deg,#3f3fcf 108deg,#3e3ec9 152deg)"></i>
<i style="left:269.5px;top:95.5px;width:177px;height:177px;background:conic-gradient(#3e3eca 28deg,#3f3fd0 104deg,#3e3ec9 152deg)"></i>
<i style="left:270.5px;top:96.5px;width:175px;height:175px;background:conic-gradient(#3e3eca 28deg,#3f3fd1 102deg,#3e3ec9 152deg)"></i>
<i style="left:271.5px;top:97.5px;width:173px;height:173px;background:conic-gradient(#3e3eca 28deg,#3f3fd2 100deg,#3e3ec9 152deg)"></i>
<i style="left:272.5px;top:98.5px;width:171px;height:171px;background:conic-gradient(#3e3eca 28deg,#3f3fd2 100deg,#3e3ec9 152deg)"></i>
<i style="left:273.5px;top:99.5px;width:169px;height:169px;background:conic-gradient(#3e3eca 28deg,#3f3fd3 98deg,#3e3ec9 152deg)"></i>
<i style="left:274.5px;top:100.5px;width:167px;height:167px;background:conic-gradient(#3e3eca 28deg,#3f3fd3 100deg,#3e3ec9 152deg)"></i>
<i style="left:275.5px;top:101.5px;width:165px;height:165px;background:conic-gradient(#3e3eca 28deg,#3f3fd4 98deg,#3e3ec9 152deg)"></i>
<i style="left:276.5px;top:102.5px;width:163px;height:163px;background:conic-gradient(#3e3eca 28deg,#3f3fd5 96deg,#3e3ec9 152deg)"></i>
<i style="left:277.5px;top:103.5px;width:161px;height:161px;background:conic-gradient(#3e3eca 28deg,#3f3fd5 96deg,#3e3ec9 152deg)"></i>
<i style="left:278.5px;top:104.5px;width:159px;height:159px;background:conic-gradient(#3e3eca 28deg,#3f3fd7 94deg,#3e3ec9 152deg)"></i>
<i style="left:279.5px;top:105.5px;width:157px;height:157px;background:conic-gradient(#3e3eca 28deg,#3f3fd8 94deg,#3e3ec9 152deg)"></i>
<i style="left:280.5px;top:106.5px;width:155px;height:155px;background:conic-gradient(#3e3eca 28deg,#3f3fd9 94deg,#3e3ec9 152deg)"></i>
<i style="left:281.5px;top:107.5px;width:153px;height:153px;background:conic-gradient(#3f3fcb 28deg,#3f3fd9 94deg,#3e3eca 152deg)"></i>
<i style="left:282.5px;top:108.5px;width:151px;height:151px;background:conic-gradient(#3f3fcb 28deg,#3f3fdb 92deg,#3e3eca 152deg)"></i>
<i style="left:283.5px;top:109.5px;width:149px;height:149px;background:conic-gradient(#3f3fcb 28deg,#3f3fdd 90deg,#3e3eca 152deg)"></i>
<i style="left:284.5px;top:110.5px;width:147px;height:147px;background:conic-gradient(#3f3fcb 28deg,#3f3fdf 88deg,#3e3eca 150deg,#3e3eca 152deg)"></i>
<i style="left:285.5px;top:111.5px;width:145px;height:145px;background:conic-gradient(#3f3fcb 28deg,#3f3fe1 88deg,#3e3eca 148deg,#3e3eca 152deg)"></i>
<i style="left:286.5px;top:112.5px;width:143px;height:143px;background:conic-gradient(#3f3fcb 28deg,#3f3fe3 86deg,#3e3eca 146deg,#3e3eca 152deg)"></i>
<i style="left:287.5px;top:113.5px;width:141px;height:141px;background:conic-gradient(#3f3fcb 28deg,#3f3fe0 68deg,#3f3fe3 90deg,#3e3eca 146deg,#3e3eca 152deg)"></i>
<i style="left:288.5px;top:114.5px;width:139px;height:139px;background:conic-gradient(#3f3fcb 28deg,#3f3fde 64deg,#4040e7 86deg,#3e3eca 144deg,#3e3eca 152deg)"></i>
<i style="left:289.5px;top:115.5px;width:137px;height:137px;background:conic-gradient(#3f3fcb 28deg,#3f3fe1 66deg,#4040e9 86deg,#3f3fcb 138deg,#3e3eca 152deg)"></i>
<i style="left:290.5px;top:116.5px;width:135px;height:135px;background:conic-gradient(#3f3fcb 28deg,#3f3fde 62deg,#4040ec 82deg,#3f3fcb 140deg,#3e3eca 152deg)"></i>
<i style="left:291.5px;top:117.5px;width:133px;height:133px;background:conic-gradient(#3f3fcb 28deg,#3f3fdd 60deg,#4040ee 82deg,#3f3fcb 138deg,#3e3eca 152deg)"></i>
<i style="left:292.5px;top:118.5px;width:131px;height:131px;background:conic-gradient(#3f3fcb 28deg,#3f3fde 60deg,#4040f0 82deg,#3f3fcb 138deg,#3e3eca 152deg)"></i>
<i style="left:293.5px;top:119.5px;width:129px;height:129px;background:conic-gradient(#3f3fcb 28deg,#3f3fdf 60deg,#4042f1 78deg,#3f3fdf 104deg,#3e3eca 146deg,#3e3eca 152deg)"></i>
<i style="left:294.5px;top:120.5px;width:127px;height:127px;background:conic-gradient(#3f3fcc 28deg,#3f3fde 58deg,#4044f2 78deg,#3f3fe2 102deg,#3e3eca 144deg,#3e3eca 152deg)"></i>
<i style="left:295.5px;top:121.5px;width:125px;height:125px;background:conic-gradient(#3f3fcc 28deg,#3f3fdc 56deg,#4045f3 76deg,#4040e7 98deg,#3f3fcc 136deg,#3e3eca 152deg)"></i>
<i style="left:296.5px;top:122.5px;width:123px;height:123px;background:conic-gradient(#3f3fcc 28deg,#3f3fdd 56deg,#4046f4 74deg,#4040e9 98deg,#3f3fcc 136deg,#3e3eca 152deg)"></i>
<i style="left:297.5px;top:123.5px;width:121px;height:121px;background:conic-gradient(#3f3fcc 28deg,#3f3fde 56deg,#4048f5 74deg,#4042f1 92deg,#3f3fce 130deg,#3e3eca 152deg)"></i>
<i style="left:298.5px;top:124.5px;width:119px;height:119px;background:conic-gradient(#3f3fcc 28deg,#3f3fde 56deg,#4048f5 72deg,#4047f4 88deg,#3f3fdb 112deg,#3e3eca 150deg,#3e3eca 152deg)"></i>
<i style="left:299.5px;top:125.5px;width:117px;height:117px;background:conic-gradient(#3f3fcc 28deg,#3f3fdf 56deg,#404bf7 74deg,#4046f3 90deg,#3f3fcf 130deg,#3e3eca 152deg)"></i>
<i style="left:300.5px;top:126.5px;width:115px;height:115px;background:conic-gradient(#3f3fcc 28deg,#3f3fdd 54deg,#4048f5 70deg,#404cf7 86deg,#4040e6 102deg,#3f3fcb 140deg,#3e3eca 152deg)"></i>
<i style="left:301.5px;top:127.5px;width:113px;height:113px;background:conic-gradient(#3f3fcc 28deg,#3f3fdd 54deg,#4047f4 68deg,#404ff9 84deg,#4040e7 102deg,#3f3fcc 138deg,#3e3eca 152deg)"></i>
<i style="left:302.5px;top:128.5px;width:111px;height:111px;background:conic-gradient(#3f3fcc 28deg,#3f3fdd 54deg,#4048f5 68deg,#4052fa 82deg,#4040e8 102deg,#3f3fcd 134deg,#3e3eca 152deg)"></i>
<i style="left:303.5px;top:129.5px;width:109px;height:109px;background:conic-gradient(#3f3fcc 28deg,#3f3fde 54deg,#4046f3 66deg,#4055fc 80deg,#4040e8 102deg,#3f3fcd 136deg,#3e3eca 152deg)"></i>
<i style="left:304.5px;top:130.5px;width:107px;height:107px;background:conic-gradient(#3f3fcc 28deg,#3f3fdb 52deg,#4043f2 64deg,#4058fe 78deg,#4040e9 102deg,#3f3fcd 134deg,#3e3eca 152deg)"></i>
<i style="left:305.5px;top:131.5px;width:105px;height:105px;background:conic-gradient(#3f3fcc 28deg,#3f3fdf 54deg,#4049f5 66deg,#405bff 80deg,#4040ea 102deg,#3f3fcd 134deg,#3e3eca 152deg)"></i>
<i style="left:306.5px;top:132.5px;width:103px;height:103px;background:conic-gradient(#3f3fcc 28deg,#3f3fdc 52deg,#4046f4 64deg,#4061ff 78deg,#4040ee 100deg,#3f3fce 132deg,#3e3eca 152deg)"></i>
<i style="left:307.5px;top:133.5px;width:101px;height:101px;background:conic-gradient(#3f3fcc 28deg,#3f3fdd 52deg,#4047f4 64deg,#3f67ff 78deg,#4042f1 98deg,#3f3fd0 128deg,#3e3eca 152deg)"></i>
<i style="left:308.5px;top:134.5px;width:99px;height:99px;background:conic-gradient(#3f3fcc 28deg,#3f3fdd 52deg,#4044f2 62deg,#3f6aff 76deg,#3f69ff 82deg,#4040ef 100deg,#3f3fd0 128deg,#3e3eca 152deg)"></i>
<i style="left:309.5px;top:135.5px;width:97px;height:97px;background:conic-gradient(#3f3fcc 28deg,#3f3fdd 52deg,#4045f3 62deg,#3f6bff 74deg,#3e72ff 80deg,#4040f0 100deg,#3f3fcf 130deg,#3e3eca 152deg)"></i>
<i style="left:310.5px;top:136.5px;width:95px;height:95px;background:conic-gradient(#3f3fcc 28deg,#3f3fde 52deg,#4046f3 62deg,#3f68ff 72deg,#3e79ff 78deg,#3f65ff 86deg,#4040f0 100deg,#3f3fd1 128deg,#3e3eca 152deg)"></i>
<i style="left:311.5px;top:137.5px;width:93px;height:93px;background:conic-gradient(#3f3fcc 28deg,#3f3fde 52deg,#4047f4 62deg,#3f63ff 70deg,#3e7fff 78deg,#3e73ff 84deg,#4052fa 92deg,#4040ea 104deg,#3f3fce 134deg,#3e3eca 152deg)"></i>
<i style="left:312.5px;top:138.5px;width:91px;height:91px;background:conic-gradient(#3f3fcc 28deg,#3f3fde 52deg,#4048f4 62deg,#405aff 68deg,#3d82ff 76deg,#3e7fff 82deg,#4053fb 92deg,#4040ea 104deg,#3f3fce 134deg,#3e3eca 152deg)"></i>
<i style="left:313.5px;top:139.5px;width:89px;height:89px;background:conic-gradient(#3f3fce 28deg,#3f3fdb 50deg,#4043f2 60deg,#405dff 68deg,#3d87ff 76deg,#3d84ff 82deg,#4054fc 92deg,#4040ea 104deg,#3f3fcd 136deg,#3e3eca 152deg)"></i>
<i style="left:314.5px;top:140.5px;width:87px;height:87px;background:conic-gradient(#3f3fcf 28deg,#3f3fdc 50deg,#4044f2 60deg,#4061ff 68deg,#3d85ff 74deg,#3d8dff 80deg,#3f69ff 88deg,#4050f9 94deg,#4040eb 104deg,#3f3fce 134deg,#3e3eca 152deg)"></i>
<i style="left:315.5px;top:141.5px;width:85px;height:85px;background:conic-gradient(#3f3fd0 28deg,#3f3fdf 52deg,#4044f2 60deg,#3f64ff 68deg,#3d8aff 74deg,#3c92ff 80deg,#3f6dff 88deg,#4051fa 94deg,#4040eb 104deg,#3f3fcd 136deg,#3e3eca 152deg)"></i>
<i style="left:316.5px;top:142.5px;width:83px;height:83px;background:conic-gradient(#3f3fd2 28deg,#3f3fdc 50deg,#4045f3 60deg,#4059fe 66deg,#3c8fff 74deg,#3b98ff 80deg,#3f70ff 88deg,#4052fa 94deg,#4040ec 104deg,#3f3fce 134deg,#3e3eca 152deg)"></i>
<i style="left:317.5px;top:143.5px;width:81px;height:81px;background:conic-gradient(#3f3fd3 28deg,#3f3fdc 50deg,#4045f3 60deg,#405aff 66deg,#3c93ff 74deg,#36a3fd 78deg,#3d8dff 84deg,#4058fe 92deg,#4040ec 104deg,#3f3fce 134deg,#3e3eca 152deg)"></i>
<i style="left:318.5px;top:144.5px;width:79px;height:79px;background:conic-gradient(#3f3fd4 28deg,#3f3fdc 50deg,#4046f3 60deg,#405cff 66deg,#36a5fd 76deg,#35a7fd 80deg,#4059fe 92deg,#4040ec 104deg,#3f3fcd 136deg,#3e3eca 152deg)"></i>
<i style="left:319.5px;top:145.5px;width:77px;height:77px;background:conic-gradient(#3f3fd5 28deg,#3f3fdc 50deg,#4046f3 60deg,#405eff 66deg,#32acfc 76deg,#32aefc 80deg,#3f68ff 90deg,#4053fb 94deg,#4040ec 104deg,#3f3fcd 136deg,#3e3eca 152deg)"></i>
<i style="left:320.5px;top:146.5px;width:75px;height:75px;background:conic-gradient(#3f3fd7 28deg,#3f3fd9 48deg,#4046f4 60deg,#405fff 66deg,#35a5fd 74deg,#2db8fb 78deg,#34a9fd 82deg,#3e79ff 88deg,#405aff 92deg,#4040ec 104deg,#3f3fcd 136deg,#3e3eca 152deg)"></i>
<i style="left:321.5px;top:147.5px;width:73px;height:73px;background:conic-gradient(#3f3fd8 28deg,#3f3fdc 50deg,#4046f4 60deg,#4061ff 66deg,#3c96ff 72deg,#2cbafb 76deg,#2cbbfa 80deg,#3e7bff 88deg,#405aff 92deg,#4040ec 104deg,#3f3fcd 136deg,#3e3eca 152deg)"></i>
<i style="left:322.5px;top:148.5px;width:71px;height:71px;background:conic-gradient(#3f3fd9 28deg,#3f3fd7 40deg,#3f3fe0 52deg,#4046f4 60deg,#3f63ff 66deg,#399cfe 72deg,#29c1fa 76deg,#29c2fa 80deg,#3e7dff 88deg,#405bff 92deg,#4040ec 104deg,#3f3fcd 136deg,#3e3eca 152deg)"></i>
<i style="left:323.5px;top:149.5px;width:69px;height:69px;background:conic-gradient(#3f3fda 28deg,#3f3fd8 40deg,#3f3fe0 52deg,#4047f4 60deg,#3f64ff 66deg,#38a0fe 72deg,#27c5f9 76deg,#25cbf9 78deg,#2cb9fb 82deg,#3e7fff 88deg,#405cff 92deg,#4040f0 102deg,#3f3fcf 132deg,#3f3fcb 152deg)"></i>
<i style="left:324.5px;top:150.5px;width:67px;height:67px;background:conic-gradient(#3f3fdc 28deg,#3f3fdb 38deg,#3f3fd9 48deg,#4040f0 58deg,#4056fd 64deg,#36a4fd 72deg,#25caf9 76deg,#25cbf9 80deg,#34a8fd 84deg,#405cff 92deg,#4040f0 102deg,#3f3fcf 132deg,#3f3fcc 152deg)"></i>
<i style="left:325.5px;top:151.5px;width:65px;height:65px;background:conic-gradient(#3f3fdd 28deg,#3f3fdc 38deg,#3f3fdc 50deg,#4040f0 58deg,#4056fd 64deg,#3d8eff 70deg,#2abffa 74deg,#23cff8 76deg,#23d0f8 80deg,#32acfc 84deg,#3d81ff 88deg,#405dff 92deg,#4040f0 102deg,#3f3fcf 132deg,#3f3fce 152deg)"></i>
<i style="left:326.5px;top:152.5px;width:63px;height:63px;background:conic-gradient(#3f3fde 28deg,#3f3fe1 36deg,#3f3fd7 46deg,#4040f0 58deg,#4056fd 64deg,#3c90ff 70deg,#28c3f9 74deg,#1fd9f7 78deg,#27c6f9 82deg,#3c94ff 86deg,#405dff 92deg,#4040f0 102deg,#3f3fcf 132deg,#3f3fcf 152deg)"></i>
<i style="left:327.5px;top:153.5px;width:61px;height:61px;background:conic-gradient(#3f3fdf 28deg,#3f3fe2 36deg,#3f3fd8 46deg,#4046f4 60deg,#4056fd 64deg,#3c92ff 70deg,#26c8f9 74deg,#1ddef6 78deg,#25caf9 82deg,#3c96ff 86deg,#405dff 92deg,#4040f0 102deg,#3f3fcf 132deg,#3f3fd0 152deg)"></i>
<i style="left:328.5px;top:154.5px;width:59px;height:59px;background:conic-gradient(#3f3fe0 28deg,#3f3fe3 36deg,#3f3fd8 46deg,#4046f4 60deg,#4057fd 64deg,#3c94ff 70deg,#24ccf8 74deg,#1dddf6 76deg,#1dddf6 80deg,#2eb6fb 84deg,#3b98ff 86deg,#405dff 92deg,#4040f0 102deg,#3f3fcf 132deg,#3f3fd1 152deg)"></i>
<i style="left:329.5px;top:155.5px;width:57px;height:57px;background:conic-gradient(#3f3fe1 28deg,#3f3fe3 36deg,#3f3fd8 46deg,#4046f4 60deg,#4057fd 64deg,#3c95ff 70deg,#22d0f8 74deg,#1be1f6 76deg,#18e7f5 78deg,#1be2f6 80deg,#2db9fb 84deg,#3d85ff 88deg,#405eff 92deg,#4040f0 102deg,#3f3fcf 132deg,#3f3fd2 152deg)"></i>
<i style="left:330.5px;top:156.5px;width:55px;height:55px;background:conic-gradient(#3f3fe2 28deg,#4040e4 36deg,#3f3fd8 46deg,#4046f4 60deg,#4057fd 64deg,#3b97ff 70deg,#21d5f7 74deg,#19e6f5 76deg,#19e6f5 80deg,#2bbcfa 84deg,#3d86ff 88deg,#405eff 92deg,#4040f0 102deg,#3f3fcf 132deg,#3f3fd3 152deg)"></i>
<i style="left:331.5px;top:157.5px;width:53px;height:53px;background:conic-gradient(#3f3fe3 28deg,#4040e5 36deg,#3f3fd7 44deg,#4040e9 56deg,#404ef8 62deg,#3f6aff 66deg,#3a9afe 70deg,#1fd9f7 74deg,#17e9f4 76deg,#17e9f4 80deg,#1edaf7 82deg,#389ffe 86deg,#405eff 92deg,#4040f0 102deg,#3f3fcf 132deg,#3f3fd5 152deg)"></i>
<i style="left:332.5px;top:158.5px;width:51px;height:51px;background:conic-gradient(#3f3fe3 28deg,#4040e6 36deg,#3f3fd7 44deg,#4040e9 56deg,#404ef8 62deg,#3f6aff 66deg,#399dfe 70deg,#1dddf6 74deg,#16eaf2 76deg,#16eaf2 80deg,#1dddf6 82deg,#3d87ff 88deg,#405eff 92deg,#4040f0 102deg,#3f3fcf 132deg,#3f3fd6 152deg)"></i>
<i style="left:333.5px;top:159.5px;width:49px;height:49px;background:conic-gradient(#4040e4 28deg,#4040e7 36deg,#3f3fd8 46deg,#4046f4 60deg,#4057fd 64deg,#389ffe 70deg,#1be1f6 74deg,#12ecee 78deg,#1be1f6 82deg,#3d88ff 88deg,#405eff 92deg,#4040f0 102deg,#3f3fcf 132deg,#3f3fd7 150deg,#3f3fd7 152deg)"></i>
<i style="left:334.5px;top:160.5px;width:47px;height:47px;background:conic-gradient(#4040e5 28deg,#4040e8 36deg,#3f3fd7 44deg,#4040e9 56deg,#404ef8 62deg,#4057fd 64deg,#37a2fe 70deg,#19e5f5 74deg,#13ecef 80deg,#19e5f5 82deg,#3d89ff 88deg,#405eff 92deg,#4040f0 102deg,#3f3fcf 132deg,#3f3fd8 150deg,#3f3fd8 152deg)"></i>
<i style="left:335.5px;top:161.5px;width:45px;height:45px;background:conic-gradient(#4040e6 28deg,#4040e8 36deg,#3f3fd7 44deg,#4040e8 56deg,#404ef8 62deg,#4057fd 64deg,#3d85ff 68deg,#25cbf9 72deg,#17e8f4 74deg,#11eded 80deg,#18e8f5 82deg,#3d8aff 88deg,#405eff 92deg,#4040ef 102deg,#3f3fcf 134deg,#3f3fdc 148deg,#3f3fd9 152deg)"></i>
<i style="left:336.5px;top:162.5px;width:43px;height:43px;background:conic-gradient(#4040e7 28deg,#4040e9 36deg,#3f3fd7 44deg,#4040e8 56deg,#404ef8 62deg,#4057fd 64deg,#3d86ff 68deg,#23cef8 72deg,#16e9f3 74deg,#0defe9 78deg,#16e9f3 82deg,#23cff8 84deg,#3d8aff 88deg,#405eff 92deg,#4040ef 102deg,#3f3fcf 134deg,#3f3fdd 148deg,#3f3fda 152deg)"></i>
<i style="left:337.5px;top:163.5px;width:41px;height:41px;background:conic-gradient(#4040e7 28deg,#4040ea 36deg,#3f3fd8 44deg,#4040e8 56deg,#404ef8 62deg,#4057fd 64deg,#3d87ff 68deg,#22d2f8 72deg,#15eaf1 74deg,#0cf0e7 78deg,#15eaf2 82deg,#22d2f8 84deg,#3d8bff 88deg,#405eff 92deg,#4040ef 102deg,#3f3fcf 134deg,#3f3fde 148deg,#3f3fdb 152deg)"></i>
<i style="left:338.5px;top:164.5px;width:39px;height:39px;background:conic-gradient(#4040e8 28deg,#4040eb 36deg,#3f3fd8 44deg,#4040e9 56deg,#404ff9 62deg,#4059fe 64deg,#3d8aff 68deg,#20d5f7 72deg,#14ebf0 74deg,#0bf1e6 78deg,#14ebf1 82deg,#20d5f7 84deg,#3d8eff 88deg,#4061ff 92deg,#4044f2 100deg,#3f3fd0 130deg,#3f3fd4 140deg,#3f3fe0 148deg,#3f3fdc 152deg)"></i>
<i style="left:339.5px;top:165.5px;width:37px;height:37px;background:conic-gradient(#4040e9 28deg,#4040ec 36deg,#3f3fd8 44deg,#4040ea 56deg,#4050f9 62deg,#405aff 64deg,#3d8dff 68deg,#1fd8f7 72deg,#13ebef 74deg,#0defe8 80deg,#13ebf0 82deg,#1fd9f7 84deg,#3c91ff 88deg,#4056fd 94deg,#4040ec 104deg,#3f3fcf 134deg,#3f3fe1 148deg,#3f3fdd 152deg)"></i>
<i style="left:340.5px;top:166.5px;width:35px;height:35px;background:conic-gradient(#4040ea 28deg,#4040ec 36deg,#3f3fd8 44deg,#4040eb 56deg,#4052fa 62deg,#405eff 64deg,#3c90ff 68deg,#1edbf7 72deg,#12ecef 74deg,#0af1e5 78deg,#12ecef 82deg,#1dddf6 84deg,#3c94ff 88deg,#4058fe 94deg,#4040ed 104deg,#3f3fcf 134deg,#3f3fe2 148deg,#3f3fde 152deg)"></i>
<i style="left:341.5px;top:167.5px;width:33px;height:33px;background:conic-gradient(#4040eb 28deg,#4040ed 36deg,#3f3fd8 44deg,#4040ec 56deg,#4053fb 62deg,#3e79ff 66deg,#3c93ff 68deg,#1cdef6 72deg,#0bf0e7 76deg,#11ecee 82deg,#1be0f6 84deg,#3b98ff 88deg,#4059fe 94deg,#4040ed 104deg,#3f3fcf 134deg,#3f3fe3 148deg,#3f3fe0 152deg)"></i>
<i style="left:342.5px;top:168.5px;width:31px;height:31px;background:conic-gradient(#4040ec 28deg,#4040ee 36deg,#3f3fd9 44deg,#4040ed 56deg,#4054fc 62deg,#3e7cff 66deg,#3c95ff 68deg,#1be1f6 72deg,#0bf1e6 76deg,#11eded 82deg,#1ae4f6 84deg,#399dfe 88deg,#405aff 94deg,#4040ee 104deg,#3f3fd1 130deg,#3f3fd6 140deg,#4040e5 148deg,#3f3fe1 152deg)"></i>
<i style="left:343.5px;top:169.5px;width:29px;height:29px;background:conic-gradient(#4040ec 28deg,#4040ef 36deg,#3f3fd9 44deg,#4040e8 54deg,#404df7 60deg,#3f67ff 64deg,#3b99ff 68deg,#1ae4f5 72deg,#08f2e3 78deg,#18e7f5 84deg,#37a2fe 88deg,#405dff 94deg,#4040ef 104deg,#3f3fd2 128deg,#3f3fd2 138deg,#4040e6 148deg,#3f3fe2 152deg)"></i>
<i style="left:344.5px;top:170.5px;width:27px;height:27px;background:conic-gradient(#4040ed 28deg,#4040f0 36deg,#3f3fd9 44deg,#4040e9 54deg,#404ef8 60deg,#3f6aff 64deg,#399dfe 68deg,#18e7f5 72deg,#08f3e3 78deg,#17e8f4 84deg,#3d8aff 90deg,#4060ff 94deg,#4044f2 102deg,#3f3fd2 128deg,#3f3fd3 138deg,#4040e7 148deg,#3f3fe3 152deg)"></i>
<i style="left:345.5px;top:171.5px;width:25px;height:25px;background:conic-gradient(#4040ee 28deg,#4041f0 36deg,#3f3fd9 44deg,#4040ea 54deg,#4058fe 62deg,#37a2fe 68deg,#17e8f4 72deg,#07f3e2 78deg,#16e9f3 84deg,#3d8dff 90deg,#3f63ff 94deg,#4049f5 100deg,#4040e8 108deg,#3f3fcf 134deg,#4040e9 148deg,#4040e4 152deg)"></i>
<i style="left:346.5px;top:172.5px;width:23px;height:23px;background:conic-gradient(#4040ef 28deg,#4041f1 36deg,#3f3fda 44deg,#4040eb 54deg,#405aff 62deg,#35a6fd 68deg,#17e9f3 72deg,#07f4e1 78deg,#15eaf2 84deg,#22d2f8 86deg,#3c90ff 90deg,#4057fd 96deg,#4040ec 106deg,#3f3fd1 130deg,#3f3fd3 138deg,#4040ea 146deg,#4040e5 152deg)"></i>
<i style="left:347.5px;top:173.5px;width:21px;height:21px;background:conic-gradient(#4040f0 28deg,#4042f1 36deg,#3f3fda 44deg,#4043f2 56deg,#405cff 62deg,#3d8aff 66deg,#16eaf2 72deg,#06f4e1 78deg,#14ebf1 84deg,#20d6f7 86deg,#3c92ff 90deg,#4058fe 96deg,#4040ed 106deg,#3f3fd1 130deg,#3f3fd9 140deg,#4040eb 148deg,#4040e6 152deg)"></i>
<i style="left:348.5px;top:174.5px;width:19px;height:19px;background:conic-gradient(#4040f0 28deg,#4042f1 36deg,#3f3fda 44deg,#4044f2 56deg,#405fff 62deg,#3d8dff 66deg,#22d2f8 70deg,#15eaf1 72deg,#06f4e0 78deg,#13ebf0 84deg,#1ed9f7 86deg,#3c95ff 90deg,#405aff 96deg,#4040ed 106deg,#3f3fd1 130deg,#3f3fd9 140deg,#4040eb 148deg,#4040e6 152deg)"></i>
<i style="left:349.5px;top:175.5px;width:17px;height:17px;background:conic-gradient(#4040f0 28deg,#4042f1 36deg,#3f3fdb 44deg,#4045f3 56deg,#3f62ff 62deg,#3c8fff 66deg,#20d5f7 70deg,#14ebf0 72deg,#05f5e0 78deg,#12ecef 84deg,#1dddf6 86deg,#3b99ff 90deg,#405cff 96deg,#4040ee 106deg,#3f3fd2 128deg,#3f3fd3 138deg,#4040eb 146deg,#4040e6 152deg)"></i>
<i style="left:350.5px;top:176.5px;width:15px;height:15px;background:conic-gradient(#4040f0 28deg,#4042f1 36deg,#3f3fdb 44deg,#4045f3 56deg,#3f63ff 62deg,#3c91ff 66deg,#20d7f7 70deg,#14ebf0 72deg,#05f5e0 78deg,#12ecee 84deg,#1cdff6 86deg,#3a9bfe 90deg,#405eff 96deg,#4040ee 106deg,#3f3fd1 130deg,#3f3fd9 140deg,#4040eb 148deg,#4040e6 152deg)"></i>
<i style="left:351.5px;top:177.5px;width:13px;height:13px;background:conic-gradient(#4040f0 28deg,#4042f1 36deg,#3f3fdb 44deg,#4046f3 56deg,#4055fc 60deg,#3c92ff 66deg,#1fd8f7 70deg,#13ebf0 72deg,#05f5df 78deg,#12ecee 84deg,#1ce0f6 86deg,#399efe 90deg,#405fff 96deg,#4040ef 106deg,#3f3fd2 128deg,#3f3fd3 138deg,#4040eb 146deg,#4040e6 152deg)"></i>
<i style="left:352.5px;top:178.5px;width:11px;height:11px;background:conic-gradient(#4040f0 28deg,#4042f1 36deg,#3f3fdb 44deg,#4046f4 56deg,#4056fd 60deg,#3c93ff 66deg,#1fd9f7 70deg,#13ebef 72deg,#05f5df 78deg,#11eded 84deg,#1be1f6 86deg,#38a0fe 90deg,#4061ff 96deg,#4044f2 104deg,#3f3fd2 128deg,#3f3fd3 138deg,#4040eb 146deg,#4040e6 152deg)"></i>
<i style="left:353.5px;top:179.5px;width:9px;height:9px;background:conic-gradient(#4040f0 28deg,#4042f1 36deg,#3f3fdb 44deg,#4040f0 54deg,#4057fd 60deg,#3c94ff 66deg,#1edaf7 70deg,#13ebef 72deg,#05f5df 78deg,#11eded 84deg,#1ae3f6 86deg,#37a2fe 90deg,#3f62ff 96deg,#4044f2 104deg,#3f3fd2 128deg,#3f3fd3 138deg,#4040eb 146deg,#4040e6 152deg)"></i>
<i style="left:354.5px;top:180.5px;width:7px;height:7px;background:conic-gradient(#4040f0 28deg,#4042f1 36deg,#3f3fdc 44deg,#4041f1 54deg,#4057fe 60deg,#3c95ff 66deg,#1edbf7 70deg,#13ecef 72deg,#05f5df 78deg,#11eded 84deg,#1ae4f5 86deg,#3d8aff 92deg,#4057fd 98deg,#4040eb 108deg,#3f3fd0 132deg,#3f3fd9 140deg,#4040eb 148deg,#4040e6 152deg)"></i>
<i style="left:355.5px;top:181.5px;width:5px;height:5px;background:conic-gradient(#4040f0 28deg,#4042f1 36deg,#3f3fdc 44deg,#4048f5 56deg,#4058fe 60deg,#3c97ff 66deg,#1dddf6 70deg,#0bf1e6 74deg,#06f4e0 80deg,#19e6f5 86deg,#3d8cff 92deg,#4057fd 98deg,#4040ec 108deg,#3f3fd1 130deg,#3f3fd9 140deg,#4040eb 148deg,#4040e6 152deg)"></i>
</div></div></div>
<div class="a" style="left:0;top:0;width:960px;height:600px;clip-path:polygon(358px 448px,488.5px 221.967px,488.5px 674.033px);"><div class="a" style="left:0;top:0;width:960px;height:600px;clip-path:circle(124.5px at 358px 448px);"><div class="dk a" style="left:0;top:0;width:960px;height:600px;filter:blur(0.9px);">
<i style="left:231.5px;top:321.5px;width:253px;height:253px;background:conic-gradient(#ffc800 28deg,#ffc800 30deg,#fafe00 40deg,#cef000 44deg,#bdeb00 48deg,#a1e200 60deg,#aee600 74deg,#d8f300 80deg,#f9fd00 84deg,#ffe000 96deg,#ffc500 106deg,#ff8900 112deg,#ef4500 122deg,#f86000 140deg,#ff7c00 152deg)"></i>
<i style="left:232.5px;top:322.5px;width:251px;height:251px;background:conic-gradient(#ffc700 28deg,#ffc700 30deg,#fcfe00 40deg,#d0f100 44deg,#beeb00 48deg,#a0e200 60deg,#ace600 74deg,#d6f300 80deg,#f7fd00 84deg,#fff300 88deg,#ffc600 106deg,#ff9800 110deg,#f35100 120deg,#ee4400 122deg,#f65a00 138deg,#ff7c00 152deg)"></i>
<i style="left:233.5px;top:323.5px;width:249px;height:249px;background:conic-gradient(#ffc700 28deg,#ffc700 30deg,#feff00 40deg,#d2f100 44deg,#bfeb00 48deg,#9ee100 60deg,#abe500 74deg,#d5f200 80deg,#fffc00 86deg,#ffe500 94deg,#ffc700 106deg,#ff8900 112deg,#ee4300 122deg,#f65a00 138deg,#ff7b00 152deg)"></i>
<i style="left:234.5px;top:324.5px;width:247px;height:247px;background:conic-gradient(#ffc600 28deg,#ffc600 30deg,#ffff00 40deg,#c6ee00 46deg,#9ce100 60deg,#a9e500 74deg,#d3f200 80deg,#fffd00 86deg,#ffe500 94deg,#ffc700 106deg,#ff8900 112deg,#ee4200 122deg,#f65900 138deg,#ff7b00 152deg)"></i>
<i style="left:235.5px;top:325.5px;width:245px;height:245px;background:conic-gradient(#ffc500 28deg,#ffc500 30deg,#fffe00 40deg,#c7ee00 46deg,#9ae000 60deg,#a7e400 74deg,#d1f100 80deg,#fffd00 86deg,#ffe600 94deg,#ffc800 106deg,#ff9900 110deg,#f75d00 118deg,#ed4100 122deg,#f55800 138deg,#ff7a00 152deg)"></i>
<i style="left:236.5px;top:326.5px;width:243px;height:243px;background:conic-gradient(#ffc400 28deg,#ffc400 30deg,#fffd00 40deg,#c9ee00 46deg,#99e000 60deg,#a5e400 74deg,#fffe00 86deg,#ffe600 94deg,#ffc900 106deg,#ff8a00 112deg,#ed4000 122deg,#f55700 138deg,#ff7a00 152deg)"></i>
<i style="left:237.5px;top:327.5px;width:241px;height:241px;background:conic-gradient(#ffc300 28deg,#ffc300 30deg,#fffc00 40deg,#caef00 46deg,#97df00 60deg,#a4e300 74deg,#cef000 80deg,#ffff00 86deg,#ffe700 94deg,#ffca00 106deg,#ff9a00 110deg,#f75c00 118deg,#ed4000 122deg,#f55600 138deg,#ff7a00 150deg,#ff7a00 152deg)"></i>
<i style="left:238.5px;top:328.5px;width:239px;height:239px;background:conic-gradient(#ffc100 28deg,#ffc100 30deg,#fffa00 40deg,#cef000 46deg,#94de00 60deg,#9fe200 74deg,#c8ee00 80deg,#f9fd00 86deg,#ffe300 98deg,#ffcd00 106deg,#ff8b00 112deg,#ec3d00 122deg,#f45500 138deg,#ff7900 150deg,#ff7900 152deg)"></i>
<i style="left:239.5px;top:329.5px;width:237px;height:237px;background:conic-gradient(#ffbf00 28deg,#ffbf00 30deg,#fff800 40deg,#f7fd00 42deg,#d2f100 46deg,#90dd00 60deg,#9ae000 74deg,#d2f100 82deg,#fffd00 88deg,#ffd000 106deg,#ff8b00 112deg,#eb3b00 122deg,#f45300 138deg,#ff7800 150deg,#ff7800 152deg)"></i>
<i style="left:240.5px;top:330.5px;width:235px;height:235px;background:conic-gradient(#ffbd00 28deg,#ffbd00 30deg,#fcfe00 42deg,#d6f300 46deg,#8ddc00 60deg,#96df00 74deg,#bdeb00 80deg,#fdfe00 88deg,#ffe100 100deg,#ffd300 106deg,#ff9e00 110deg,#f65900 118deg,#ea3800 122deg,#f35200 138deg,#ff7700 150deg,#ff7700 152deg)"></i>
<i style="left:241.5px;top:331.5px;width:233px;height:233px;background:conic-gradient(#ffbb00 28deg,#ffbb00 30deg,#ffff00 42deg,#cff000 48deg,#89db00 60deg,#91de00 74deg,#b8e900 80deg,#f6fc00 88deg,#fff700 92deg,#ffe400 100deg,#ffd600 106deg,#ffa000 110deg,#f55700 118deg,#e93600 122deg,#f35000 138deg,#ff7700 150deg,#ff7700 152deg)"></i>
<i style="left:242.5px;top:332.5px;width:231px;height:231px;background:conic-gradient(#ffb900 28deg,#ffb900 30deg,#fffc00 42deg,#b8e900 52deg,#84da00 60deg,#8cdc00 74deg,#b2e800 80deg,#fffe00 90deg,#ffe700 100deg,#ffd900 106deg,#ffa100 110deg,#f55600 118deg,#e83400 122deg,#f24f00 138deg,#ff7600 150deg,#ff7600 152deg)"></i>
<i style="left:243.5px;top:333.5px;width:229px;height:229px;background:conic-gradient(#ffb700 28deg,#ffb700 30deg,#fffa00 42deg,#c7ee00 50deg,#80d900 60deg,#86db00 74deg,#d9f400 86deg,#fafe00 90deg,#ffea00 100deg,#ffdc00 106deg,#ffa200 110deg,#fb6700 116deg,#e83100 122deg,#f14d00 138deg,#ff7500 150deg,#ff7500 152deg)"></i>
<i style="left:244.5px;top:334.5px;width:227px;height:227px;background:conic-gradient(#ffb500 28deg,#ffb500 30deg,#fff800 42deg,#f8fd00 44deg,#7cd800 60deg,#81d900 74deg,#d3f200 86deg,#f4fc00 90deg,#fff900 96deg,#ffe100 104deg,#ffdf00 106deg,#ffa400 110deg,#fa6600 116deg,#e72f00 122deg,#f14c00 138deg,#ff7500 150deg,#ff7500 152deg)"></i>
<i style="left:245.5px;top:335.5px;width:225px;height:225px;background:conic-gradient(#ffb300 28deg,#ffb300 30deg,#fdfe00 44deg,#77d700 60deg,#7bd800 74deg,#ddf500 88deg,#f5fc00 92deg,#fff900 98deg,#ffe400 104deg,#ffe200 106deg,#ffa500 110deg,#fa6600 116deg,#e62d00 122deg,#f04a00 138deg,#ff7400 150deg,#ff7400 152deg)"></i>
<i style="left:246.5px;top:336.5px;width:223px;height:223px;background:conic-gradient(#ffb100 28deg,#ffb100 30deg,#fffe00 44deg,#73d600 60deg,#75d600 74deg,#9ce100 80deg,#e7f800 90deg,#fffc00 98deg,#ffe800 102deg,#ffe500 106deg,#ffa600 110deg,#fa6500 116deg,#e32b01 122deg,#f04800 138deg,#ff7300 150deg,#ff7300 152deg)"></i>
<i style="left:247.5px;top:337.5px;width:221px;height:221px;background:conic-gradient(#ffaf00 28deg,#ffaf00 30deg,#fffc00 44deg,#85da00 58deg,#6fd500 60deg,#6fd500 74deg,#96df00 80deg,#e1f600 90deg,#ffff00 98deg,#ffeb00 102deg,#ffe800 106deg,#ffa800 110deg,#fa6400 116deg,#e12a01 122deg,#ed4000 136deg,#ff7300 150deg,#ff7300 152deg)"></i>
<i style="left:248.5px;top:338.5px;width:219px;height:219px;background:conic-gradient(#ffad00 28deg,#ffad00 30deg,#fff900 44deg,#e3f700 48deg,#6bd400 60deg,#69d300 74deg,#82d900 78deg,#dbf400 90deg,#f9fd00 98deg,#ffec00 104deg,#ffeb00 106deg,#ffa900 110deg,#fa6400 116deg,#df2902 122deg,#ec3e00 136deg,#ff7200 150deg,#ff7200 152deg)"></i>
<i style="left:249.5px;top:339.5px;width:217px;height:217px;background:conic-gradient(#ffab00 28deg,#ffab00 30deg,#fafe00 46deg,#7fd900 58deg,#66d300 60deg,#63d200 74deg,#7bd800 78deg,#d5f200 90deg,#fffb00 100deg,#ffef00 104deg,#ffee00 106deg,#ffab00 110deg,#f96300 116deg,#dd2702 122deg,#eb3c00 136deg,#fe7200 150deg,#fe7200 152deg)"></i>
<i style="left:250.5px;top:340.5px;width:215px;height:215px;background:conic-gradient(#ffa800 28deg,#ffa800 30deg,#feff00 46deg,#7cd800 58deg,#62d200 60deg,#5dd000 74deg,#84da00 80deg,#cef000 90deg,#edf900 98deg,#fffe00 100deg,#fff200 104deg,#fff100 106deg,#ffac00 110deg,#f96300 116deg,#db2603 122deg,#eb3b00 136deg,#fe7100 150deg,#fe7100 152deg)"></i>
<i style="left:251.5px;top:341.5px;width:213px;height:213px;background:conic-gradient(#ffa600 28deg,#ffa600 30deg,#fffd00 46deg,#7ad700 58deg,#5ed000 60deg,#57cf00 74deg,#7dd800 80deg,#c8ee00 90deg,#e7f800 98deg,#fcfe00 100deg,#fff400 104deg,#fff400 106deg,#ffad00 110deg,#f96200 116deg,#e93500 120deg,#d82404 122deg,#ea3900 136deg,#fe7000 150deg,#fe7000 152deg)"></i>
<i style="left:252.5px;top:342.5px;width:211px;height:211px;background:conic-gradient(#ffa400 28deg,#ffa400 30deg,#fffb00 46deg,#c1ec00 52deg,#59cf00 60deg,#51cd00 74deg,#67d300 78deg,#c2ec00 90deg,#e1f600 98deg,#f7fc00 100deg,#fff700 104deg,#fff700 106deg,#ffaf00 110deg,#f96200 116deg,#e83300 120deg,#d62304 122deg,#ea3700 136deg,#fe7000 150deg,#fe7000 152deg)"></i>
<i style="left:253.5px;top:343.5px;width:209px;height:209px;background:conic-gradient(#ffa200 28deg,#ffa200 30deg,#fff900 46deg,#f2fb00 48deg,#74d600 58deg,#55ce00 60deg,#4ccc00 74deg,#61d100 78deg,#bbea00 90deg,#daf400 98deg,#fffa00 102deg,#fffa00 106deg,#ffb000 110deg,#f96100 116deg,#e83100 120deg,#d42205 122deg,#e93500 136deg,#fe6f00 150deg,#fe6f00 152deg)"></i>
<i style="left:254.5px;top:344.5px;width:207px;height:207px;background:conic-gradient(#ffa000 28deg,#ffa000 30deg,#fff700 46deg,#f5fc00 48deg,#71d500 58deg,#51cd00 60deg,#46ca00 74deg,#5ad000 78deg,#b5e900 90deg,#d4f200 98deg,#fffd00 102deg,#fffd00 106deg,#ffb100 110deg,#f86000 116deg,#e72f00 120deg,#d22005 122deg,#e83400 136deg,#fd6f00 150deg,#fd6f00 152deg)"></i>
<i style="left:255.5px;top:345.5px;width:205px;height:205px;background:conic-gradient(#ff9e00 28deg,#ff9e00 30deg,#fff500 46deg,#f8fd00 48deg,#6ed400 58deg,#4dcc00 60deg,#40c900 74deg,#54ce00 78deg,#afe700 90deg,#cef000 98deg,#feff00 102deg,#feff00 106deg,#ffb300 110deg,#f86000 116deg,#e62e00 120deg,#d01f06 122deg,#e83200 136deg,#fd6e00 150deg,#fd6e00 152deg)"></i>
<i style="left:256.5px;top:346.5px;width:203px;height:203px;background:conic-gradient(#ff9c00 28deg,#ff9c00 30deg,#fbfe00 48deg,#8ddc00 56deg,#48cb00 60deg,#3ac700 74deg,#5bd000 80deg,#a9e500 90deg,#c8ee00 98deg,#f9fd00 102deg,#f8fd00 106deg,#ff9700 112deg,#f85f00 116deg,#e52c00 120deg,#ce1d07 122deg,#e73000 136deg,#fd6d00 150deg,#fd6d00 152deg)"></i>
<i style="left:257.5px;top:347.5px;width:201px;height:201px;background:conic-gradient(#ff9a00 28deg,#ff9a00 30deg,#feff00 48deg,#8cdc00 56deg,#44ca00 60deg,#34c600 74deg,#47cb00 78deg,#7fd900 86deg,#a2e300 90deg,#c2ed00 98deg,#f5fc00 102deg,#f2fb00 106deg,#ffde00 108deg,#ffb500 110deg,#f85f00 116deg,#e32b01 120deg,#cb1c07 122deg,#e72f00 136deg,#fd6d00 150deg,#fd6d00 152deg)"></i>
<i style="left:258.5px;top:348.5px;width:199px;height:199px;background:conic-gradient(#ff9800 28deg,#ff9800 30deg,#ffee00 46deg,#fffe00 48deg,#8adc00 56deg,#40c900 60deg,#2ec500 74deg,#40c900 78deg,#77d700 86deg,#9ce100 90deg,#bceb00 98deg,#f0fa00 102deg,#edf900 106deg,#ffe000 108deg,#ff9800 112deg,#f75e00 116deg,#e22a01 120deg,#c91b08 122deg,#e62d00 136deg,#fd6c00 150deg,#fd6c00 152deg)"></i>
<i style="left:259.5px;top:349.5px;width:197px;height:197px;background:conic-gradient(#ff9600 28deg,#ff9600 30deg,#ffec00 46deg,#fffc00 48deg,#88db00 56deg,#3bc800 60deg,#28c300 74deg,#46ca00 80deg,#6fd500 86deg,#96df00 90deg,#b6e900 98deg,#ebf900 102deg,#e7f800 106deg,#ffe300 108deg,#ffb800 110deg,#ff7a00 114deg,#e02902 120deg,#c71908 122deg,#e42c00 136deg,#fc6c00 150deg,#fc6c00 152deg)"></i>
<i style="left:260.5px;top:350.5px;width:195px;height:195px;background:conic-gradient(#ff9400 28deg,#ff9400 30deg,#ffea00 46deg,#fffb00 48deg,#a8e400 54deg,#37c700 60deg,#22c200 74deg,#3fc900 80deg,#67d300 86deg,#90dd00 90deg,#b0e700 98deg,#e6f700 102deg,#e1f600 106deg,#ffe500 108deg,#ffb900 110deg,#ff7a00 114deg,#de2802 120deg,#c51809 122deg,#e32b01 136deg,#fc6b00 150deg,#fc6b00 152deg)"></i>
<i style="left:261.5px;top:351.5px;width:193px;height:193px;background:conic-gradient(#ff9200 28deg,#ff9200 30deg,#ffe800 46deg,#fff900 48deg,#e9f800 50deg,#85da00 56deg,#33c600 60deg,#1cc000 74deg,#44ca00 82deg,#74d600 88deg,#89db00 90deg,#aae500 98deg,#e1f600 102deg,#dbf400 106deg,#ffe700 108deg,#ffbb00 110deg,#ff7a00 114deg,#dd2702 120deg,#c3170a 122deg,#e83100 138deg,#fc6a00 150deg,#fc6a00 152deg)"></i>
<i style="left:262.5px;top:352.5px;width:191px;height:191px;background:conic-gradient(#ff9200 28deg,#ff9c00 32deg,#ffe600 46deg,#fff800 48deg,#ecf900 50deg,#89db00 56deg,#37c700 60deg,#1abf00 74deg,#28c300 78deg,#58cf00 86deg,#88db00 92deg,#a1e300 98deg,#daf400 102deg,#ddf500 106deg,#ffe500 108deg,#ffb800 110deg,#ff7700 114deg,#db2603 120deg,#c1160a 122deg,#e12a01 136deg,#fc6a00 150deg,#fc6a00 152deg)"></i>
<i style="left:263.5px;top:353.5px;width:189px;height:189px;background:conic-gradient(#ff9100 28deg,#ff9100 30deg,#ffe500 46deg,#fff600 48deg,#f0fa00 50deg,#8ddc00 56deg,#3bc800 60deg,#18bf00 74deg,#24c200 78deg,#50cd00 86deg,#7cd800 92deg,#99e000 98deg,#d3f200 102deg,#dff500 106deg,#ffe300 108deg,#ffb500 110deg,#ff7400 114deg,#da2503 120deg,#c0150a 122deg,#e73000 138deg,#fc6a00 150deg,#fc6a00 152deg)"></i>
<i style="left:264.5px;top:354.5px;width:187px;height:187px;background:conic-gradient(#ff9100 28deg,#ff9b00 32deg,#ffe300 46deg,#fff400 48deg,#f3fb00 50deg,#90dd00 56deg,#3fc900 60deg,#15be00 74deg,#2ac300 80deg,#90dd00 98deg,#cdf000 102deg,#e1f600 106deg,#ffe100 108deg,#ffb200 110deg,#ff7200 114deg,#eb3a00 118deg,#bf140b 122deg,#e73000 138deg,#fc6a00 150deg,#fc6a00 152deg)"></i>
<i style="left:265.5px;top:355.5px;width:185px;height:185px;background:conic-gradient(#ff9000 28deg,#ff9000 30deg,#ffe100 46deg,#f6fc00 50deg,#94de00 56deg,#43ca00 60deg,#14be01 74deg,#1cc000 78deg,#5bd000 90deg,#86da00 98deg,#c6ee00 102deg,#e3f700 106deg,#ffdf00 108deg,#ffae00 110deg,#fe7000 114deg,#ea3800 118deg,#be130b 122deg,#e72f00 138deg,#fc6a00 150deg,#fc6a00 152deg)"></i>
<i style="left:266.5px;top:356.5px;width:183px;height:183px;background:conic-gradient(#ff9000 28deg,#ff9a00 32deg,#ffe000 46deg,#f9fd00 50deg,#70d500 58deg,#47cb00 60deg,#13be02 74deg,#20c100 80deg,#7bd800 98deg,#bfec00 102deg,#e5f700 106deg,#ffdd00 108deg,#ffab00 110deg,#fd6d00 114deg,#e93700 118deg,#bc130b 122deg,#de2802 136deg,#fc6a00 150deg,#fc6a00 152deg)"></i>
<i style="left:267.5px;top:357.5px;width:181px;height:181px;background:conic-gradient(#ff9000 28deg,#ff9900 32deg,#ffde00 46deg,#fdfe00 50deg,#74d600 58deg,#4bcc00 60deg,#13bf03 74deg,#1cc000 80deg,#5ad000 94deg,#70d500 98deg,#b8e900 102deg,#e7f800 106deg,#ffdb00 108deg,#ffa800 110deg,#fc6b00 114deg,#e93500 118deg,#bb120c 122deg,#e62e00 138deg,#fc6a00 150deg,#fc6a00 152deg)"></i>
<i style="left:268.5px;top:358.5px;width:179px;height:179px;background:conic-gradient(#ff8f00 28deg,#ff9900 32deg,#ffdc00 46deg,#ffff00 50deg,#79d700 58deg,#4fcd00 60deg,#15be00 72deg,#17bf00 80deg,#44ca00 92deg,#65d200 98deg,#b1e700 102deg,#e9f800 106deg,#ffda00 108deg,#ffa500 110deg,#f24e00 116deg,#e83300 118deg,#ba110c 122deg,#e62d00 138deg,#fc6a00 150deg,#fc6a00 152deg)"></i>
<i style="left:269.5px;top:359.5px;width:177px;height:177px;background:conic-gradient(#ff8f00 28deg,#ff9800 32deg,#ffdb00 46deg,#fffd00 50deg,#7dd800 58deg,#54ce00 60deg,#14be00 72deg,#13bf04 78deg,#2dc400 90deg,#5ad000 98deg,#abe500 102deg,#ebf900 106deg,#ffd800 108deg,#ffa200 110deg,#fb6700 114deg,#e73100 118deg,#b9100c 122deg,#dd2703 136deg,#fc6a00 150deg,#fc6a00 152deg)"></i>
<i style="left:270.5px;top:360.5px;width:175px;height:175px;background:conic-gradient(#ff8f00 28deg,#ff9800 32deg,#ffd900 46deg,#fffb00 50deg,#c5ed00 54deg,#58cf00 60deg,#14be01 72deg,#12bf06 78deg,#22c100 90deg,#4fcd00 98deg,#a4e300 102deg,#edfa00 106deg,#ffd600 108deg,#ff9f00 110deg,#f04a00 116deg,#e72f00 118deg,#b70f0d 122deg,#e52d00 138deg,#fc6a00 150deg,#fc6a00 152deg)"></i>
<i style="left:271.5px;top:361.5px;width:173px;height:173px;background:conic-gradient(#ff8e00 28deg,#ff9700 32deg,#ffd700 46deg,#fff900 50deg,#e9f800 52deg,#85da00 58deg,#5cd000 60deg,#13be02 72deg,#11c008 78deg,#16bf00 90deg,#44ca00 98deg,#effa00 106deg,#ffd400 108deg,#ff9c00 110deg,#f04800 116deg,#e62d00 118deg,#b60f0d 122deg,#db2603 136deg,#f45600 146deg,#fc6a00 150deg,#fc6a00 152deg)"></i>
<i style="left:272.5px;top:362.5px;width:171px;height:171px;background:conic-gradient(#ff8e00 28deg,#ff9600 32deg,#ffd500 46deg,#fff800 50deg,#ecf900 52deg,#89db00 58deg,#60d100 60deg,#13bf03 72deg,#11c00a 78deg,#16bf00 92deg,#39c700 98deg,#f1fb00 106deg,#ffd200 108deg,#ff9900 110deg,#f86000 114deg,#e52c00 118deg,#b50e0d 122deg,#db2603 136deg,#fc6a00 150deg,#fc6a00 152deg)"></i>
<i style="left:273.5px;top:363.5px;width:169px;height:169px;background:conic-gradient(#ff8d00 28deg,#ff9600 32deg,#ffd400 46deg,#fff600 50deg,#effa00 52deg,#8ddc00 58deg,#64d200 60deg,#13bf03 72deg,#10c10c 78deg,#13bf04 92deg,#2ec500 98deg,#f3fb00 106deg,#ffd000 108deg,#ff9600 110deg,#f75e00 114deg,#e32b01 118deg,#b40d0e 122deg,#e42c01 138deg,#fc6a00 150deg,#fc6a00 152deg)"></i>
<i style="left:274.5px;top:364.5px;width:167px;height:167px;background:conic-gradient(#ff8d00 28deg,#ff9500 32deg,#ffd200 46deg,#fff400 50deg,#f3fb00 52deg,#90dd00 58deg,#68d300 60deg,#1bc000 70deg,#0fc10e 78deg,#0fc210 90deg,#18bf00 96deg,#24c200 98deg,#f5fc00 106deg,#ffce00 108deg,#ff9200 110deg,#f75b00 114deg,#e12a01 118deg,#b20c0e 122deg,#e32b01 138deg,#fc6a00 150deg,#fc6a00 152deg)"></i>
<i style="left:275.5px;top:365.5px;width:165px;height:165px;background:conic-gradient(#ff8d00 28deg,#ff9500 32deg,#ffd000 46deg,#fff300 50deg,#f6fc00 52deg,#6cd400 60deg,#1ac000 70deg,#0ec211 76deg,#0ec312 88deg,#0fc210 92deg,#19bf00 98deg,#7fd900 102deg,#f7fc00 106deg,#ffcd00 108deg,#ff8f00 110deg,#f65900 114deg,#e02902 118deg,#b10b0e 122deg,#d92504 136deg,#f04a00 144deg,#fc6a00 150deg,#fc6a00 152deg)"></i>
<i style="left:276.5px;top:366.5px;width:163px;height:163px;background:conic-gradient(#ff8c00 28deg,#ff9400 32deg,#ffcf00 46deg,#f9fd00 52deg,#70d500 60deg,#1abf00 70deg,#0ec212 78deg,#0cc417 88deg,#0dc315 92deg,#13bf03 98deg,#77d700 102deg,#f9fd00 106deg,#ffcb00 108deg,#ff8c00 110deg,#f55700 114deg,#de2802 118deg,#b00b0f 122deg,#e22b01 138deg,#fc6a00 150deg,#fc6a00 152deg)"></i>
<i style="left:277.5px;top:367.5px;width:161px;height:161px;background:conic-gradient(#ff8c00 28deg,#ff9b00 34deg,#ffcd00 46deg,#fcfe00 52deg,#74d600 60deg,#19bf00 70deg,#0dc314 76deg,#0dc416 86deg,#09c621 90deg,#11c009 98deg,#39c700 100deg,#6ed500 102deg,#fbfe00 106deg,#ffc900 108deg,#ff8900 110deg,#eb3b00 116deg,#af0a10 122deg,#d82404 136deg,#f45400 146deg,#fc6a00 150deg,#fc6a00 152deg)"></i>
<i style="left:278.5px;top:368.5px;width:159px;height:159px;background:conic-gradient(#ff8b00 28deg,#ff9a00 34deg,#ffcb00 46deg,#ffff00 52deg,#78d700 60deg,#19bf00 70deg,#0dc316 76deg,#0bc51a 86deg,#07c827 90deg,#0fc20e 98deg,#2fc500 100deg,#66d200 102deg,#fdfe00 106deg,#ff8600 110deg,#ea3900 116deg,#b00b12 122deg,#d72404 136deg,#f04900 144deg,#fc6a00 150deg,#fc6a00 152deg)"></i>
<i style="left:279.5px;top:369.5px;width:157px;height:157px;background:conic-gradient(#ff8b00 28deg,#ff9900 34deg,#ffca00 46deg,#fffd00 52deg,#7cd800 60deg,#18bf00 70deg,#0cc417 76deg,#0ac51e 86deg,#05c92d 90deg,#0dc314 98deg,#25c200 100deg,#5dd000 102deg,#ffff00 106deg,#ff8300 110deg,#ea3700 116deg,#b10c15 122deg,#d72304 136deg,#f04900 144deg,#fc6a00 150deg,#fc6a00 152deg)"></i>
<i style="left:280.5px;top:370.5px;width:155px;height:155px;background:conic-gradient(#ff8b00 28deg,#ff9f00 36deg,#ffc800 46deg,#fffb00 52deg,#a4e300 58deg,#80d900 60deg,#17bf00 70deg,#0cc419 76deg,#09c622 86deg,#03cb32 90deg,#0cc419 98deg,#1bc000 100deg,#55ce00 102deg,#b0e700 104deg,#fffe00 106deg,#ff8000 110deg,#e93500 116deg,#c1160a 120deg,#b10d17 122deg,#c81a08 132deg,#e83200 140deg,#fc6a00 150deg,#fc6a00 152deg)"></i>
<i style="left:281.5px;top:371.5px;width:153px;height:153px;background:conic-gradient(#ff8a00 28deg,#ff9e00 36deg,#ffc600 46deg,#fffa00 52deg,#e9f800 54deg,#84da00 60deg,#17bf00 70deg,#0bc51b 76deg,#08c725 86deg,#01cc38 90deg,#0ac61f 98deg,#14be01 100deg,#4ccc00 102deg,#aee600 104deg,#fffd00 106deg,#ff7d00 110deg,#e83300 116deg,#c0150a 120deg,#b20d19 122deg,#b60e0d 126deg,#e02902 138deg,#fc6a00 150deg,#fc6a00 152deg)"></i>
<i style="left:282.5px;top:372.5px;width:151px;height:151px;background:conic-gradient(#ff8a00 28deg,#ff9d00 36deg,#ffc400 46deg,#fff800 52deg,#ecf900 54deg,#89db00 60deg,#16bf00 70deg,#0bc51c 76deg,#06c829 86deg,#00ce3f 90deg,#08c724 98deg,#12c006 100deg,#44ca00 102deg,#abe600 104deg,#fffc00 106deg,#ff7a00 110deg,#e83100 116deg,#be140b 120deg,#b30e1c 122deg,#b50e0d 126deg,#df2902 138deg,#fc6a00 150deg,#fc6a00 152deg)"></i>
<i style="left:283.5px;top:373.5px;width:149px;height:149px;background:conic-gradient(#ff8f00 28deg,#ffa700 38deg,#ffc600 46deg,#fff900 52deg,#ebf900 54deg,#89db00 60deg,#14be01 70deg,#09c620 76deg,#04ca2f 86deg,#00d047 90deg,#07c826 98deg,#12c006 100deg,#47cb00 102deg,#ade600 104deg,#fffc00 106deg,#ff7800 110deg,#e83100 116deg,#bf140b 120deg,#b20d19 122deg,#b60e0d 126deg,#e83200 140deg,#fc6b00 150deg,#fc6b00 152deg)"></i>
<i style="left:284.5px;top:374.5px;width:147px;height:147px;background:conic-gradient(#ff9300 28deg,#ffb100 40deg,#ffc800 46deg,#fffa00 52deg,#caef00 56deg,#71d500 62deg,#13bf03 70deg,#08c724 76deg,#03cb34 86deg,#00d34f 90deg,#07c828 98deg,#12c006 100deg,#4bcc00 102deg,#aee600 104deg,#fffc00 106deg,#ff7600 110deg,#e83100 116deg,#c0150a 120deg,#b10d17 122deg,#bd130b 128deg,#e22a01 138deg,#fc6c00 150deg,#fc6c00 152deg)"></i>
<i style="left:285.5px;top:375.5px;width:145px;height:145px;background:conic-gradient(#ff9800 28deg,#ffbf00 44deg,#fffb00 52deg,#c9ef00 56deg,#57cf00 64deg,#23c200 68deg,#12bf06 70deg,#07c828 76deg,#01cc39 86deg,#00d558 90deg,#03cb32 96deg,#06c92a 98deg,#12c007 100deg,#4ecc00 102deg,#afe700 104deg,#fffc00 106deg,#ff7500 110deg,#e83100 116deg,#b10c15 122deg,#d92404 136deg,#f55600 146deg,#fd6c00 150deg,#fd6c00 152deg)"></i>
<i style="left:286.5px;top:376.5px;width:143px;height:143px;background:conic-gradient(#ff9d00 28deg,#ffc200 44deg,#fffc00 52deg,#1fc100 68deg,#0dc316 72deg,#05c92c 76deg,#00cf41 86deg,#00d860 90deg,#00ce3e 94deg,#05c92c 98deg,#12c007 100deg,#51cd00 102deg,#b1e700 104deg,#fffc00 106deg,#ff7300 110deg,#e83100 116deg,#b00b12 122deg,#e42c01 138deg,#fd6d00 150deg,#fd6d00 152deg)"></i>
<i style="left:287.5px;top:377.5px;width:141px;height:141px;background:conic-gradient(#ffa100 28deg,#ffce00 46deg,#fffd00 52deg,#1bc000 68deg,#04ca30 76deg,#00cf41 84deg,#00da68 90deg,#02cc37 96deg,#05ca2e 98deg,#12c007 100deg,#54ce00 102deg,#b2e800 104deg,#fffc00 106deg,#ff7200 110deg,#e83100 116deg,#af0a10 122deg,#e52c00 138deg,#fd6e00 150deg,#fd6e00 152deg)"></i>
<i style="left:288.5px;top:378.5px;width:139px;height:139px;background:conic-gradient(#ffa600 28deg,#ffc600 44deg,#fffd00 52deg,#18bf00 68deg,#03cb34 76deg,#00d24c 84deg,#00dd70 90deg,#01cc3a 96deg,#04ca30 98deg,#12c007 100deg,#58cf00 102deg,#b3e800 104deg,#fffc00 106deg,#fe7100 110deg,#e83100 116deg,#b00b0f 122deg,#e62d00 138deg,#fd6f00 150deg,#fd6f00 152deg)"></i>
<i style="left:289.5px;top:379.5px;width:137px;height:137px;background:conic-gradient(#ffab00 28deg,#ffc800 44deg,#fffe00 52deg,#14be00 68deg,#02cc37 76deg,#00dc6c 88deg,#00df78 90deg,#00cd3d 96deg,#03cb32 98deg,#12c007 100deg,#5bd000 102deg,#b5e800 104deg,#fffc00 106deg,#fe6f00 110deg,#e83100 116deg,#b10b0e 122deg,#e72e00 138deg,#fe6f00 150deg,#fe6f00 152deg)"></i>
<i style="left:290.5px;top:380.5px;width:135px;height:135px;background:conic-gradient(#ffaf00 28deg,#ffd300 46deg,#feff00 52deg,#50cd00 64deg,#13be02 68deg,#00cd3b 76deg,#00e180 90deg,#03cb34 98deg,#11c008 100deg,#5ed100 102deg,#b6e900 104deg,#fffc00 106deg,#fd6e00 110deg,#e83100 116deg,#b20c0e 122deg,#e73000 138deg,#fe7000 150deg,#fe7000 152deg)"></i>
<i style="left:291.5px;top:381.5px;width:133px;height:133px;background:conic-gradient(#ffb400 28deg,#ffd500 46deg,#fdfe00 52deg,#6fd500 62deg,#13bf03 68deg,#00d24d 78deg,#00e488 90deg,#02cc36 98deg,#11c008 100deg,#b7e900 104deg,#fffc00 106deg,#fd6c00 110deg,#e83100 116deg,#b40d0e 122deg,#e73100 138deg,#fe7100 150deg,#fe7100 152deg)"></i>
<i style="left:292.5px;top:382.5px;width:131px;height:131px;background:conic-gradient(#ffb900 28deg,#ffd700 46deg,#fbfe00 52deg,#6fd500 62deg,#12bf05 68deg,#00d14a 76deg,#00e489 88deg,#00e690 90deg,#01cc38 98deg,#11c008 100deg,#b9ea00 104deg,#fffc00 106deg,#fc6b00 110deg,#e83100 116deg,#b50e0d 122deg,#e83200 138deg,#fe7100 150deg,#fe7100 152deg)"></i>
<i style="left:293.5px;top:383.5px;width:129px;height:129px;background:conic-gradient(#ffbd00 28deg,#ffd900 46deg,#f9fd00 52deg,#90dd00 60deg,#29c300 66deg,#12c007 68deg,#00d352 76deg,#00e58c 86deg,#00e898 90deg,#01cd3a 98deg,#11c008 100deg,#baea00 104deg,#fffc00 106deg,#fc6a00 110deg,#e83100 116deg,#b60f0d 122deg,#e83300 138deg,#ff7200 150deg,#ff7200 152deg)"></i>
<i style="left:294.5px;top:384.5px;width:127px;height:127px;background:conic-gradient(#ffc200 28deg,#ffd300 44deg,#fff600 50deg,#f7fd00 52deg,#91de00 60deg,#27c300 66deg,#11c009 68deg,#00d659 76deg,#00e896 86deg,#00ea9f 90deg,#00cd3d 98deg,#11c008 100deg,#bbea00 104deg,#fffc00 106deg,#fb6800 110deg,#e83100 116deg,#b70f0d 122deg,#e32b01 136deg,#ff7300 150deg,#ff7300 152deg)"></i>
<i style="left:295.5px;top:385.5px;width:125px;height:125px;background:conic-gradient(#ffc600 28deg,#ffd500 44deg,#fff700 50deg,#f6fc00 52deg,#92de00 60deg,#24c200 66deg,#11c10a 68deg,#00d148 74deg,#00d861 76deg,#00eaa0 86deg,#00eca6 90deg,#00ce41 98deg,#11c009 100deg,#6ed500 102deg,#bceb00 104deg,#fffc00 106deg,#fb6700 110deg,#e83100 116deg,#b9100c 122deg,#e52c00 136deg,#ff7300 150deg,#ff7300 152deg)"></i>
<i style="left:296.5px;top:386.5px;width:123px;height:123px;background:conic-gradient(#ffca00 28deg,#ffd700 44deg,#fff800 50deg,#f4fc00 52deg,#92de00 60deg,#22c100 66deg,#10c10c 68deg,#03cb32 72deg,#00da69 76deg,#00eba2 84deg,#00eead 90deg,#00d045 98deg,#11c009 100deg,#72d500 102deg,#beeb00 104deg,#fffc00 106deg,#fa6600 110deg,#e83100 116deg,#ba110c 122deg,#e62d00 136deg,#ff7400 150deg,#ff7400 152deg)"></i>
<i style="left:297.5px;top:387.5px;width:121px;height:121px;background:conic-gradient(#ffce00 28deg,#ffe100 46deg,#fff900 50deg,#f2fb00 52deg,#93de00 60deg,#1fc100 66deg,#09c622 70deg,#02cb35 72deg,#00dd70 76deg,#00edac 84deg,#00efb5 90deg,#00d149 98deg,#11c009 100deg,#75d600 102deg,#fffc00 106deg,#fa6400 110deg,#e83100 116deg,#bb120c 122deg,#e62e00 136deg,#ff7500 150deg,#ff7500 152deg)"></i>
<i style="left:298.5px;top:388.5px;width:119px;height:119px;background:conic-gradient(#ffd200 28deg,#ffdc00 44deg,#fffb00 50deg,#d9f300 54deg,#94de00 60deg,#1dc000 66deg,#01cc38 72deg,#00df78 76deg,#00efb5 84deg,#00f1bc 88deg,#00f1bc 90deg,#00d24d 98deg,#11c009 100deg,#78d700 102deg,#fffc00 106deg,#f96300 110deg,#e83100 116deg,#bc130b 122deg,#e72f00 136deg,#ff7600 150deg,#ff7600 152deg)"></i>
<i style="left:299.5px;top:389.5px;width:117px;height:117px;background:conic-gradient(#ffd600 28deg,#ffe400 46deg,#fffc00 50deg,#94df00 60deg,#1ac000 66deg,#00cd3b 72deg,#00d963 74deg,#00e180 76deg,#00f2bf 84deg,#00f3c5 88deg,#00f3c3 90deg,#00d351 98deg,#11c009 100deg,#7cd800 102deg,#fffc00 106deg,#f96200 110deg,#e83100 116deg,#be130b 122deg,#e73100 136deg,#ff7600 150deg,#ff7600 152deg)"></i>
<i style="left:300.5px;top:390.5px;width:115px;height:115px;background:conic-gradient(#ffda00 28deg,#ffe600 46deg,#fffd00 50deg,#95df00 60deg,#18bf00 66deg,#00ce3f 72deg,#00db69 74deg,#00e487 76deg,#00f4c9 84deg,#00f5cd 88deg,#00f4ca 90deg,#00d555 98deg,#11c00a 100deg,#7fd900 102deg,#fffc00 106deg,#f86000 110deg,#dc2603 118deg,#bf140b 122deg,#e83200 136deg,#ff7700 150deg,#ff7700 152deg)"></i>
<i style="left:301.5px;top:391.5px;width:113px;height:113px;background:conic-gradient(#ffdf00 28deg,#ffe800 46deg,#fffe00 50deg,#96df00 60deg,#15be00 66deg,#00d045 72deg,#00dd70 74deg,#00e68f 76deg,#00f6d3 84deg,#00f7d5 88deg,#00f6d2 90deg,#00d659 98deg,#11c00a 100deg,#82da00 102deg,#fffc00 106deg,#f85f00 110deg,#dc2703 118deg,#c0150a 122deg,#e83300 136deg,#ff7800 150deg,#ff7800 152deg)"></i>
<i style="left:302.5px;top:392.5px;width:111px;height:111px;background:conic-gradient(#ffe300 28deg,#ffea00 46deg,#feff00 50deg,#96df00 60deg,#14be00 66deg,#00d14b 72deg,#00df77 74deg,#00e896 76deg,#01f7db 84deg,#00f8d9 90deg,#00d75d 98deg,#11c10a 100deg,#85da00 102deg,#fffc00 106deg,#f75e00 110deg,#e83100 116deg,#c1160a 122deg,#e93500 136deg,#ff7900 150deg,#ff7900 152deg)"></i>
<i style="left:303.5px;top:393.5px;width:109px;height:109px;background:conic-gradient(#ffe700 28deg,#ffec00 46deg,#fbfe00 50deg,#97df00 60deg,#13be02 66deg,#04ca2f 70deg,#00d350 72deg,#00e17d 74deg,#00ea9d 76deg,#05f5e0 84deg,#02f6dd 90deg,#00d861 98deg,#11c10a 100deg,#89db00 102deg,#fffc00 106deg,#f75c00 110deg,#dd2702 118deg,#c3170a 122deg,#e93600 136deg,#ff7a00 150deg,#ff7a00 152deg)"></i>
<i style="left:304.5px;top:394.5px;width:107px;height:107px;background:conic-gradient(#ffeb00 28deg,#ffef00 46deg,#f5fc00 50deg,#8edd00 60deg,#34c600 64deg,#12c007 66deg,#03cb34 70deg,#00e386 74deg,#00eca5 76deg,#00f8da 82deg,#09f2e4 86deg,#03f6de 90deg,#00d861 98deg,#11c008 100deg,#8fdd00 102deg,#cff000 104deg,#fff700 106deg,#f65a00 110deg,#dd2702 118deg,#c41709 122deg,#ea3800 136deg,#ff7d00 150deg,#ff7d00 152deg)"></i>
<i style="left:305.5px;top:395.5px;width:105px;height:105px;background:conic-gradient(#ffef00 28deg,#ffec00 44deg,#fffd00 48deg,#84da00 60deg,#2ac300 64deg,#10c10c 66deg,#01cc39 70deg,#00e68f 74deg,#00edad 76deg,#02f6dd 82deg,#08f3e3 88deg,#04f5df 90deg,#00e384 96deg,#00d861 98deg,#12c007 100deg,#95df00 102deg,#d7f300 104deg,#fff200 106deg,#f55800 110deg,#dd2702 118deg,#c51809 122deg,#eb3a00 136deg,#ff8000 150deg,#ff8000 152deg)"></i>
<i style="left:306.5px;top:396.5px;width:103px;height:103px;background:conic-gradient(#fff300 28deg,#fff400 46deg,#feff00 48deg,#7ad700 60deg,#20c100 64deg,#0ec211 66deg,#00ce3f 70deg,#00e898 74deg,#00efb4 76deg,#05f5df 82deg,#0defe8 86deg,#05f5e0 90deg,#00eca7 94deg,#00d861 98deg,#12bf05 100deg,#9be100 102deg,#def500 104deg,#ffed00 106deg,#f55600 110deg,#dd2802 118deg,#c61909 122deg,#e83400 134deg,#ff8300 150deg,#ff8300 152deg)"></i>
<i style="left:307.5px;top:397.5px;width:101px;height:101px;background:conic-gradient(#fff700 28deg,#fff700 46deg,#f8fd00 48deg,#8bdc00 58deg,#6fd500 60deg,#16be00 64deg,#00d149 70deg,#00eaa0 74deg,#00f1bc 76deg,#01f8db 80deg,#0feeea 86deg,#06f4e1 90deg,#00eca8 94deg,#00d861 98deg,#13bf03 100deg,#a1e200 102deg,#e6f700 104deg,#ffe800 106deg,#ff9e00 108deg,#f45400 110deg,#de2802 118deg,#c81a08 122deg,#e93600 134deg,#ff8600 150deg,#ff8600 152deg)"></i>
<i style="left:308.5px;top:398.5px;width:99px;height:99px;background:conic-gradient(#fffb00 28deg,#fff500 44deg,#fffa00 46deg,#dcf400 50deg,#65d200 60deg,#13bf04 64deg,#04ca31 68deg,#00d452 70deg,#00eca8 74deg,#00f3c4 76deg,#0af2e5 82deg,#10edec 86deg,#07f3e2 90deg,#00eca9 94deg,#00d861 98deg,#14be01 100deg,#a7e400 102deg,#eefa00 104deg,#ffe300 106deg,#ff9a00 108deg,#f35200 110deg,#de2802 118deg,#c91a08 122deg,#ea3800 134deg,#ff7e00 148deg,#ff8900 150deg,#ff8900 152deg)"></i>
<i style="left:309.5px;top:399.5px;width:97px;height:97px;background:conic-gradient(#ffff00 28deg,#fff800 44deg,#fffd00 46deg,#76d700 58deg,#5ad000 60deg,#2ec400 62deg,#11c009 64deg,#02cb36 68deg,#00eeb0 74deg,#00f5cb 76deg,#06f4e1 80deg,#12ecee 86deg,#08f3e3 90deg,#00edaa 94deg,#00d861 98deg,#15be00 100deg,#ace600 102deg,#f6fc00 104deg,#ffde00 106deg,#ff9600 108deg,#f25000 110deg,#de2802 118deg,#ca1b08 122deg,#eb3a00 134deg,#ff8c00 150deg,#ff8c00 152deg)"></i>
<i style="left:310.5px;top:400.5px;width:95px;height:95px;background:conic-gradient(#f7fc00 28deg,#fdff00 46deg,#6cd400 58deg,#4fcd00 60deg,#23c200 62deg,#0fc20e 64deg,#00cd3b 68deg,#00f0b8 74deg,#00f6d3 76deg,#14ebf1 84deg,#09f2e4 90deg,#00f5cd 92deg,#00d861 98deg,#19bf00 100deg,#b2e800 102deg,#feff00 104deg,#ffd800 106deg,#ff9200 108deg,#f24e00 110deg,#de2802 118deg,#cb1c07 122deg,#e93500 132deg,#ff8400 148deg,#ff8f00 150deg,#ff8f00 152deg)"></i>
<i style="left:311.5px;top:401.5px;width:93px;height:93px;background:conic-gradient(#effa00 28deg,#fffd00 44deg,#f8fd00 46deg,#80d900 56deg,#45ca00 60deg,#19bf00 62deg,#00cf43 68deg,#00f2c0 74deg,#00f8da 76deg,#16e9f3 86deg,#09f2e5 90deg,#00f5cf 92deg,#00d861 98deg,#1dc000 100deg,#b8e900 102deg,#fffc00 104deg,#ffd300 106deg,#ff8e00 108deg,#f14c00 110deg,#de2802 118deg,#cd1d07 122deg,#e93600 132deg,#ff8700 148deg,#ff9200 150deg,#ff9200 152deg)"></i>
<i style="left:312.5px;top:402.5px;width:91px;height:91px;background:conic-gradient(#e7f800 28deg,#fdfe00 44deg,#f3fb00 46deg,#76d700 56deg,#3ac800 60deg,#13bf03 62deg,#04ca2f 66deg,#00d24d 68deg,#00f4c8 74deg,#03f6de 76deg,#18e8f5 86deg,#0af1e6 90deg,#00f6d0 92deg,#00d861 98deg,#20c100 100deg,#beeb00 102deg,#fff800 104deg,#ffce00 106deg,#ff8a00 108deg,#f04a00 110deg,#df2802 118deg,#ce1e07 122deg,#ea3800 132deg,#ff7e00 146deg,#ff9600 150deg,#ff9600 152deg)"></i>
<i style="left:313.5px;top:403.5px;width:89px;height:89px;background:conic-gradient(#dff500 28deg,#f8fd00 44deg,#edfa00 46deg,#6dd400 56deg,#30c500 60deg,#11c008 62deg,#03cb34 66deg,#00e281 70deg,#00f6d0 74deg,#06f4e1 76deg,#1be1f6 84deg,#0bf1e7 90deg,#00f6d2 92deg,#00d861 98deg,#24c200 100deg,#c4ed00 102deg,#fff300 104deg,#ffc900 106deg,#ff8600 108deg,#f04800 110deg,#d72304 120deg,#cf1e06 122deg,#eb3a00 132deg,#ff8d00 148deg,#ff9900 150deg,#ff9900 152deg)"></i>
<i style="left:314.5px;top:404.5px;width:87px;height:87px;background:conic-gradient(#d7f300 28deg,#f2fb00 44deg,#e8f800 46deg,#63d200 56deg,#25c200 60deg,#10c10d 62deg,#01cc38 66deg,#00f8d8 74deg,#0eeeea 78deg,#18e8f5 82deg,#1edaf7 84deg,#0cf0e8 90deg,#00f6d4 92deg,#00d861 98deg,#28c300 100deg,#caef00 102deg,#ffef00 104deg,#ffc400 106deg,#ff8200 108deg,#ef4600 110deg,#d82404 120deg,#d01f06 122deg,#e93400 130deg,#ff8400 146deg,#ff9c00 150deg,#ff9c00 152deg)"></i>
<i style="left:315.5px;top:405.5px;width:85px;height:85px;background:conic-gradient(#d0f100 28deg,#edf900 44deg,#e2f600 46deg,#79d700 54deg,#1ac000 60deg,#00ce3f 66deg,#00f1ba 72deg,#03f6dd 74deg,#1be1f6 82deg,#21d4f7 84deg,#1fd9f7 86deg,#15eaf2 88deg,#0defe9 90deg,#00f7d5 92deg,#00d861 98deg,#2cc400 100deg,#d0f100 102deg,#ffeb00 104deg,#ffbe00 106deg,#ff7e00 108deg,#ee4400 110deg,#df2902 118deg,#d22006 122deg,#ec3e00 132deg,#ff8700 146deg,#ff9f00 150deg,#ff9f00 152deg)"></i>
<i style="left:316.5px;top:406.5px;width:83px;height:83px;background:conic-gradient(#c8ee00 28deg,#e7f800 44deg,#ddf500 46deg,#70d500 54deg,#13bf02 60deg,#00d149 66deg,#00f2c3 72deg,#06f4e1 74deg,#18e7f5 80deg,#24cdf8 84deg,#21d4f7 86deg,#16e9f3 88deg,#00f7d7 92deg,#00d861 98deg,#2fc500 100deg,#d6f200 102deg,#ffe700 104deg,#ffb900 106deg,#ff7a00 108deg,#ed4200 110deg,#d92503 120deg,#d32105 122deg,#ed4000 132deg,#ff8900 146deg,#ffa200 150deg,#ffa200 152deg)"></i>
<i style="left:317.5px;top:407.5px;width:81px;height:81px;background:conic-gradient(#c0ec00 28deg,#e2f600 44deg,#d7f300 46deg,#67d300 54deg,#26c200 58deg,#12c007 60deg,#03cb32 64deg,#00e07d 68deg,#00f4cb 72deg,#09f2e4 74deg,#1cdff6 80deg,#27c7f9 84deg,#23cef8 86deg,#18e8f5 88deg,#00f8d8 92deg,#00d861 98deg,#33c600 100deg,#dbf400 102deg,#ffe300 104deg,#ffb300 106deg,#ff7500 108deg,#ed4000 110deg,#da2503 120deg,#d42205 122deg,#ed4200 132deg,#ff8000 144deg,#ffa500 150deg,#ffa500 152deg)"></i>
<i style="left:318.5px;top:408.5px;width:79px;height:79px;background:conic-gradient(#b8e900 28deg,#ddf500 44deg,#d2f100 46deg,#5ed100 54deg,#1cc000 58deg,#09c622 62deg,#02cc37 64deg,#00f6d3 72deg,#16e9f3 76deg,#29c0fa 84deg,#26c9f9 86deg,#19e5f5 88deg,#00f8da 92deg,#00d861 98deg,#37c700 100deg,#e1f600 102deg,#ffdf00 104deg,#fe7200 108deg,#ec3e00 110deg,#d52205 122deg,#ee4400 132deg,#ff8f00 146deg,#ffa800 150deg,#ffa800 152deg)"></i>
<i style="left:319.5px;top:409.5px;width:77px;height:77px;background:conic-gradient(#b0e700 28deg,#d7f300 44deg,#cdf000 46deg,#77d700 52deg,#14be01 58deg,#00cd3d 64deg,#01f8db 72deg,#19e5f5 76deg,#2cbafb 84deg,#28c3f9 86deg,#1be1f6 88deg,#01f8db 92deg,#00d861 98deg,#3ac800 100deg,#e7f800 102deg,#ffdb00 104deg,#fd6e00 108deg,#eb3b00 110deg,#d72304 122deg,#ec3d00 130deg,#ff7900 142deg,#ffab00 150deg,#ffab00 152deg)"></i>
<i style="left:320.5px;top:410.5px;width:75px;height:75px;background:conic-gradient(#a9e500 28deg,#ccef00 42deg,#d2f100 44deg,#c7ee00 46deg,#6fd500 52deg,#2ac400 56deg,#12c006 58deg,#05c92c 62deg,#00d047 64deg,#00f1be 70deg,#04f5de 72deg,#1ddcf6 76deg,#2fb3fb 84deg,#2abefa 86deg,#1dddf6 88deg,#01f7dc 92deg,#00d861 98deg,#3ec800 100deg,#edfa00 102deg,#ffd700 104deg,#fc6a00 108deg,#ea3900 110deg,#d82404 122deg,#ef4700 132deg,#ff8800 144deg,#ffae00 150deg,#ffae00 152deg)"></i>
<i style="left:321.5px;top:411.5px;width:73px;height:73px;background:conic-gradient(#a1e200 28deg,#baea00 38deg,#cdf000 44deg,#c2ec00 46deg,#66d300 52deg,#21c100 56deg,#10c10b 58deg,#03ca32 62deg,#00e07a 66deg,#00f3c7 70deg,#16e9f3 74deg,#21d3f8 76deg,#32adfc 84deg,#2db9fb 86deg,#1fd9f7 88deg,#02f7dc 92deg,#00d861 98deg,#42c900 100deg,#f3fb00 102deg,#ffd300 104deg,#fb6700 108deg,#ea3700 110deg,#d92504 122deg,#f04900 132deg,#ff8b00 144deg,#ffb200 150deg,#ffb200 152deg)"></i>
<i style="left:322.5px;top:412.5px;width:71px;height:71px;background:conic-gradient(#99e000 28deg,#ade600 36deg,#c7ee00 44deg,#bceb00 46deg,#5ed100 52deg,#17bf00 56deg,#02cc37 62deg,#00f5cf 70deg,#1ae4f5 74deg,#25c9f9 76deg,#35a7fd 84deg,#2fb3fb 86deg,#20d5f7 88deg,#13ebef 90deg,#03f6dd 92deg,#00d861 98deg,#45ca00 100deg,#f9fd00 102deg,#ffcf00 104deg,#f96300 108deg,#e93500 110deg,#da2603 122deg,#f14b00 132deg,#ff8e00 144deg,#ffb500 150deg,#ffb500 152deg)"></i>
<i style="left:323.5px;top:413.5px;width:69px;height:69px;background:conic-gradient(#91de00 28deg,#9fe200 34deg,#c2ec00 44deg,#b7e900 46deg,#56ce00 52deg,#13bf03 56deg,#00cd3c 62deg,#00f7d8 70deg,#0eefea 72deg,#29c0fa 76deg,#38a0fe 84deg,#32aefc 86deg,#14ebf0 90deg,#03f6de 92deg,#00d861 98deg,#49cb00 100deg,#ffff00 102deg,#f86000 108deg,#e83300 110deg,#dc2603 122deg,#fc6b00 138deg,#ffb800 150deg,#ffb800 152deg)"></i>
<i style="left:324.5px;top:414.5px;width:67px;height:67px;background:conic-gradient(#89db00 28deg,#98e000 34deg,#bceb00 44deg,#b1e700 46deg,#29c300 54deg,#11c008 56deg,#00d046 62deg,#00f1bc 68deg,#02f6dd 70deg,#11eded 72deg,#2eb7fb 76deg,#3a9aff 84deg,#34a8fd 86deg,#15eaf1 90deg,#04f5de 92deg,#00e690 96deg,#00d861 98deg,#4dcc00 100deg,#fffc00 102deg,#ff8a00 106deg,#e83100 110deg,#dd2702 122deg,#fd6d00 138deg,#ffbb00 150deg,#ffbb00 152deg)"></i>
<i style="left:325.5px;top:415.5px;width:65px;height:65px;background:conic-gradient(#79d700 28deg,#82d900 32deg,#aee600 44deg,#a3e300 46deg,#18bf00 54deg,#03cb34 60deg,#00f3c6 68deg,#06f4e1 70deg,#15eaf1 72deg,#31aefc 76deg,#3c93ff 84deg,#38a0fe 86deg,#18e8f5 90deg,#07f3e2 92deg,#00e896 96deg,#00da66 98deg,#4acb00 100deg,#fffc00 102deg,#ff8a00 106deg,#e93500 110deg,#e12a01 122deg,#ff7200 138deg,#ffbf00 150deg,#ffbf00 152deg)"></i>
<i style="left:326.5px;top:416.5px;width:63px;height:63px;background:conic-gradient(#69d300 28deg,#71d500 32deg,#9fe200 44deg,#94de00 46deg,#2bc400 52deg,#12c007 54deg,#00cd3d 60deg,#00f6d0 68deg,#18e8f5 72deg,#2abffa 74deg,#35a6fd 76deg,#3d8eff 84deg,#3c97ff 86deg,#1cdef6 90deg,#0af1e5 92deg,#00f4c7 94deg,#00db6c 98deg,#47cb00 100deg,#fffc00 102deg,#ff8a00 106deg,#ea3800 110deg,#e52c00 122deg,#ff8400 140deg,#ffc200 150deg,#ffc200 152deg)"></i>
<i style="left:327.5px;top:417.5px;width:61px;height:61px;background:conic-gradient(#59cf00 28deg,#61d100 32deg,#91dd00 44deg,#84da00 46deg,#19bf00 52deg,#03cb33 58deg,#00d24c 60deg,#00f8da 68deg,#1cdef6 72deg,#2eb6fb 74deg,#399efe 76deg,#3d89ff 84deg,#3c91ff 86deg,#21d4f7 90deg,#0defe8 92deg,#00f5cd 94deg,#00dd71 98deg,#45ca00 100deg,#fffc00 102deg,#ff8a00 106deg,#eb3b00 110deg,#e73000 122deg,#ff7e00 138deg,#ffc600 150deg,#ffc600 152deg)"></i>
<i style="left:328.5px;top:418.5px;width:59px;height:59px;background:conic-gradient(#49cb00 28deg,#51cd00 32deg,#7fd900 44deg,#72d500 46deg,#2bc400 50deg,#12bf06 52deg,#00cd3b 58deg,#00f3c4 66deg,#04f5df 68deg,#12ecee 70deg,#21d4f7 72deg,#32adfc 74deg,#3c96ff 76deg,#3d84ff 84deg,#3d8cff 86deg,#25caf9 90deg,#10edec 92deg,#00f7d4 94deg,#00de76 98deg,#42ca00 100deg,#fffc00 102deg,#ff8a00 106deg,#ec3e00 110deg,#e93500 122deg,#ff8400 138deg,#ffc900 150deg,#ffc900 152deg)"></i>
<i style="left:329.5px;top:419.5px;width:57px;height:57px;background:conic-gradient(#39c700 28deg,#48cb00 34deg,#6dd400 44deg,#5fd100 46deg,#1abf00 50deg,#04ca31 56deg,#00d149 58deg,#00f5cf 66deg,#15eaf2 70deg,#36a4fd 74deg,#3c91ff 76deg,#3e7fff 84deg,#3d87ff 86deg,#389efe 88deg,#13ecef 92deg,#00f8da 94deg,#00e07b 98deg,#3fc900 100deg,#fffc00 102deg,#ff8a00 106deg,#ed4200 110deg,#ea3900 122deg,#ff7e00 136deg,#ffcc00 150deg,#ffcc00 152deg)"></i>
<i style="left:330.5px;top:420.5px;width:55px;height:55px;background:conic-gradient(#2ac300 28deg,#38c700 34deg,#5bd000 44deg,#4dcc00 46deg,#12bf06 50deg,#01cc3a 56deg,#00f8da 66deg,#19e5f5 70deg,#3a9bfe 74deg,#3d87ff 78deg,#3e7aff 84deg,#3d82ff 86deg,#3c96ff 88deg,#2eb6fb 90deg,#16eaf2 92deg,#03f6dd 94deg,#00e280 98deg,#3dc800 100deg,#fffc00 102deg,#ff8a00 106deg,#ef4500 110deg,#ec3d00 122deg,#ff8400 136deg,#ffd000 150deg,#ffd000 152deg)"></i>
<i style="left:331.5px;top:421.5px;width:53px;height:53px;background:conic-gradient(#1abf00 28deg,#2ec400 36deg,#49cb00 44deg,#3bc800 46deg,#19bf00 48deg,#00d048 56deg,#00f4c8 64deg,#11eded 68deg,#1edaf7 70deg,#3c93ff 74deg,#3e7eff 80deg,#3e76ff 84deg,#3e7dff 86deg,#32adfc 90deg,#19e6f5 92deg,#05f4e0 94deg,#00e386 98deg,#3ac800 100deg,#fffc00 102deg,#ff8a00 106deg,#f04800 110deg,#ed4200 122deg,#ff7f00 134deg,#ffd300 150deg,#ffd300 152deg)"></i>
<i style="left:332.5px;top:422.5px;width:51px;height:51px;background:conic-gradient(#12bf05 28deg,#1dc000 36deg,#36c700 44deg,#12c007 48deg,#01cc39 54deg,#00f7d4 64deg,#15eaf2 68deg,#3d8eff 74deg,#3e79ff 80deg,#3e71ff 84deg,#3e78ff 86deg,#36a3fd 90deg,#1dddf6 92deg,#08f3e3 94deg,#00f1bd 96deg,#00e58b 98deg,#37c700 100deg,#fffc00 102deg,#ff8a00 106deg,#f14c00 110deg,#ef4600 122deg,#ff9000 136deg,#ffd600 150deg,#ffd600 152deg)"></i>
<i style="left:333.5px;top:423.5px;width:49px;height:49px;background:conic-gradient(#10c10d 28deg,#18bf00 40deg,#24c200 44deg,#16bf00 46deg,#00d047 54deg,#00f3c4 62deg,#02f6dd 64deg,#19e5f5 68deg,#37a1fe 72deg,#3d89ff 74deg,#3e74ff 80deg,#3f6cff 84deg,#3e73ff 86deg,#3b99ff 90deg,#20d5f7 92deg,#0af1e6 94deg,#00f2c2 96deg,#00e690 98deg,#35c600 100deg,#fffc00 102deg,#ff8a00 106deg,#f24f00 110deg,#f14b00 122deg,#ff8b00 134deg,#ffda00 150deg,#ffda00 152deg)"></i>
<i style="left:334.5px;top:424.5px;width:47px;height:47px;background:conic-gradient(#0dc315 28deg,#14be01 44deg,#0cc419 48deg,#01cc3a 52deg,#00f6d1 62deg,#12ecef 66deg,#1fd8f7 68deg,#3c97ff 72deg,#3e78ff 76deg,#3f67ff 84deg,#3f6eff 86deg,#3c92ff 90deg,#24ccf8 92deg,#0defe9 94deg,#00f4c8 96deg,#00e895 98deg,#32c600 100deg,#fffc00 102deg,#ff8a00 106deg,#f35200 110deg,#f24f00 122deg,#ff9200 134deg,#ffdd00 150deg,#ffdd00 152deg)"></i>
<i style="left:335.5px;top:425.5px;width:45px;height:45px;background:conic-gradient(#0ac51d 28deg,#11c10a 44deg,#09c621 48deg,#00d148 52deg,#00f3c4 60deg,#02f7dc 62deg,#17e9f4 66deg,#3c91ff 72deg,#3e73ff 76deg,#3f62ff 84deg,#3e7aff 88deg,#3d8cff 90deg,#28c3fa 92deg,#10eeec 94deg,#00f5cd 96deg,#00e99a 98deg,#30c500 100deg,#fffc00 102deg,#ff8a00 106deg,#f45600 110deg,#f45300 122deg,#ff8c00 132deg,#ffe000 150deg,#ffe000 152deg)"></i>
<i style="left:336.5px;top:426.5px;width:43px;height:43px;background:conic-gradient(#08c725 28deg,#0ec313 44deg,#06c92a 48deg,#00cd3b 50deg,#00f6d2 60deg,#11eded 64deg,#1cdef6 66deg,#37a1fe 70deg,#3e79ff 74deg,#4061ff 82deg,#3f63ff 86deg,#3d86ff 90deg,#12ecef 94deg,#00f6d3 96deg,#00ea9f 98deg,#2dc400 100deg,#fffc00 102deg,#ff8a00 106deg,#f65900 110deg,#f55800 122deg,#ff9e00 134deg,#ffe300 150deg,#ffe300 152deg)"></i>
<i style="left:337.5px;top:427.5px;width:41px;height:41px;background:conic-gradient(#05c92d 28deg,#0ac51d 44deg,#03cb33 48deg,#02f6dd 60deg,#16e9f3 64deg,#3c96ff 70deg,#3f69ff 76deg,#4059fe 84deg,#405eff 86deg,#3d81ff 90deg,#30b1fc 92deg,#15eaf1 94deg,#00f8d8 96deg,#00eba3 98deg,#2ac400 100deg,#fffc00 102deg,#ff8a00 106deg,#f75c00 110deg,#f75c00 122deg,#ff9800 132deg,#ffd700 146deg,#ffe700 150deg,#ffe700 152deg)"></i>
<i style="left:338.5px;top:428.5px;width:39px;height:39px;background:conic-gradient(#00cd3b 28deg,#05c92d 44deg,#03cb33 46deg,#00d965 50deg,#00f7d4 58deg,#1be0f6 64deg,#3c91ff 70deg,#3f66ff 76deg,#4058fe 84deg,#405cff 86deg,#3e7dff 90deg,#32acfc 92deg,#16e9f3 94deg,#01f8db 96deg,#00eca6 98deg,#25c200 100deg,#ffff00 102deg,#ff8d00 106deg,#f86000 110deg,#f86000 122deg,#ffb500 136deg,#fff000 150deg,#fff000 152deg)"></i>
<i style="left:339.5px;top:429.5px;width:37px;height:37px;background:conic-gradient(#00d556 28deg,#00ce3e 44deg,#00d14a 46deg,#00f5cb 56deg,#0eefe9 60deg,#16e9f3 62deg,#3d8cff 70deg,#3f64ff 76deg,#405aff 86deg,#3e79ff 90deg,#35a7fd 92deg,#18e8f5 94deg,#02f7dc 96deg,#00eca8 98deg,#20c100 100deg,#f9fd00 102deg,#ffcc00 104deg,#ff8f00 106deg,#f96300 110deg,#f96300 122deg,#ffc400 138deg,#fffa00 150deg,#fffa00 152deg)"></i>
<i style="left:340.5px;top:430.5px;width:35px;height:35px;background:conic-gradient(#00dd72 28deg,#00d75e 44deg,#00db69 46deg,#01f7db 56deg,#1ddef6 62deg,#3c95ff 68deg,#4061ff 76deg,#4059fe 86deg,#3e76ff 90deg,#37a1fe 92deg,#1ae4f6 94deg,#03f6de 96deg,#00edab 98deg,#1bc000 100deg,#f3fb00 102deg,#ffcf00 104deg,#ff9200 106deg,#fb6700 110deg,#fb6700 122deg,#ffd400 140deg,#fffa00 148deg,#f7fc00 152deg)"></i>
<i style="left:341.5px;top:431.5px;width:33px;height:33px;background:conic-gradient(#00e68e 28deg,#00e17f 44deg,#00e489 46deg,#00f8da 54deg,#19e5f5 60deg,#3c8fff 68deg,#405fff 76deg,#4058fe 86deg,#3e72ff 90deg,#399cfe 92deg,#1cdff6 94deg,#04f5df 96deg,#00eead 98deg,#16bf00 100deg,#eefa00 102deg,#ffd100 104deg,#ff9500 106deg,#fc6a00 110deg,#fc6a00 122deg,#ffd000 138deg,#fff800 146deg,#f8fd00 148deg,#e5f700 150deg,#e5f700 152deg)"></i>
<i style="left:342.5px;top:432.5px;width:31px;height:31px;background:conic-gradient(#00eca8 28deg,#00ea9e 44deg,#00f0b8 48deg,#01f7db 52deg,#17e9f4 58deg,#3c95ff 66deg,#405cff 76deg,#4057fd 86deg,#3f6fff 90deg,#3c97ff 92deg,#1edbf7 94deg,#06f4e0 96deg,#00eeb0 98deg,#14be01 100deg,#e8f800 102deg,#ffd400 104deg,#ff9700 106deg,#fd6e00 110deg,#fd6e00 122deg,#ffe000 140deg,#fcfe00 146deg,#d2f100 150deg,#d2f100 152deg)"></i>
<i style="left:343.5px;top:433.5px;width:29px;height:29px;background:conic-gradient(#00f2c2 28deg,#00f1bb 44deg,#0af1e5 52deg,#17e9f4 56deg,#3c8eff 66deg,#405aff 76deg,#4056fd 86deg,#3f6bff 90deg,#3c93ff 92deg,#20d6f7 94deg,#07f3e2 96deg,#00efb3 98deg,#13bf04 100deg,#e2f600 102deg,#ffd700 104deg,#ff9a00 106deg,#fe7200 110deg,#fe7200 122deg,#ffe700 140deg,#fffe00 144deg,#c0ec00 150deg,#c0ec00 152deg)"></i>
<i style="left:344.5px;top:434.5px;width:27px;height:27px;background:conic-gradient(#00f8da 28deg,#02f7dc 46deg,#19e6f5 54deg,#3c92ff 64deg,#4059fe 76deg,#4055fc 86deg,#3f68ff 90deg,#3c90ff 92deg,#22d1f8 94deg,#08f2e3 96deg,#00efb5 98deg,#12c006 100deg,#ddf500 102deg,#ffd900 104deg,#ff9d00 106deg,#ff7500 110deg,#ff7500 122deg,#fff900 142deg,#f3fb00 144deg,#aee600 150deg,#aee600 152deg)"></i>
<i style="left:345.5px;top:435.5px;width:25px;height:25px;background:conic-gradient(#0bf1e6 28deg,#0defe9 46deg,#17e9f4 50deg,#3d8aff 64deg,#405aff 74deg,#4054fc 86deg,#3f64ff 90deg,#3d8dff 92deg,#24cdf8 94deg,#0af2e5 96deg,#00f0b8 98deg,#11c009 100deg,#d7f300 102deg,#ffdc00 104deg,#ffa000 106deg,#ff7a00 110deg,#ff7a00 122deg,#fdfe00 142deg,#9ce100 150deg,#9ce100 152deg)"></i>
<i style="left:346.5px;top:436.5px;width:23px;height:23px;background:conic-gradient(#15eaf1 28deg,#19e7f5 46deg,#3d8bff 62deg,#4059fe 74deg,#4054fb 86deg,#4060ff 90deg,#3d8aff 92deg,#26c8f9 94deg,#0bf1e6 96deg,#00f0ba 98deg,#10c10b 100deg,#d1f100 102deg,#ffdf00 104deg,#ffa200 106deg,#ff7e00 110deg,#ff7e00 122deg,#fffa00 140deg,#d6f200 144deg,#89db00 150deg,#89db00 152deg)"></i>
<i style="left:347.5px;top:437.5px;width:21px;height:21px;background:conic-gradient(#21d3f8 28deg,#27c5f9 46deg,#3c8fff 58deg,#4057fe 74deg,#4053fb 86deg,#405dff 90deg,#3d87ff 92deg,#28c4f9 94deg,#0cf0e8 96deg,#00f1bd 98deg,#0fc10e 100deg,#cbef00 102deg,#ffe100 104deg,#ffa500 106deg,#ff8200 110deg,#ff8200 122deg,#fdfe00 140deg,#72d500 150deg,#72d500 152deg)"></i>
<i style="left:348.5px;top:438.5px;width:19px;height:19px;background:conic-gradient(#2fb5fb 28deg,#36a3fd 46deg,#3f65ff 68deg,#4053fb 78deg,#4056fc 88deg,#405aff 90deg,#3d84ff 92deg,#2abffa 94deg,#0defe9 96deg,#00f2bf 98deg,#0fc210 100deg,#c6ee00 102deg,#ffe400 104deg,#ffa800 106deg,#ff8600 110deg,#ff8600 122deg,#fff800 138deg,#f1fb00 140deg,#7ed800 148deg,#5bd000 150deg,#5bd000 152deg)"></i>
<i style="left:349.5px;top:439.5px;width:17px;height:17px;background:conic-gradient(#3c96ff 28deg,#3e7cff 56deg,#4055fc 74deg,#4051fa 86deg,#4058fe 90deg,#3d81ff 92deg,#2cbbfb 94deg,#0feeeb 96deg,#00f2c2 98deg,#0ec313 100deg,#c0ec00 102deg,#ffe700 104deg,#ffab00 106deg,#ff8a00 110deg,#ff8a00 122deg,#fffe00 138deg,#8ddc00 146deg,#44ca00 150deg,#44ca00 152deg)"></i>
<i style="left:350.5px;top:440.5px;width:15px;height:15px;background:conic-gradient(#3c96ff 28deg,#3e7cff 56deg,#4055fc 74deg,#4051fa 86deg,#4058fe 90deg,#3d81ff 92deg,#2cbbfb 94deg,#0feeeb 96deg,#00f2c2 98deg,#0ec313 100deg,#c0ec00 102deg,#ffe700 104deg,#ffab00 106deg,#ff8a00 110deg,#ff8a00 122deg,#fffe00 138deg,#8ddc00 146deg,#44ca00 150deg,#44ca00 152deg)"></i>
<i style="left:351.5px;top:441.5px;width:13px;height:13px;background:conic-gradient(#3c96ff 28deg,#3e7cff 56deg,#4055fc 74deg,#4051fa 86deg,#4058fe 90deg,#3d81ff 92deg,#2cbbfb 94deg,#0feeeb 96deg,#00f2c2 98deg,#0ec313 100deg,#c0ec00 102deg,#ffe700 104deg,#ffab00 106deg,#ff8a00 110deg,#ff8a00 122deg,#fffe00 138deg,#8ddc00 146deg,#44ca00 150deg,#44ca00 152deg)"></i>
<i style="left:352.5px;top:442.5px;width:11px;height:11px;background:conic-gradient(#3c96ff 28deg,#3e7cff 56deg,#4055fc 74deg,#4051fa 86deg,#4058fe 90deg,#3d81ff 92deg,#2cbbfb 94deg,#0feeeb 96deg,#00f2c2 98deg,#0ec313 100deg,#c0ec00 102deg,#ffe700 104deg,#ffab00 106deg,#ff8a00 110deg,#ff8a00 122deg,#fffe00 138deg,#8ddc00 146deg,#44ca00 150deg,#44ca00 152deg)"></i>
<i style="left:353.5px;top:443.5px;width:9px;height:9px;background:conic-gradient(#3c96ff 28deg,#3e7cff 56deg,#4055fc 74deg,#4051fa 86deg,#4058fe 90deg,#3d81ff 92deg,#2cbbfb 94deg,#0feeeb 96deg,#00f2c2 98deg,#0ec313 100deg,#c0ec00 102deg,#ffe700 104deg,#ffab00 106deg,#ff8a00 110deg,#ff8a00 122deg,#fffe00 138deg,#8ddc00 146deg,#44ca00 150deg,#44ca00 152deg)"></i>
<i style="left:354.5px;top:444.5px;width:7px;height:7px;background:conic-gradient(#3c96ff 28deg,#3e7cff 56deg,#4055fc 74deg,#4051fa 86deg,#4058fe 90deg,#3d81ff 92deg,#2cbbfb 94deg,#0feeeb 96deg,#00f2c2 98deg,#0ec313 100deg,#c0ec00 102deg,#ffe700 104deg,#ffab00 106deg,#ff8a00 110deg,#ff8a00 122deg,#fffe00 138deg,#8ddc00 146deg,#44ca00 150deg,#44ca00 152deg)"></i>
<i style="left:355.5px;top:445.5px;width:5px;height:5px;background:conic-gradient(#3c96ff 28deg,#3e7cff 56deg,#4055fc 74deg,#4051fa 86deg,#4058fe 90deg,#3d81ff 92deg,#2cbbfb 94deg,#0feeeb 96deg,#00f2c2 98deg,#0ec313 100deg,#c0ec00 102deg,#ffe700 104deg,#ffab00 106deg,#ff8a00 110deg,#ff8a00 122deg,#fffe00 138deg,#8ddc00 146deg,#44ca00 150deg,#44ca00 152deg)"></i>
</div></div></div>
<div class="a" style="left:30px;top:102px;width:9px;height:162px;border:1px solid #fff;background:linear-gradient(to top,#343482 0%,#38389b 1.25%,#3c3cb4 2.5%,#3e3eca 3.75%,#3f3fdf 5%,#4043f2 6.25%,#4054fb 7.5%,#3e70ff 8.75%,#3c96ff 10%,#20d6f7 11.25%,#09f2e4 12.5%,#00f0ba 13.75%,#00e283 15%,#00d148 16.25%,#08c724 17.5%,#12c006 18.75%,#44ca00 20%,#80d900 21.25%,#b2e800 22.5%,#e2f600 23.75%,#fff500 25%,#ffdc00 26.25%,#ffc300 27.5%,#ffa600 28.75%,#ff8a00 30%,#fd6e00 31.25%,#f45500 32.5%,#eb3c00 33.75%,#dd2702 35%,#c61909 36.25%,#af0a0f 37.5%,#bc193c 38.75%,#c82869 40%,#d9458c 41.25%,#e962b0 42.5%,#f480ca 43.75%,#fa9ddf 45%,#ffb9f2 46.25%,#ffd3f9 47.5%,#ffecff 48.75%,#ffffff 50%,#f9f9f9 51.25%,#f2f2f2 52.5%,#ececec 53.75%,#e6e6e6 55%,#dfdfdf 56.25%,#d9d9d9 57.5%,#d3d3d3 58.75%,#cccccc 60%,#c6c6c6 61.25%,#c0c0c0 62.5%,#b9b9b9 63.75%,#b3b3b3 65%,#acacac 66.25%,#a6a6a6 67.5%,#a0a0a0 68.75%,#999999 70%,#939393 71.25%,#8d8d8d 72.5%,#868686 73.75%,#808080 75%,#7a7a7a 76.25%,#757575 77.5%,#6f6f6f 78.75%,#6a6a6a 80%,#646464 81.25%,#5e5e5e 82.5%,#595959 83.75%,#535353 85%,#4e4e4e 86.25%,#484848 87.5%,#424242 88.75%,#3d3d3d 90%,#373737 91.25%,#323232 92.5%,#2c2c2c 93.75%,#262626 95%,#212121 96.25%,#1b1b1b 97.5%,#161616 98.75%,#101010 100%);"></div>
<div class="a" style="left:30px;top:366px;width:9px;height:162px;border:1px solid #fff;background:linear-gradient(to top,#343482 0%,#38389b 1.25%,#3c3cb4 2.5%,#3e3eca 3.75%,#3f3fdf 5%,#4043f2 6.25%,#4054fb 7.5%,#3e70ff 8.75%,#3c96ff 10%,#20d6f7 11.25%,#09f2e4 12.5%,#00f0ba 13.75%,#00e283 15%,#00d148 16.25%,#08c724 17.5%,#12c006 18.75%,#44ca00 20%,#80d900 21.25%,#b2e800 22.5%,#e2f600 23.75%,#fff500 25%,#ffdc00 26.25%,#ffc300 27.5%,#ffa600 28.75%,#ff8a00 30%,#fd6e00 31.25%,#f45500 32.5%,#eb3c00 33.75%,#dd2702 35%,#c61909 36.25%,#af0a0f 37.5%,#bc193c 38.75%,#c82869 40%,#d9458c 41.25%,#e962b0 42.5%,#f480ca 43.75%,#fa9ddf 45%,#ffb9f2 46.25%,#ffd3f9 47.5%,#ffecff 48.75%,#ffffff 50%,#f9f9f9 51.25%,#f2f2f2 52.5%,#ececec 53.75%,#e6e6e6 55%,#dfdfdf 56.25%,#d9d9d9 57.5%,#d3d3d3 58.75%,#cccccc 60%,#c6c6c6 61.25%,#c0c0c0 62.5%,#b9b9b9 63.75%,#b3b3b3 65%,#acacac 66.25%,#a6a6a6 67.5%,#a0a0a0 68.75%,#999999 70%,#939393 71.25%,#8d8d8d 72.5%,#868686 73.75%,#808080 75%,#7a7a7a 76.25%,#757575 77.5%,#6f6f6f 78.75%,#6a6a6a 80%,#646464 81.25%,#5e5e5e 82.5%,#595959 83.75%,#535353 85%,#4e4e4e 86.25%,#484848 87.5%,#424242 88.75%,#3d3d3d 90%,#373737 91.25%,#323232 92.5%,#2c2c2c 93.75%,#262626 95%,#212121 96.25%,#1b1b1b 97.5%,#161616 98.75%,#101010 100%);"></div>
<div class="t" style="left:47px;top:94.8px;">60</div>
<div class="t" style="left:47px;top:135.55px;">45</div>
<div class="t" style="left:47px;top:176.3px;">30</div>
<div class="t" style="left:47px;top:217.05px;">15</div>
<div class="t" style="left:47px;top:257.8px;"><span style="margin-left:2.3px">0</span></div>
<div class="t" style="left:44.5px;top:358.8px;">1600</div>
<div class="t" style="left:44.5px;top:399.55px;">1250</div>
<div class="t" style="left:44.5px;top:440.3px;"><span style="margin-left:1px">900</span></div>
<div class="t" style="left:44.5px;top:481.05px;"><span style="margin-left:1px">550</span></div>
<div class="t" style="left:44.5px;top:521.8px;"><span style="margin-left:1px">200</span></div>
<div class="t c" style="left:-90.8px;top:176px;width:220px;transform:rotate(-90deg);">Plasma Density (r<sup>2</sup>N/cm<sup>3</sup>)</div>
<div class="t c" style="left:-90.8px;top:451.3px;width:220px;transform:rotate(-90deg);">Radial Velocity (km/s)</div>
<div class="a" style="left:42px;top:325.5px;width:8px;height:1px;background:#9a9a9a;"></div>
<svg class="a" style="left:0;top:0;" width="960" height="600" viewBox="0 0 960 600">
<circle cx="202" cy="184" r="72.5" fill="none" stroke="#000" stroke-opacity="0.34" stroke-width="0.85"/>
<path d="M394.25 121.21 A72.5 72.5 0 0 1 394.25 246.79" fill="none" stroke="#000" stroke-opacity="0.34" stroke-width="0.85"/>
<ellipse cx="204.5" cy="195.5" rx="11" ry="5.5" transform="rotate(-18 204.5 195.5)" fill="#20206a" fill-opacity="0.5"/>
<path d="M195.2 203.2Q206.5 205.5 218 193.8" fill="none" stroke="#101030" stroke-width="3.2" stroke-linecap="round"/>
<path d="M195.2 203.2Q206.5 205.5 218 193.8" fill="none" stroke="#30d060" stroke-width="1.7" stroke-linecap="round"/>
<path d="M195.6 203.8Q206.5 206.3 217.6 195" fill="none" stroke="#e05040" stroke-width="0.9" stroke-dasharray="2 3"/>
<path d="M196 202.6Q206 204.4 217 193.4" fill="none" stroke="#f0f0f0" stroke-width="0.8" stroke-dasharray="1.5 4" stroke-dashoffset="2"/>
<circle cx="202" cy="184" r="6.9" fill="#000"/><circle cx="202" cy="184" r="4.1" fill="#ffee10"/>
<circle cx="358" cy="184" r="6.6" fill="#000"/><circle cx="358" cy="184" r="4.0" fill="#ffee10"/>
<circle cx="274.6" cy="183.7" r="3.2" fill="#68e458" stroke="#000" stroke-width="1.3"/>
<circle cx="248.7" cy="130.3" r="3.2" fill="#f0806e" stroke="#000" stroke-width="1.3"/>
<circle cx="430.2" cy="177" r="3.2" fill="#68e458" stroke="#000" stroke-width="1.3"/>
<circle cx="202" cy="448" r="72.5" fill="none" stroke="#000" stroke-opacity="0.34" stroke-width="0.85"/>
<path d="M394.25 385.21 A72.5 72.5 0 0 1 394.25 510.79" fill="none" stroke="#000" stroke-opacity="0.34" stroke-width="0.85"/>
<path d="M207 453.2Q211.5 454 214 457" fill="none" stroke="#e8401c" stroke-width="2"/>
<path d="M196 462.3Q203 462.8 209 460.3Q214 457.8 216.3 454.4Q220.2 454.8 220.2 458.6Q217 464.8 211 467.6Q203 470.4 196.5 467.6Q193.4 465 196 462.3Z" fill="#fff4fb" stroke="#e0508c" stroke-width="1.4" stroke-linejoin="round"/>
<circle cx="202" cy="448" r="6.9" fill="#000"/><circle cx="202" cy="448" r="4.1" fill="#ffee10"/>
<circle cx="358" cy="448" r="6.6" fill="#000"/><circle cx="358" cy="448" r="4.0" fill="#ffee10"/>
<circle cx="274.6" cy="447.7" r="3.2" fill="#84e884" stroke="#000" stroke-width="1.3"/>
<circle cx="248.7" cy="394.3" r="3.2" fill="#d4607e" stroke="#000" stroke-width="1.3"/>
<circle cx="430.2" cy="441" r="3.2" fill="#84e884" stroke="#000" stroke-width="1.3"/>
</svg>
<svg class="a" style="left:0;top:0;font-family:'Liberation Sans', sans-serif;font-size:14px;" width="960" height="600" viewBox="0 0 960 600">
<polyline points="532.4,176.2 547.0,176.2 570.4,176.0 573.3,175.5 623.0,175.3 625.9,174.6 661.0,174.4 663.9,173.7 687.3,173.3 696.0,172.2 701.9,170.1 707.7,168.3 713.6,167.4 720.0,167.0 721.2,159.7 722.4,138.1 723.5,120.0 725.3,110.1 727.6,112.8 729.4,121.8 732.3,139.8 735.2,154.2 738.7,164.2 742.8,170.4 748.7,175.1 754.5,177.3 763.3,177.7 769.1,176.2 775.0,175.3 780.8,176.6 792.5,177.1 804.2,176.6 810.0,177.7 839.2,178.0 886.0,177.8 888.9,177.1 909.4,176.4 921.1,175.5 940.4,174.9" fill="none" stroke="#78e878" stroke-width="1.2" stroke-linejoin="round"/>
<rect x="532.5" y="91.25" width="408" height="90" fill="none" stroke="#fff" stroke-width="1"/>
<path d="M532.5 163.25h5M940.5 163.25h-5" stroke="#fff" stroke-width="1"/>
<path d="M532.5 145.25h5M940.5 145.25h-5" stroke="#fff" stroke-width="1"/>
<path d="M532.5 127.25h5M940.5 127.25h-5" stroke="#fff" stroke-width="1"/>
<path d="M532.5 109.25h5M940.5 109.25h-5" stroke="#fff" stroke-width="1"/>
<path d="M547.00 181.25v-5" stroke="#fff" stroke-width="1"/>
<path d="M605.45 181.25v-5" stroke="#fff" stroke-width="1"/>
<path d="M663.90 181.25v-5" stroke="#fff" stroke-width="1"/>
<path d="M722.35 181.25v-5" stroke="#fff" stroke-width="1"/>
<path d="M780.80 181.25v-5" stroke="#fff" stroke-width="1"/>
<path d="M839.25 181.25v-5" stroke="#fff" stroke-width="1"/>
<path d="M897.70 181.25v-5" stroke="#fff" stroke-width="1"/>
<text x="523" y="168.25" text-anchor="end" fill="#d6d6d6">10</text>
<text x="523" y="132.25" text-anchor="end" fill="#d6d6d6">30</text>
<text x="523" y="96.25" text-anchor="end" fill="#d6d6d6">50</text>
<path d="M547 90.25V181.75" stroke="#f4f040" stroke-width="2.2"/>
<circle cx="547" cy="176.21" r="2.6" fill="#e0dc40"/>
<text x="543.5" y="108.55" fill="#d6d6d6">EARTH</text>
<polyline points="532.4,278.6 617.1,278.6 620.1,279.3 627.7,279.3 628.8,278.6 699.0,278.6 701.9,277.9 707.7,277.9 709.5,278.8 711.8,278.8 713.6,278.0 769.1,278.0 772.0,277.5 798.3,277.3 801.3,276.6 827.6,276.2 850.9,275.5 874.3,274.6 897.7,273.5 921.1,272.4 940.4,271.4" fill="none" stroke="#d86464" stroke-width="1.2" stroke-linejoin="round"/>
<rect x="532.5" y="193.25" width="408" height="90" fill="none" stroke="#fff" stroke-width="1"/>
<path d="M532.5 265.25h5M940.5 265.25h-5" stroke="#fff" stroke-width="1"/>
<path d="M532.5 247.25h5M940.5 247.25h-5" stroke="#fff" stroke-width="1"/>
<path d="M532.5 229.25h5M940.5 229.25h-5" stroke="#fff" stroke-width="1"/>
<path d="M532.5 211.25h5M940.5 211.25h-5" stroke="#fff" stroke-width="1"/>
<path d="M547.00 283.25v-5" stroke="#fff" stroke-width="1"/>
<path d="M605.45 283.25v-5" stroke="#fff" stroke-width="1"/>
<path d="M663.90 283.25v-5" stroke="#fff" stroke-width="1"/>
<path d="M722.35 283.25v-5" stroke="#fff" stroke-width="1"/>
<path d="M780.80 283.25v-5" stroke="#fff" stroke-width="1"/>
<path d="M839.25 283.25v-5" stroke="#fff" stroke-width="1"/>
<path d="M897.70 283.25v-5" stroke="#fff" stroke-width="1"/>
<text x="523" y="270.25" text-anchor="end" fill="#d6d6d6">10</text>
<text x="523" y="234.25" text-anchor="end" fill="#d6d6d6">30</text>
<text x="523" y="198.25" text-anchor="end" fill="#d6d6d6">50</text>
<path d="M547 192.25V283.75" stroke="#f4f040" stroke-width="2.2"/>
<circle cx="547" cy="278.57" r="2.6" fill="#e0dc40"/>
<text x="543.5" y="210.55" fill="#d6d6d6">STEREO A</text>
<text x="547.00" y="300.05" text-anchor="middle" fill="#d6d6d6">04</text>
<text x="605.45" y="300.05" text-anchor="middle" fill="#d6d6d6">05</text>
<text x="663.90" y="300.05" text-anchor="middle" fill="#d6d6d6">06</text>
<text x="722.35" y="300.05" text-anchor="middle" fill="#d6d6d6">07</text>
<text x="780.80" y="300.05" text-anchor="middle" fill="#d6d6d6">08</text>
<text x="839.25" y="300.05" text-anchor="middle" fill="#d6d6d6">09</text>
<text x="897.70" y="300.05" text-anchor="middle" fill="#d6d6d6">10</text>
<polyline points="532.4,414.6 538.2,414.7 541.2,415.8 547.0,416.6 576.2,419.9 605.5,423.2 634.7,426.6 663.9,429.9 693.1,432.6 704.8,432.9 716.5,433.4 719.4,434.1 720.9,433.4 721.5,426.2 721.8,414.2 722.4,400.8 723.5,391.8 725.3,384.2 727.0,378.2 729.4,374.5 732.3,372.6 735.2,374.1 737.5,376.8 739.9,375.6 743.4,374.9 751.6,376.0 763.3,374.9 775.0,375.9 780.8,376.4 790.7,377.9 804.2,381.9 815.9,386.4 827.6,392.9 839.2,399.2 850.9,405.2 862.6,410.9 874.3,416.1 886.0,420.2 897.7,423.9 909.4,425.9 921.1,427.6 940.4,428.9" fill="none" stroke="#78e878" stroke-width="1.2" stroke-linejoin="round"/>
<rect x="532.5" y="354.25" width="408" height="90" fill="none" stroke="#fff" stroke-width="1"/>
<path d="M532.5 429.25h5M940.5 429.25h-5" stroke="#fff" stroke-width="1"/>
<path d="M532.5 414.25h5M940.5 414.25h-5" stroke="#fff" stroke-width="1"/>
<path d="M532.5 399.25h5M940.5 399.25h-5" stroke="#fff" stroke-width="1"/>
<path d="M532.5 384.25h5M940.5 384.25h-5" stroke="#fff" stroke-width="1"/>
<path d="M532.5 369.25h5M940.5 369.25h-5" stroke="#fff" stroke-width="1"/>
<path d="M547.00 444.25v-5" stroke="#fff" stroke-width="1"/>
<path d="M605.45 444.25v-5" stroke="#fff" stroke-width="1"/>
<path d="M663.90 444.25v-5" stroke="#fff" stroke-width="1"/>
<path d="M722.35 444.25v-5" stroke="#fff" stroke-width="1"/>
<path d="M780.80 444.25v-5" stroke="#fff" stroke-width="1"/>
<path d="M839.25 444.25v-5" stroke="#fff" stroke-width="1"/>
<path d="M897.70 444.25v-5" stroke="#fff" stroke-width="1"/>
<text x="523" y="434.25" text-anchor="end" fill="#d6d6d6">400</text>
<text x="523" y="404.25" text-anchor="end" fill="#d6d6d6">600</text>
<text x="523" y="374.25" text-anchor="end" fill="#d6d6d6">800</text>
<path d="M547 353.25V444.75" stroke="#f4f040" stroke-width="2.2"/>
<circle cx="547" cy="416.65" r="2.6" fill="#e0dc40"/>
<text x="543.5" y="371.55" fill="#d6d6d6">EARTH</text>
<polyline points="532.4,505.8 541.2,504.7 547.0,503.8 564.5,501.6 582.1,500.4 593.8,500.1 605.5,500.2 623.0,501.2 640.5,503.1 663.9,506.2 693.1,509.8 722.4,513.1 751.6,516.5 780.8,520.1 810.0,523.8 839.2,527.4 868.5,530.6 897.7,533.0 921.1,534.5 940.4,535.6" fill="none" stroke="#d86464" stroke-width="1.2" stroke-linejoin="round"/>
<rect x="532.5" y="456.25" width="408" height="90" fill="none" stroke="#fff" stroke-width="1"/>
<path d="M532.5 531.25h5M940.5 531.25h-5" stroke="#fff" stroke-width="1"/>
<path d="M532.5 516.25h5M940.5 516.25h-5" stroke="#fff" stroke-width="1"/>
<path d="M532.5 501.25h5M940.5 501.25h-5" stroke="#fff" stroke-width="1"/>
<path d="M532.5 486.25h5M940.5 486.25h-5" stroke="#fff" stroke-width="1"/>
<path d="M532.5 471.25h5M940.5 471.25h-5" stroke="#fff" stroke-width="1"/>
<path d="M547.00 546.25v-5" stroke="#fff" stroke-width="1"/>
<path d="M605.45 546.25v-5" stroke="#fff" stroke-width="1"/>
<path d="M663.90 546.25v-5" stroke="#fff" stroke-width="1"/>
<path d="M722.35 546.25v-5" stroke="#fff" stroke-width="1"/>
<path d="M780.80 546.25v-5" stroke="#fff" stroke-width="1"/>
<path d="M839.25 546.25v-5" stroke="#fff" stroke-width="1"/>
<path d="M897.70 546.25v-5" stroke="#fff" stroke-width="1"/>
<text x="523" y="536.25" text-anchor="end" fill="#d6d6d6">400</text>
<text x="523" y="506.25" text-anchor="end" fill="#d6d6d6">600</text>
<text x="523" y="476.25" text-anchor="end" fill="#d6d6d6">800</text>
<path d="M547 455.25V546.75" stroke="#f4f040" stroke-width="2.2"/>
<circle cx="547" cy="503.80" r="2.6" fill="#e0dc40"/>
<text x="543.5" y="473.55" fill="#d6d6d6">STEREO A</text>
<text x="547.00" y="563.05" text-anchor="middle" fill="#d6d6d6">04</text>
<text x="605.45" y="563.05" text-anchor="middle" fill="#d6d6d6">05</text>
<text x="663.90" y="563.05" text-anchor="middle" fill="#d6d6d6">06</text>
<text x="722.35" y="563.05" text-anchor="middle" fill="#d6d6d6">07</text>
<text x="780.80" y="563.05" text-anchor="middle" fill="#d6d6d6">08</text>
<text x="839.25" y="563.05" text-anchor="middle" fill="#d6d6d6">09</text>
<text x="897.70" y="563.05" text-anchor="middle" fill="#d6d6d6">10</text>
</svg>
<div class="t c" style="left:586.5px;width:300px;top:70.3px;font-size:14.5px;">Plasma Density (/cm<sup>3</sup>)</div>
<div class="t c" style="left:586.5px;width:300px;top:333px;font-size:14.5px;">Radial Velocity (km/s)</div>
<div class="t" style="left:3.5px;top:582.8px;font-size:14.5px;">Space Weather Prediction Center</div>
<div class="t" style="left:374px;top:582.8px;">Run Time: 2025-11-05 18:00Z  Mode: CME</div>
<div class="t r" style="right:3.2px;top:582.8px;">Image Created: 2025-11-05 19:28Z</div>
</div>
</body></html>
